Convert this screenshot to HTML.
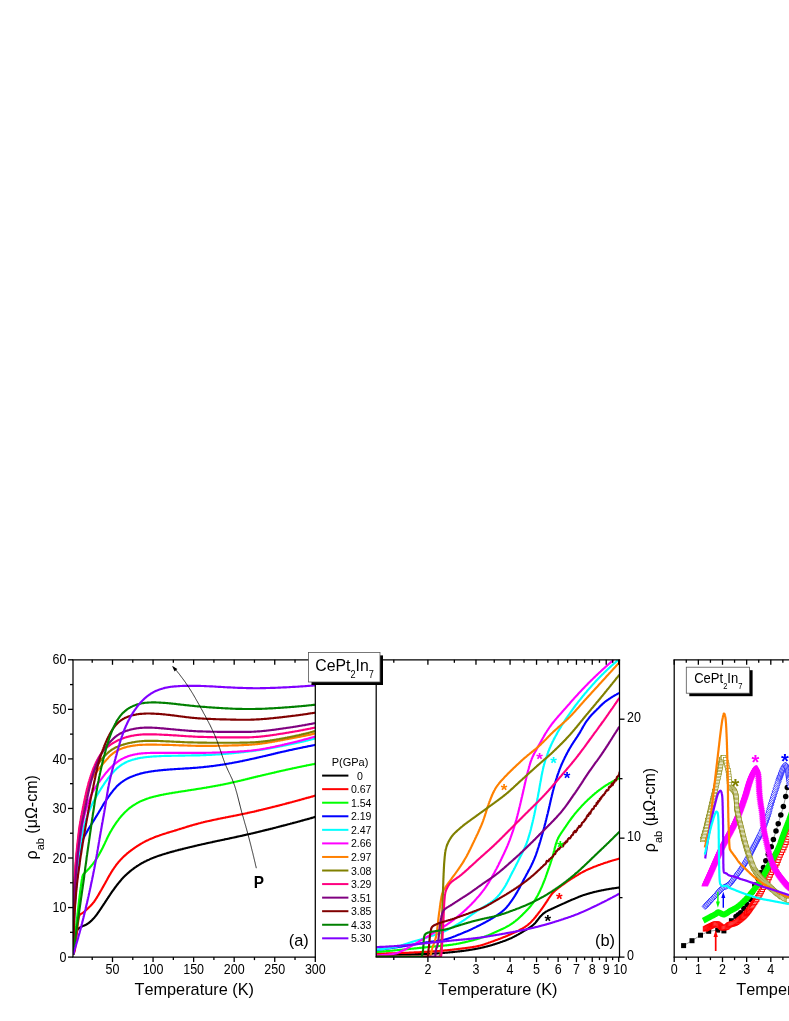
<!DOCTYPE html>
<html><head><meta charset="utf-8"><title>CePt2In7 resistivity</title>
<style>html,body{margin:0;padding:0;background:#fff;}svg{display:block;will-change:transform;}text{font-kerning:none;font-feature-settings:"kern" 0,"liga" 0;}</style></head>
<body>
<svg width="789" height="1021" viewBox="0 0 789 1021" font-family='"Liberation Sans", sans-serif'>
<rect x="0" y="0" width="789" height="1021" fill="#fff"/>
<defs><clipPath id="ca"><rect x="73" y="659.8" width="242.3" height="297.30000000000007"/></clipPath><clipPath id="cb"><rect x="376.2" y="659.8" width="243.3" height="297.30000000000007"/></clipPath><clipPath id="cc"><rect x="674.2" y="659.8" width="114.79999999999995" height="297.30000000000007"/></clipPath></defs>
<g clip-path="url(#ca)">
<path d="M73.2,954.5 L73.3,953.8 L73.5,953.2 L73.7,952.5 L73.8,951.8 L74.0,951.1 L74.1,950.4 L74.2,949.7 L74.3,949.0 L74.4,948.3 L74.5,947.6 L74.6,946.9 L74.7,946.2 L74.7,945.5 L74.8,944.8 L74.9,944.1 L75.0,943.4 L75.0,942.7 L75.1,942.0 L75.2,941.3 L75.3,940.6 L75.3,939.9 L75.4,939.2 L75.5,938.5 L75.6,937.8 L75.7,937.2 L75.8,936.5 L76.0,935.8 L76.1,935.1 L76.2,934.4 L76.4,933.6 L76.5,932.9 L76.7,932.2 L76.9,931.5 L77.1,930.8 L77.4,930.2 L77.6,929.7 L78.0,929.2 L78.4,928.7 L79.0,928.2 L79.6,927.8 L80.2,927.4 L80.9,927.0 L81.5,926.7 L82.1,926.4 L82.8,926.1 L83.4,925.8 L84.1,925.6 L84.8,925.3 L85.4,925.0 L86.0,924.7 L86.6,924.4 L87.2,924.0 L87.8,923.6 L88.4,923.2 L88.9,922.8 L89.5,922.3 L90.0,921.9 L90.5,921.4 L91.1,921.0 L91.6,920.5 L92.1,920.0 L92.5,919.5 L93.0,919.0 L93.5,918.5 L94.0,917.9 L94.5,917.4 L94.9,916.9 L95.4,916.3 L95.8,915.8 L96.2,915.2 L96.7,914.7 L97.1,914.1 L97.5,913.5 L97.9,913.0 L98.3,912.4 L98.7,911.8 L99.1,911.2 L99.5,910.7 L99.9,910.1 L100.3,909.5 L100.7,908.9 L101.1,908.3 L101.5,907.7 L101.8,907.2 L102.2,906.6 L102.6,906.0 L103.0,905.4 L103.4,904.8 L103.8,904.2 L104.2,903.6 L104.6,903.1 L104.9,902.5 L105.3,901.9 L105.7,901.3 L106.1,900.7 L106.5,900.1 L106.9,899.5 L107.2,898.9 L107.6,898.4 L108.0,897.8 L108.4,897.2 L108.8,896.6 L109.2,896.0 L109.6,895.4 L110.0,894.8 L110.3,894.3 L110.7,893.7 L111.1,893.1 L111.5,892.5 L111.9,892.0 L112.3,891.4 L112.7,890.8 L113.1,890.2 L113.6,889.7 L114.0,889.1 L114.4,888.5 L114.8,888.0 L115.2,887.4 L115.6,886.8 L116.1,886.2 L116.5,885.7 L116.9,885.1 L117.4,884.5 L117.8,884.0 L118.3,883.4 L118.7,882.9 L119.2,882.3 L119.6,881.8 L120.1,881.2 L120.5,880.7 L121.0,880.2 L121.4,879.6 L121.9,879.1 L122.4,878.6 L122.8,878.1 L123.3,877.6 L123.8,877.1 L124.3,876.6 L124.8,876.1 L125.2,875.6 L125.7,875.2 L126.2,874.7 L126.7,874.2 L127.2,873.8 L127.7,873.3 L128.3,872.8 L128.8,872.4 L129.3,871.9 L129.9,871.5 L130.4,871.0 L131.0,870.6 L131.5,870.1 L132.1,869.7 L132.6,869.3 L133.2,868.9 L133.8,868.4 L134.4,868.0 L134.9,867.6 L135.5,867.2 L136.1,866.8 L136.6,866.4 L137.2,866.0 L137.8,865.7 L138.4,865.3 L139.0,864.9 L139.6,864.6 L140.1,864.2 L140.7,863.8 L141.3,863.5 L141.9,863.1 L142.6,862.8 L143.2,862.5 L143.8,862.1 L144.4,861.8 L145.0,861.5 L145.7,861.2 L146.3,860.9 L146.9,860.5 L147.6,860.2 L148.2,859.9 L148.8,859.7 L149.5,859.4 L150.1,859.1 L150.8,858.8 L151.4,858.5 L152.1,858.3 L152.7,858.0 L153.4,857.8 L154.0,857.5 L154.7,857.3 L155.3,857.0 L156.0,856.8 L156.6,856.5 L157.3,856.3 L157.9,856.1 L158.6,855.8 L159.3,855.6 L159.9,855.4 L160.6,855.2 L161.3,854.9 L161.9,854.7 L162.6,854.5 L163.3,854.3 L164.0,854.1 L164.6,853.9 L165.3,853.7 L166.0,853.5 L166.6,853.3 L167.3,853.1 L168.0,852.9 L168.7,852.7 L169.3,852.5 L170.0,852.3 L170.7,852.1 L171.4,851.9 L172.0,851.8 L172.7,851.6 L173.4,851.4 L174.1,851.2 L174.8,851.0 L175.4,850.8 L176.1,850.6 L176.8,850.5 L177.5,850.3 L178.1,850.1 L178.8,849.9 L179.5,849.8 L180.2,849.6 L180.9,849.4 L181.5,849.2 L182.2,849.1 L182.9,848.9 L183.6,848.7 L184.3,848.5 L184.9,848.4 L185.6,848.2 L186.3,848.0 L187.0,847.9 L187.7,847.7 L188.4,847.5 L189.0,847.4 L189.7,847.2 L190.4,847.0 L191.1,846.9 L191.8,846.7 L192.5,846.6 L193.1,846.4 L193.8,846.2 L194.5,846.1 L195.2,845.9 L195.9,845.8 L196.6,845.6 L197.2,845.4 L197.9,845.3 L198.6,845.1 L199.3,845.0 L200.0,844.8 L200.7,844.7 L201.3,844.5 L202.0,844.3 L202.7,844.2 L203.4,844.0 L204.1,843.9 L204.8,843.7 L205.5,843.6 L206.1,843.4 L206.8,843.3 L207.5,843.1 L208.2,843.0 L208.9,842.8 L209.6,842.7 L210.3,842.5 L210.9,842.4 L211.6,842.2 L212.3,842.1 L213.0,841.9 L213.7,841.8 L214.4,841.6 L215.1,841.5 L215.7,841.3 L216.4,841.2 L217.1,841.0 L217.8,840.9 L218.5,840.8 L219.2,840.6 L219.9,840.5 L220.6,840.3 L221.2,840.2 L221.9,840.0 L222.6,839.9 L223.3,839.7 L224.0,839.6 L224.7,839.4 L225.4,839.3 L226.1,839.1 L226.7,839.0 L227.4,838.9 L228.1,838.7 L228.8,838.6 L229.5,838.4 L230.2,838.3 L230.9,838.1 L231.6,838.0 L232.2,837.8 L232.9,837.7 L233.6,837.5 L234.3,837.4 L235.0,837.2 L235.7,837.1 L236.4,836.9 L237.0,836.8 L237.7,836.6 L238.4,836.5 L239.1,836.3 L239.8,836.2 L240.5,836.0 L241.2,835.9 L241.8,835.7 L242.5,835.6 L243.2,835.4 L243.9,835.3 L244.6,835.1 L245.3,835.0 L245.9,834.8 L246.6,834.6 L247.3,834.5 L248.0,834.3 L248.7,834.2 L249.4,834.0 L250.1,833.9 L250.7,833.7 L251.4,833.5 L252.1,833.4 L252.8,833.2 L253.5,833.1 L254.1,832.9 L254.8,832.7 L255.5,832.6 L256.2,832.4 L256.9,832.2 L257.6,832.1 L258.2,831.9 L258.9,831.7 L259.6,831.6 L260.3,831.4 L261.0,831.3 L261.7,831.1 L262.3,830.9 L263.0,830.8 L263.7,830.6 L264.4,830.4 L265.1,830.3 L265.7,830.1 L266.4,829.9 L267.1,829.7 L267.8,829.6 L268.5,829.4 L269.2,829.2 L269.8,829.1 L270.5,828.9 L271.2,828.7 L271.9,828.6 L272.6,828.4 L273.2,828.2 L273.9,828.0 L274.6,827.9 L275.3,827.7 L276.0,827.5 L276.6,827.3 L277.3,827.2 L278.0,827.0 L278.7,826.8 L279.4,826.6 L280.0,826.5 L280.7,826.3 L281.4,826.1 L282.1,825.9 L282.8,825.8 L283.4,825.6 L284.1,825.4 L284.8,825.2 L285.5,825.1 L286.1,824.9 L286.8,824.7 L287.5,824.5 L288.2,824.3 L288.8,824.2 L289.5,824.0 L290.2,823.8 L290.8,823.6 L291.5,823.5 L292.2,823.3 L292.8,823.1 L293.5,822.9 L294.1,822.8 L294.8,822.6 L295.4,822.4 L296.0,822.2 L296.7,822.1 L297.3,821.9 L297.9,821.7 L298.6,821.5 L299.3,821.4 L300.0,821.2 L300.7,821.0 L301.4,820.8 L302.1,820.6 L302.8,820.4 L303.5,820.2 L304.2,820.0 L304.9,819.8 L305.6,819.6 L306.3,819.5 L307.0,819.3 L307.7,819.1 L308.4,818.9 L309.1,818.7 L309.8,818.5 L310.5,818.3 L311.2,818.1 L311.9,817.9 L312.6,817.7 L313.2,817.5 L313.9,817.3 L314.6,817.1 L315.3,816.9" fill="none" stroke="#000000" stroke-width="2.15" stroke-linejoin="round" stroke-linecap="butt" />
<path d="M73.2,954.5 L73.5,953.9 L73.8,953.3 L74.1,952.6 L74.4,952.0 L74.6,951.3 L74.8,950.6 L74.9,950.0 L75.0,949.3 L75.1,948.6 L75.2,947.9 L75.3,947.2 L75.4,946.5 L75.5,945.8 L75.6,945.1 L75.7,944.4 L75.7,943.7 L75.8,943.0 L75.9,942.3 L75.9,941.6 L76.0,940.9 L76.1,940.2 L76.1,939.5 L76.2,938.8 L76.3,938.1 L76.4,937.4 L76.4,936.7 L76.5,936.0 L76.6,935.3 L76.7,934.6 L76.7,933.9 L76.8,933.2 L76.9,932.5 L77.0,931.8 L77.0,931.1 L77.1,930.4 L77.2,929.7 L77.2,929.0 L77.3,928.3 L77.4,927.6 L77.5,926.9 L77.5,926.2 L77.6,925.5 L77.7,924.8 L77.8,924.1 L77.9,923.4 L78.0,922.7 L78.1,922.0 L78.2,921.3 L78.3,920.6 L78.4,919.9 L78.5,919.2 L78.6,918.5 L78.8,917.7 L78.9,917.0 L79.1,916.3 L79.3,915.7 L79.5,915.2 L79.9,914.7 L80.4,914.3 L81.0,913.9 L81.7,913.5 L82.4,913.1 L83.0,912.7 L83.6,912.3 L84.1,911.8 L84.7,911.4 L85.2,910.9 L85.7,910.4 L86.2,909.9 L86.7,909.4 L87.3,909.0 L87.8,908.5 L88.3,908.0 L88.8,907.5 L89.3,907.0 L89.9,906.5 L90.4,906.0 L90.8,905.5 L91.3,905.0 L91.8,904.5 L92.2,904.0 L92.7,903.5 L93.1,902.9 L93.5,902.4 L94.0,901.9 L94.4,901.3 L94.8,900.7 L95.2,900.2 L95.5,899.6 L95.9,899.0 L96.3,898.4 L96.7,897.8 L97.1,897.2 L97.4,896.6 L97.8,896.0 L98.2,895.4 L98.5,894.8 L98.9,894.2 L99.2,893.6 L99.6,892.9 L99.9,892.3 L100.3,891.7 L100.6,891.1 L101.0,890.5 L101.4,889.8 L101.7,889.2 L102.1,888.6 L102.4,888.0 L102.8,887.4 L103.1,886.8 L103.4,886.2 L103.8,885.6 L104.1,884.9 L104.5,884.3 L104.8,883.7 L105.2,883.1 L105.5,882.5 L105.8,881.9 L106.2,881.2 L106.5,880.6 L106.9,880.0 L107.2,879.4 L107.5,878.8 L107.9,878.2 L108.2,877.5 L108.6,876.9 L108.9,876.3 L109.3,875.7 L109.6,875.1 L110.0,874.5 L110.3,873.9 L110.7,873.3 L111.0,872.7 L111.4,872.1 L111.8,871.5 L112.2,870.9 L112.5,870.3 L112.9,869.7 L113.3,869.2 L113.7,868.6 L114.1,868.0 L114.5,867.4 L114.9,866.8 L115.3,866.3 L115.7,865.7 L116.1,865.1 L116.6,864.6 L117.0,864.0 L117.4,863.4 L117.9,862.9 L118.3,862.3 L118.8,861.8 L119.2,861.3 L119.7,860.7 L120.2,860.2 L120.6,859.7 L121.1,859.2 L121.6,858.7 L122.1,858.2 L122.5,857.7 L123.0,857.2 L123.5,856.8 L124.0,856.3 L124.5,855.8 L125.1,855.3 L125.6,854.9 L126.1,854.4 L126.6,853.9 L127.2,853.5 L127.7,853.0 L128.3,852.6 L128.8,852.2 L129.4,851.7 L129.9,851.3 L130.5,850.9 L131.0,850.4 L131.6,850.0 L132.2,849.6 L132.7,849.2 L133.3,848.8 L133.9,848.4 L134.5,848.0 L135.0,847.6 L135.6,847.2 L136.2,846.8 L136.8,846.4 L137.4,846.0 L138.0,845.6 L138.6,845.3 L139.2,844.9 L139.8,844.5 L140.4,844.1 L141.0,843.8 L141.6,843.4 L142.2,843.1 L142.8,842.7 L143.4,842.4 L144.0,842.1 L144.6,841.7 L145.2,841.4 L145.9,841.1 L146.5,840.8 L147.1,840.5 L147.7,840.2 L148.4,839.9 L149.0,839.6 L149.6,839.3 L150.3,839.0 L150.9,838.7 L151.6,838.4 L152.2,838.2 L152.9,837.9 L153.5,837.7 L154.1,837.4 L154.8,837.1 L155.4,836.9 L156.1,836.6 L156.7,836.4 L157.4,836.2 L158.1,835.9 L158.7,835.7 L159.4,835.5 L160.0,835.2 L160.7,835.0 L161.4,834.8 L162.0,834.6 L162.7,834.3 L163.4,834.1 L164.0,833.9 L164.7,833.7 L165.4,833.5 L166.1,833.3 L166.7,833.1 L167.4,832.8 L168.1,832.6 L168.8,832.4 L169.4,832.2 L170.1,832.0 L170.8,831.8 L171.5,831.6 L172.1,831.4 L172.8,831.2 L173.5,831.0 L174.2,830.8 L174.8,830.6 L175.5,830.4 L176.2,830.2 L176.9,829.9 L177.5,829.7 L178.2,829.5 L178.9,829.3 L179.5,829.1 L180.2,828.9 L180.9,828.7 L181.6,828.5 L182.2,828.3 L182.9,828.1 L183.6,827.9 L184.3,827.7 L184.9,827.5 L185.6,827.3 L186.3,827.0 L186.9,826.8 L187.6,826.6 L188.3,826.4 L189.0,826.2 L189.6,826.0 L190.3,825.8 L191.0,825.6 L191.7,825.4 L192.3,825.2 L193.0,825.0 L193.7,824.8 L194.4,824.6 L195.0,824.5 L195.7,824.3 L196.4,824.1 L197.1,823.9 L197.7,823.7 L198.4,823.5 L199.1,823.3 L199.8,823.2 L200.5,823.0 L201.1,822.8 L201.8,822.6 L202.5,822.5 L203.2,822.3 L203.8,822.1 L204.5,822.0 L205.2,821.8 L205.9,821.6 L206.6,821.5 L207.2,821.3 L207.9,821.2 L208.6,821.0 L209.3,820.9 L210.0,820.7 L210.7,820.6 L211.4,820.4 L212.0,820.2 L212.7,820.1 L213.4,820.0 L214.1,819.8 L214.8,819.7 L215.5,819.5 L216.2,819.4 L216.9,819.2 L217.5,819.1 L218.2,818.9 L218.9,818.8 L219.6,818.7 L220.3,818.5 L221.0,818.4 L221.7,818.3 L222.4,818.1 L223.1,818.0 L223.8,817.8 L224.4,817.7 L225.1,817.6 L225.8,817.4 L226.5,817.3 L227.2,817.2 L227.9,817.0 L228.6,816.9 L229.3,816.8 L230.0,816.6 L230.7,816.5 L231.4,816.3 L232.1,816.2 L232.7,816.1 L233.4,815.9 L234.1,815.8 L234.8,815.7 L235.5,815.5 L236.2,815.4 L236.9,815.2 L237.6,815.1 L238.3,815.0 L239.0,814.8 L239.7,814.7 L240.3,814.5 L241.0,814.4 L241.7,814.3 L242.4,814.1 L243.1,814.0 L243.8,813.8 L244.5,813.7 L245.2,813.5 L245.8,813.4 L246.5,813.2 L247.2,813.1 L247.9,812.9 L248.6,812.8 L249.3,812.6 L250.0,812.5 L250.6,812.3 L251.3,812.2 L252.0,812.0 L252.7,811.9 L253.4,811.7 L254.1,811.6 L254.8,811.4 L255.4,811.2 L256.1,811.1 L256.8,810.9 L257.5,810.8 L258.2,810.6 L258.9,810.4 L259.5,810.3 L260.2,810.1 L260.9,810.0 L261.6,809.8 L262.3,809.6 L263.0,809.5 L263.6,809.3 L264.3,809.1 L265.0,809.0 L265.7,808.8 L266.4,808.6 L267.1,808.5 L267.7,808.3 L268.4,808.1 L269.1,808.0 L269.8,807.8 L270.5,807.6 L271.1,807.5 L271.8,807.3 L272.5,807.1 L273.2,806.9 L273.9,806.8 L274.6,806.6 L275.2,806.4 L275.9,806.3 L276.6,806.1 L277.3,805.9 L278.0,805.7 L278.6,805.6 L279.3,805.4 L280.0,805.2 L280.7,805.0 L281.4,804.9 L282.0,804.7 L282.7,804.5 L283.4,804.3 L284.1,804.2 L284.8,804.0 L285.4,803.8 L286.1,803.6 L286.8,803.4 L287.5,803.3 L288.1,803.1 L288.8,802.9 L289.5,802.7 L290.2,802.5 L290.8,802.4 L291.5,802.2 L292.2,802.0 L292.8,801.8 L293.5,801.7 L294.1,801.5 L294.8,801.3 L295.4,801.1 L296.0,801.0 L296.7,800.8 L297.3,800.6 L297.9,800.5 L298.6,800.3 L299.3,800.1 L300.0,799.9 L300.7,799.7 L301.4,799.5 L302.1,799.3 L302.8,799.1 L303.5,798.9 L304.2,798.7 L304.9,798.5 L305.6,798.3 L306.3,798.1 L307.0,797.9 L307.7,797.8 L308.4,797.6 L309.1,797.4 L309.8,797.2 L310.5,797.0 L311.2,796.8 L311.9,796.6 L312.6,796.4 L313.2,796.2 L313.9,796.0 L314.6,795.8 L315.3,795.6" fill="none" stroke="#ff0000" stroke-width="2.15" stroke-linejoin="round" stroke-linecap="butt" />
<path d="M73.2,954.5 L73.2,953.8 L73.3,953.1 L73.4,952.4 L73.4,951.7 L73.5,951.0 L73.6,950.3 L73.6,949.6 L73.7,948.9 L73.8,948.2 L73.9,947.5 L73.9,946.8 L74.0,946.1 L74.1,945.4 L74.1,944.7 L74.2,944.0 L74.3,943.3 L74.4,942.6 L74.4,941.9 L74.5,941.2 L74.6,940.5 L74.7,939.9 L74.7,939.2 L74.8,938.5 L74.9,937.8 L75.0,937.1 L75.0,936.4 L75.1,935.7 L75.2,935.0 L75.3,934.3 L75.3,933.6 L75.4,932.9 L75.5,932.2 L75.6,931.5 L75.6,930.8 L75.7,930.1 L75.8,929.4 L75.9,928.7 L75.9,928.0 L76.0,927.3 L76.1,926.6 L76.2,925.9 L76.3,925.2 L76.3,924.5 L76.4,923.8 L76.5,923.1 L76.6,922.4 L76.6,921.7 L76.7,921.0 L76.8,920.3 L76.9,919.6 L77.0,918.9 L77.0,918.2 L77.1,917.5 L77.2,916.8 L77.3,916.1 L77.4,915.4 L77.5,914.7 L77.5,914.0 L77.6,913.3 L77.7,912.6 L77.8,911.9 L77.9,911.3 L77.9,910.6 L78.0,909.9 L78.1,909.2 L78.2,908.5 L78.3,907.8 L78.3,907.1 L78.4,906.4 L78.5,905.7 L78.6,905.0 L78.6,904.3 L78.7,903.6 L78.8,902.9 L78.9,902.2 L79.0,901.5 L79.0,900.8 L79.1,900.1 L79.2,899.4 L79.3,898.7 L79.4,898.0 L79.5,897.3 L79.5,896.6 L79.6,895.9 L79.7,895.2 L79.8,894.5 L79.9,893.8 L80.0,893.1 L80.1,892.4 L80.1,891.7 L80.2,891.0 L80.3,890.3 L80.4,889.6 L80.5,888.9 L80.6,888.2 L80.7,887.5 L80.8,886.9 L80.9,886.2 L81.0,885.5 L81.1,884.8 L81.2,884.1 L81.3,883.4 L81.4,882.7 L81.5,882.0 L81.6,881.3 L81.7,880.6 L81.8,879.9 L81.9,879.2 L82.1,878.5 L82.2,877.8 L82.3,877.1 L82.5,876.4 L82.7,875.8 L82.9,875.2 L83.2,874.6 L83.7,874.1 L84.1,873.6 L84.7,873.0 L85.2,872.5 L85.7,872.0 L86.2,871.5 L86.7,870.9 L87.2,870.4 L87.7,869.9 L88.1,869.4 L88.6,868.9 L89.1,868.4 L89.6,867.9 L90.0,867.3 L90.5,866.8 L90.9,866.3 L91.4,865.7 L91.8,865.2 L92.3,864.6 L92.7,864.1 L93.1,863.5 L93.6,863.0 L94.0,862.4 L94.4,861.8 L94.8,861.3 L95.2,860.7 L95.6,860.1 L96.0,859.5 L96.4,858.9 L96.7,858.4 L97.1,857.8 L97.5,857.2 L97.8,856.6 L98.2,856.0 L98.6,855.4 L98.9,854.8 L99.3,854.1 L99.6,853.5 L100.0,852.9 L100.3,852.3 L100.6,851.7 L101.0,851.1 L101.3,850.4 L101.6,849.8 L101.9,849.2 L102.3,848.6 L102.6,847.9 L102.9,847.3 L103.2,846.7 L103.5,846.1 L103.8,845.4 L104.1,844.8 L104.4,844.2 L104.7,843.5 L105.0,842.9 L105.3,842.2 L105.6,841.6 L105.9,841.0 L106.2,840.3 L106.5,839.7 L106.8,839.0 L107.1,838.4 L107.4,837.8 L107.7,837.1 L108.0,836.5 L108.3,835.9 L108.6,835.3 L109.0,834.7 L109.3,834.0 L109.6,833.4 L109.9,832.8 L110.3,832.2 L110.6,831.6 L111.0,831.0 L111.3,830.4 L111.7,829.8 L112.0,829.2 L112.4,828.6 L112.8,828.0 L113.2,827.4 L113.5,826.8 L113.9,826.2 L114.3,825.6 L114.7,825.0 L115.1,824.4 L115.5,823.8 L115.9,823.2 L116.3,822.6 L116.7,822.0 L117.1,821.5 L117.6,820.9 L118.0,820.3 L118.4,819.8 L118.8,819.2 L119.2,818.7 L119.7,818.1 L120.1,817.6 L120.5,817.1 L121.0,816.5 L121.4,816.0 L121.9,815.5 L122.3,815.0 L122.8,814.5 L123.3,814.0 L123.7,813.5 L124.2,813.0 L124.7,812.5 L125.2,812.0 L125.7,811.5 L126.3,811.0 L126.8,810.5 L127.3,810.0 L127.9,809.5 L128.4,809.1 L128.9,808.6 L129.5,808.2 L130.0,807.7 L130.6,807.3 L131.2,806.9 L131.7,806.5 L132.3,806.1 L132.9,805.7 L133.4,805.3 L134.0,805.0 L134.6,804.6 L135.1,804.3 L135.7,803.9 L136.3,803.6 L136.9,803.2 L137.5,802.9 L138.1,802.6 L138.7,802.3 L139.3,801.9 L139.9,801.6 L140.5,801.3 L141.2,801.0 L141.8,800.7 L142.5,800.5 L143.1,800.2 L143.8,799.9 L144.4,799.7 L145.1,799.4 L145.8,799.2 L146.4,798.9 L147.1,798.7 L147.7,798.5 L148.4,798.3 L149.0,798.1 L149.7,797.8 L150.4,797.6 L151.0,797.5 L151.7,797.3 L152.4,797.1 L153.0,796.9 L153.7,796.7 L154.4,796.5 L155.1,796.4 L155.8,796.2 L156.5,796.0 L157.1,795.9 L157.8,795.7 L158.5,795.6 L159.2,795.4 L159.9,795.3 L160.6,795.1 L161.3,795.0 L162.0,794.8 L162.6,794.7 L163.3,794.6 L164.0,794.4 L164.7,794.3 L165.4,794.2 L166.1,794.0 L166.8,793.9 L167.5,793.8 L168.2,793.7 L168.9,793.5 L169.5,793.4 L170.2,793.3 L170.9,793.2 L171.6,793.1 L172.3,792.9 L173.0,792.8 L173.7,792.7 L174.4,792.6 L175.1,792.5 L175.8,792.4 L176.5,792.3 L177.2,792.2 L177.9,792.1 L178.5,791.9 L179.2,791.8 L179.9,791.7 L180.6,791.6 L181.3,791.5 L182.0,791.4 L182.7,791.3 L183.4,791.2 L184.1,791.1 L184.8,791.0 L185.5,790.9 L186.2,790.8 L186.9,790.7 L187.6,790.5 L188.3,790.4 L189.0,790.3 L189.6,790.2 L190.3,790.1 L191.0,790.0 L191.7,789.9 L192.4,789.8 L193.1,789.7 L193.8,789.6 L194.5,789.5 L195.2,789.4 L195.9,789.3 L196.6,789.1 L197.3,789.0 L198.0,788.9 L198.7,788.8 L199.4,788.7 L200.0,788.6 L200.7,788.5 L201.4,788.4 L202.1,788.2 L202.8,788.1 L203.5,788.0 L204.2,787.9 L204.9,787.8 L205.6,787.7 L206.3,787.6 L207.0,787.4 L207.7,787.3 L208.4,787.2 L209.0,787.1 L209.7,787.0 L210.4,786.8 L211.1,786.7 L211.8,786.6 L212.5,786.5 L213.2,786.3 L213.9,786.2 L214.6,786.1 L215.3,786.0 L216.0,785.8 L216.7,785.7 L217.3,785.6 L218.0,785.5 L218.7,785.3 L219.4,785.2 L220.1,785.1 L220.8,784.9 L221.5,784.8 L222.2,784.7 L222.9,784.5 L223.5,784.4 L224.2,784.2 L224.9,784.1 L225.6,784.0 L226.3,783.8 L227.0,783.7 L227.7,783.5 L228.3,783.4 L229.0,783.2 L229.7,783.1 L230.4,782.9 L231.1,782.8 L231.8,782.6 L232.4,782.5 L233.1,782.3 L233.8,782.2 L234.5,782.0 L235.2,781.8 L235.9,781.7 L236.5,781.5 L237.2,781.4 L237.9,781.2 L238.6,781.0 L239.3,780.9 L240.0,780.7 L240.7,780.6 L241.3,780.4 L242.0,780.2 L242.7,780.1 L243.4,779.9 L244.1,779.7 L244.8,779.6 L245.4,779.4 L246.1,779.2 L246.8,779.1 L247.5,778.9 L248.2,778.7 L248.8,778.6 L249.5,778.4 L250.2,778.3 L250.9,778.1 L251.6,777.9 L252.3,777.8 L252.9,777.6 L253.6,777.4 L254.3,777.3 L255.0,777.1 L255.7,776.9 L256.4,776.8 L257.0,776.6 L257.7,776.4 L258.4,776.3 L259.1,776.1 L259.8,776.0 L260.5,775.8 L261.1,775.6 L261.8,775.5 L262.5,775.3 L263.2,775.1 L263.9,775.0 L264.5,774.8 L265.2,774.7 L265.9,774.5 L266.6,774.3 L267.3,774.2 L268.0,774.0 L268.6,773.8 L269.3,773.7 L270.0,773.5 L270.7,773.4 L271.4,773.2 L272.1,773.0 L272.7,772.9 L273.4,772.7 L274.1,772.6 L274.8,772.4 L275.5,772.2 L276.2,772.1 L276.8,771.9 L277.5,771.8 L278.2,771.6 L278.9,771.5 L279.6,771.3 L280.3,771.1 L281.0,771.0 L281.6,770.8 L282.3,770.7 L283.0,770.5 L283.7,770.4 L284.4,770.2 L285.1,770.1 L285.7,769.9 L286.4,769.8 L287.1,769.6 L287.8,769.5 L288.5,769.3 L289.1,769.2 L289.8,769.0 L290.5,768.9 L291.2,768.7 L291.8,768.6 L292.5,768.4 L293.1,768.3 L293.8,768.2 L294.5,768.0 L295.1,767.9 L295.7,767.7 L296.4,767.6 L297.0,767.5 L297.7,767.3 L298.4,767.2 L299.1,767.0 L299.8,766.9 L300.5,766.7 L301.2,766.6 L301.9,766.5 L302.6,766.3 L303.3,766.2 L304.0,766.0 L304.7,765.9 L305.4,765.7 L306.1,765.6 L306.8,765.4 L307.5,765.3 L308.3,765.2 L309.0,765.0 L309.7,764.9 L310.4,764.7 L311.1,764.6 L311.8,764.5 L312.5,764.3 L313.2,764.2 L313.9,764.1 L314.6,763.9 L315.3,763.8" fill="none" stroke="#00ff00" stroke-width="2.15" stroke-linejoin="round" stroke-linecap="butt" />
<path d="M73.2,954.5 L73.2,953.8 L73.2,953.1 L73.2,952.4 L73.2,951.7 L73.2,951.0 L73.2,950.3 L73.2,949.6 L73.2,948.9 L73.2,948.2 L73.2,947.5 L73.3,946.8 L73.3,946.1 L73.3,945.4 L73.3,944.7 L73.3,944.0 L73.3,943.3 L73.3,942.6 L73.4,941.9 L73.4,941.2 L73.4,940.5 L73.4,939.8 L73.4,939.1 L73.5,938.4 L73.5,937.7 L73.5,937.0 L73.5,936.3 L73.5,935.6 L73.6,934.9 L73.6,934.2 L73.6,933.5 L73.6,932.8 L73.6,932.1 L73.7,931.4 L73.7,930.7 L73.7,930.0 L73.7,929.3 L73.8,928.6 L73.8,927.9 L73.8,927.2 L73.8,926.5 L73.9,925.8 L73.9,925.1 L73.9,924.4 L73.9,923.7 L74.0,923.0 L74.0,922.3 L74.0,921.6 L74.0,920.9 L74.1,920.2 L74.1,919.5 L74.1,918.8 L74.2,918.1 L74.2,917.4 L74.2,916.7 L74.3,915.9 L74.3,915.2 L74.3,914.5 L74.4,913.8 L74.4,913.1 L74.4,912.4 L74.5,911.7 L74.5,911.0 L74.6,910.3 L74.6,909.6 L74.6,908.9 L74.7,908.2 L74.7,907.5 L74.8,906.8 L74.8,906.1 L74.9,905.4 L74.9,904.7 L75.0,904.0 L75.0,903.3 L75.1,902.6 L75.1,901.9 L75.2,901.2 L75.2,900.5 L75.3,899.8 L75.3,899.1 L75.4,898.4 L75.4,897.7 L75.5,897.0 L75.5,896.3 L75.6,895.6 L75.6,894.9 L75.7,894.2 L75.7,893.5 L75.8,892.8 L75.9,892.1 L75.9,891.4 L76.0,890.7 L76.0,890.0 L76.1,889.3 L76.1,888.6 L76.2,887.9 L76.3,887.3 L76.3,886.6 L76.4,885.9 L76.4,885.2 L76.5,884.5 L76.5,883.8 L76.6,883.1 L76.7,882.4 L76.7,881.7 L76.8,881.0 L76.9,880.3 L76.9,879.6 L77.0,878.9 L77.0,878.2 L77.1,877.5 L77.2,876.8 L77.2,876.1 L77.3,875.4 L77.4,874.7 L77.4,874.0 L77.5,873.3 L77.6,872.6 L77.7,871.9 L77.7,871.2 L77.8,870.5 L77.9,869.8 L78.0,869.1 L78.0,868.4 L78.1,867.7 L78.2,867.0 L78.3,866.3 L78.3,865.6 L78.4,864.9 L78.5,864.2 L78.6,863.5 L78.7,862.8 L78.8,862.1 L78.8,861.4 L78.9,860.7 L79.0,860.0 L79.1,859.3 L79.2,858.6 L79.3,857.9 L79.4,857.2 L79.5,856.5 L79.6,855.8 L79.7,855.2 L79.8,854.5 L79.9,853.8 L80.0,853.1 L80.1,852.4 L80.2,851.7 L80.3,851.0 L80.4,850.3 L80.5,849.6 L80.7,848.9 L80.8,848.2 L80.9,847.5 L81.0,846.8 L81.2,846.1 L81.3,845.4 L81.5,844.7 L81.6,844.1 L81.8,843.4 L82.0,842.7 L82.1,842.0 L82.3,841.4 L82.5,840.7 L82.7,840.1 L83.0,839.4 L83.2,838.8 L83.5,838.1 L83.8,837.5 L84.2,836.9 L84.5,836.2 L84.8,835.6 L85.2,835.0 L85.5,834.4 L85.8,833.7 L86.2,833.1 L86.5,832.5 L86.9,831.9 L87.2,831.3 L87.5,830.7 L87.9,830.1 L88.2,829.5 L88.6,828.9 L88.9,828.3 L89.3,827.7 L89.7,827.1 L90.0,826.5 L90.4,825.9 L90.8,825.3 L91.1,824.7 L91.5,824.1 L91.9,823.5 L92.3,822.9 L92.6,822.3 L93.0,821.7 L93.4,821.1 L93.8,820.5 L94.1,819.9 L94.5,819.3 L94.9,818.7 L95.2,818.1 L95.6,817.5 L96.0,816.9 L96.3,816.3 L96.7,815.7 L97.1,815.1 L97.4,814.5 L97.8,813.9 L98.2,813.3 L98.5,812.7 L98.9,812.1 L99.2,811.5 L99.6,810.9 L100.0,810.3 L100.3,809.7 L100.7,809.1 L101.0,808.5 L101.4,807.9 L101.8,807.2 L102.1,806.6 L102.5,806.0 L102.8,805.4 L103.2,804.8 L103.6,804.2 L103.9,803.6 L104.3,803.0 L104.7,802.4 L105.1,801.8 L105.5,801.3 L105.8,800.7 L106.2,800.1 L106.6,799.5 L107.0,798.9 L107.4,798.4 L107.8,797.8 L108.2,797.2 L108.6,796.7 L109.0,796.1 L109.4,795.6 L109.8,795.0 L110.2,794.4 L110.6,793.9 L111.0,793.3 L111.5,792.7 L111.9,792.2 L112.4,791.6 L112.8,791.0 L113.3,790.4 L113.7,789.9 L114.2,789.3 L114.7,788.8 L115.2,788.2 L115.7,787.7 L116.1,787.2 L116.6,786.6 L117.1,786.1 L117.6,785.6 L118.1,785.2 L118.6,784.7 L119.1,784.2 L119.6,783.8 L120.2,783.4 L120.7,782.9 L121.2,782.5 L121.7,782.1 L122.2,781.8 L122.8,781.4 L123.3,781.0 L123.9,780.6 L124.4,780.3 L125.0,779.9 L125.6,779.6 L126.2,779.2 L126.8,778.9 L127.5,778.5 L128.1,778.2 L128.7,777.9 L129.4,777.6 L130.0,777.3 L130.7,777.0 L131.3,776.7 L132.0,776.5 L132.6,776.2 L133.3,776.0 L133.9,775.7 L134.6,775.5 L135.2,775.3 L135.9,775.0 L136.5,774.8 L137.2,774.6 L137.8,774.4 L138.5,774.2 L139.2,774.0 L139.8,773.8 L140.5,773.6 L141.2,773.4 L141.9,773.3 L142.6,773.1 L143.2,772.9 L143.9,772.8 L144.6,772.6 L145.3,772.5 L146.0,772.3 L146.7,772.2 L147.4,772.1 L148.0,772.0 L148.7,771.8 L149.4,771.7 L150.1,771.6 L150.8,771.5 L151.5,771.4 L152.2,771.3 L152.9,771.2 L153.6,771.1 L154.3,771.0 L155.0,770.9 L155.7,770.8 L156.3,770.7 L157.0,770.7 L157.7,770.6 L158.4,770.5 L159.1,770.4 L159.8,770.3 L160.5,770.3 L161.2,770.2 L161.9,770.1 L162.6,770.1 L163.3,770.0 L164.0,769.9 L164.7,769.9 L165.4,769.8 L166.1,769.8 L166.8,769.7 L167.5,769.6 L168.2,769.6 L168.9,769.5 L169.6,769.5 L170.3,769.4 L171.0,769.4 L171.7,769.3 L172.4,769.3 L173.1,769.2 L173.8,769.2 L174.5,769.1 L175.2,769.1 L175.9,769.0 L176.6,769.0 L177.3,769.0 L178.0,768.9 L178.7,768.9 L179.4,768.8 L180.1,768.8 L180.8,768.7 L181.5,768.7 L182.2,768.7 L182.9,768.6 L183.6,768.6 L184.3,768.5 L185.0,768.5 L185.7,768.4 L186.4,768.4 L187.1,768.4 L187.8,768.3 L188.5,768.3 L189.2,768.2 L189.9,768.2 L190.6,768.1 L191.3,768.1 L192.0,768.0 L192.7,768.0 L193.4,767.9 L194.1,767.9 L194.8,767.8 L195.5,767.8 L196.2,767.7 L196.9,767.7 L197.6,767.6 L198.3,767.5 L199.0,767.5 L199.7,767.4 L200.4,767.3 L201.1,767.3 L201.8,767.2 L202.5,767.2 L203.2,767.1 L203.9,767.0 L204.6,766.9 L205.3,766.9 L206.0,766.8 L206.7,766.7 L207.4,766.6 L208.1,766.6 L208.8,766.5 L209.5,766.4 L210.2,766.3 L210.9,766.2 L211.6,766.1 L212.3,766.1 L213.0,766.0 L213.7,765.9 L214.3,765.8 L215.0,765.7 L215.7,765.6 L216.4,765.5 L217.1,765.4 L217.8,765.3 L218.5,765.2 L219.2,765.1 L219.9,765.0 L220.6,764.9 L221.3,764.8 L222.0,764.7 L222.7,764.6 L223.4,764.5 L224.1,764.4 L224.8,764.2 L225.4,764.1 L226.1,764.0 L226.8,763.9 L227.5,763.8 L228.2,763.7 L228.9,763.5 L229.6,763.4 L230.3,763.3 L231.0,763.2 L231.7,763.1 L232.3,762.9 L233.0,762.8 L233.7,762.7 L234.4,762.5 L235.1,762.4 L235.8,762.3 L236.5,762.2 L237.2,762.0 L237.9,761.9 L238.6,761.7 L239.2,761.6 L239.9,761.5 L240.6,761.3 L241.3,761.2 L242.0,761.1 L242.7,760.9 L243.4,760.8 L244.1,760.6 L244.7,760.5 L245.4,760.3 L246.1,760.2 L246.8,760.0 L247.5,759.9 L248.2,759.7 L248.9,759.6 L249.5,759.4 L250.2,759.3 L250.9,759.1 L251.6,759.0 L252.3,758.8 L253.0,758.7 L253.7,758.5 L254.3,758.4 L255.0,758.2 L255.7,758.1 L256.4,757.9 L257.1,757.8 L257.8,757.6 L258.4,757.5 L259.1,757.3 L259.8,757.1 L260.5,757.0 L261.2,756.8 L261.9,756.7 L262.5,756.5 L263.2,756.3 L263.9,756.2 L264.6,756.0 L265.3,755.9 L266.0,755.7 L266.6,755.5 L267.3,755.4 L268.0,755.2 L268.7,755.0 L269.4,754.9 L270.1,754.7 L270.7,754.6 L271.4,754.4 L272.1,754.2 L272.8,754.1 L273.5,753.9 L274.2,753.7 L274.8,753.6 L275.5,753.4 L276.2,753.3 L276.9,753.1 L277.6,752.9 L278.2,752.8 L278.9,752.6 L279.6,752.5 L280.3,752.3 L281.0,752.1 L281.7,752.0 L282.3,751.8 L283.0,751.7 L283.7,751.5 L284.4,751.4 L285.1,751.2 L285.8,751.1 L286.4,750.9 L287.1,750.7 L287.8,750.6 L288.5,750.4 L289.2,750.3 L289.8,750.1 L290.5,750.0 L291.2,749.9 L291.8,749.7 L292.5,749.6 L293.2,749.4 L293.8,749.3 L294.5,749.1 L295.1,749.0 L295.7,748.9 L296.4,748.7 L297.0,748.6 L297.7,748.5 L298.4,748.3 L299.1,748.2 L299.8,748.0 L300.5,747.9 L301.2,747.7 L301.9,747.6 L302.6,747.4 L303.3,747.3 L304.0,747.1 L304.7,747.0 L305.4,746.9 L306.1,746.7 L306.8,746.6 L307.6,746.4 L308.3,746.3 L309.0,746.1 L309.7,746.0 L310.4,745.9 L311.1,745.7 L311.8,745.6 L312.5,745.5 L313.2,745.3 L313.9,745.2 L314.6,745.0 L315.3,744.9" fill="none" stroke="#0000ff" stroke-width="2.15" stroke-linejoin="round" stroke-linecap="butt" />
<path d="M73.2,954.5 L73.2,953.8 L73.2,953.1 L73.2,952.4 L73.2,951.7 L73.2,951.0 L73.2,950.3 L73.2,949.6 L73.2,948.9 L73.2,948.2 L73.2,947.5 L73.2,946.8 L73.2,946.1 L73.3,945.4 L73.3,944.7 L73.3,944.0 L73.3,943.3 L73.3,942.6 L73.3,941.9 L73.3,941.2 L73.3,940.5 L73.4,939.8 L73.4,939.1 L73.4,938.4 L73.4,937.7 L73.4,937.0 L73.4,936.3 L73.5,935.6 L73.5,934.9 L73.5,934.1 L73.5,933.4 L73.5,932.7 L73.6,932.0 L73.6,931.3 L73.6,930.6 L73.6,929.9 L73.6,929.2 L73.7,928.5 L73.7,927.8 L73.7,927.1 L73.7,926.4 L73.7,925.7 L73.8,925.0 L73.8,924.3 L73.8,923.6 L73.8,922.9 L73.8,922.2 L73.9,921.5 L73.9,920.8 L73.9,920.1 L73.9,919.4 L74.0,918.7 L74.0,918.0 L74.0,917.3 L74.0,916.6 L74.1,915.9 L74.1,915.2 L74.1,914.5 L74.1,913.8 L74.2,913.1 L74.2,912.4 L74.2,911.7 L74.3,911.0 L74.3,910.3 L74.3,909.6 L74.4,908.9 L74.4,908.2 L74.4,907.5 L74.5,906.8 L74.5,906.1 L74.5,905.4 L74.6,904.7 L74.6,904.0 L74.7,903.3 L74.7,902.6 L74.7,901.9 L74.8,901.2 L74.8,900.5 L74.9,899.8 L74.9,899.1 L74.9,898.4 L75.0,897.7 L75.0,897.0 L75.1,896.3 L75.1,895.6 L75.2,894.8 L75.2,894.1 L75.3,893.4 L75.3,892.7 L75.4,892.0 L75.4,891.3 L75.5,890.6 L75.5,889.9 L75.6,889.2 L75.6,888.5 L75.7,887.8 L75.7,887.1 L75.8,886.4 L75.8,885.7 L75.9,885.0 L75.9,884.3 L76.0,883.7 L76.0,883.0 L76.1,882.2 L76.1,881.5 L76.2,880.8 L76.3,880.1 L76.3,879.4 L76.4,878.7 L76.4,878.0 L76.5,877.3 L76.6,876.6 L76.6,875.9 L76.7,875.2 L76.7,874.5 L76.8,873.8 L76.9,873.1 L76.9,872.4 L77.0,871.7 L77.1,871.0 L77.2,870.3 L77.2,869.6 L77.3,868.9 L77.4,868.2 L77.4,867.5 L77.5,866.8 L77.6,866.1 L77.7,865.4 L77.7,864.7 L77.8,864.0 L77.9,863.3 L78.0,862.6 L78.1,861.9 L78.1,861.2 L78.2,860.5 L78.3,859.8 L78.4,859.1 L78.5,858.4 L78.6,857.7 L78.7,857.0 L78.8,856.3 L78.8,855.6 L78.9,854.9 L79.0,854.2 L79.1,853.5 L79.2,852.8 L79.3,852.1 L79.4,851.4 L79.5,850.7 L79.6,850.0 L79.7,849.3 L79.8,848.6 L79.9,847.9 L80.0,847.2 L80.1,846.5 L80.2,845.9 L80.3,845.2 L80.4,844.5 L80.6,843.8 L80.7,843.1 L80.8,842.4 L80.9,841.7 L81.0,841.0 L81.1,840.3 L81.2,839.6 L81.4,839.0 L81.5,838.3 L81.6,837.6 L81.7,836.9 L81.9,836.2 L82.0,835.5 L82.1,834.8 L82.2,834.2 L82.4,833.5 L82.5,832.8 L82.6,832.1 L82.8,831.4 L82.9,830.7 L83.1,830.1 L83.2,829.4 L83.4,828.7 L83.6,828.0 L83.7,827.3 L83.9,826.7 L84.1,826.0 L84.3,825.3 L84.5,824.6 L84.7,823.9 L84.9,823.3 L85.1,822.6 L85.3,821.9 L85.5,821.2 L85.8,820.6 L86.0,819.9 L86.2,819.2 L86.4,818.6 L86.7,817.9 L86.9,817.2 L87.1,816.6 L87.4,815.9 L87.6,815.2 L87.9,814.6 L88.1,813.9 L88.4,813.2 L88.6,812.6 L88.9,811.9 L89.1,811.3 L89.4,810.6 L89.7,810.0 L89.9,809.3 L90.2,808.7 L90.5,808.1 L90.7,807.4 L91.0,806.8 L91.3,806.2 L91.6,805.5 L91.9,804.9 L92.2,804.3 L92.5,803.6 L92.8,803.0 L93.1,802.4 L93.4,801.8 L93.7,801.1 L94.1,800.5 L94.4,799.9 L94.7,799.3 L95.1,798.6 L95.4,798.0 L95.8,797.4 L96.1,796.8 L96.5,796.2 L96.8,795.6 L97.2,794.9 L97.6,794.3 L97.9,793.7 L98.3,793.1 L98.7,792.5 L99.0,791.9 L99.4,791.3 L99.8,790.7 L100.2,790.1 L100.5,789.5 L100.9,788.9 L101.3,788.3 L101.7,787.7 L102.0,787.2 L102.4,786.6 L102.8,786.0 L103.2,785.4 L103.6,784.8 L103.9,784.3 L104.3,783.7 L104.7,783.1 L105.1,782.5 L105.5,781.9 L105.9,781.3 L106.4,780.7 L106.8,780.2 L107.2,779.6 L107.6,779.0 L108.0,778.4 L108.5,777.8 L108.9,777.3 L109.3,776.7 L109.8,776.1 L110.2,775.6 L110.7,775.0 L111.1,774.5 L111.6,773.9 L112.0,773.4 L112.5,772.9 L113.0,772.4 L113.4,771.9 L113.9,771.4 L114.4,770.9 L114.8,770.4 L115.3,770.0 L115.8,769.5 L116.3,769.1 L116.8,768.6 L117.3,768.1 L117.9,767.7 L118.4,767.2 L119.0,766.8 L119.5,766.3 L120.1,765.9 L120.7,765.5 L121.3,765.0 L121.9,764.6 L122.5,764.2 L123.1,763.9 L123.7,763.5 L124.3,763.2 L125.0,762.8 L125.6,762.5 L126.2,762.2 L126.8,761.9 L127.4,761.6 L128.0,761.4 L128.6,761.1 L129.2,760.9 L129.8,760.7 L130.5,760.5 L131.1,760.2 L131.8,760.0 L132.4,759.8 L133.1,759.6 L133.8,759.5 L134.5,759.3 L135.1,759.1 L135.8,758.9 L136.5,758.7 L137.2,758.6 L137.9,758.4 L138.6,758.3 L139.3,758.1 L139.9,758.0 L140.6,757.9 L141.3,757.8 L142.0,757.7 L142.7,757.6 L143.4,757.5 L144.0,757.4 L144.7,757.3 L145.4,757.2 L146.1,757.1 L146.8,757.0 L147.5,757.0 L148.2,756.9 L148.9,756.8 L149.6,756.8 L150.3,756.7 L151.0,756.6 L151.7,756.6 L152.4,756.5 L153.1,756.5 L153.8,756.4 L154.5,756.4 L155.2,756.3 L155.9,756.3 L156.6,756.3 L157.3,756.2 L158.0,756.2 L158.7,756.2 L159.4,756.1 L160.1,756.1 L160.9,756.1 L161.6,756.0 L162.3,756.0 L163.0,756.0 L163.7,756.0 L164.4,755.9 L165.1,755.9 L165.8,755.9 L166.5,755.9 L167.2,755.9 L167.9,755.8 L168.6,755.8 L169.3,755.8 L170.0,755.8 L170.7,755.8 L171.4,755.8 L172.1,755.7 L172.8,755.7 L173.5,755.7 L174.2,755.7 L174.9,755.7 L175.6,755.7 L176.3,755.7 L177.0,755.7 L177.7,755.7 L178.4,755.6 L179.1,755.6 L179.8,755.6 L180.5,755.6 L181.2,755.6 L181.9,755.6 L182.6,755.6 L183.3,755.6 L184.0,755.6 L184.7,755.6 L185.4,755.5 L186.1,755.5 L186.8,755.5 L187.5,755.5 L188.2,755.5 L188.9,755.5 L189.6,755.5 L190.3,755.5 L191.0,755.5 L191.8,755.4 L192.5,755.4 L193.2,755.4 L193.9,755.4 L194.6,755.4 L195.3,755.4 L196.0,755.4 L196.7,755.3 L197.4,755.3 L198.1,755.3 L198.8,755.3 L199.5,755.3 L200.2,755.3 L200.9,755.2 L201.6,755.2 L202.3,755.2 L203.0,755.2 L203.7,755.1 L204.4,755.1 L205.1,755.1 L205.8,755.1 L206.5,755.0 L207.2,755.0 L207.9,755.0 L208.6,754.9 L209.3,754.9 L210.0,754.9 L210.7,754.8 L211.4,754.8 L212.1,754.8 L212.8,754.7 L213.5,754.7 L214.2,754.6 L214.9,754.6 L215.6,754.5 L216.3,754.5 L217.0,754.5 L217.7,754.4 L218.4,754.4 L219.1,754.3 L219.8,754.3 L220.5,754.2 L221.2,754.2 L221.9,754.1 L222.6,754.0 L223.3,754.0 L224.0,753.9 L224.7,753.9 L225.4,753.8 L226.1,753.8 L226.8,753.7 L227.5,753.6 L228.2,753.6 L228.9,753.5 L229.6,753.5 L230.3,753.4 L231.0,753.3 L231.7,753.3 L232.4,753.2 L233.1,753.1 L233.8,753.1 L234.5,753.0 L235.2,752.9 L235.9,752.9 L236.6,752.8 L237.3,752.7 L238.0,752.6 L238.7,752.6 L239.4,752.5 L240.1,752.4 L240.8,752.4 L241.5,752.3 L242.2,752.2 L242.9,752.1 L243.6,752.1 L244.3,752.0 L245.0,751.9 L245.7,751.8 L246.4,751.7 L247.1,751.7 L247.8,751.6 L248.5,751.5 L249.2,751.4 L249.9,751.3 L250.6,751.2 L251.3,751.2 L252.0,751.1 L252.6,751.0 L253.3,750.9 L254.0,750.8 L254.7,750.7 L255.4,750.6 L256.1,750.5 L256.8,750.4 L257.5,750.3 L258.2,750.2 L258.9,750.1 L259.6,750.0 L260.3,749.9 L261.0,749.8 L261.7,749.7 L262.4,749.6 L263.1,749.5 L263.8,749.4 L264.4,749.2 L265.1,749.1 L265.8,749.0 L266.5,748.9 L267.2,748.8 L267.9,748.7 L268.6,748.5 L269.3,748.4 L270.0,748.3 L270.7,748.2 L271.4,748.0 L272.1,747.9 L272.8,747.8 L273.5,747.7 L274.2,747.5 L274.8,747.4 L275.5,747.3 L276.2,747.1 L276.9,747.0 L277.6,746.9 L278.3,746.7 L279.0,746.6 L279.7,746.5 L280.4,746.3 L281.1,746.2 L281.7,746.1 L282.4,745.9 L283.1,745.8 L283.8,745.7 L284.5,745.5 L285.2,745.4 L285.9,745.2 L286.5,745.1 L287.2,745.0 L287.9,744.8 L288.6,744.7 L289.3,744.5 L289.9,744.4 L290.6,744.2 L291.3,744.1 L292.0,744.0 L292.6,743.8 L293.3,743.7 L293.9,743.5 L294.6,743.4 L295.2,743.2 L295.9,743.1 L296.5,743.0 L297.1,742.8 L297.8,742.7 L298.5,742.5 L299.2,742.4 L299.9,742.2 L300.6,742.0 L301.3,741.9 L302.0,741.7 L302.7,741.6 L303.4,741.4 L304.1,741.2 L304.8,741.1 L305.5,740.9 L306.2,740.7 L306.9,740.6 L307.6,740.4 L308.3,740.2 L309.0,740.0 L309.7,739.9 L310.4,739.7 L311.1,739.5 L311.8,739.3 L312.5,739.2 L313.2,739.0 L313.9,738.8 L314.6,738.6 L315.3,738.5" fill="none" stroke="#00ffff" stroke-width="2.15" stroke-linejoin="round" stroke-linecap="butt" />
<path d="M73.2,954.5 L73.2,953.8 L73.2,953.1 L73.2,952.4 L73.2,951.7 L73.2,951.0 L73.2,950.3 L73.2,949.6 L73.2,948.9 L73.2,948.2 L73.2,947.5 L73.2,946.8 L73.2,946.1 L73.2,945.4 L73.2,944.7 L73.2,944.0 L73.3,943.3 L73.3,942.6 L73.3,941.9 L73.3,941.2 L73.3,940.5 L73.3,939.8 L73.3,939.1 L73.3,938.4 L73.3,937.7 L73.4,937.0 L73.4,936.3 L73.4,935.6 L73.4,934.9 L73.4,934.2 L73.4,933.5 L73.4,932.8 L73.5,932.1 L73.5,931.4 L73.5,930.7 L73.5,930.0 L73.5,929.3 L73.5,928.6 L73.6,927.9 L73.6,927.2 L73.6,926.5 L73.6,925.8 L73.6,925.1 L73.6,924.4 L73.7,923.7 L73.7,923.0 L73.7,922.3 L73.7,921.6 L73.7,920.9 L73.7,920.2 L73.8,919.5 L73.8,918.8 L73.8,918.1 L73.8,917.3 L73.8,916.6 L73.9,915.9 L73.9,915.2 L73.9,914.5 L73.9,913.8 L74.0,913.1 L74.0,912.4 L74.0,911.7 L74.0,911.0 L74.1,910.3 L74.1,909.6 L74.1,908.9 L74.1,908.2 L74.2,907.5 L74.2,906.8 L74.2,906.1 L74.3,905.4 L74.3,904.7 L74.3,904.0 L74.4,903.3 L74.4,902.6 L74.4,901.9 L74.5,901.2 L74.5,900.5 L74.5,899.8 L74.6,899.1 L74.6,898.4 L74.6,897.7 L74.7,897.0 L74.7,896.3 L74.8,895.6 L74.8,894.9 L74.8,894.2 L74.9,893.5 L74.9,892.8 L74.9,892.1 L75.0,891.4 L75.0,890.7 L75.1,890.0 L75.1,889.3 L75.2,888.6 L75.2,887.9 L75.2,887.2 L75.3,886.5 L75.3,885.8 L75.4,885.1 L75.4,884.4 L75.5,883.7 L75.5,883.0 L75.6,882.3 L75.6,881.6 L75.6,880.9 L75.7,880.2 L75.7,879.5 L75.8,878.8 L75.8,878.1 L75.9,877.4 L75.9,876.7 L76.0,876.0 L76.1,875.3 L76.1,874.6 L76.2,873.9 L76.2,873.2 L76.3,872.5 L76.3,871.8 L76.4,871.1 L76.4,870.4 L76.5,869.7 L76.6,869.0 L76.6,868.3 L76.7,867.6 L76.8,866.9 L76.8,866.2 L76.9,865.5 L76.9,864.8 L77.0,864.1 L77.1,863.4 L77.1,862.7 L77.2,862.0 L77.3,861.3 L77.4,860.6 L77.4,859.9 L77.5,859.2 L77.6,858.5 L77.6,857.8 L77.7,857.1 L77.8,856.4 L77.9,855.7 L77.9,855.0 L78.0,854.3 L78.1,853.6 L78.2,852.9 L78.3,852.2 L78.3,851.5 L78.4,850.8 L78.5,850.1 L78.6,849.4 L78.7,848.7 L78.8,848.0 L78.8,847.3 L78.9,846.6 L79.0,845.9 L79.1,845.2 L79.2,844.6 L79.3,843.9 L79.4,843.2 L79.5,842.5 L79.6,841.8 L79.7,841.1 L79.8,840.4 L79.9,839.7 L79.9,839.0 L80.0,838.3 L80.1,837.6 L80.2,836.9 L80.3,836.2 L80.4,835.6 L80.6,834.9 L80.7,834.2 L80.8,833.5 L80.9,832.8 L81.0,832.1 L81.1,831.4 L81.2,830.7 L81.3,830.1 L81.4,829.4 L81.6,828.7 L81.7,828.0 L81.8,827.3 L81.9,826.6 L82.1,825.9 L82.2,825.2 L82.3,824.5 L82.5,823.8 L82.6,823.1 L82.8,822.4 L82.9,821.7 L83.1,821.0 L83.2,820.3 L83.4,819.6 L83.6,818.9 L83.7,818.3 L83.9,817.6 L84.1,816.9 L84.2,816.2 L84.4,815.5 L84.6,814.8 L84.8,814.1 L84.9,813.4 L85.1,812.7 L85.3,812.1 L85.5,811.4 L85.7,810.7 L85.9,810.0 L86.1,809.3 L86.3,808.7 L86.5,808.0 L86.7,807.3 L86.9,806.6 L87.1,806.0 L87.3,805.3 L87.6,804.6 L87.8,804.0 L88.0,803.3 L88.2,802.7 L88.5,802.0 L88.7,801.4 L88.9,800.7 L89.1,800.1 L89.4,799.4 L89.6,798.8 L89.9,798.1 L90.1,797.5 L90.4,796.9 L90.6,796.3 L90.9,795.6 L91.2,795.0 L91.5,794.4 L91.8,793.8 L92.1,793.2 L92.4,792.5 L92.7,791.9 L93.1,791.3 L93.4,790.7 L93.8,790.1 L94.1,789.5 L94.5,788.9 L94.9,788.3 L95.2,787.7 L95.6,787.1 L96.0,786.5 L96.4,785.9 L96.8,785.3 L97.2,784.7 L97.6,784.1 L98.0,783.5 L98.4,782.9 L98.9,782.3 L99.3,781.8 L99.7,781.2 L100.1,780.6 L100.5,780.0 L101.0,779.5 L101.4,778.9 L101.8,778.3 L102.2,777.8 L102.6,777.2 L103.1,776.7 L103.5,776.1 L103.9,775.6 L104.3,775.0 L104.8,774.5 L105.2,773.9 L105.6,773.4 L106.1,772.8 L106.6,772.3 L107.0,771.7 L107.5,771.2 L108.0,770.6 L108.4,770.1 L108.9,769.6 L109.4,769.0 L109.9,768.5 L110.4,768.0 L110.9,767.5 L111.4,767.0 L111.9,766.5 L112.4,766.0 L112.9,765.6 L113.4,765.1 L113.9,764.7 L114.4,764.2 L114.9,763.8 L115.5,763.4 L116.0,762.9 L116.5,762.5 L117.1,762.1 L117.6,761.7 L118.2,761.3 L118.8,760.9 L119.4,760.5 L120.0,760.1 L120.6,759.8 L121.2,759.4 L121.8,759.0 L122.5,758.7 L123.1,758.4 L123.7,758.1 L124.4,757.8 L125.0,757.5 L125.6,757.2 L126.3,756.9 L126.9,756.7 L127.5,756.4 L128.2,756.2 L128.8,756.0 L129.4,755.8 L130.1,755.6 L130.7,755.4 L131.4,755.2 L132.1,755.1 L132.7,754.9 L133.4,754.8 L134.1,754.6 L134.8,754.5 L135.5,754.3 L136.2,754.2 L136.9,754.1 L137.6,753.9 L138.3,753.8 L138.9,753.7 L139.6,753.6 L140.3,753.6 L141.0,753.5 L141.7,753.4 L142.4,753.3 L143.1,753.3 L143.7,753.2 L144.4,753.2 L145.1,753.1 L145.8,753.1 L146.5,753.1 L147.2,753.0 L147.9,753.0 L148.6,753.0 L149.3,753.0 L150.0,753.0 L150.7,752.9 L151.4,752.9 L152.1,752.9 L152.8,752.9 L153.5,752.9 L154.2,752.9 L154.9,752.9 L155.6,752.9 L156.3,752.9 L157.0,752.9 L157.7,752.9 L158.4,752.9 L159.1,752.9 L159.8,752.9 L160.6,752.9 L161.3,752.9 L162.0,752.9 L162.7,752.9 L163.4,752.9 L164.1,752.9 L164.8,752.9 L165.5,752.9 L166.2,752.9 L166.9,752.9 L167.6,752.9 L168.3,752.9 L169.0,752.9 L169.7,752.9 L170.4,752.9 L171.1,752.9 L171.8,752.9 L172.5,752.9 L173.2,752.9 L173.9,752.9 L174.6,752.9 L175.3,752.9 L176.0,752.9 L176.7,752.9 L177.4,752.9 L178.1,752.9 L178.8,752.9 L179.5,752.9 L180.2,752.9 L180.9,752.9 L181.6,752.9 L182.3,752.9 L183.0,752.9 L183.7,752.9 L184.4,752.9 L185.1,752.9 L185.8,752.9 L186.5,752.9 L187.2,752.9 L187.9,752.9 L188.6,752.9 L189.3,752.9 L190.0,752.9 L190.7,752.9 L191.4,752.9 L192.1,752.8 L192.8,752.8 L193.5,752.8 L194.2,752.8 L194.9,752.8 L195.6,752.8 L196.3,752.8 L197.0,752.8 L197.7,752.8 L198.4,752.8 L199.1,752.8 L199.8,752.8 L200.5,752.8 L201.2,752.8 L201.9,752.8 L202.6,752.8 L203.3,752.8 L204.0,752.8 L204.7,752.8 L205.4,752.8 L206.1,752.8 L206.8,752.7 L207.5,752.7 L208.2,752.7 L208.9,752.7 L209.7,752.7 L210.4,752.7 L211.1,752.7 L211.8,752.7 L212.5,752.6 L213.2,752.6 L213.9,752.6 L214.6,752.6 L215.3,752.6 L216.0,752.6 L216.7,752.5 L217.4,752.5 L218.1,752.5 L218.8,752.5 L219.5,752.5 L220.2,752.4 L220.9,752.4 L221.6,752.4 L222.3,752.4 L223.0,752.3 L223.7,752.3 L224.4,752.3 L225.1,752.2 L225.8,752.2 L226.5,752.2 L227.2,752.2 L227.9,752.1 L228.6,752.1 L229.3,752.1 L230.0,752.0 L230.7,752.0 L231.4,752.0 L232.2,751.9 L232.9,751.9 L233.6,751.8 L234.3,751.8 L235.0,751.8 L235.7,751.7 L236.4,751.7 L237.1,751.7 L237.8,751.6 L238.5,751.6 L239.2,751.5 L239.9,751.5 L240.5,751.4 L241.2,751.4 L241.9,751.3 L242.6,751.3 L243.3,751.3 L244.0,751.2 L244.7,751.1 L245.4,751.1 L246.1,751.0 L246.8,751.0 L247.5,750.9 L248.2,750.9 L248.9,750.8 L249.6,750.7 L250.3,750.7 L251.0,750.6 L251.6,750.5 L252.3,750.5 L253.0,750.4 L253.7,750.3 L254.4,750.2 L255.1,750.1 L255.8,750.0 L256.5,750.0 L257.2,749.9 L257.9,749.8 L258.6,749.7 L259.2,749.6 L259.9,749.5 L260.6,749.4 L261.3,749.2 L262.0,749.1 L262.7,749.0 L263.4,748.9 L264.1,748.8 L264.8,748.7 L265.5,748.5 L266.2,748.4 L266.9,748.3 L267.6,748.1 L268.3,748.0 L268.9,747.9 L269.6,747.7 L270.3,747.6 L271.0,747.4 L271.7,747.3 L272.4,747.2 L273.1,747.0 L273.8,746.9 L274.5,746.7 L275.2,746.6 L275.9,746.4 L276.6,746.3 L277.2,746.1 L277.9,746.0 L278.6,745.8 L279.3,745.7 L280.0,745.5 L280.7,745.4 L281.4,745.2 L282.0,745.1 L282.7,744.9 L283.4,744.7 L284.1,744.6 L284.8,744.4 L285.4,744.3 L286.1,744.1 L286.8,744.0 L287.5,743.8 L288.1,743.6 L288.8,743.5 L289.5,743.3 L290.2,743.2 L290.8,743.0 L291.5,742.8 L292.2,742.7 L292.8,742.5 L293.5,742.4 L294.1,742.2 L294.8,742.0 L295.4,741.9 L296.0,741.7 L296.7,741.6 L297.3,741.4 L297.9,741.2 L298.6,741.1 L299.3,740.9 L300.0,740.7 L300.7,740.5 L301.4,740.4 L302.1,740.2 L302.8,740.0 L303.5,739.8 L304.2,739.6 L304.9,739.4 L305.6,739.2 L306.3,739.0 L307.0,738.9 L307.7,738.7 L308.4,738.5 L309.1,738.3 L309.8,738.1 L310.5,737.9 L311.2,737.7 L311.9,737.5 L312.6,737.3 L313.3,737.1 L313.9,736.9 L314.6,736.7 L315.3,736.5" fill="none" stroke="#ff00ff" stroke-width="2.15" stroke-linejoin="round" stroke-linecap="butt" />
<path d="M73.2,954.5 L73.2,953.8 L73.2,953.1 L73.2,952.4 L73.2,951.7 L73.2,951.0 L73.2,950.3 L73.2,949.6 L73.2,948.9 L73.2,948.2 L73.2,947.5 L73.2,946.8 L73.2,946.1 L73.2,945.4 L73.2,944.7 L73.2,944.0 L73.2,943.3 L73.2,942.6 L73.3,941.9 L73.3,941.2 L73.3,940.5 L73.3,939.8 L73.3,939.1 L73.3,938.4 L73.3,937.7 L73.3,937.0 L73.3,936.3 L73.3,935.6 L73.3,934.9 L73.4,934.2 L73.4,933.5 L73.4,932.8 L73.4,932.1 L73.4,931.4 L73.4,930.7 L73.4,930.0 L73.4,929.3 L73.4,928.6 L73.4,927.9 L73.5,927.2 L73.5,926.5 L73.5,925.8 L73.5,925.1 L73.5,924.3 L73.5,923.6 L73.5,922.9 L73.5,922.2 L73.5,921.5 L73.6,920.8 L73.6,920.1 L73.6,919.4 L73.6,918.7 L73.6,918.0 L73.6,917.3 L73.6,916.6 L73.6,915.9 L73.7,915.2 L73.7,914.5 L73.7,913.8 L73.7,913.1 L73.7,912.4 L73.7,911.7 L73.8,911.0 L73.8,910.3 L73.8,909.6 L73.8,908.9 L73.8,908.2 L73.8,907.5 L73.8,906.8 L73.9,906.1 L73.9,905.4 L73.9,904.7 L73.9,904.0 L73.9,903.3 L74.0,902.6 L74.0,901.9 L74.0,901.2 L74.0,900.5 L74.0,899.8 L74.1,899.1 L74.1,898.4 L74.1,897.7 L74.1,897.0 L74.1,896.3 L74.2,895.6 L74.2,894.9 L74.2,894.2 L74.2,893.5 L74.3,892.8 L74.3,892.1 L74.3,891.4 L74.3,890.7 L74.4,890.0 L74.4,889.3 L74.4,888.6 L74.4,887.9 L74.5,887.2 L74.5,886.5 L74.5,885.8 L74.6,885.1 L74.6,884.4 L74.6,883.7 L74.6,883.0 L74.7,882.3 L74.7,881.6 L74.7,880.9 L74.8,880.2 L74.8,879.5 L74.9,878.8 L74.9,878.1 L74.9,877.4 L75.0,876.7 L75.0,876.0 L75.1,875.3 L75.1,874.6 L75.1,873.9 L75.2,873.2 L75.2,872.5 L75.3,871.8 L75.3,871.1 L75.4,870.4 L75.4,869.7 L75.5,869.0 L75.5,868.3 L75.6,867.6 L75.6,866.9 L75.7,866.2 L75.7,865.5 L75.8,864.8 L75.9,864.1 L75.9,863.4 L76.0,862.7 L76.0,862.0 L76.1,861.3 L76.1,860.6 L76.2,859.9 L76.3,859.2 L76.3,858.5 L76.4,857.8 L76.5,857.1 L76.5,856.4 L76.6,855.7 L76.7,855.0 L76.7,854.3 L76.8,853.6 L76.9,852.9 L76.9,852.2 L77.0,851.5 L77.1,850.8 L77.1,850.1 L77.2,849.4 L77.3,848.7 L77.4,848.0 L77.4,847.3 L77.5,846.6 L77.6,845.9 L77.7,845.2 L77.7,844.5 L77.8,843.8 L77.9,843.1 L78.0,842.4 L78.0,841.7 L78.1,841.0 L78.2,840.3 L78.3,839.6 L78.4,838.9 L78.4,838.2 L78.5,837.5 L78.6,836.8 L78.7,836.1 L78.8,835.4 L78.8,834.7 L78.9,834.0 L79.0,833.3 L79.1,832.7 L79.2,832.0 L79.3,831.3 L79.4,830.6 L79.5,829.9 L79.6,829.2 L79.7,828.5 L79.8,827.8 L79.9,827.1 L80.0,826.4 L80.1,825.7 L80.2,825.0 L80.3,824.3 L80.4,823.6 L80.6,822.9 L80.7,822.3 L80.8,821.6 L80.9,820.9 L81.1,820.2 L81.2,819.5 L81.3,818.8 L81.5,818.1 L81.6,817.4 L81.7,816.7 L81.9,816.0 L82.0,815.4 L82.2,814.7 L82.3,814.0 L82.4,813.3 L82.6,812.6 L82.7,811.9 L82.9,811.2 L83.0,810.5 L83.2,809.9 L83.3,809.2 L83.5,808.5 L83.6,807.8 L83.8,807.1 L83.9,806.4 L84.1,805.7 L84.2,805.1 L84.4,804.4 L84.5,803.7 L84.7,803.0 L84.8,802.3 L84.9,801.6 L85.1,800.9 L85.2,800.2 L85.4,799.5 L85.6,798.8 L85.7,798.1 L85.9,797.4 L86.0,796.7 L86.2,796.1 L86.3,795.4 L86.5,794.7 L86.7,794.0 L86.8,793.3 L87.0,792.6 L87.2,791.9 L87.4,791.2 L87.5,790.5 L87.7,789.9 L87.9,789.2 L88.1,788.5 L88.3,787.8 L88.5,787.2 L88.7,786.5 L88.9,785.8 L89.1,785.2 L89.4,784.5 L89.6,783.9 L89.8,783.2 L90.1,782.6 L90.3,782.0 L90.6,781.3 L90.9,780.7 L91.1,780.1 L91.5,779.5 L91.8,778.9 L92.1,778.3 L92.5,777.7 L92.9,777.1 L93.3,776.5 L93.7,775.9 L94.1,775.3 L94.5,774.7 L94.9,774.1 L95.3,773.6 L95.7,773.0 L96.2,772.4 L96.6,771.9 L97.0,771.3 L97.4,770.7 L97.8,770.2 L98.3,769.6 L98.7,769.1 L99.1,768.5 L99.6,768.0 L100.0,767.4 L100.4,766.9 L100.9,766.3 L101.3,765.8 L101.8,765.3 L102.2,764.7 L102.7,764.2 L103.1,763.7 L103.6,763.1 L104.0,762.6 L104.5,762.1 L104.9,761.5 L105.4,760.9 L105.9,760.4 L106.4,759.8 L106.9,759.3 L107.4,758.7 L107.9,758.2 L108.4,757.6 L108.9,757.1 L109.4,756.6 L109.9,756.1 L110.4,755.6 L110.9,755.1 L111.5,754.6 L112.0,754.2 L112.5,753.8 L113.0,753.3 L113.6,752.9 L114.1,752.6 L114.6,752.2 L115.1,751.8 L115.7,751.5 L116.2,751.2 L116.8,750.9 L117.4,750.5 L117.9,750.2 L118.6,749.9 L119.2,749.6 L119.8,749.3 L120.5,749.0 L121.1,748.8 L121.8,748.5 L122.4,748.3 L123.1,748.0 L123.8,747.8 L124.5,747.6 L125.2,747.4 L125.9,747.2 L126.5,747.0 L127.2,746.8 L127.9,746.6 L128.6,746.5 L129.2,746.4 L129.9,746.2 L130.6,746.1 L131.3,746.0 L131.9,745.9 L132.6,745.7 L133.3,745.6 L134.0,745.6 L134.7,745.5 L135.4,745.4 L136.1,745.3 L136.8,745.2 L137.5,745.1 L138.2,745.0 L138.9,745.0 L139.6,744.9 L140.3,744.9 L141.0,744.8 L141.7,744.8 L142.4,744.8 L143.1,744.7 L143.8,744.7 L144.5,744.7 L145.2,744.7 L145.9,744.6 L146.6,744.6 L147.3,744.6 L148.0,744.6 L148.7,744.6 L149.4,744.6 L150.1,744.6 L150.8,744.6 L151.5,744.6 L152.2,744.6 L152.9,744.6 L153.6,744.6 L154.3,744.6 L155.0,744.6 L155.7,744.6 L156.4,744.6 L157.1,744.7 L157.8,744.7 L158.5,744.7 L159.2,744.7 L159.9,744.7 L160.6,744.7 L161.3,744.7 L162.0,744.8 L162.7,744.8 L163.4,744.8 L164.1,744.8 L164.8,744.8 L165.5,744.8 L166.2,744.9 L166.9,744.9 L167.6,744.9 L168.3,744.9 L169.0,744.9 L169.7,745.0 L170.4,745.0 L171.1,745.0 L171.8,745.0 L172.5,745.0 L173.2,745.1 L173.9,745.1 L174.6,745.1 L175.3,745.1 L176.0,745.2 L176.7,745.2 L177.4,745.2 L178.1,745.2 L178.8,745.3 L179.5,745.3 L180.2,745.3 L180.9,745.3 L181.6,745.4 L182.3,745.4 L183.0,745.4 L183.7,745.4 L184.4,745.5 L185.1,745.5 L185.8,745.5 L186.5,745.5 L187.2,745.5 L187.9,745.6 L188.6,745.6 L189.3,745.6 L190.0,745.6 L190.7,745.6 L191.4,745.7 L192.1,745.7 L192.8,745.7 L193.5,745.7 L194.2,745.7 L194.9,745.7 L195.6,745.8 L196.4,745.8 L197.1,745.8 L197.8,745.8 L198.5,745.8 L199.2,745.8 L199.9,745.8 L200.6,745.8 L201.3,745.8 L202.0,745.8 L202.7,745.8 L203.4,745.8 L204.1,745.8 L204.8,745.8 L205.5,745.8 L206.2,745.8 L206.9,745.8 L207.6,745.8 L208.3,745.8 L209.0,745.8 L209.7,745.8 L210.4,745.8 L211.1,745.8 L211.8,745.8 L212.5,745.8 L213.2,745.8 L213.9,745.8 L214.6,745.8 L215.3,745.8 L216.0,745.8 L216.7,745.8 L217.4,745.7 L218.1,745.7 L218.8,745.7 L219.5,745.7 L220.2,745.7 L220.9,745.7 L221.6,745.7 L222.3,745.7 L223.0,745.7 L223.7,745.6 L224.5,745.6 L225.2,745.6 L225.9,745.6 L226.6,745.6 L227.3,745.6 L228.0,745.6 L228.7,745.5 L229.4,745.5 L230.1,745.5 L230.8,745.5 L231.5,745.5 L232.2,745.4 L232.9,745.4 L233.6,745.4 L234.3,745.4 L235.0,745.4 L235.7,745.4 L236.4,745.3 L237.1,745.3 L237.8,745.3 L238.5,745.3 L239.2,745.2 L239.9,745.2 L240.6,745.2 L241.3,745.2 L242.0,745.1 L242.7,745.1 L243.4,745.1 L244.1,745.0 L244.8,745.0 L245.5,745.0 L246.2,744.9 L246.9,744.9 L247.6,744.9 L248.3,744.8 L249.0,744.8 L249.6,744.7 L250.3,744.7 L251.0,744.6 L251.7,744.6 L252.4,744.5 L253.1,744.5 L253.8,744.4 L254.5,744.4 L255.2,744.3 L255.9,744.2 L256.6,744.2 L257.3,744.1 L258.0,744.0 L258.7,743.9 L259.4,743.8 L260.0,743.8 L260.7,743.7 L261.4,743.6 L262.1,743.5 L262.8,743.4 L263.5,743.3 L264.2,743.2 L264.9,743.1 L265.6,743.0 L266.3,742.9 L267.0,742.8 L267.7,742.6 L268.4,742.5 L269.1,742.4 L269.8,742.3 L270.5,742.2 L271.2,742.1 L271.9,741.9 L272.6,741.8 L273.3,741.7 L274.0,741.6 L274.7,741.4 L275.4,741.3 L276.1,741.2 L276.7,741.1 L277.4,740.9 L278.1,740.8 L278.8,740.7 L279.5,740.6 L280.2,740.4 L280.9,740.3 L281.6,740.2 L282.3,740.1 L283.0,739.9 L283.7,739.8 L284.3,739.7 L285.0,739.5 L285.7,739.4 L286.4,739.3 L287.1,739.2 L287.8,739.0 L288.5,738.9 L289.1,738.8 L289.8,738.7 L290.5,738.5 L291.2,738.4 L291.8,738.3 L292.5,738.1 L293.2,738.0 L293.8,737.9 L294.5,737.8 L295.1,737.6 L295.8,737.5 L296.4,737.4 L297.0,737.3 L297.7,737.1 L298.4,737.0 L299.1,736.9 L299.8,736.7 L300.5,736.6 L301.2,736.5 L301.9,736.3 L302.6,736.2 L303.3,736.0 L304.0,735.9 L304.8,735.7 L305.5,735.6 L306.2,735.4 L306.9,735.3 L307.6,735.2 L308.3,735.0 L309.0,734.9 L309.7,734.7 L310.4,734.6 L311.1,734.4 L311.8,734.3 L312.5,734.1 L313.2,733.9 L313.9,733.8 L314.6,733.6 L315.3,733.5" fill="none" stroke="#ff8000" stroke-width="2.15" stroke-linejoin="round" stroke-linecap="butt" />
<path d="M73.2,954.5 L73.2,953.8 L73.2,953.1 L73.2,952.4 L73.2,951.7 L73.2,951.0 L73.2,950.3 L73.2,949.6 L73.2,948.9 L73.2,948.2 L73.2,947.5 L73.2,946.8 L73.2,946.1 L73.2,945.4 L73.2,944.7 L73.2,944.0 L73.2,943.3 L73.2,942.6 L73.3,941.9 L73.3,941.2 L73.3,940.5 L73.3,939.8 L73.3,939.1 L73.3,938.4 L73.3,937.7 L73.3,937.0 L73.3,936.3 L73.3,935.6 L73.3,934.9 L73.3,934.2 L73.4,933.5 L73.4,932.8 L73.4,932.1 L73.4,931.4 L73.4,930.7 L73.4,930.0 L73.4,929.3 L73.4,928.6 L73.4,927.9 L73.5,927.2 L73.5,926.5 L73.5,925.8 L73.5,925.1 L73.5,924.4 L73.5,923.7 L73.5,923.0 L73.5,922.3 L73.5,921.6 L73.6,920.9 L73.6,920.2 L73.6,919.5 L73.6,918.8 L73.6,918.1 L73.6,917.4 L73.6,916.7 L73.7,916.0 L73.7,915.3 L73.7,914.6 L73.7,913.9 L73.7,913.1 L73.7,912.4 L73.7,911.7 L73.8,911.0 L73.8,910.3 L73.8,909.6 L73.8,908.9 L73.8,908.2 L73.8,907.5 L73.9,906.8 L73.9,906.1 L73.9,905.4 L73.9,904.7 L73.9,904.0 L74.0,903.3 L74.0,902.6 L74.0,901.9 L74.0,901.2 L74.1,900.5 L74.1,899.8 L74.1,899.1 L74.1,898.4 L74.1,897.7 L74.2,897.0 L74.2,896.3 L74.2,895.6 L74.2,894.9 L74.3,894.2 L74.3,893.5 L74.3,892.8 L74.3,892.1 L74.4,891.4 L74.4,890.7 L74.4,890.0 L74.5,889.3 L74.5,888.6 L74.5,887.9 L74.5,887.2 L74.6,886.5 L74.6,885.8 L74.6,885.1 L74.7,884.4 L74.7,883.7 L74.7,883.0 L74.8,882.3 L74.8,881.6 L74.8,880.9 L74.9,880.2 L74.9,879.5 L75.0,878.8 L75.0,878.1 L75.0,877.4 L75.1,876.7 L75.1,876.0 L75.2,875.3 L75.2,874.6 L75.3,873.9 L75.3,873.2 L75.3,872.5 L75.4,871.8 L75.4,871.1 L75.5,870.4 L75.5,869.7 L75.6,869.0 L75.7,868.3 L75.7,867.6 L75.8,866.9 L75.8,866.2 L75.9,865.5 L75.9,864.8 L76.0,864.1 L76.0,863.4 L76.1,862.7 L76.2,862.0 L76.2,861.3 L76.3,860.6 L76.3,859.9 L76.4,859.2 L76.5,858.5 L76.5,857.8 L76.6,857.1 L76.7,856.4 L76.7,855.7 L76.8,855.0 L76.9,854.3 L76.9,853.6 L77.0,852.9 L77.1,852.2 L77.1,851.5 L77.2,850.8 L77.3,850.1 L77.4,849.4 L77.4,848.7 L77.5,848.0 L77.6,847.3 L77.7,846.7 L77.7,846.0 L77.8,845.3 L77.9,844.6 L78.0,843.9 L78.0,843.2 L78.1,842.5 L78.2,841.8 L78.3,841.1 L78.4,840.4 L78.4,839.7 L78.5,839.0 L78.6,838.3 L78.7,837.6 L78.8,836.9 L78.8,836.2 L78.9,835.5 L79.0,834.8 L79.1,834.1 L79.2,833.4 L79.3,832.7 L79.3,832.0 L79.4,831.3 L79.5,830.7 L79.6,830.0 L79.7,829.3 L79.8,828.6 L79.9,827.9 L80.0,827.2 L80.1,826.5 L80.2,825.8 L80.3,825.1 L80.4,824.4 L80.6,823.7 L80.7,823.0 L80.8,822.3 L80.9,821.6 L81.0,821.0 L81.1,820.3 L81.3,819.6 L81.4,818.9 L81.5,818.2 L81.6,817.5 L81.8,816.8 L81.9,816.1 L82.0,815.4 L82.2,814.7 L82.3,814.0 L82.4,813.4 L82.6,812.7 L82.7,812.0 L82.8,811.3 L83.0,810.6 L83.1,809.9 L83.3,809.2 L83.4,808.5 L83.5,807.9 L83.7,807.2 L83.8,806.5 L83.9,805.8 L84.1,805.1 L84.2,804.4 L84.4,803.7 L84.5,803.0 L84.7,802.4 L84.8,801.7 L84.9,801.0 L85.1,800.3 L85.2,799.6 L85.4,798.9 L85.5,798.2 L85.7,797.5 L85.8,796.8 L86.0,796.1 L86.1,795.5 L86.3,794.8 L86.4,794.1 L86.6,793.4 L86.7,792.7 L86.9,792.0 L87.1,791.3 L87.2,790.6 L87.4,790.0 L87.6,789.3 L87.7,788.6 L87.9,787.9 L88.1,787.2 L88.3,786.6 L88.5,785.9 L88.6,785.2 L88.8,784.5 L89.0,783.9 L89.2,783.2 L89.4,782.5 L89.6,781.9 L89.9,781.2 L90.1,780.6 L90.3,779.9 L90.5,779.3 L90.8,778.6 L91.0,778.0 L91.3,777.3 L91.5,776.7 L91.8,776.0 L92.1,775.4 L92.4,774.7 L92.6,774.1 L92.9,773.4 L93.2,772.8 L93.6,772.1 L93.9,771.5 L94.2,770.9 L94.5,770.2 L94.9,769.6 L95.2,769.0 L95.5,768.4 L95.9,767.7 L96.2,767.1 L96.6,766.5 L96.9,765.9 L97.3,765.4 L97.7,764.8 L98.0,764.2 L98.4,763.6 L98.8,763.1 L99.2,762.5 L99.6,761.9 L100.0,761.4 L100.4,760.8 L100.9,760.2 L101.3,759.7 L101.8,759.1 L102.2,758.6 L102.7,758.0 L103.2,757.5 L103.6,757.0 L104.1,756.5 L104.6,756.0 L105.1,755.5 L105.6,755.0 L106.1,754.5 L106.6,754.0 L107.1,753.5 L107.6,753.1 L108.1,752.6 L108.7,752.1 L109.2,751.7 L109.8,751.2 L110.4,750.8 L110.9,750.4 L111.5,749.9 L112.1,749.5 L112.7,749.2 L113.3,748.8 L113.9,748.5 L114.5,748.1 L115.1,747.8 L115.6,747.5 L116.2,747.2 L116.8,746.9 L117.4,746.7 L118.1,746.4 L118.7,746.2 L119.3,745.9 L120.0,745.7 L120.6,745.4 L121.3,745.2 L122.0,745.0 L122.7,744.8 L123.3,744.6 L124.0,744.4 L124.7,744.2 L125.4,744.0 L126.1,743.8 L126.8,743.6 L127.4,743.4 L128.1,743.3 L128.8,743.1 L129.5,743.0 L130.2,742.8 L130.9,742.7 L131.5,742.6 L132.2,742.4 L132.9,742.3 L133.6,742.2 L134.3,742.1 L135.0,742.0 L135.7,741.8 L136.4,741.7 L137.1,741.6 L137.8,741.5 L138.5,741.5 L139.2,741.4 L139.9,741.3 L140.6,741.2 L141.3,741.2 L142.0,741.1 L142.6,741.1 L143.3,741.0 L144.0,741.0 L144.7,740.9 L145.4,740.9 L146.1,740.9 L146.8,740.8 L147.5,740.8 L148.2,740.8 L148.9,740.8 L149.6,740.8 L150.3,740.8 L151.0,740.8 L151.7,740.8 L152.4,740.8 L153.1,740.8 L153.8,740.8 L154.5,740.8 L155.2,740.9 L155.9,740.9 L156.6,740.9 L157.3,740.9 L158.0,740.9 L158.7,741.0 L159.4,741.0 L160.1,741.0 L160.8,741.1 L161.5,741.1 L162.2,741.1 L162.9,741.1 L163.6,741.2 L164.3,741.2 L165.0,741.2 L165.7,741.3 L166.4,741.3 L167.1,741.3 L167.8,741.4 L168.5,741.4 L169.2,741.4 L169.9,741.5 L170.6,741.5 L171.3,741.5 L172.0,741.6 L172.7,741.6 L173.4,741.6 L174.1,741.7 L174.8,741.7 L175.5,741.7 L176.2,741.8 L176.9,741.8 L177.6,741.8 L178.3,741.9 L179.0,741.9 L179.7,741.9 L180.4,742.0 L181.1,742.0 L181.8,742.0 L182.5,742.1 L183.2,742.1 L183.9,742.1 L184.6,742.2 L185.3,742.2 L186.0,742.2 L186.7,742.2 L187.4,742.3 L188.1,742.3 L188.8,742.3 L189.5,742.3 L190.2,742.4 L190.9,742.4 L191.6,742.4 L192.3,742.4 L193.0,742.4 L193.7,742.5 L194.4,742.5 L195.1,742.5 L195.8,742.5 L196.5,742.5 L197.2,742.5 L197.9,742.6 L198.6,742.6 L199.3,742.6 L200.0,742.6 L200.7,742.6 L201.4,742.6 L202.1,742.6 L202.8,742.6 L203.5,742.6 L204.2,742.6 L204.9,742.6 L205.6,742.6 L206.3,742.6 L207.0,742.7 L207.7,742.7 L208.4,742.7 L209.1,742.7 L209.8,742.7 L210.5,742.7 L211.2,742.7 L211.9,742.7 L212.6,742.7 L213.4,742.7 L214.1,742.7 L214.8,742.7 L215.5,742.7 L216.2,742.7 L216.9,742.7 L217.6,742.7 L218.3,742.7 L219.0,742.7 L219.7,742.7 L220.4,742.7 L221.1,742.7 L221.8,742.7 L222.5,742.7 L223.2,742.7 L223.9,742.7 L224.6,742.7 L225.3,742.7 L226.0,742.7 L226.7,742.7 L227.4,742.7 L228.1,742.7 L228.8,742.7 L229.5,742.7 L230.2,742.7 L230.9,742.7 L231.6,742.7 L232.3,742.7 L233.0,742.7 L233.7,742.7 L234.4,742.7 L235.1,742.7 L235.8,742.7 L236.5,742.7 L237.2,742.7 L237.9,742.7 L238.6,742.7 L239.3,742.7 L240.0,742.6 L240.7,742.6 L241.4,742.6 L242.1,742.6 L242.8,742.6 L243.5,742.6 L244.2,742.6 L244.9,742.6 L245.6,742.6 L246.3,742.6 L247.0,742.6 L247.7,742.5 L248.4,742.5 L249.1,742.5 L249.8,742.5 L250.5,742.4 L251.2,742.4 L251.9,742.4 L252.6,742.4 L253.3,742.3 L254.0,742.3 L254.7,742.2 L255.4,742.2 L256.0,742.1 L256.7,742.1 L257.4,742.0 L258.1,742.0 L258.8,741.9 L259.5,741.9 L260.2,741.8 L260.9,741.7 L261.6,741.6 L262.3,741.6 L263.0,741.5 L263.7,741.4 L264.4,741.3 L265.1,741.2 L265.8,741.1 L266.5,741.1 L267.2,741.0 L267.9,740.9 L268.6,740.8 L269.3,740.7 L270.0,740.6 L270.7,740.4 L271.4,740.3 L272.1,740.2 L272.8,740.1 L273.5,740.0 L274.2,739.9 L274.9,739.8 L275.6,739.7 L276.3,739.5 L277.0,739.4 L277.7,739.3 L278.4,739.2 L279.1,739.1 L279.7,738.9 L280.4,738.8 L281.1,738.7 L281.8,738.6 L282.5,738.5 L283.2,738.3 L283.9,738.2 L284.6,738.1 L285.2,737.9 L285.9,737.8 L286.6,737.7 L287.3,737.6 L288.0,737.4 L288.6,737.3 L289.3,737.2 L290.0,737.0 L290.7,736.9 L291.3,736.7 L292.0,736.6 L292.7,736.5 L293.3,736.3 L294.0,736.2 L294.6,736.1 L295.3,735.9 L295.9,735.8 L296.5,735.6 L297.1,735.5 L297.8,735.4 L298.5,735.2 L299.2,735.1 L299.9,734.9 L300.6,734.7 L301.3,734.6 L302.0,734.4 L302.7,734.3 L303.4,734.1 L304.1,733.9 L304.8,733.8 L305.6,733.6 L306.3,733.4 L307.0,733.2 L307.7,733.1 L308.4,732.9 L309.1,732.7 L309.8,732.5 L310.5,732.3 L311.1,732.1 L311.8,732.0 L312.5,731.8 L313.2,731.6 L313.9,731.4 L314.6,731.2 L315.3,731.0" fill="none" stroke="#808000" stroke-width="2.15" stroke-linejoin="round" stroke-linecap="butt" />
<path d="M73.2,954.5 L73.2,953.8 L73.2,953.1 L73.2,952.4 L73.2,951.7 L73.2,951.0 L73.2,950.3 L73.2,949.6 L73.2,948.9 L73.2,948.2 L73.2,947.5 L73.2,946.8 L73.2,946.1 L73.2,945.4 L73.2,944.7 L73.2,944.0 L73.2,943.3 L73.2,942.6 L73.2,941.9 L73.2,941.2 L73.2,940.5 L73.3,939.8 L73.3,939.1 L73.3,938.4 L73.3,937.7 L73.3,937.0 L73.3,936.3 L73.3,935.6 L73.3,934.9 L73.3,934.2 L73.3,933.5 L73.3,932.8 L73.3,932.1 L73.3,931.4 L73.4,930.7 L73.4,930.0 L73.4,929.3 L73.4,928.6 L73.4,927.9 L73.4,927.2 L73.4,926.5 L73.4,925.8 L73.4,925.1 L73.4,924.4 L73.4,923.7 L73.5,923.0 L73.5,922.3 L73.5,921.6 L73.5,920.9 L73.5,920.2 L73.5,919.5 L73.5,918.8 L73.5,918.1 L73.5,917.3 L73.5,916.6 L73.6,915.9 L73.6,915.2 L73.6,914.5 L73.6,913.8 L73.6,913.1 L73.6,912.4 L73.6,911.7 L73.6,911.0 L73.6,910.3 L73.7,909.6 L73.7,908.9 L73.7,908.2 L73.7,907.5 L73.7,906.8 L73.7,906.1 L73.7,905.4 L73.8,904.7 L73.8,904.0 L73.8,903.3 L73.8,902.6 L73.8,901.9 L73.8,901.2 L73.9,900.5 L73.9,899.8 L73.9,899.1 L73.9,898.4 L73.9,897.7 L73.9,897.0 L74.0,896.3 L74.0,895.6 L74.0,894.9 L74.0,894.2 L74.0,893.5 L74.1,892.8 L74.1,892.1 L74.1,891.4 L74.1,890.7 L74.1,890.0 L74.2,889.3 L74.2,888.6 L74.2,887.9 L74.2,887.2 L74.3,886.5 L74.3,885.8 L74.3,885.1 L74.3,884.4 L74.4,883.7 L74.4,883.0 L74.4,882.3 L74.4,881.6 L74.5,880.9 L74.5,880.2 L74.5,879.5 L74.6,878.8 L74.6,878.1 L74.6,877.4 L74.7,876.7 L74.7,876.0 L74.8,875.3 L74.8,874.6 L74.8,873.9 L74.9,873.2 L74.9,872.5 L75.0,871.8 L75.0,871.1 L75.1,870.4 L75.1,869.7 L75.2,869.0 L75.2,868.3 L75.3,867.6 L75.3,866.9 L75.4,866.2 L75.4,865.5 L75.5,864.8 L75.5,864.1 L75.6,863.4 L75.6,862.7 L75.7,862.0 L75.8,861.3 L75.8,860.6 L75.9,859.9 L75.9,859.2 L76.0,858.5 L76.1,857.8 L76.1,857.1 L76.2,856.4 L76.3,855.7 L76.3,855.0 L76.4,854.3 L76.4,853.6 L76.5,852.9 L76.6,852.2 L76.7,851.5 L76.7,850.8 L76.8,850.1 L76.9,849.4 L76.9,848.7 L77.0,848.0 L77.1,847.3 L77.1,846.6 L77.2,845.9 L77.3,845.2 L77.4,844.5 L77.4,843.8 L77.5,843.1 L77.6,842.4 L77.7,841.7 L77.7,841.0 L77.8,840.3 L77.9,839.6 L78.0,838.9 L78.1,838.2 L78.1,837.6 L78.2,836.9 L78.3,836.2 L78.4,835.5 L78.4,834.8 L78.5,834.1 L78.6,833.4 L78.7,832.7 L78.8,832.0 L78.9,831.3 L78.9,830.6 L79.0,829.9 L79.1,829.2 L79.2,828.5 L79.3,827.8 L79.4,827.1 L79.5,826.4 L79.6,825.7 L79.7,825.1 L79.9,824.4 L80.0,823.7 L80.1,823.0 L80.2,822.3 L80.3,821.6 L80.4,820.9 L80.6,820.2 L80.7,819.5 L80.8,818.8 L80.9,818.1 L81.1,817.4 L81.2,816.8 L81.3,816.1 L81.4,815.4 L81.6,814.7 L81.7,814.0 L81.8,813.3 L82.0,812.6 L82.1,811.9 L82.2,811.2 L82.4,810.5 L82.5,809.9 L82.7,809.2 L82.8,808.5 L82.9,807.8 L83.1,807.1 L83.2,806.4 L83.4,805.7 L83.5,805.0 L83.6,804.4 L83.8,803.7 L83.9,803.0 L84.1,802.3 L84.2,801.6 L84.3,800.9 L84.5,800.2 L84.6,799.6 L84.8,798.9 L84.9,798.2 L85.1,797.5 L85.2,796.8 L85.4,796.1 L85.5,795.4 L85.7,794.7 L85.8,794.1 L86.0,793.4 L86.1,792.7 L86.3,792.0 L86.5,791.3 L86.6,790.6 L86.8,789.9 L86.9,789.3 L87.1,788.6 L87.3,787.9 L87.5,787.2 L87.6,786.5 L87.8,785.9 L88.0,785.2 L88.2,784.5 L88.3,783.8 L88.5,783.2 L88.7,782.5 L88.9,781.8 L89.1,781.1 L89.3,780.5 L89.5,779.8 L89.7,779.1 L89.9,778.5 L90.1,777.8 L90.3,777.1 L90.5,776.5 L90.7,775.8 L91.0,775.1 L91.2,774.4 L91.4,773.8 L91.7,773.1 L91.9,772.4 L92.1,771.8 L92.4,771.1 L92.6,770.4 L92.9,769.8 L93.1,769.1 L93.4,768.5 L93.6,767.8 L93.9,767.2 L94.2,766.5 L94.5,765.9 L94.7,765.2 L95.0,764.6 L95.3,764.0 L95.6,763.3 L95.9,762.7 L96.2,762.1 L96.5,761.5 L96.8,760.9 L97.1,760.3 L97.4,759.6 L97.8,759.0 L98.1,758.4 L98.5,757.7 L98.9,757.1 L99.2,756.5 L99.6,755.9 L100.0,755.2 L100.4,754.6 L100.8,754.0 L101.3,753.5 L101.7,752.9 L102.1,752.3 L102.5,751.8 L103.0,751.3 L103.4,750.8 L103.9,750.3 L104.3,749.8 L104.8,749.4 L105.2,748.9 L105.7,748.5 L106.2,748.0 L106.7,747.6 L107.2,747.1 L107.8,746.7 L108.3,746.3 L108.9,745.9 L109.4,745.4 L110.0,745.0 L110.6,744.6 L111.2,744.2 L111.8,743.8 L112.4,743.4 L113.1,743.0 L113.7,742.7 L114.3,742.3 L114.9,742.0 L115.6,741.6 L116.2,741.3 L116.8,740.9 L117.5,740.6 L118.1,740.3 L118.7,740.0 L119.3,739.7 L120.0,739.5 L120.6,739.2 L121.3,738.9 L121.9,738.7 L122.6,738.4 L123.2,738.2 L123.9,737.9 L124.5,737.7 L125.2,737.5 L125.9,737.3 L126.5,737.1 L127.2,736.9 L127.8,736.7 L128.5,736.6 L129.2,736.4 L129.9,736.2 L130.5,736.1 L131.2,735.9 L131.9,735.8 L132.6,735.7 L133.3,735.6 L134.0,735.5 L134.7,735.3 L135.4,735.2 L136.1,735.1 L136.8,735.0 L137.5,734.9 L138.1,734.8 L138.8,734.8 L139.5,734.7 L140.2,734.6 L140.9,734.6 L141.6,734.5 L142.3,734.5 L143.0,734.4 L143.7,734.4 L144.4,734.4 L145.1,734.4 L145.8,734.3 L146.4,734.3 L147.1,734.3 L147.8,734.3 L148.5,734.3 L149.2,734.3 L149.9,734.3 L150.6,734.3 L151.3,734.3 L152.0,734.3 L152.7,734.3 L153.4,734.4 L154.1,734.4 L154.8,734.4 L155.5,734.4 L156.2,734.4 L156.9,734.5 L157.6,734.5 L158.3,734.5 L159.0,734.5 L159.8,734.6 L160.5,734.6 L161.2,734.6 L161.9,734.7 L162.6,734.7 L163.3,734.7 L164.0,734.8 L164.7,734.8 L165.4,734.8 L166.1,734.9 L166.8,734.9 L167.5,734.9 L168.2,735.0 L168.9,735.0 L169.6,735.1 L170.3,735.1 L171.0,735.1 L171.7,735.2 L172.4,735.2 L173.1,735.3 L173.8,735.3 L174.5,735.4 L175.2,735.4 L175.9,735.4 L176.6,735.5 L177.3,735.5 L178.0,735.6 L178.7,735.6 L179.4,735.7 L180.1,735.7 L180.8,735.8 L181.5,735.8 L182.2,735.9 L182.9,735.9 L183.6,736.0 L184.3,736.0 L185.0,736.1 L185.7,736.1 L186.4,736.2 L187.1,736.2 L187.8,736.2 L188.5,736.3 L189.2,736.3 L189.9,736.4 L190.6,736.4 L191.3,736.4 L192.0,736.5 L192.7,736.5 L193.4,736.6 L194.1,736.6 L194.8,736.6 L195.5,736.7 L196.2,736.7 L196.9,736.7 L197.6,736.8 L198.3,736.8 L199.0,736.8 L199.7,736.8 L200.4,736.9 L201.1,736.9 L201.8,736.9 L202.5,736.9 L203.2,736.9 L203.9,737.0 L204.6,737.0 L205.3,737.0 L206.0,737.0 L206.7,737.0 L207.4,737.1 L208.1,737.1 L208.8,737.1 L209.5,737.1 L210.2,737.1 L210.9,737.1 L211.6,737.1 L212.3,737.1 L213.0,737.2 L213.7,737.2 L214.4,737.2 L215.1,737.2 L215.8,737.2 L216.5,737.2 L217.2,737.2 L217.9,737.2 L218.6,737.2 L219.3,737.2 L220.0,737.3 L220.7,737.3 L221.4,737.3 L222.1,737.3 L222.8,737.3 L223.5,737.3 L224.2,737.3 L224.9,737.3 L225.6,737.3 L226.3,737.3 L227.0,737.3 L227.8,737.3 L228.5,737.3 L229.2,737.3 L229.9,737.4 L230.6,737.4 L231.3,737.4 L232.0,737.4 L232.7,737.4 L233.4,737.4 L234.1,737.4 L234.8,737.4 L235.5,737.4 L236.2,737.4 L236.9,737.4 L237.6,737.4 L238.3,737.4 L239.0,737.4 L239.7,737.4 L240.4,737.4 L241.1,737.4 L241.8,737.4 L242.5,737.4 L243.2,737.4 L243.9,737.4 L244.6,737.4 L245.3,737.4 L246.0,737.3 L246.7,737.3 L247.4,737.3 L248.1,737.3 L248.8,737.3 L249.5,737.3 L250.2,737.2 L250.8,737.2 L251.5,737.2 L252.2,737.2 L252.9,737.1 L253.6,737.1 L254.3,737.0 L255.0,737.0 L255.7,737.0 L256.4,736.9 L257.1,736.9 L257.8,736.8 L258.5,736.8 L259.2,736.7 L259.9,736.6 L260.6,736.6 L261.3,736.5 L262.0,736.4 L262.7,736.4 L263.4,736.3 L264.1,736.2 L264.8,736.1 L265.5,736.0 L266.2,735.9 L266.9,735.9 L267.6,735.8 L268.3,735.7 L269.0,735.6 L269.7,735.5 L270.4,735.4 L271.1,735.3 L271.8,735.2 L272.5,735.1 L273.2,735.0 L273.9,734.9 L274.6,734.8 L275.3,734.7 L276.0,734.6 L276.6,734.5 L277.3,734.3 L278.0,734.2 L278.7,734.1 L279.4,734.0 L280.1,733.9 L280.8,733.8 L281.5,733.7 L282.2,733.6 L282.9,733.5 L283.6,733.4 L284.3,733.2 L285.0,733.1 L285.6,733.0 L286.3,732.9 L287.0,732.8 L287.7,732.7 L288.4,732.6 L289.1,732.5 L289.7,732.3 L290.4,732.2 L291.1,732.1 L291.8,732.0 L292.4,731.9 L293.1,731.8 L293.8,731.7 L294.4,731.5 L295.1,731.4 L295.7,731.3 L296.3,731.2 L297.0,731.1 L297.6,731.0 L298.3,730.9 L299.1,730.7 L299.8,730.6 L300.5,730.5 L301.2,730.3 L301.9,730.2 L302.6,730.1 L303.3,729.9 L304.0,729.8 L304.7,729.7 L305.4,729.5 L306.1,729.4 L306.9,729.3 L307.6,729.1 L308.3,729.0 L309.0,728.8 L309.7,728.7 L310.4,728.6 L311.1,728.4 L311.8,728.3 L312.5,728.1 L313.2,728.0 L313.9,727.8 L314.6,727.7 L315.3,727.5" fill="none" stroke="#ff0080" stroke-width="2.15" stroke-linejoin="round" stroke-linecap="butt" />
<path d="M73.2,954.5 L73.2,953.8 L73.2,953.1 L73.2,952.4 L73.2,951.7 L73.2,951.0 L73.2,950.3 L73.2,949.6 L73.2,948.9 L73.2,948.2 L73.2,947.5 L73.3,946.8 L73.3,946.1 L73.3,945.4 L73.3,944.7 L73.3,944.0 L73.3,943.3 L73.3,942.6 L73.3,941.9 L73.3,941.2 L73.4,940.5 L73.4,939.8 L73.4,939.1 L73.4,938.4 L73.4,937.7 L73.4,937.0 L73.4,936.3 L73.5,935.6 L73.5,934.9 L73.5,934.2 L73.5,933.5 L73.5,932.8 L73.5,932.1 L73.5,931.4 L73.6,930.7 L73.6,930.0 L73.6,929.3 L73.6,928.6 L73.6,927.9 L73.6,927.2 L73.7,926.5 L73.7,925.8 L73.7,925.1 L73.7,924.4 L73.7,923.7 L73.7,923.0 L73.8,922.3 L73.8,921.6 L73.8,920.9 L73.8,920.2 L73.8,919.5 L73.9,918.8 L73.9,918.1 L73.9,917.4 L73.9,916.6 L73.9,915.9 L74.0,915.2 L74.0,914.5 L74.0,913.8 L74.0,913.1 L74.0,912.4 L74.1,911.7 L74.1,911.0 L74.1,910.3 L74.1,909.6 L74.2,908.9 L74.2,908.2 L74.2,907.5 L74.2,906.8 L74.3,906.1 L74.3,905.4 L74.3,904.7 L74.3,904.0 L74.4,903.3 L74.4,902.6 L74.4,901.9 L74.4,901.2 L74.5,900.5 L74.5,899.8 L74.5,899.1 L74.6,898.4 L74.6,897.7 L74.6,897.0 L74.6,896.3 L74.7,895.6 L74.7,894.9 L74.7,894.2 L74.8,893.5 L74.8,892.8 L74.8,892.1 L74.9,891.4 L74.9,890.7 L74.9,890.0 L75.0,889.3 L75.0,888.6 L75.1,887.9 L75.1,887.2 L75.1,886.5 L75.2,885.8 L75.2,885.1 L75.2,884.4 L75.3,883.7 L75.3,883.0 L75.4,882.3 L75.4,881.6 L75.5,880.9 L75.5,880.2 L75.5,879.5 L75.6,878.8 L75.6,878.1 L75.7,877.4 L75.7,876.7 L75.8,876.0 L75.8,875.3 L75.9,874.6 L76.0,873.9 L76.0,873.2 L76.1,872.5 L76.1,871.8 L76.2,871.1 L76.2,870.4 L76.3,869.7 L76.4,869.0 L76.4,868.3 L76.5,867.6 L76.5,866.9 L76.6,866.2 L76.7,865.5 L76.7,864.8 L76.8,864.1 L76.9,863.4 L76.9,862.7 L77.0,862.0 L77.1,861.3 L77.1,860.6 L77.2,859.9 L77.3,859.2 L77.3,858.5 L77.4,857.8 L77.5,857.1 L77.6,856.4 L77.6,855.7 L77.7,855.0 L77.8,854.3 L77.9,853.6 L77.9,852.9 L78.0,852.2 L78.1,851.5 L78.2,850.9 L78.3,850.2 L78.3,849.5 L78.4,848.8 L78.5,848.1 L78.6,847.4 L78.7,846.7 L78.8,846.0 L78.8,845.3 L78.9,844.6 L79.0,843.9 L79.1,843.2 L79.2,842.5 L79.3,841.8 L79.4,841.1 L79.5,840.4 L79.5,839.7 L79.6,839.0 L79.7,838.3 L79.8,837.6 L79.9,836.9 L80.0,836.2 L80.1,835.5 L80.2,834.9 L80.3,834.2 L80.4,833.5 L80.5,832.8 L80.6,832.1 L80.7,831.4 L80.8,830.7 L80.9,830.0 L81.0,829.3 L81.1,828.6 L81.2,827.9 L81.3,827.2 L81.4,826.5 L81.6,825.9 L81.7,825.2 L81.8,824.5 L81.9,823.8 L82.1,823.1 L82.2,822.4 L82.3,821.7 L82.5,821.0 L82.6,820.3 L82.8,819.7 L82.9,819.0 L83.0,818.3 L83.2,817.6 L83.3,816.9 L83.5,816.2 L83.6,815.5 L83.8,814.8 L83.9,814.2 L84.0,813.5 L84.2,812.8 L84.3,812.1 L84.5,811.4 L84.6,810.7 L84.8,810.0 L84.9,809.3 L85.1,808.7 L85.2,808.0 L85.4,807.3 L85.5,806.6 L85.6,805.9 L85.8,805.2 L85.9,804.5 L86.1,803.9 L86.2,803.2 L86.4,802.5 L86.5,801.8 L86.6,801.1 L86.8,800.4 L86.9,799.7 L87.1,799.0 L87.2,798.4 L87.3,797.7 L87.5,797.0 L87.6,796.3 L87.8,795.6 L87.9,794.9 L88.1,794.2 L88.2,793.5 L88.4,792.9 L88.5,792.2 L88.7,791.5 L88.8,790.8 L89.0,790.1 L89.1,789.4 L89.3,788.7 L89.4,788.1 L89.6,787.4 L89.8,786.7 L89.9,786.0 L90.1,785.3 L90.3,784.6 L90.4,784.0 L90.6,783.3 L90.8,782.6 L90.9,781.9 L91.1,781.3 L91.3,780.6 L91.5,779.9 L91.7,779.2 L91.9,778.6 L92.1,777.9 L92.2,777.2 L92.4,776.5 L92.6,775.9 L92.8,775.2 L93.0,774.5 L93.3,773.8 L93.5,773.2 L93.7,772.5 L93.9,771.8 L94.1,771.2 L94.3,770.5 L94.5,769.8 L94.8,769.2 L95.0,768.5 L95.2,767.8 L95.5,767.2 L95.7,766.5 L96.0,765.8 L96.2,765.2 L96.4,764.5 L96.7,763.9 L97.0,763.2 L97.2,762.6 L97.5,761.9 L97.7,761.3 L98.0,760.7 L98.3,760.0 L98.6,759.4 L98.8,758.7 L99.1,758.1 L99.4,757.5 L99.7,756.8 L100.1,756.2 L100.4,755.5 L100.7,754.9 L101.0,754.3 L101.4,753.6 L101.7,753.0 L102.1,752.4 L102.4,751.8 L102.8,751.2 L103.1,750.6 L103.5,750.0 L103.9,749.5 L104.3,748.9 L104.6,748.3 L105.0,747.8 L105.4,747.2 L105.9,746.7 L106.3,746.1 L106.7,745.6 L107.2,745.0 L107.6,744.5 L108.1,744.0 L108.6,743.4 L109.0,742.9 L109.5,742.4 L110.0,741.9 L110.5,741.4 L111.0,740.9 L111.5,740.4 L112.0,739.9 L112.5,739.4 L113.0,738.9 L113.5,738.4 L114.1,738.0 L114.6,737.5 L115.1,737.0 L115.7,736.6 L116.3,736.2 L116.8,735.7 L117.4,735.3 L118.0,734.9 L118.5,734.6 L119.1,734.2 L119.7,733.9 L120.3,733.5 L120.9,733.2 L121.5,732.9 L122.1,732.6 L122.7,732.3 L123.3,732.0 L124.0,731.8 L124.6,731.5 L125.3,731.2 L125.9,731.0 L126.6,730.8 L127.2,730.6 L127.9,730.4 L128.5,730.2 L129.2,730.0 L129.8,729.8 L130.5,729.6 L131.2,729.5 L131.9,729.3 L132.6,729.2 L133.3,729.0 L133.9,728.9 L134.6,728.8 L135.3,728.6 L136.0,728.5 L136.7,728.4 L137.4,728.3 L138.1,728.2 L138.8,728.1 L139.5,728.0 L140.2,727.9 L140.9,727.9 L141.6,727.8 L142.3,727.8 L143.0,727.7 L143.6,727.7 L144.3,727.6 L145.0,727.6 L145.7,727.6 L146.4,727.6 L147.1,727.6 L147.8,727.6 L148.5,727.6 L149.2,727.6 L149.9,727.6 L150.6,727.6 L151.2,727.6 L151.9,727.6 L152.6,727.7 L153.3,727.7 L154.0,727.7 L154.7,727.8 L155.4,727.8 L156.1,727.9 L156.8,727.9 L157.5,728.0 L158.2,728.0 L158.9,728.1 L159.6,728.1 L160.3,728.2 L161.0,728.3 L161.7,728.3 L162.5,728.4 L163.2,728.4 L163.9,728.5 L164.6,728.6 L165.3,728.6 L166.0,728.7 L166.7,728.8 L167.4,728.8 L168.1,728.9 L168.8,729.0 L169.5,729.0 L170.2,729.1 L170.9,729.2 L171.6,729.2 L172.3,729.3 L173.0,729.4 L173.7,729.4 L174.4,729.5 L175.1,729.5 L175.8,729.6 L176.4,729.7 L177.1,729.7 L177.8,729.8 L178.5,729.9 L179.2,729.9 L179.9,730.0 L180.6,730.1 L181.3,730.1 L182.0,730.2 L182.7,730.2 L183.4,730.3 L184.1,730.4 L184.8,730.4 L185.5,730.5 L186.2,730.5 L186.9,730.6 L187.6,730.6 L188.3,730.7 L189.0,730.8 L189.7,730.8 L190.4,730.9 L191.1,730.9 L191.8,730.9 L192.5,731.0 L193.2,731.0 L193.9,731.1 L194.6,731.1 L195.3,731.1 L196.0,731.2 L196.7,731.2 L197.4,731.3 L198.1,731.3 L198.8,731.3 L199.5,731.3 L200.2,731.4 L200.9,731.4 L201.6,731.4 L202.3,731.4 L203.0,731.5 L203.7,731.5 L204.4,731.5 L205.1,731.5 L205.8,731.5 L206.5,731.6 L207.2,731.6 L207.9,731.6 L208.6,731.6 L209.3,731.6 L210.0,731.6 L210.7,731.7 L211.4,731.7 L212.1,731.7 L212.8,731.7 L213.5,731.7 L214.2,731.7 L214.9,731.7 L215.6,731.7 L216.3,731.7 L217.0,731.8 L217.7,731.8 L218.4,731.8 L219.2,731.8 L219.9,731.8 L220.6,731.8 L221.3,731.8 L222.0,731.8 L222.7,731.8 L223.4,731.8 L224.1,731.8 L224.8,731.8 L225.5,731.9 L226.2,731.9 L226.9,731.9 L227.6,731.9 L228.3,731.9 L229.0,731.9 L229.7,731.9 L230.4,731.9 L231.1,731.9 L231.8,731.9 L232.5,731.9 L233.2,731.9 L233.9,731.9 L234.6,731.9 L235.3,731.9 L236.0,731.9 L236.7,731.9 L237.4,731.9 L238.1,731.9 L238.8,731.9 L239.5,731.9 L240.2,731.9 L240.9,731.9 L241.6,731.9 L242.3,731.9 L243.0,731.9 L243.7,731.9 L244.4,731.9 L245.1,731.9 L245.8,731.9 L246.5,731.9 L247.2,731.9 L247.9,731.9 L248.6,731.8 L249.3,731.8 L250.0,731.8 L250.7,731.8 L251.4,731.8 L252.1,731.7 L252.8,731.7 L253.5,731.7 L254.2,731.6 L254.9,731.6 L255.6,731.6 L256.3,731.5 L257.0,731.5 L257.7,731.4 L258.4,731.4 L259.1,731.3 L259.8,731.3 L260.5,731.2 L261.2,731.2 L261.9,731.1 L262.6,731.0 L263.3,731.0 L264.0,730.9 L264.7,730.8 L265.4,730.8 L266.1,730.7 L266.8,730.6 L267.5,730.5 L268.2,730.5 L268.9,730.4 L269.6,730.3 L270.3,730.2 L271.0,730.1 L271.7,730.0 L272.4,729.9 L273.0,729.8 L273.7,729.8 L274.4,729.7 L275.1,729.6 L275.8,729.5 L276.5,729.4 L277.2,729.3 L277.9,729.2 L278.6,729.1 L279.3,729.0 L280.0,728.9 L280.7,728.8 L281.4,728.7 L282.1,728.6 L282.8,728.5 L283.5,728.4 L284.2,728.3 L284.9,728.2 L285.6,728.1 L286.2,728.0 L286.9,727.9 L287.6,727.8 L288.3,727.7 L289.0,727.6 L289.7,727.5 L290.4,727.4 L291.0,727.3 L291.7,727.2 L292.4,727.1 L293.0,727.0 L293.7,726.9 L294.4,726.8 L295.0,726.7 L295.6,726.6 L296.3,726.5 L296.9,726.4 L297.6,726.2 L298.3,726.1 L299.0,726.0 L299.7,725.9 L300.4,725.8 L301.1,725.7 L301.9,725.5 L302.6,725.4 L303.3,725.3 L304.0,725.2 L304.7,725.1 L305.4,724.9 L306.1,724.8 L306.8,724.7 L307.5,724.5 L308.2,724.4 L309.0,724.3 L309.7,724.1 L310.4,724.0 L311.1,723.9 L311.8,723.7 L312.5,723.6 L313.2,723.5 L313.9,723.3 L314.6,723.2 L315.3,723.1" fill="none" stroke="#800080" stroke-width="2.15" stroke-linejoin="round" stroke-linecap="butt" />
<path d="M73.2,954.5 L73.2,953.8 L73.2,953.1 L73.2,952.4 L73.2,951.7 L73.2,951.0 L73.2,950.3 L73.2,949.6 L73.2,948.9 L73.3,948.2 L73.3,947.5 L73.3,946.8 L73.3,946.1 L73.3,945.4 L73.3,944.7 L73.4,944.0 L73.4,943.3 L73.4,942.6 L73.4,941.9 L73.4,941.2 L73.5,940.5 L73.5,939.8 L73.5,939.1 L73.5,938.4 L73.5,937.7 L73.6,937.0 L73.6,936.3 L73.6,935.6 L73.6,934.9 L73.7,934.2 L73.7,933.5 L73.7,932.8 L73.7,932.1 L73.8,931.4 L73.8,930.7 L73.8,930.0 L73.9,929.3 L73.9,928.6 L73.9,927.9 L73.9,927.2 L74.0,926.5 L74.0,925.7 L74.0,925.0 L74.1,924.3 L74.1,923.6 L74.1,922.9 L74.1,922.2 L74.2,921.5 L74.2,920.8 L74.2,920.1 L74.3,919.4 L74.3,918.7 L74.3,918.0 L74.4,917.3 L74.4,916.6 L74.4,915.9 L74.5,915.2 L74.5,914.5 L74.6,913.8 L74.6,913.1 L74.6,912.4 L74.7,911.7 L74.7,911.0 L74.8,910.3 L74.8,909.6 L74.9,908.9 L74.9,908.2 L75.0,907.5 L75.0,906.8 L75.1,906.1 L75.1,905.4 L75.2,904.7 L75.2,904.0 L75.3,903.3 L75.3,902.6 L75.4,901.9 L75.4,901.2 L75.5,900.5 L75.5,899.8 L75.6,899.1 L75.7,898.4 L75.7,897.7 L75.8,897.0 L75.8,896.3 L75.9,895.6 L76.0,894.9 L76.0,894.2 L76.1,893.5 L76.1,892.8 L76.2,892.1 L76.3,891.4 L76.3,890.7 L76.4,890.0 L76.5,889.3 L76.5,888.6 L76.6,887.9 L76.7,887.2 L76.7,886.5 L76.8,885.9 L76.9,885.2 L77.0,884.5 L77.0,883.8 L77.1,883.1 L77.2,882.4 L77.3,881.7 L77.3,881.0 L77.4,880.3 L77.5,879.6 L77.6,878.9 L77.7,878.2 L77.8,877.5 L77.9,876.8 L77.9,876.1 L78.0,875.4 L78.1,874.7 L78.2,874.0 L78.3,873.3 L78.4,872.6 L78.5,871.9 L78.6,871.2 L78.7,870.5 L78.8,869.8 L78.9,869.1 L79.0,868.4 L79.1,867.7 L79.2,867.0 L79.3,866.3 L79.4,865.7 L79.5,865.0 L79.6,864.3 L79.7,863.6 L79.7,862.9 L79.8,862.2 L79.9,861.5 L80.0,860.8 L80.1,860.1 L80.2,859.4 L80.3,858.7 L80.4,858.0 L80.5,857.3 L80.6,856.6 L80.7,855.9 L80.8,855.2 L81.0,854.5 L81.1,853.8 L81.2,853.1 L81.3,852.5 L81.4,851.8 L81.5,851.1 L81.6,850.4 L81.7,849.7 L81.8,849.0 L81.9,848.3 L82.0,847.6 L82.2,846.9 L82.3,846.2 L82.4,845.5 L82.5,844.8 L82.6,844.1 L82.7,843.4 L82.8,842.8 L83.0,842.1 L83.1,841.4 L83.2,840.7 L83.3,840.0 L83.4,839.3 L83.5,838.6 L83.7,837.9 L83.8,837.2 L83.9,836.5 L84.0,835.8 L84.1,835.1 L84.2,834.4 L84.4,833.8 L84.5,833.1 L84.6,832.4 L84.7,831.7 L84.8,831.0 L84.9,830.3 L85.1,829.6 L85.2,828.9 L85.3,828.2 L85.4,827.5 L85.5,826.8 L85.7,826.1 L85.8,825.5 L85.9,824.8 L86.0,824.1 L86.1,823.4 L86.3,822.7 L86.4,822.0 L86.5,821.3 L86.6,820.6 L86.8,819.9 L86.9,819.2 L87.0,818.5 L87.1,817.9 L87.3,817.2 L87.4,816.5 L87.5,815.8 L87.6,815.1 L87.8,814.4 L87.9,813.7 L88.0,813.0 L88.1,812.3 L88.3,811.6 L88.4,810.9 L88.5,810.3 L88.6,809.6 L88.8,808.9 L88.9,808.2 L89.0,807.5 L89.2,806.8 L89.3,806.1 L89.4,805.4 L89.6,804.7 L89.7,804.0 L89.8,803.4 L90.0,802.7 L90.1,802.0 L90.2,801.3 L90.4,800.6 L90.5,799.9 L90.6,799.2 L90.8,798.5 L90.9,797.9 L91.0,797.2 L91.2,796.5 L91.3,795.8 L91.5,795.1 L91.6,794.4 L91.8,793.7 L91.9,793.0 L92.0,792.4 L92.2,791.7 L92.3,791.0 L92.5,790.3 L92.6,789.6 L92.8,788.9 L92.9,788.2 L93.1,787.5 L93.2,786.9 L93.4,786.2 L93.5,785.5 L93.7,784.8 L93.8,784.1 L94.0,783.4 L94.1,782.7 L94.2,782.1 L94.4,781.4 L94.5,780.7 L94.7,780.0 L94.8,779.3 L95.0,778.6 L95.1,777.9 L95.3,777.2 L95.4,776.6 L95.5,775.9 L95.7,775.2 L95.8,774.5 L96.0,773.8 L96.1,773.1 L96.3,772.4 L96.4,771.7 L96.6,771.0 L96.7,770.4 L96.9,769.7 L97.0,769.0 L97.2,768.3 L97.3,767.6 L97.5,767.0 L97.7,766.3 L97.8,765.6 L98.0,764.9 L98.2,764.3 L98.4,763.6 L98.6,762.9 L98.8,762.2 L99.0,761.6 L99.2,760.9 L99.4,760.2 L99.6,759.5 L99.8,758.9 L100.0,758.2 L100.2,757.5 L100.4,756.8 L100.6,756.2 L100.8,755.5 L101.1,754.8 L101.3,754.1 L101.5,753.5 L101.7,752.8 L102.0,752.1 L102.2,751.5 L102.5,750.8 L102.7,750.1 L102.9,749.5 L103.2,748.8 L103.4,748.2 L103.7,747.5 L104.0,746.8 L104.2,746.2 L104.5,745.5 L104.7,744.9 L105.0,744.3 L105.3,743.6 L105.6,743.0 L105.8,742.3 L106.1,741.7 L106.4,741.1 L106.7,740.5 L106.9,739.8 L107.2,739.2 L107.5,738.6 L107.8,737.9 L108.1,737.3 L108.5,736.7 L108.8,736.0 L109.1,735.4 L109.4,734.7 L109.8,734.1 L110.1,733.4 L110.5,732.8 L110.9,732.2 L111.2,731.5 L111.6,730.9 L112.0,730.3 L112.4,729.7 L112.8,729.1 L113.2,728.5 L113.6,727.9 L114.0,727.4 L114.4,726.9 L114.8,726.3 L115.2,725.8 L115.6,725.3 L116.1,724.8 L116.5,724.3 L117.0,723.9 L117.4,723.4 L117.9,722.9 L118.4,722.5 L118.9,722.0 L119.5,721.5 L120.0,721.1 L120.6,720.7 L121.2,720.2 L121.8,719.8 L122.4,719.4 L123.0,719.0 L123.6,718.7 L124.2,718.4 L124.8,718.0 L125.4,717.7 L126.0,717.5 L126.6,717.2 L127.2,717.0 L127.8,716.7 L128.4,716.5 L129.0,716.3 L129.7,716.1 L130.3,715.9 L131.0,715.7 L131.6,715.5 L132.3,715.3 L133.0,715.2 L133.7,715.0 L134.4,714.9 L135.1,714.7 L135.8,714.6 L136.5,714.4 L137.2,714.3 L137.9,714.2 L138.6,714.1 L139.3,714.0 L140.0,713.9 L140.7,713.9 L141.4,713.8 L142.0,713.8 L142.7,713.7 L143.4,713.7 L144.1,713.6 L144.8,713.6 L145.5,713.6 L146.2,713.5 L146.9,713.5 L147.6,713.5 L148.3,713.5 L149.0,713.5 L149.7,713.5 L150.4,713.5 L151.1,713.6 L151.8,713.6 L152.5,713.6 L153.2,713.6 L153.9,713.6 L154.6,713.7 L155.3,713.7 L156.0,713.8 L156.7,713.8 L157.4,713.8 L158.1,713.9 L158.8,713.9 L159.5,714.0 L160.2,714.0 L160.9,714.1 L161.6,714.1 L162.3,714.2 L163.0,714.3 L163.7,714.3 L164.4,714.4 L165.1,714.5 L165.8,714.5 L166.4,714.6 L167.1,714.7 L167.8,714.8 L168.5,714.8 L169.2,714.9 L169.9,715.0 L170.6,715.1 L171.3,715.2 L172.0,715.3 L172.7,715.3 L173.4,715.4 L174.1,715.5 L174.8,715.6 L175.5,715.7 L176.2,715.8 L176.9,715.9 L177.6,716.0 L178.3,716.1 L179.0,716.2 L179.7,716.3 L180.4,716.4 L181.1,716.5 L181.8,716.5 L182.5,716.6 L183.2,716.7 L183.9,716.8 L184.6,716.9 L185.3,717.0 L186.0,717.1 L186.7,717.2 L187.4,717.2 L188.1,717.3 L188.8,717.4 L189.5,717.5 L190.2,717.6 L190.9,717.6 L191.6,717.7 L192.3,717.8 L193.0,717.8 L193.7,717.9 L194.4,718.0 L195.1,718.0 L195.8,718.1 L196.5,718.1 L197.2,718.2 L197.9,718.3 L198.5,718.3 L199.2,718.4 L199.9,718.4 L200.6,718.5 L201.3,718.5 L202.0,718.5 L202.7,718.6 L203.4,718.6 L204.1,718.7 L204.8,718.7 L205.5,718.7 L206.2,718.8 L206.9,718.8 L207.6,718.8 L208.3,718.9 L209.0,718.9 L209.7,718.9 L210.4,718.9 L211.1,719.0 L211.8,719.0 L212.5,719.0 L213.2,719.1 L213.9,719.1 L214.6,719.1 L215.3,719.1 L216.0,719.2 L216.7,719.2 L217.4,719.2 L218.1,719.2 L218.9,719.2 L219.6,719.3 L220.3,719.3 L221.0,719.3 L221.7,719.3 L222.4,719.4 L223.1,719.4 L223.8,719.4 L224.5,719.4 L225.2,719.4 L225.9,719.4 L226.6,719.5 L227.3,719.5 L228.0,719.5 L228.7,719.5 L229.4,719.5 L230.1,719.5 L230.8,719.6 L231.5,719.6 L232.2,719.6 L232.9,719.6 L233.6,719.6 L234.3,719.6 L235.0,719.6 L235.7,719.6 L236.4,719.7 L237.1,719.7 L237.8,719.7 L238.5,719.7 L239.2,719.7 L239.9,719.7 L240.6,719.7 L241.3,719.7 L242.0,719.7 L242.7,719.7 L243.4,719.7 L244.1,719.7 L244.8,719.7 L245.5,719.7 L246.2,719.7 L246.9,719.7 L247.6,719.7 L248.3,719.7 L249.0,719.7 L249.7,719.7 L250.4,719.7 L251.1,719.6 L251.8,719.6 L252.5,719.6 L253.2,719.6 L253.9,719.6 L254.6,719.5 L255.3,719.5 L256.0,719.5 L256.7,719.4 L257.4,719.4 L258.1,719.4 L258.8,719.3 L259.5,719.3 L260.2,719.2 L260.9,719.2 L261.6,719.1 L262.3,719.1 L263.0,719.0 L263.7,719.0 L264.4,718.9 L265.1,718.9 L265.8,718.8 L266.5,718.8 L267.2,718.7 L267.9,718.6 L268.6,718.6 L269.3,718.5 L270.0,718.4 L270.7,718.4 L271.4,718.3 L272.1,718.2 L272.8,718.2 L273.5,718.1 L274.2,718.0 L274.9,717.9 L275.6,717.9 L276.3,717.8 L277.0,717.7 L277.7,717.6 L278.4,717.6 L279.1,717.5 L279.8,717.4 L280.5,717.3 L281.2,717.3 L281.9,717.2 L282.6,717.1 L283.3,717.0 L284.0,716.9 L284.7,716.9 L285.4,716.8 L286.1,716.7 L286.8,716.6 L287.5,716.5 L288.2,716.4 L288.8,716.4 L289.5,716.3 L290.2,716.2 L290.9,716.1 L291.6,716.0 L292.2,715.9 L292.9,715.9 L293.6,715.8 L294.2,715.7 L294.9,715.6 L295.5,715.5 L296.2,715.4 L296.8,715.3 L297.5,715.3 L298.2,715.2 L298.9,715.1 L299.6,715.0 L300.3,714.9 L301.1,714.8 L301.8,714.7 L302.5,714.6 L303.2,714.5 L303.9,714.4 L304.6,714.3 L305.3,714.2 L306.1,714.1 L306.8,714.0 L307.5,713.9 L308.2,713.8 L308.9,713.6 L309.6,713.5 L310.3,713.4 L311.1,713.3 L311.8,713.2 L312.5,713.1 L313.2,713.0 L313.9,712.9 L314.6,712.7 L315.3,712.6" fill="none" stroke="#800000" stroke-width="2.15" stroke-linejoin="round" stroke-linecap="butt" />
<path d="M73.2,954.5 L73.3,953.8 L73.3,953.1 L73.4,952.4 L73.5,951.7 L73.6,951.0 L73.7,950.3 L73.8,949.6 L73.9,949.0 L74.0,948.3 L74.1,947.6 L74.2,946.9 L74.3,946.2 L74.4,945.5 L74.5,944.8 L74.6,944.1 L74.7,943.4 L74.8,942.7 L74.9,942.0 L75.0,941.3 L75.1,940.6 L75.1,939.9 L75.2,939.2 L75.3,938.5 L75.4,937.8 L75.5,937.1 L75.6,936.4 L75.7,935.7 L75.8,935.1 L75.9,934.4 L76.0,933.7 L76.1,933.0 L76.2,932.3 L76.3,931.6 L76.4,930.9 L76.5,930.2 L76.6,929.5 L76.7,928.8 L76.8,928.1 L76.9,927.4 L77.0,926.7 L77.1,926.0 L77.2,925.3 L77.3,924.6 L77.4,923.9 L77.5,923.2 L77.6,922.5 L77.7,921.9 L77.8,921.2 L77.9,920.5 L78.0,919.8 L78.1,919.1 L78.2,918.4 L78.3,917.7 L78.4,917.0 L78.5,916.3 L78.6,915.6 L78.7,914.9 L78.8,914.2 L78.9,913.5 L79.0,912.8 L79.1,912.1 L79.2,911.4 L79.3,910.7 L79.4,910.0 L79.5,909.4 L79.6,908.7 L79.7,908.0 L79.8,907.3 L79.9,906.6 L80.0,905.9 L80.1,905.2 L80.2,904.5 L80.3,903.8 L80.4,903.1 L80.5,902.4 L80.6,901.7 L80.7,901.0 L80.8,900.3 L80.9,899.6 L81.0,898.9 L81.1,898.2 L81.2,897.6 L81.3,896.9 L81.4,896.2 L81.5,895.5 L81.6,894.8 L81.7,894.1 L81.8,893.4 L81.9,892.7 L82.0,892.0 L82.1,891.3 L82.2,890.6 L82.3,889.9 L82.4,889.2 L82.5,888.5 L82.6,887.8 L82.7,887.1 L82.8,886.4 L82.9,885.7 L83.0,885.1 L83.1,884.4 L83.2,883.7 L83.3,883.0 L83.4,882.3 L83.5,881.6 L83.6,880.9 L83.7,880.2 L83.8,879.5 L83.9,878.8 L84.0,878.1 L84.1,877.4 L84.2,876.7 L84.2,876.0 L84.3,875.3 L84.4,874.6 L84.5,873.9 L84.6,873.2 L84.7,872.5 L84.8,871.8 L84.9,871.1 L85.0,870.4 L85.1,869.8 L85.2,869.1 L85.2,868.4 L85.3,867.7 L85.4,867.0 L85.5,866.3 L85.6,865.6 L85.7,864.9 L85.8,864.2 L85.9,863.5 L86.0,862.8 L86.1,862.1 L86.2,861.4 L86.3,860.7 L86.4,860.0 L86.5,859.3 L86.5,858.6 L86.6,857.9 L86.7,857.2 L86.8,856.5 L86.9,855.8 L87.0,855.1 L87.1,854.5 L87.2,853.8 L87.3,853.1 L87.4,852.4 L87.5,851.7 L87.6,851.0 L87.7,850.3 L87.8,849.6 L87.9,848.9 L88.0,848.2 L88.1,847.5 L88.2,846.8 L88.3,846.1 L88.4,845.4 L88.5,844.7 L88.6,844.0 L88.7,843.3 L88.8,842.6 L88.9,842.0 L89.0,841.3 L89.1,840.6 L89.2,839.9 L89.3,839.2 L89.4,838.5 L89.5,837.8 L89.6,837.1 L89.7,836.4 L89.8,835.7 L89.9,835.0 L90.0,834.3 L90.1,833.6 L90.2,832.9 L90.3,832.2 L90.4,831.5 L90.5,830.8 L90.6,830.1 L90.7,829.5 L90.8,828.8 L90.9,828.1 L91.0,827.4 L91.1,826.7 L91.2,826.0 L91.3,825.3 L91.4,824.6 L91.5,823.9 L91.6,823.2 L91.7,822.5 L91.8,821.8 L91.9,821.1 L92.0,820.4 L92.1,819.7 L92.2,819.0 L92.3,818.3 L92.4,817.6 L92.5,817.0 L92.6,816.3 L92.7,815.6 L92.8,814.9 L92.9,814.2 L93.0,813.5 L93.1,812.8 L93.3,812.1 L93.4,811.4 L93.5,810.7 L93.6,810.0 L93.7,809.3 L93.8,808.6 L93.9,807.9 L94.0,807.2 L94.1,806.5 L94.2,805.8 L94.3,805.1 L94.4,804.5 L94.5,803.8 L94.6,803.1 L94.7,802.4 L94.8,801.7 L94.9,801.0 L95.0,800.3 L95.2,799.6 L95.3,798.9 L95.4,798.2 L95.5,797.5 L95.6,796.8 L95.7,796.1 L95.8,795.4 L95.9,794.8 L96.1,794.1 L96.2,793.4 L96.3,792.7 L96.4,792.0 L96.5,791.3 L96.7,790.6 L96.8,789.9 L96.9,789.2 L97.0,788.5 L97.1,787.9 L97.3,787.2 L97.4,786.5 L97.5,785.8 L97.7,785.1 L97.8,784.4 L97.9,783.7 L98.0,783.0 L98.2,782.3 L98.3,781.6 L98.5,781.0 L98.6,780.3 L98.7,779.6 L98.9,778.9 L99.0,778.2 L99.1,777.5 L99.3,776.8 L99.4,776.1 L99.6,775.5 L99.7,774.8 L99.9,774.1 L100.0,773.4 L100.2,772.7 L100.3,772.0 L100.5,771.3 L100.6,770.6 L100.8,770.0 L100.9,769.3 L101.1,768.6 L101.2,767.9 L101.4,767.2 L101.5,766.5 L101.7,765.9 L101.9,765.2 L102.0,764.5 L102.2,763.8 L102.3,763.1 L102.5,762.4 L102.7,761.8 L102.8,761.1 L103.0,760.4 L103.2,759.7 L103.3,759.0 L103.5,758.4 L103.7,757.7 L103.8,757.0 L104.0,756.3 L104.2,755.6 L104.4,755.0 L104.6,754.3 L104.7,753.6 L104.9,752.9 L105.1,752.2 L105.3,751.6 L105.5,750.9 L105.7,750.2 L105.8,749.5 L106.0,748.9 L106.2,748.2 L106.4,747.5 L106.6,746.8 L106.8,746.2 L107.0,745.5 L107.2,744.8 L107.4,744.1 L107.6,743.5 L107.8,742.8 L108.0,742.1 L108.2,741.5 L108.5,740.8 L108.7,740.1 L108.9,739.5 L109.1,738.8 L109.3,738.1 L109.6,737.5 L109.8,736.8 L110.0,736.2 L110.3,735.5 L110.5,734.8 L110.8,734.2 L111.0,733.5 L111.3,732.8 L111.5,732.2 L111.8,731.5 L112.0,730.9 L112.3,730.2 L112.6,729.6 L112.8,728.9 L113.1,728.3 L113.4,727.7 L113.7,727.0 L114.0,726.4 L114.3,725.8 L114.6,725.2 L114.9,724.5 L115.2,723.9 L115.6,723.3 L115.9,722.7 L116.2,722.0 L116.6,721.4 L116.9,720.8 L117.3,720.2 L117.7,719.6 L118.1,719.0 L118.5,718.4 L118.9,717.9 L119.3,717.3 L119.7,716.7 L120.1,716.2 L120.5,715.7 L120.9,715.2 L121.4,714.6 L121.8,714.1 L122.3,713.6 L122.8,713.1 L123.3,712.6 L123.8,712.2 L124.3,711.7 L124.8,711.2 L125.3,710.8 L125.9,710.3 L126.4,709.9 L127.0,709.5 L127.5,709.1 L128.1,708.7 L128.6,708.4 L129.2,708.0 L129.8,707.7 L130.4,707.3 L131.0,707.0 L131.7,706.7 L132.3,706.4 L132.9,706.1 L133.5,705.8 L134.2,705.6 L134.8,705.4 L135.4,705.1 L136.0,704.9 L136.7,704.6 L137.3,704.4 L138.0,704.2 L138.7,704.0 L139.3,703.9 L140.0,703.7 L140.7,703.6 L141.3,703.4 L142.0,703.3 L142.7,703.2 L143.3,703.1 L144.0,703.0 L144.7,702.9 L145.4,702.8 L146.0,702.7 L146.7,702.7 L147.4,702.6 L148.1,702.6 L148.8,702.5 L149.5,702.5 L150.2,702.5 L150.9,702.5 L151.6,702.4 L152.3,702.4 L153.0,702.4 L153.7,702.4 L154.4,702.4 L155.1,702.4 L155.8,702.4 L156.5,702.5 L157.2,702.5 L157.9,702.5 L158.6,702.5 L159.3,702.6 L160.0,702.6 L160.7,702.6 L161.4,702.7 L162.1,702.7 L162.8,702.8 L163.5,702.8 L164.2,702.9 L164.9,702.9 L165.6,703.0 L166.3,703.0 L167.0,703.1 L167.7,703.1 L168.4,703.2 L169.1,703.3 L169.8,703.3 L170.5,703.4 L171.2,703.5 L171.9,703.6 L172.6,703.6 L173.3,703.7 L174.0,703.8 L174.7,703.9 L175.4,703.9 L176.1,704.0 L176.8,704.1 L177.5,704.2 L178.1,704.3 L178.8,704.3 L179.5,704.4 L180.2,704.5 L180.9,704.6 L181.6,704.7 L182.3,704.7 L183.0,704.8 L183.7,704.9 L184.4,705.0 L185.1,705.1 L185.8,705.1 L186.5,705.2 L187.2,705.3 L187.9,705.4 L188.6,705.4 L189.3,705.5 L190.0,705.6 L190.7,705.7 L191.4,705.7 L192.1,705.8 L192.8,705.9 L193.5,705.9 L194.2,706.0 L194.9,706.1 L195.6,706.2 L196.3,706.2 L197.0,706.3 L197.7,706.3 L198.4,706.4 L199.1,706.5 L199.8,706.5 L200.5,706.6 L201.2,706.7 L201.9,706.7 L202.6,706.8 L203.3,706.8 L204.0,706.9 L204.7,706.9 L205.4,707.0 L206.1,707.0 L206.8,707.1 L207.5,707.2 L208.2,707.2 L208.9,707.3 L209.6,707.3 L210.3,707.4 L211.0,707.4 L211.7,707.5 L212.4,707.5 L213.1,707.6 L213.8,707.6 L214.5,707.6 L215.2,707.7 L215.9,707.7 L216.6,707.8 L217.3,707.8 L218.0,707.9 L218.7,707.9 L219.4,708.0 L220.1,708.0 L220.8,708.0 L221.5,708.1 L222.2,708.1 L222.9,708.2 L223.6,708.2 L224.3,708.2 L225.0,708.3 L225.7,708.3 L226.4,708.4 L227.1,708.4 L227.8,708.4 L228.5,708.5 L229.2,708.5 L229.9,708.5 L230.6,708.6 L231.3,708.6 L232.0,708.6 L232.7,708.7 L233.4,708.7 L234.1,708.7 L234.8,708.7 L235.5,708.8 L236.2,708.8 L236.9,708.8 L237.6,708.8 L238.3,708.8 L239.0,708.9 L239.7,708.9 L240.4,708.9 L241.1,708.9 L241.8,708.9 L242.5,709.0 L243.2,709.0 L243.9,709.0 L244.6,709.0 L245.3,709.0 L246.0,709.0 L246.7,709.0 L247.4,709.0 L248.1,709.0 L248.8,709.0 L249.5,709.0 L250.2,709.0 L250.9,709.0 L251.6,709.0 L252.3,709.0 L253.0,709.0 L253.7,709.0 L254.4,709.0 L255.1,709.0 L255.8,708.9 L256.5,708.9 L257.2,708.9 L257.9,708.9 L258.6,708.9 L259.3,708.9 L260.0,708.8 L260.7,708.8 L261.4,708.8 L262.1,708.8 L262.8,708.7 L263.5,708.7 L264.2,708.7 L264.9,708.7 L265.6,708.6 L266.3,708.6 L267.0,708.6 L267.7,708.5 L268.4,708.5 L269.1,708.4 L269.8,708.4 L270.6,708.4 L271.3,708.3 L272.0,708.3 L272.7,708.3 L273.4,708.2 L274.1,708.2 L274.8,708.1 L275.5,708.1 L276.2,708.0 L276.9,708.0 L277.6,708.0 L278.3,707.9 L279.0,707.9 L279.7,707.8 L280.4,707.8 L281.1,707.7 L281.8,707.7 L282.5,707.6 L283.2,707.6 L283.9,707.5 L284.5,707.5 L285.2,707.4 L285.9,707.4 L286.6,707.3 L287.3,707.3 L288.0,707.2 L288.7,707.2 L289.4,707.1 L290.1,707.1 L290.8,707.0 L291.5,707.0 L292.1,706.9 L292.8,706.9 L293.5,706.8 L294.1,706.8 L294.8,706.7 L295.4,706.6 L296.1,706.6 L296.7,706.5 L297.4,706.5 L298.1,706.4 L298.8,706.4 L299.5,706.3 L300.3,706.2 L301.0,706.2 L301.7,706.1 L302.4,706.0 L303.1,706.0 L303.9,705.9 L304.6,705.8 L305.3,705.8 L306.0,705.7 L306.7,705.6 L307.4,705.5 L308.2,705.5 L308.9,705.4 L309.6,705.3 L310.3,705.2 L311.0,705.2 L311.7,705.1 L312.5,705.0 L313.2,704.9 L313.9,704.8 L314.6,704.8 L315.3,704.7" fill="none" stroke="#008000" stroke-width="2.15" stroke-linejoin="round" stroke-linecap="butt" />
<path d="M73.2,954.5 L73.4,953.8 L73.6,953.2 L73.8,952.5 L74.0,951.8 L74.2,951.2 L74.4,950.5 L74.6,949.8 L74.8,949.1 L75.0,948.5 L75.2,947.8 L75.4,947.1 L75.6,946.5 L75.8,945.8 L76.0,945.1 L76.2,944.4 L76.4,943.8 L76.6,943.1 L76.8,942.4 L77.0,941.7 L77.2,941.1 L77.4,940.4 L77.6,939.7 L77.8,939.0 L78.0,938.4 L78.2,937.7 L78.3,937.0 L78.5,936.3 L78.7,935.7 L78.9,935.0 L79.1,934.3 L79.3,933.6 L79.5,933.0 L79.7,932.3 L79.8,931.6 L80.0,930.9 L80.2,930.3 L80.4,929.6 L80.6,928.9 L80.8,928.2 L80.9,927.5 L81.1,926.9 L81.3,926.2 L81.5,925.5 L81.6,924.8 L81.8,924.1 L82.0,923.5 L82.2,922.8 L82.3,922.1 L82.5,921.4 L82.7,920.7 L82.9,920.1 L83.0,919.4 L83.2,918.7 L83.4,918.0 L83.5,917.3 L83.7,916.7 L83.9,916.0 L84.0,915.3 L84.2,914.6 L84.4,913.9 L84.5,913.3 L84.7,912.6 L84.9,911.9 L85.0,911.2 L85.2,910.5 L85.4,909.8 L85.5,909.2 L85.7,908.5 L85.8,907.8 L86.0,907.1 L86.2,906.4 L86.3,905.7 L86.5,905.1 L86.6,904.4 L86.8,903.7 L87.0,903.0 L87.1,902.3 L87.3,901.6 L87.4,901.0 L87.6,900.3 L87.7,899.6 L87.9,898.9 L88.1,898.2 L88.2,897.5 L88.4,896.8 L88.5,896.2 L88.7,895.5 L88.8,894.8 L89.0,894.1 L89.1,893.4 L89.3,892.7 L89.4,892.0 L89.6,891.4 L89.7,890.7 L89.9,890.0 L90.0,889.3 L90.2,888.6 L90.3,887.9 L90.5,887.2 L90.6,886.6 L90.8,885.9 L90.9,885.2 L91.0,884.5 L91.2,883.8 L91.3,883.1 L91.5,882.4 L91.6,881.8 L91.8,881.1 L91.9,880.4 L92.1,879.7 L92.2,879.0 L92.3,878.3 L92.5,877.6 L92.6,876.9 L92.8,876.3 L92.9,875.6 L93.0,874.9 L93.2,874.2 L93.3,873.5 L93.4,872.8 L93.6,872.1 L93.7,871.4 L93.9,870.7 L94.0,870.1 L94.1,869.4 L94.3,868.7 L94.4,868.0 L94.5,867.3 L94.7,866.6 L94.8,865.9 L94.9,865.2 L95.0,864.5 L95.2,863.9 L95.3,863.2 L95.4,862.5 L95.6,861.8 L95.7,861.1 L95.8,860.4 L95.9,859.7 L96.1,859.0 L96.2,858.3 L96.3,857.6 L96.4,857.0 L96.6,856.3 L96.7,855.6 L96.8,854.9 L96.9,854.2 L97.1,853.5 L97.2,852.8 L97.3,852.1 L97.4,851.4 L97.5,850.7 L97.6,850.0 L97.8,849.3 L97.9,848.7 L98.0,848.0 L98.1,847.3 L98.2,846.6 L98.4,845.9 L98.5,845.2 L98.6,844.5 L98.7,843.8 L98.8,843.1 L98.9,842.4 L99.1,841.7 L99.2,841.0 L99.3,840.3 L99.4,839.7 L99.5,839.0 L99.6,838.3 L99.8,837.6 L99.9,836.9 L100.0,836.2 L100.1,835.5 L100.2,834.8 L100.4,834.1 L100.5,833.4 L100.6,832.7 L100.7,832.0 L100.8,831.4 L101.0,830.7 L101.1,830.0 L101.2,829.3 L101.3,828.6 L101.5,827.9 L101.6,827.2 L101.7,826.5 L101.8,825.8 L101.9,825.1 L102.1,824.4 L102.2,823.8 L102.3,823.1 L102.4,822.4 L102.6,821.7 L102.7,821.0 L102.8,820.3 L102.9,819.6 L103.1,818.9 L103.2,818.2 L103.3,817.5 L103.4,816.8 L103.6,816.2 L103.7,815.5 L103.8,814.8 L103.9,814.1 L104.0,813.4 L104.2,812.7 L104.3,812.0 L104.4,811.3 L104.5,810.6 L104.6,809.9 L104.8,809.2 L104.9,808.5 L105.0,807.9 L105.1,807.2 L105.2,806.5 L105.3,805.8 L105.4,805.1 L105.5,804.4 L105.7,803.7 L105.8,803.0 L105.9,802.3 L106.0,801.6 L106.1,800.9 L106.2,800.2 L106.3,799.5 L106.4,798.8 L106.5,798.1 L106.6,797.4 L106.8,796.8 L106.9,796.1 L107.0,795.4 L107.1,794.7 L107.2,794.0 L107.3,793.3 L107.4,792.6 L107.6,791.9 L107.7,791.2 L107.8,790.5 L107.9,789.8 L108.0,789.1 L108.2,788.4 L108.3,787.8 L108.4,787.1 L108.5,786.4 L108.7,785.7 L108.8,785.0 L108.9,784.3 L109.1,783.6 L109.2,782.9 L109.4,782.3 L109.5,781.6 L109.7,780.9 L109.8,780.2 L110.0,779.5 L110.1,778.8 L110.3,778.2 L110.4,777.5 L110.6,776.8 L110.8,776.1 L110.9,775.4 L111.1,774.8 L111.3,774.1 L111.4,773.4 L111.6,772.7 L111.8,772.0 L112.0,771.4 L112.1,770.7 L112.3,770.0 L112.5,769.3 L112.7,768.6 L112.9,768.0 L113.1,767.3 L113.2,766.6 L113.4,765.9 L113.6,765.3 L113.8,764.6 L114.0,763.9 L114.2,763.2 L114.4,762.5 L114.5,761.9 L114.7,761.2 L114.9,760.5 L115.1,759.8 L115.3,759.1 L115.5,758.5 L115.6,757.8 L115.8,757.1 L116.0,756.4 L116.2,755.8 L116.4,755.1 L116.6,754.4 L116.8,753.7 L116.9,753.0 L117.1,752.4 L117.3,751.7 L117.5,751.0 L117.7,750.3 L117.9,749.7 L118.1,749.0 L118.2,748.3 L118.4,747.6 L118.6,747.0 L118.8,746.3 L119.0,745.6 L119.2,744.9 L119.4,744.3 L119.6,743.6 L119.8,742.9 L120.0,742.3 L120.2,741.6 L120.4,740.9 L120.6,740.2 L120.8,739.6 L121.1,738.9 L121.3,738.2 L121.5,737.6 L121.7,736.9 L122.0,736.2 L122.2,735.6 L122.4,734.9 L122.7,734.3 L122.9,733.6 L123.1,732.9 L123.4,732.3 L123.6,731.6 L123.9,731.0 L124.1,730.3 L124.4,729.6 L124.7,729.0 L124.9,728.4 L125.2,727.7 L125.5,727.1 L125.7,726.4 L126.0,725.8 L126.3,725.2 L126.6,724.5 L126.9,723.9 L127.2,723.3 L127.5,722.6 L127.8,722.0 L128.1,721.4 L128.4,720.8 L128.7,720.1 L129.1,719.5 L129.4,718.9 L129.7,718.2 L130.1,717.6 L130.4,717.0 L130.7,716.4 L131.1,715.8 L131.5,715.2 L131.8,714.6 L132.2,714.0 L132.6,713.4 L132.9,712.8 L133.3,712.2 L133.7,711.6 L134.1,711.0 L134.5,710.4 L134.9,709.8 L135.3,709.3 L135.7,708.7 L136.1,708.1 L136.5,707.6 L136.9,707.0 L137.3,706.5 L137.7,706.0 L138.1,705.4 L138.6,704.9 L139.0,704.3 L139.5,703.8 L139.9,703.3 L140.4,702.7 L140.8,702.2 L141.3,701.7 L141.8,701.2 L142.3,700.7 L142.8,700.2 L143.3,699.7 L143.8,699.2 L144.3,698.7 L144.8,698.3 L145.3,697.8 L145.9,697.4 L146.4,696.9 L146.9,696.5 L147.4,696.1 L148.0,695.7 L148.5,695.3 L149.1,694.9 L149.7,694.5 L150.3,694.1 L150.8,693.7 L151.4,693.3 L152.0,693.0 L152.7,692.6 L153.3,692.3 L153.9,691.9 L154.5,691.6 L155.1,691.3 L155.7,691.0 L156.3,690.7 L157.0,690.5 L157.6,690.2 L158.2,690.0 L158.8,689.7 L159.5,689.5 L160.1,689.3 L160.8,689.1 L161.4,688.9 L162.1,688.7 L162.8,688.5 L163.4,688.3 L164.1,688.1 L164.8,687.9 L165.5,687.8 L166.2,687.6 L166.8,687.5 L167.5,687.4 L168.2,687.2 L168.9,687.1 L169.6,687.0 L170.3,686.9 L171.0,686.8 L171.7,686.7 L172.3,686.6 L173.0,686.6 L173.7,686.5 L174.4,686.4 L175.1,686.4 L175.8,686.3 L176.5,686.3 L177.2,686.2 L177.9,686.2 L178.6,686.1 L179.3,686.1 L180.0,686.0 L180.7,686.0 L181.4,686.0 L182.1,686.0 L182.8,685.9 L183.5,685.9 L184.2,685.9 L184.9,685.9 L185.6,685.9 L186.3,685.9 L187.0,685.9 L187.7,685.9 L188.4,685.9 L189.1,685.8 L189.8,685.8 L190.5,685.8 L191.2,685.8 L191.9,685.8 L192.6,685.8 L193.3,685.9 L194.0,685.9 L194.7,685.9 L195.4,685.9 L196.1,685.9 L196.8,685.9 L197.5,685.9 L198.2,685.9 L198.9,685.9 L199.6,685.9 L200.3,685.9 L201.0,686.0 L201.7,686.0 L202.4,686.0 L203.1,686.0 L203.8,686.0 L204.5,686.1 L205.2,686.1 L205.9,686.1 L206.6,686.2 L207.3,686.2 L208.0,686.2 L208.7,686.2 L209.4,686.3 L210.1,686.3 L210.8,686.4 L211.5,686.4 L212.3,686.4 L213.0,686.5 L213.7,686.5 L214.4,686.5 L215.1,686.6 L215.8,686.6 L216.5,686.7 L217.2,686.7 L217.9,686.8 L218.6,686.8 L219.3,686.8 L220.0,686.9 L220.7,686.9 L221.4,687.0 L222.1,687.0 L222.8,687.0 L223.5,687.1 L224.2,687.1 L224.9,687.2 L225.6,687.2 L226.3,687.2 L227.0,687.3 L227.7,687.3 L228.4,687.3 L229.1,687.4 L229.8,687.4 L230.5,687.4 L231.2,687.5 L231.9,687.5 L232.6,687.5 L233.3,687.6 L234.0,687.6 L234.7,687.6 L235.4,687.7 L236.1,687.7 L236.8,687.7 L237.5,687.8 L238.2,687.8 L238.9,687.8 L239.6,687.8 L240.3,687.9 L241.0,687.9 L241.7,687.9 L242.4,687.9 L243.1,688.0 L243.8,688.0 L244.5,688.0 L245.2,688.0 L245.9,688.0 L246.6,688.1 L247.3,688.1 L248.0,688.1 L248.7,688.1 L249.4,688.1 L250.1,688.1 L250.8,688.1 L251.5,688.1 L252.2,688.1 L252.9,688.2 L253.6,688.2 L254.3,688.2 L255.0,688.2 L255.7,688.2 L256.4,688.2 L257.1,688.2 L257.8,688.2 L258.5,688.2 L259.2,688.2 L259.9,688.2 L260.6,688.1 L261.3,688.1 L262.0,688.1 L262.7,688.1 L263.4,688.1 L264.1,688.1 L264.8,688.1 L265.5,688.1 L266.3,688.0 L267.0,688.0 L267.7,688.0 L268.4,688.0 L269.1,688.0 L269.8,688.0 L270.5,687.9 L271.2,687.9 L271.9,687.9 L272.6,687.9 L273.3,687.8 L274.0,687.8 L274.7,687.8 L275.4,687.8 L276.1,687.7 L276.8,687.7 L277.5,687.7 L278.2,687.6 L278.9,687.6 L279.6,687.6 L280.3,687.6 L281.0,687.5 L281.7,687.5 L282.4,687.5 L283.1,687.4 L283.8,687.4 L284.5,687.4 L285.2,687.3 L285.9,687.3 L286.6,687.3 L287.3,687.2 L288.0,687.2 L288.7,687.2 L289.3,687.1 L290.0,687.1 L290.7,687.0 L291.4,687.0 L292.1,687.0 L292.8,686.9 L293.4,686.9 L294.1,686.9 L294.7,686.8 L295.4,686.8 L296.0,686.7 L296.7,686.7 L297.4,686.7 L298.1,686.6 L298.8,686.6 L299.5,686.5 L300.2,686.5 L300.9,686.4 L301.7,686.4 L302.4,686.3 L303.1,686.3 L303.8,686.2 L304.5,686.2 L305.3,686.1 L306.0,686.1 L306.7,686.0 L307.4,686.0 L308.1,685.9 L308.9,685.8 L309.6,685.8 L310.3,685.7 L311.0,685.7 L311.7,685.6 L312.5,685.6 L313.2,685.5 L313.9,685.4 L314.6,685.4 L315.3,685.3" fill="none" stroke="#8000ff" stroke-width="2.15" stroke-linejoin="round" stroke-linecap="butt" />
<path d="M256.3,868.2 L256.1,867.2 L255.9,866.2 L255.6,865.3 L255.4,864.3 L255.2,863.3 L255.0,862.3 L254.7,861.3 L254.5,860.4 L254.3,859.4 L254.0,858.4 L253.8,857.4 L253.6,856.5 L253.3,855.5 L253.1,854.5 L252.9,853.5 L252.6,852.5 L252.4,851.6 L252.1,850.6 L251.9,849.6 L251.6,848.6 L251.4,847.7 L251.2,846.7 L250.9,845.7 L250.7,844.7 L250.4,843.8 L250.2,842.8 L249.9,841.8 L249.7,840.9 L249.4,839.9 L249.2,838.9 L248.9,837.9 L248.7,837.0 L248.4,836.0 L248.2,835.0 L247.9,834.0 L247.6,833.1 L247.4,832.1 L247.1,831.1 L246.8,830.2 L246.6,829.2 L246.3,828.2 L246.0,827.3 L245.8,826.3 L245.5,825.3 L245.2,824.4 L244.9,823.4 L244.6,822.4 L244.4,821.5 L244.1,820.5 L243.8,819.5 L243.5,818.6 L243.3,817.6 L243.0,816.6 L242.7,815.7 L242.4,814.7 L242.2,813.7 L241.9,812.8 L241.6,811.8 L241.4,810.8 L241.1,809.9 L240.9,808.9 L240.6,807.9 L240.4,806.9 L240.1,806.0 L239.9,805.0 L239.6,804.0 L239.4,803.0 L239.1,802.0 L238.9,801.1 L238.6,800.1 L238.4,799.1 L238.1,798.1 L237.9,797.2 L237.6,796.2 L237.4,795.2 L237.1,794.2 L236.9,793.3 L236.6,792.3 L236.3,791.3 L236.0,790.4 L235.8,789.4 L235.5,788.4 L235.2,787.5 L234.9,786.5 L234.6,785.6 L234.2,784.6 L233.9,783.7 L233.6,782.8 L233.2,781.8 L232.8,780.9 L232.5,780.0 L232.1,779.1 L231.7,778.1 L231.2,777.2 L230.8,776.3 L230.4,775.4 L230.0,774.5 L229.5,773.6 L229.1,772.7 L228.7,771.8 L228.2,770.8 L227.8,769.9 L227.4,769.0 L227.0,768.1 L226.6,767.2 L226.2,766.3 L225.8,765.3 L225.4,764.4 L225.0,763.5 L224.6,762.5 L224.3,761.6 L223.9,760.6 L223.6,759.7 L223.3,758.8 L222.9,757.8 L222.6,756.9 L222.3,755.9 L221.9,755.0 L221.6,754.0 L221.3,753.0 L221.0,752.1 L220.6,751.1 L220.3,750.2 L220.0,749.2 L219.7,748.3 L219.3,747.3 L219.0,746.4 L218.7,745.4 L218.3,744.5 L218.0,743.5 L217.7,742.6 L217.3,741.6 L217.0,740.7 L216.6,739.8 L216.2,738.8 L215.9,737.9 L215.5,737.0 L215.1,736.1 L214.7,735.1 L214.3,734.2 L213.9,733.3 L213.5,732.4 L213.1,731.5 L212.6,730.6 L212.2,729.7 L211.8,728.8 L211.4,727.9 L210.9,727.0 L210.5,726.0 L210.0,725.1 L209.6,724.2 L209.1,723.4 L208.7,722.5 L208.2,721.6 L207.7,720.7 L207.3,719.8 L206.8,718.9 L206.3,718.0 L205.8,717.1 L205.4,716.2 L204.9,715.3 L204.4,714.4 L203.9,713.6 L203.4,712.7 L203.0,711.8 L202.5,710.9 L202.0,710.0 L201.5,709.1 L201.0,708.3 L200.5,707.4 L200.1,706.5 L199.6,705.6 L199.1,704.7 L198.6,703.9 L198.1,703.0 L197.6,702.1 L197.1,701.2 L196.6,700.4 L196.1,699.5 L195.6,698.6 L195.1,697.7 L194.6,696.9 L194.1,696.0 L193.6,695.1 L193.1,694.3 L192.6,693.4 L192.0,692.5 L191.5,691.7 L191.0,690.8 L190.4,690.0 L189.9,689.1 L189.4,688.3 L188.8,687.4 L188.3,686.6 L187.7,685.8 L187.2,685.0 L186.6,684.1 L186.0,683.3 L185.5,682.5 L184.9,681.7 L184.3,680.8 L183.7,680.0 L183.1,679.2 L182.5,678.4 L181.9,677.6 L181.3,676.8 L180.7,676.0 L180.1,675.2 L179.5,674.4 L178.9,673.6 L178.2,672.8 L177.6,672.0 L177.0,671.3 L176.3,670.5 L175.7,669.7 L175.1,668.9 L174.4,668.1 L173.8,667.4 L173.1,666.6" fill="none" stroke="#000" stroke-width="0.8" stroke-linejoin="round" stroke-linecap="butt" />
<path d="M172.1,666.0 L177.4,669.0 L174.6,671.6 Z" fill="#000"/>
</g>
<g clip-path="url(#cb)">
<path d="M376.3,955.3 L376.9,955.3 L377.5,955.3 L378.1,955.2 L378.7,955.2 L379.3,955.2 L379.9,955.2 L380.5,955.2 L381.1,955.2 L381.7,955.1 L382.3,955.1 L382.9,955.1 L383.5,955.1 L384.1,955.1 L384.7,955.1 L385.3,955.0 L385.9,955.0 L386.5,955.0 L387.1,955.0 L387.7,955.0 L388.3,954.9 L388.9,954.9 L389.5,954.9 L390.1,954.9 L390.7,954.9 L391.3,954.9 L391.9,954.8 L392.5,954.8 L393.2,954.8 L393.8,954.8 L394.4,954.8 L395.0,954.7 L395.6,954.7 L396.2,954.7 L396.8,954.7 L397.4,954.7 L398.0,954.7 L398.6,954.6 L399.2,954.6 L399.8,954.6 L400.4,954.6 L401.0,954.6 L401.6,954.5 L402.2,954.5 L402.8,954.5 L403.4,954.5 L404.0,954.5 L404.6,954.5 L405.2,954.4 L405.8,954.4 L406.4,954.4 L407.0,954.4 L407.6,954.4 L408.2,954.3 L408.8,954.3 L409.4,954.3 L410.0,954.3 L410.6,954.3 L411.2,954.3 L411.8,954.2 L412.4,954.2 L413.0,954.2 L413.6,954.2 L414.2,954.2 L414.8,954.2 L415.4,954.1 L416.0,954.1 L416.6,954.1 L417.2,954.1 L417.8,954.1 L418.4,954.1 L419.0,954.0 L419.6,954.0 L420.2,954.0 L420.8,954.0 L421.4,954.0 L422.0,953.9 L422.6,953.9 L423.2,953.9 L423.8,953.9 L424.5,953.9 L425.1,953.8 L425.7,953.8 L426.3,953.8 L426.9,953.8 L427.5,953.8 L428.1,953.7 L428.7,953.7 L429.3,953.7 L429.9,953.7 L430.5,953.6 L431.1,953.6 L431.7,953.6 L432.3,953.6 L432.9,953.5 L433.5,953.5 L434.1,953.5 L434.7,953.5 L435.3,953.4 L435.9,953.4 L436.5,953.4 L437.1,953.3 L437.7,953.3 L438.3,953.3 L438.9,953.2 L439.5,953.2 L440.1,953.2 L440.7,953.1 L441.3,953.1 L441.9,953.0 L442.5,953.0 L443.1,952.9 L443.7,952.9 L444.3,952.8 L444.9,952.8 L445.5,952.7 L446.1,952.7 L446.7,952.6 L447.3,952.6 L447.9,952.5 L448.5,952.5 L449.1,952.4 L449.7,952.4 L450.3,952.3 L450.9,952.2 L451.5,952.2 L452.1,952.1 L452.7,952.1 L453.3,952.0 L453.9,951.9 L454.5,951.9 L455.1,951.8 L455.7,951.7 L456.3,951.7 L456.9,951.6 L457.5,951.5 L458.1,951.5 L458.7,951.4 L459.3,951.3 L459.9,951.3 L460.5,951.2 L461.1,951.1 L461.7,951.1 L462.3,951.0 L462.8,950.9 L463.4,950.8 L464.0,950.8 L464.6,950.7 L465.2,950.6 L465.8,950.5 L466.4,950.4 L467.0,950.4 L467.6,950.3 L468.2,950.2 L468.8,950.1 L469.4,950.0 L470.0,949.9 L470.6,949.8 L471.2,949.7 L471.8,949.6 L472.4,949.5 L473.0,949.4 L473.6,949.3 L474.2,949.2 L474.8,949.1 L475.4,949.0 L475.9,948.9 L476.5,948.8 L477.1,948.7 L477.7,948.5 L478.3,948.4 L478.9,948.3 L479.5,948.2 L480.1,948.1 L480.7,947.9 L481.2,947.8 L481.8,947.7 L482.4,947.5 L483.0,947.4 L483.6,947.2 L484.2,947.1 L484.8,947.0 L485.3,946.8 L485.9,946.7 L486.5,946.5 L487.1,946.4 L487.7,946.2 L488.3,946.0 L488.8,945.9 L489.4,945.7 L490.0,945.6 L490.6,945.4 L491.2,945.2 L491.8,945.1 L492.3,944.9 L492.9,944.7 L493.5,944.5 L494.1,944.4 L494.6,944.2 L495.2,944.0 L495.8,943.8 L496.3,943.7 L496.9,943.5 L497.5,943.3 L498.1,943.1 L498.6,942.9 L499.2,942.7 L499.8,942.5 L500.4,942.3 L500.9,942.1 L501.5,941.9 L502.1,941.7 L502.6,941.5 L503.2,941.3 L503.8,941.1 L504.3,940.9 L504.9,940.7 L505.5,940.5 L506.0,940.3 L506.6,940.0 L507.2,939.8 L507.7,939.6 L508.3,939.4 L508.8,939.1 L509.4,938.9 L509.9,938.6 L510.5,938.4 L511.0,938.2 L511.6,937.9 L512.1,937.7 L512.6,937.4 L513.2,937.1 L513.7,936.9 L514.2,936.6 L514.8,936.3 L515.3,936.1 L515.8,935.8 L516.4,935.5 L516.9,935.2 L517.4,934.9 L518.0,934.6 L518.5,934.3 L519.0,934.0 L519.5,933.7 L520.1,933.4 L520.6,933.1 L521.1,932.8 L521.6,932.5 L522.1,932.2 L522.6,931.9 L523.2,931.5 L523.7,931.2 L524.2,930.9 L524.7,930.6 L525.2,930.3 L525.7,930.0 L526.3,929.7 L526.8,929.3 L527.3,929.0 L527.8,928.7 L528.4,928.4 L528.9,928.0 L529.4,927.7 L529.9,927.4 L530.4,927.0 L530.9,926.7 L531.4,926.3 L531.9,926.0 L532.4,925.6 L532.8,925.2 L533.2,924.9 L533.7,924.5 L534.1,924.1 L534.5,923.7 L534.9,923.3 L535.3,922.9 L535.7,922.4 L536.0,922.0 L536.4,921.5 L536.8,921.0 L537.2,920.5 L537.6,920.0 L537.9,919.6 L538.3,919.1 L538.7,918.6 L539.1,918.1 L539.4,917.6 L539.8,917.2 L540.2,916.7 L540.6,916.3 L541.1,915.8 L541.5,915.4 L541.9,914.9 L542.4,914.5 L542.8,914.1 L543.2,913.7 L543.7,913.3 L544.1,913.0 L544.6,912.7 L545.1,912.3 L545.5,912.0 L546.0,911.7 L546.5,911.4 L547.1,911.1 L547.6,910.8 L548.1,910.6 L548.7,910.3 L549.2,910.0 L549.8,909.7 L550.3,909.5 L550.9,909.2 L551.5,909.0 L552.0,908.7 L552.6,908.4 L553.1,908.2 L553.7,907.9 L554.2,907.7 L554.7,907.4 L555.3,907.2 L555.8,906.9 L556.4,906.7 L556.9,906.4 L557.5,906.2 L558.0,905.9 L558.6,905.7 L559.1,905.4 L559.7,905.2 L560.2,904.9 L560.8,904.7 L561.3,904.4 L561.9,904.2 L562.4,903.9 L563.0,903.7 L563.5,903.4 L564.1,903.2 L564.6,903.0 L565.2,902.7 L565.7,902.5 L566.3,902.2 L566.8,902.0 L567.4,901.8 L567.9,901.5 L568.5,901.3 L569.0,901.0 L569.6,900.8 L570.1,900.6 L570.7,900.3 L571.2,900.1 L571.8,899.8 L572.3,899.6 L572.9,899.4 L573.5,899.1 L574.0,898.9 L574.6,898.7 L575.1,898.4 L575.7,898.2 L576.2,897.9 L576.8,897.7 L577.4,897.5 L577.9,897.3 L578.5,897.0 L579.0,896.8 L579.6,896.6 L580.2,896.4 L580.7,896.1 L581.3,895.9 L581.8,895.7 L582.4,895.5 L583.0,895.3 L583.5,895.1 L584.1,894.9 L584.7,894.7 L585.2,894.6 L585.8,894.4 L586.4,894.2 L587.0,894.0 L587.5,893.9 L588.1,893.7 L588.7,893.5 L589.3,893.4 L589.8,893.2 L590.4,893.0 L591.0,892.9 L591.6,892.7 L592.2,892.6 L592.8,892.4 L593.3,892.3 L593.9,892.1 L594.5,892.0 L595.1,891.8 L595.7,891.7 L596.3,891.6 L596.9,891.4 L597.5,891.3 L598.0,891.2 L598.6,891.0 L599.2,890.9 L599.8,890.8 L600.4,890.7 L601.0,890.5 L601.6,890.4 L602.2,890.3 L602.8,890.2 L603.3,890.1 L603.9,890.0 L604.5,889.8 L605.1,889.7 L605.7,889.6 L606.3,889.5 L606.9,889.4 L607.5,889.3 L608.1,889.2 L608.7,889.1 L609.3,889.0 L609.8,888.9 L610.4,888.8 L611.0,888.7 L611.6,888.6 L612.2,888.5 L612.7,888.4 L613.3,888.3 L613.9,888.3 L614.5,888.2 L615.1,888.1 L615.7,888.0 L616.4,887.9 L617.0,887.8 L617.6,887.7 L618.2,887.6 L618.8,887.6 L619.4,887.5" fill="none" stroke="#000000" stroke-width="2.15" stroke-linejoin="round" stroke-linecap="butt" />
<path d="M376.3,953.7 L376.9,953.7 L377.5,953.7 L378.1,953.7 L378.7,953.6 L379.3,953.6 L379.9,953.6 L380.5,953.6 L381.1,953.6 L381.7,953.6 L382.3,953.6 L382.9,953.5 L383.5,953.5 L384.1,953.5 L384.7,953.5 L385.3,953.5 L385.9,953.5 L386.5,953.4 L387.1,953.4 L387.7,953.4 L388.3,953.4 L388.9,953.4 L389.5,953.4 L390.1,953.3 L390.8,953.3 L391.4,953.3 L392.0,953.3 L392.6,953.3 L393.2,953.2 L393.8,953.2 L394.4,953.2 L395.0,953.2 L395.6,953.2 L396.2,953.1 L396.8,953.1 L397.4,953.1 L398.0,953.1 L398.6,953.1 L399.2,953.0 L399.8,953.0 L400.4,953.0 L401.0,953.0 L401.6,953.0 L402.2,952.9 L402.8,952.9 L403.4,952.9 L404.0,952.9 L404.6,952.8 L405.2,952.8 L405.8,952.8 L406.4,952.8 L407.0,952.7 L407.6,952.7 L408.2,952.7 L408.8,952.7 L409.4,952.6 L410.0,952.6 L410.6,952.6 L411.2,952.6 L411.8,952.5 L412.4,952.5 L413.0,952.5 L413.6,952.5 L414.2,952.4 L414.8,952.4 L415.4,952.4 L416.0,952.3 L416.6,952.3 L417.2,952.3 L417.8,952.3 L418.4,952.2 L419.0,952.2 L419.6,952.2 L420.2,952.1 L420.8,952.1 L421.4,952.1 L422.0,952.0 L422.6,952.0 L423.2,952.0 L423.9,951.9 L424.5,951.9 L425.1,951.9 L425.7,951.8 L426.3,951.8 L426.9,951.8 L427.5,951.7 L428.1,951.7 L428.7,951.7 L429.3,951.6 L429.9,951.6 L430.5,951.6 L431.1,951.5 L431.7,951.5 L432.3,951.4 L432.9,951.4 L433.5,951.4 L434.1,951.3 L434.7,951.3 L435.3,951.2 L435.9,951.2 L436.5,951.2 L437.1,951.1 L437.7,951.1 L438.3,951.0 L438.9,951.0 L439.5,950.9 L440.1,950.9 L440.7,950.8 L441.3,950.8 L441.9,950.7 L442.5,950.7 L443.1,950.6 L443.7,950.6 L444.3,950.5 L444.9,950.4 L445.5,950.4 L446.1,950.3 L446.7,950.3 L447.3,950.2 L447.9,950.1 L448.5,950.1 L449.1,950.0 L449.7,950.0 L450.3,949.9 L450.9,949.8 L451.5,949.8 L452.1,949.7 L452.7,949.6 L453.3,949.6 L453.9,949.5 L454.5,949.4 L455.1,949.4 L455.7,949.3 L456.3,949.2 L456.8,949.1 L457.4,949.1 L458.0,949.0 L458.6,948.9 L459.2,948.9 L459.8,948.8 L460.4,948.7 L461.0,948.6 L461.6,948.6 L462.2,948.5 L462.8,948.4 L463.4,948.4 L464.0,948.3 L464.6,948.2 L465.2,948.1 L465.8,948.0 L466.4,948.0 L467.0,947.9 L467.6,947.8 L468.2,947.7 L468.8,947.6 L469.4,947.6 L470.0,947.5 L470.6,947.4 L471.2,947.3 L471.8,947.2 L472.4,947.1 L473.0,947.0 L473.6,946.9 L474.2,946.8 L474.8,946.7 L475.4,946.6 L475.9,946.5 L476.5,946.4 L477.1,946.2 L477.7,946.1 L478.3,946.0 L478.9,945.8 L479.4,945.7 L480.0,945.6 L480.6,945.4 L481.2,945.2 L481.7,945.1 L482.3,944.9 L482.9,944.7 L483.5,944.6 L484.0,944.4 L484.6,944.2 L485.2,944.0 L485.8,943.8 L486.3,943.6 L486.9,943.4 L487.5,943.2 L488.1,943.0 L488.6,942.8 L489.2,942.6 L489.8,942.4 L490.4,942.2 L490.9,942.0 L491.5,941.8 L492.1,941.6 L492.6,941.4 L493.2,941.2 L493.8,941.0 L494.3,940.7 L494.9,940.5 L495.5,940.3 L496.0,940.1 L496.6,939.9 L497.1,939.7 L497.7,939.5 L498.3,939.3 L498.8,939.1 L499.4,938.9 L500.0,938.7 L500.5,938.4 L501.1,938.2 L501.7,938.0 L502.2,937.8 L502.8,937.6 L503.4,937.3 L503.9,937.1 L504.5,936.9 L505.0,936.7 L505.6,936.4 L506.1,936.2 L506.7,936.0 L507.3,935.7 L507.8,935.5 L508.4,935.3 L508.9,935.0 L509.5,934.8 L510.0,934.6 L510.5,934.3 L511.1,934.1 L511.6,933.8 L512.2,933.6 L512.7,933.3 L513.3,933.1 L513.8,932.8 L514.4,932.6 L514.9,932.3 L515.5,932.0 L516.0,931.8 L516.6,931.5 L517.2,931.2 L517.7,931.0 L518.3,930.7 L518.8,930.4 L519.4,930.1 L519.9,929.8 L520.5,929.5 L521.0,929.3 L521.5,929.0 L522.1,928.7 L522.6,928.4 L523.1,928.1 L523.6,927.7 L524.2,927.4 L524.7,927.1 L525.1,926.8 L525.6,926.5 L526.1,926.1 L526.6,925.8 L527.0,925.5 L527.5,925.1 L527.9,924.8 L528.4,924.4 L528.8,924.0 L529.3,923.7 L529.7,923.3 L530.1,922.9 L530.6,922.5 L531.0,922.1 L531.4,921.6 L531.8,921.2 L532.2,920.7 L532.6,920.3 L533.1,919.8 L533.5,919.4 L533.9,918.9 L534.3,918.4 L534.7,917.9 L535.1,917.5 L535.5,917.0 L535.9,916.5 L536.2,916.0 L536.6,915.6 L537.0,915.1 L537.4,914.6 L537.7,914.1 L538.1,913.7 L538.5,913.2 L538.8,912.7 L539.2,912.2 L539.6,911.8 L539.9,911.3 L540.3,910.8 L540.6,910.3 L541.0,909.8 L541.4,909.4 L541.7,908.9 L542.1,908.4 L542.4,907.9 L542.8,907.4 L543.1,906.9 L543.5,906.4 L543.8,905.9 L544.1,905.4 L544.5,904.9 L544.8,904.4 L545.2,903.9 L545.5,903.4 L545.8,902.9 L546.2,902.4 L546.5,901.9 L546.8,901.4 L547.2,900.9 L547.5,900.4 L547.8,899.9 L548.2,899.3 L548.5,898.8 L548.8,898.3 L549.1,897.8 L549.5,897.3 L549.8,896.8 L550.2,896.3 L550.5,895.8 L550.9,895.3 L551.2,894.8 L551.6,894.3 L551.9,893.9 L552.3,893.4 L552.7,893.0 L553.1,892.6 L553.5,892.2 L553.9,891.8 L554.3,891.4 L554.7,891.0 L555.2,890.6 L555.6,890.2 L556.1,889.8 L556.6,889.4 L557.0,889.0 L557.5,888.6 L558.0,888.3 L558.5,887.9 L559.0,887.5 L559.5,887.1 L560.0,886.8 L560.5,886.4 L561.0,886.1 L561.4,885.7 L561.9,885.4 L562.4,885.0 L562.9,884.7 L563.4,884.3 L563.9,884.0 L564.4,883.6 L564.9,883.3 L565.3,882.9 L565.8,882.6 L566.3,882.2 L566.8,881.9 L567.3,881.5 L567.8,881.2 L568.3,880.9 L568.8,880.5 L569.3,880.2 L569.8,879.9 L570.3,879.5 L570.8,879.2 L571.3,878.9 L571.9,878.5 L572.4,878.2 L572.9,877.9 L573.4,877.6 L573.9,877.3 L574.4,876.9 L574.9,876.6 L575.4,876.3 L575.9,876.0 L576.4,875.7 L577.0,875.4 L577.5,875.1 L578.0,874.8 L578.5,874.4 L579.0,874.1 L579.6,873.8 L580.1,873.5 L580.6,873.2 L581.1,872.9 L581.7,872.6 L582.2,872.3 L582.7,872.1 L583.3,871.8 L583.8,871.5 L584.3,871.2 L584.9,870.9 L585.4,870.7 L585.9,870.4 L586.5,870.1 L587.0,869.9 L587.6,869.6 L588.1,869.4 L588.6,869.1 L589.2,868.9 L589.7,868.7 L590.3,868.4 L590.8,868.2 L591.4,867.9 L592.0,867.7 L592.5,867.5 L593.1,867.3 L593.6,867.0 L594.2,866.8 L594.8,866.6 L595.3,866.4 L595.9,866.2 L596.5,865.9 L597.0,865.7 L597.6,865.5 L598.2,865.3 L598.7,865.1 L599.3,864.9 L599.9,864.7 L600.4,864.5 L601.0,864.3 L601.6,864.1 L602.1,863.9 L602.7,863.7 L603.3,863.5 L603.8,863.3 L604.4,863.1 L605.0,862.9 L605.5,862.8 L606.1,862.6 L606.7,862.4 L607.3,862.2 L607.8,862.0 L608.4,861.8 L609.0,861.6 L609.6,861.5 L610.1,861.3 L610.7,861.1 L611.3,860.9 L611.8,860.8 L612.4,860.6 L612.9,860.4 L613.5,860.3 L614.1,860.1 L614.6,859.9 L615.2,859.7 L615.8,859.6 L616.4,859.4 L617.0,859.2 L617.6,859.1 L618.2,858.9 L618.8,858.8 L619.4,858.6" fill="none" stroke="#ff0000" stroke-width="2.15" stroke-linejoin="round" stroke-linecap="butt" />
<path d="M376.3,952.0 L376.9,951.9 L377.5,951.9 L378.1,951.8 L378.7,951.8 L379.3,951.7 L379.9,951.7 L380.5,951.6 L381.1,951.6 L381.7,951.5 L382.3,951.5 L382.9,951.4 L383.5,951.4 L384.1,951.3 L384.7,951.3 L385.3,951.2 L385.9,951.2 L386.5,951.1 L387.1,951.1 L387.7,951.0 L388.3,951.0 L388.9,950.9 L389.5,950.9 L390.1,950.8 L390.7,950.7 L391.3,950.7 L391.9,950.6 L392.5,950.6 L393.1,950.5 L393.7,950.5 L394.3,950.4 L394.9,950.4 L395.5,950.3 L396.1,950.2 L396.7,950.2 L397.3,950.1 L397.9,950.1 L398.5,950.0 L399.1,950.0 L399.7,949.9 L400.3,949.9 L400.9,949.8 L401.5,949.7 L402.1,949.7 L402.7,949.6 L403.3,949.6 L403.9,949.5 L404.5,949.5 L405.1,949.4 L405.7,949.3 L406.3,949.3 L406.9,949.2 L407.5,949.2 L408.1,949.1 L408.7,949.0 L409.3,949.0 L409.9,948.9 L410.5,948.9 L411.1,948.8 L411.7,948.7 L412.3,948.7 L412.9,948.6 L413.5,948.6 L414.1,948.5 L414.7,948.4 L415.3,948.4 L415.9,948.3 L416.4,948.3 L417.0,948.2 L417.6,948.1 L418.2,948.1 L418.8,948.0 L419.4,947.9 L420.0,947.9 L420.6,947.8 L421.2,947.8 L421.8,947.7 L422.4,947.6 L423.0,947.6 L423.6,947.5 L424.2,947.5 L424.8,947.4 L425.4,947.3 L426.0,947.3 L426.6,947.2 L427.2,947.1 L427.8,947.1 L428.4,947.0 L429.0,947.0 L429.6,946.9 L430.2,946.9 L430.8,946.8 L431.4,946.7 L432.0,946.7 L432.6,946.6 L433.2,946.6 L433.8,946.5 L434.4,946.5 L435.0,946.4 L435.6,946.4 L436.2,946.3 L436.8,946.3 L437.4,946.2 L438.0,946.1 L438.6,946.1 L439.2,946.0 L439.8,946.0 L440.4,945.9 L441.0,945.9 L441.6,945.8 L442.2,945.8 L442.8,945.7 L443.4,945.6 L444.0,945.6 L444.6,945.5 L445.2,945.5 L445.8,945.4 L446.4,945.3 L447.0,945.3 L447.6,945.2 L448.2,945.1 L448.8,945.1 L449.4,945.0 L450.0,944.9 L450.6,944.8 L451.2,944.8 L451.8,944.7 L452.4,944.6 L453.0,944.5 L453.6,944.4 L454.2,944.3 L454.8,944.2 L455.3,944.2 L455.9,944.1 L456.5,943.9 L457.1,943.8 L457.7,943.7 L458.3,943.6 L458.9,943.5 L459.5,943.4 L460.1,943.2 L460.7,943.1 L461.3,943.0 L461.9,942.9 L462.4,942.8 L463.0,942.6 L463.6,942.5 L464.2,942.4 L464.8,942.2 L465.4,942.1 L466.0,942.0 L466.6,941.8 L467.1,941.7 L467.7,941.6 L468.3,941.4 L468.9,941.3 L469.5,941.1 L470.1,941.0 L470.6,940.8 L471.2,940.7 L471.8,940.5 L472.4,940.4 L473.0,940.2 L473.6,940.1 L474.1,939.9 L474.7,939.8 L475.3,939.6 L475.9,939.4 L476.5,939.2 L477.0,939.1 L477.6,938.9 L478.2,938.7 L478.8,938.5 L479.3,938.4 L479.9,938.2 L480.5,938.0 L481.1,937.8 L481.6,937.6 L482.2,937.4 L482.8,937.2 L483.3,937.0 L483.9,936.9 L484.5,936.7 L485.0,936.4 L485.6,936.2 L486.2,936.0 L486.7,935.8 L487.3,935.6 L487.8,935.4 L488.4,935.2 L489.0,934.9 L489.5,934.7 L490.1,934.5 L490.6,934.2 L491.2,934.0 L491.7,933.8 L492.3,933.5 L492.8,933.3 L493.4,933.0 L493.9,932.8 L494.5,932.5 L495.0,932.3 L495.6,932.0 L496.1,931.8 L496.7,931.5 L497.2,931.3 L497.8,931.0 L498.3,930.8 L498.9,930.5 L499.4,930.3 L500.0,930.0 L500.5,929.8 L501.1,929.5 L501.7,929.3 L502.2,929.0 L502.8,928.7 L503.3,928.5 L503.9,928.2 L504.4,927.9 L504.9,927.7 L505.5,927.4 L506.0,927.1 L506.5,926.8 L507.1,926.5 L507.6,926.2 L508.1,926.0 L508.6,925.7 L509.2,925.4 L509.7,925.1 L510.2,924.7 L510.7,924.4 L511.1,924.1 L511.6,923.8 L512.1,923.5 L512.6,923.1 L513.1,922.8 L513.6,922.5 L514.0,922.1 L514.5,921.7 L515.0,921.4 L515.5,921.0 L515.9,920.6 L516.4,920.2 L516.9,919.9 L517.3,919.5 L517.8,919.1 L518.2,918.7 L518.7,918.3 L519.2,917.8 L519.6,917.4 L520.1,917.0 L520.5,916.6 L520.9,916.2 L521.4,915.8 L521.8,915.3 L522.3,914.9 L522.7,914.5 L523.1,914.1 L523.5,913.6 L524.0,913.2 L524.4,912.8 L524.8,912.4 L525.2,911.9 L525.6,911.5 L526.1,911.1 L526.5,910.6 L526.9,910.2 L527.3,909.8 L527.7,909.3 L528.1,908.9 L528.5,908.4 L529.0,908.0 L529.4,907.5 L529.8,907.0 L530.2,906.6 L530.6,906.1 L530.9,905.6 L531.3,905.2 L531.7,904.7 L532.1,904.2 L532.4,903.7 L532.8,903.3 L533.2,902.8 L533.5,902.3 L533.8,901.8 L534.2,901.3 L534.5,900.9 L534.8,900.4 L535.1,899.9 L535.4,899.4 L535.7,898.9 L536.0,898.4 L536.3,897.8 L536.6,897.3 L536.9,896.8 L537.2,896.3 L537.5,895.7 L537.8,895.2 L538.1,894.7 L538.4,894.1 L538.6,893.6 L538.9,893.0 L539.2,892.5 L539.4,892.0 L539.7,891.4 L540.0,890.8 L540.2,890.3 L540.5,889.7 L540.7,889.2 L541.0,888.6 L541.2,888.1 L541.5,887.5 L541.7,887.0 L542.0,886.4 L542.2,885.9 L542.4,885.3 L542.7,884.8 L542.9,884.2 L543.1,883.7 L543.4,883.1 L543.6,882.5 L543.8,882.0 L544.0,881.4 L544.2,880.9 L544.5,880.3 L544.7,879.8 L544.9,879.2 L545.1,878.6 L545.3,878.1 L545.5,877.5 L545.7,876.9 L545.9,876.4 L546.1,875.8 L546.3,875.2 L546.5,874.7 L546.7,874.1 L546.9,873.5 L547.1,873.0 L547.3,872.4 L547.5,871.8 L547.7,871.2 L547.9,870.7 L548.1,870.1 L548.3,869.5 L548.5,869.0 L548.7,868.4 L548.9,867.8 L549.1,867.3 L549.3,866.7 L549.5,866.1 L549.7,865.6 L549.9,865.0 L550.1,864.4 L550.3,863.8 L550.5,863.3 L550.6,862.7 L550.8,862.1 L551.0,861.6 L551.2,861.0 L551.4,860.4 L551.6,859.8 L551.8,859.3 L551.9,858.7 L552.1,858.1 L552.3,857.5 L552.5,857.0 L552.6,856.4 L552.8,855.8 L553.0,855.2 L553.1,854.7 L553.3,854.1 L553.4,853.5 L553.6,852.9 L553.7,852.3 L553.9,851.7 L554.0,851.1 L554.2,850.5 L554.3,849.9 L554.5,849.3 L554.6,848.7 L554.8,848.1 L554.9,847.5 L555.1,847.0 L555.2,846.4 L555.4,845.8 L555.5,845.2 L555.7,844.6 L555.9,844.1 L556.0,843.5 L556.2,842.9 L556.4,842.4 L556.6,841.8 L556.8,841.3 L557.0,840.7 L557.2,840.2 L557.4,839.7 L557.7,839.2 L557.9,838.6 L558.2,838.1 L558.5,837.6 L558.7,837.1 L559.0,836.5 L559.3,836.0 L559.6,835.5 L560.0,835.0 L560.3,834.5 L560.6,833.9 L561.0,833.4 L561.3,832.9 L561.6,832.4 L562.0,831.9 L562.3,831.4 L562.7,830.9 L563.0,830.4 L563.4,829.9 L563.7,829.4 L564.1,828.9 L564.4,828.4 L564.7,827.9 L565.1,827.4 L565.4,826.9 L565.8,826.4 L566.1,825.9 L566.4,825.4 L566.8,824.9 L567.1,824.4 L567.5,823.9 L567.8,823.4 L568.1,822.9 L568.5,822.4 L568.8,821.9 L569.2,821.4 L569.5,820.9 L569.9,820.4 L570.2,820.0 L570.6,819.5 L571.0,819.0 L571.3,818.5 L571.7,818.0 L572.0,817.5 L572.4,817.0 L572.8,816.6 L573.1,816.1 L573.5,815.6 L573.9,815.1 L574.2,814.7 L574.6,814.2 L575.0,813.7 L575.4,813.3 L575.7,812.8 L576.1,812.4 L576.5,811.9 L576.9,811.4 L577.3,811.0 L577.7,810.5 L578.1,810.1 L578.5,809.6 L578.9,809.2 L579.3,808.7 L579.7,808.3 L580.1,807.8 L580.5,807.4 L580.9,806.9 L581.3,806.5 L581.7,806.0 L582.1,805.6 L582.5,805.2 L583.0,804.7 L583.4,804.3 L583.8,803.9 L584.2,803.4 L584.7,803.0 L585.1,802.6 L585.5,802.1 L585.9,801.7 L586.4,801.3 L586.8,800.9 L587.2,800.5 L587.7,800.0 L588.1,799.6 L588.5,799.2 L589.0,798.8 L589.4,798.4 L589.9,798.0 L590.3,797.6 L590.7,797.2 L591.2,796.8 L591.6,796.4 L592.1,796.0 L592.5,795.6 L593.0,795.2 L593.4,794.8 L593.9,794.4 L594.4,794.0 L594.8,793.6 L595.3,793.2 L595.8,792.8 L596.2,792.5 L596.7,792.1 L597.2,791.7 L597.6,791.3 L598.1,790.9 L598.6,790.6 L599.1,790.2 L599.6,789.8 L600.0,789.5 L600.5,789.1 L601.0,788.8 L601.5,788.4 L602.0,788.1 L602.5,787.7 L603.0,787.4 L603.5,787.1 L603.9,786.7 L604.4,786.4 L604.9,786.1 L605.4,785.7 L605.9,785.4 L606.4,785.1 L606.9,784.8 L607.5,784.5 L608.0,784.2 L608.5,783.8 L609.0,783.5 L609.5,783.2 L610.0,782.9 L610.6,782.6 L611.1,782.3 L611.6,782.0 L612.1,781.8 L612.6,781.5 L613.1,781.2 L613.7,780.9 L614.1,780.7 L614.7,780.4 L615.2,780.1 L615.8,779.8 L616.3,779.5 L616.9,779.2 L617.5,779.0 L618.0,778.7 L618.6,778.4 L619.1,778.2 L619.7,777.9" fill="none" stroke="#00ff00" stroke-width="2.15" stroke-linejoin="round" stroke-linecap="butt" />
<path d="M376.3,950.0 L376.9,949.9 L377.5,949.8 L378.1,949.8 L378.7,949.7 L379.3,949.6 L379.9,949.5 L380.5,949.5 L381.1,949.4 L381.7,949.3 L382.3,949.2 L382.9,949.2 L383.5,949.1 L384.1,949.0 L384.6,948.9 L385.2,948.8 L385.8,948.8 L386.4,948.7 L387.0,948.6 L387.6,948.5 L388.2,948.4 L388.8,948.4 L389.4,948.3 L390.0,948.2 L390.6,948.1 L391.2,948.0 L391.8,947.9 L392.4,947.9 L393.0,947.8 L393.6,947.7 L394.2,947.6 L394.8,947.5 L395.4,947.4 L396.0,947.3 L396.5,947.3 L397.1,947.2 L397.7,947.1 L398.3,947.0 L398.9,946.9 L399.5,946.8 L400.1,946.7 L400.7,946.6 L401.3,946.6 L401.9,946.5 L402.5,946.4 L403.1,946.3 L403.7,946.2 L404.3,946.1 L404.9,946.0 L405.5,945.9 L406.1,945.8 L406.6,945.7 L407.2,945.6 L407.8,945.5 L408.4,945.4 L409.0,945.3 L409.6,945.2 L410.2,945.1 L410.8,945.0 L411.4,944.9 L412.0,944.8 L412.6,944.7 L413.2,944.6 L413.8,944.5 L414.4,944.4 L414.9,944.3 L415.5,944.2 L416.1,944.1 L416.7,944.0 L417.3,943.9 L417.9,943.8 L418.5,943.7 L419.1,943.6 L419.7,943.5 L420.3,943.4 L420.9,943.3 L421.5,943.2 L422.1,943.1 L422.7,943.0 L423.2,942.9 L423.8,942.8 L424.4,942.7 L425.0,942.6 L425.6,942.5 L426.2,942.4 L426.8,942.3 L427.4,942.2 L428.0,942.2 L428.6,942.1 L429.2,942.0 L429.8,941.9 L430.4,941.8 L431.0,941.7 L431.6,941.6 L432.2,941.6 L432.8,941.5 L433.4,941.4 L434.0,941.3 L434.6,941.2 L435.2,941.2 L435.8,941.1 L436.4,941.0 L437.0,940.9 L437.5,940.8 L438.1,940.7 L438.7,940.7 L439.3,940.6 L439.9,940.5 L440.5,940.4 L441.1,940.3 L441.7,940.2 L442.3,940.1 L442.9,939.9 L443.4,939.8 L444.0,939.7 L444.6,939.6 L445.2,939.4 L445.8,939.3 L446.3,939.2 L446.9,939.0 L447.5,938.8 L448.1,938.7 L448.6,938.5 L449.2,938.3 L449.8,938.1 L450.3,937.9 L450.9,937.7 L451.5,937.5 L452.1,937.3 L452.6,937.1 L453.2,936.9 L453.7,936.6 L454.3,936.4 L454.9,936.2 L455.4,936.0 L456.0,935.7 L456.6,935.5 L457.1,935.3 L457.7,935.1 L458.3,934.8 L458.8,934.6 L459.4,934.4 L459.9,934.2 L460.5,933.9 L461.0,933.7 L461.6,933.5 L462.1,933.3 L462.7,933.0 L463.3,932.8 L463.8,932.6 L464.4,932.3 L464.9,932.1 L465.5,931.9 L466.0,931.6 L466.6,931.4 L467.1,931.2 L467.7,930.9 L468.2,930.7 L468.8,930.4 L469.3,930.2 L469.9,929.9 L470.4,929.7 L471.0,929.4 L471.5,929.2 L472.1,928.9 L472.6,928.7 L473.1,928.4 L473.7,928.1 L474.2,927.9 L474.8,927.6 L475.3,927.4 L475.9,927.1 L476.4,926.8 L476.9,926.6 L477.5,926.3 L478.0,926.0 L478.5,925.8 L479.1,925.5 L479.6,925.2 L480.1,925.0 L480.7,924.7 L481.2,924.4 L481.8,924.1 L482.3,923.9 L482.8,923.6 L483.4,923.3 L483.9,923.0 L484.4,922.7 L485.0,922.4 L485.5,922.2 L486.0,921.9 L486.5,921.6 L487.1,921.3 L487.6,921.0 L488.1,920.7 L488.7,920.4 L489.2,920.1 L489.7,919.8 L490.2,919.5 L490.7,919.2 L491.2,918.9 L491.8,918.6 L492.3,918.3 L492.8,918.0 L493.3,917.6 L493.8,917.3 L494.3,917.0 L494.8,916.7 L495.3,916.4 L495.8,916.0 L496.3,915.7 L496.8,915.4 L497.3,915.0 L497.8,914.7 L498.3,914.3 L498.8,914.0 L499.3,913.6 L499.8,913.3 L500.3,912.9 L500.8,912.5 L501.3,912.2 L501.8,911.8 L502.2,911.4 L502.7,911.0 L503.1,910.6 L503.6,910.3 L504.0,909.9 L504.4,909.5 L504.9,909.1 L505.3,908.7 L505.7,908.3 L506.1,907.8 L506.5,907.4 L506.9,907.0 L507.2,906.5 L507.6,906.1 L508.0,905.6 L508.4,905.1 L508.8,904.7 L509.1,904.2 L509.5,903.7 L509.9,903.2 L510.2,902.7 L510.6,902.2 L511.0,901.7 L511.3,901.2 L511.7,900.7 L512.0,900.2 L512.4,899.7 L512.7,899.2 L513.0,898.7 L513.4,898.2 L513.7,897.7 L514.0,897.2 L514.3,896.7 L514.7,896.2 L515.0,895.7 L515.3,895.1 L515.6,894.6 L515.9,894.1 L516.2,893.6 L516.5,893.1 L516.8,892.6 L517.1,892.1 L517.4,891.6 L517.7,891.0 L518.0,890.5 L518.3,890.0 L518.6,889.5 L518.9,888.9 L519.2,888.4 L519.5,887.9 L519.8,887.4 L520.0,886.8 L520.3,886.3 L520.6,885.8 L520.9,885.2 L521.2,884.7 L521.4,884.1 L521.7,883.6 L522.0,883.1 L522.3,882.5 L522.6,882.0 L522.8,881.5 L523.1,880.9 L523.4,880.4 L523.7,879.9 L524.0,879.3 L524.2,878.8 L524.5,878.3 L524.8,877.7 L525.1,877.2 L525.4,876.7 L525.7,876.2 L525.9,875.6 L526.2,875.1 L526.5,874.6 L526.8,874.0 L527.1,873.5 L527.4,873.0 L527.7,872.4 L528.0,871.9 L528.2,871.4 L528.5,870.9 L528.8,870.3 L529.1,869.8 L529.4,869.3 L529.7,868.7 L530.0,868.2 L530.2,867.7 L530.5,867.1 L530.8,866.6 L531.1,866.0 L531.3,865.5 L531.6,865.0 L531.8,864.4 L532.1,863.9 L532.4,863.3 L532.6,862.8 L532.9,862.3 L533.1,861.7 L533.3,861.2 L533.6,860.6 L533.8,860.1 L534.0,859.5 L534.3,859.0 L534.5,858.4 L534.7,857.9 L534.9,857.3 L535.1,856.8 L535.4,856.2 L535.6,855.6 L535.8,855.1 L536.0,854.5 L536.2,853.9 L536.4,853.4 L536.6,852.8 L536.8,852.2 L537.0,851.7 L537.2,851.1 L537.4,850.5 L537.5,850.0 L537.7,849.4 L537.9,848.8 L538.1,848.2 L538.3,847.7 L538.5,847.1 L538.7,846.5 L538.8,845.9 L539.0,845.4 L539.2,844.8 L539.4,844.2 L539.6,843.6 L539.7,843.1 L539.9,842.5 L540.1,841.9 L540.3,841.3 L540.4,840.7 L540.6,840.2 L540.8,839.6 L540.9,839.0 L541.1,838.4 L541.3,837.9 L541.4,837.3 L541.6,836.7 L541.8,836.1 L541.9,835.6 L542.1,835.0 L542.3,834.4 L542.4,833.8 L542.6,833.3 L542.8,832.7 L542.9,832.1 L543.1,831.5 L543.2,830.9 L543.4,830.4 L543.5,829.8 L543.7,829.2 L543.9,828.6 L544.0,828.0 L544.2,827.5 L544.3,826.9 L544.5,826.3 L544.6,825.7 L544.8,825.1 L544.9,824.5 L545.1,824.0 L545.2,823.4 L545.4,822.8 L545.5,822.2 L545.7,821.6 L545.8,821.0 L546.0,820.5 L546.1,819.9 L546.3,819.3 L546.4,818.7 L546.5,818.1 L546.7,817.5 L546.8,817.0 L547.0,816.4 L547.1,815.8 L547.3,815.2 L547.4,814.6 L547.6,814.0 L547.7,813.5 L547.8,812.9 L548.0,812.3 L548.1,811.7 L548.3,811.1 L548.4,810.5 L548.6,810.0 L548.7,809.4 L548.8,808.8 L549.0,808.2 L549.1,807.6 L549.2,807.0 L549.4,806.4 L549.5,805.9 L549.6,805.3 L549.8,804.7 L549.9,804.1 L550.0,803.5 L550.2,802.9 L550.3,802.3 L550.4,801.8 L550.6,801.2 L550.7,800.6 L550.8,800.0 L551.0,799.4 L551.1,798.8 L551.2,798.2 L551.4,797.7 L551.5,797.1 L551.7,796.5 L551.8,795.9 L551.9,795.3 L552.1,794.7 L552.2,794.1 L552.4,793.6 L552.5,793.0 L552.6,792.4 L552.8,791.8 L552.9,791.2 L553.1,790.7 L553.2,790.1 L553.4,789.5 L553.5,788.9 L553.7,788.3 L553.8,787.7 L554.0,787.2 L554.2,786.6 L554.3,786.0 L554.5,785.4 L554.6,784.8 L554.8,784.3 L555.0,783.7 L555.1,783.1 L555.3,782.5 L555.5,781.9 L555.6,781.4 L555.8,780.8 L556.0,780.2 L556.2,779.6 L556.3,779.1 L556.5,778.5 L556.7,777.9 L556.9,777.3 L557.0,776.8 L557.2,776.2 L557.4,775.6 L557.6,775.0 L557.8,774.5 L558.0,773.9 L558.2,773.3 L558.4,772.8 L558.6,772.2 L558.8,771.6 L559.0,771.1 L559.2,770.5 L559.4,770.0 L559.6,769.4 L559.8,768.9 L560.0,768.3 L560.3,767.7 L560.5,767.2 L560.7,766.6 L560.9,766.1 L561.2,765.5 L561.4,765.0 L561.6,764.4 L561.9,763.9 L562.1,763.3 L562.4,762.8 L562.6,762.2 L562.9,761.7 L563.1,761.1 L563.4,760.6 L563.6,760.0 L563.9,759.5 L564.2,758.9 L564.4,758.4 L564.7,757.8 L565.0,757.3 L565.2,756.8 L565.5,756.2 L565.8,755.7 L566.0,755.2 L566.3,754.6 L566.6,754.1 L566.9,753.6 L567.1,753.0 L567.4,752.5 L567.7,752.0 L568.0,751.4 L568.3,750.9 L568.6,750.4 L568.9,749.9 L569.2,749.3 L569.5,748.8 L569.8,748.3 L570.1,747.8 L570.4,747.3 L570.7,746.7 L571.0,746.2 L571.3,745.7 L571.6,745.2 L571.9,744.7 L572.3,744.2 L572.6,743.7 L572.9,743.2 L573.2,742.7 L573.6,742.2 L573.9,741.7 L574.2,741.2 L574.6,740.7 L574.9,740.2 L575.2,739.7 L575.6,739.2 L575.9,738.7 L576.2,738.2 L576.6,737.7 L576.9,737.2 L577.2,736.7 L577.6,736.2 L577.9,735.7 L578.2,735.1 L578.5,734.6 L578.8,734.1 L579.2,733.6 L579.5,733.1 L579.8,732.6 L580.1,732.1 L580.4,731.6 L580.7,731.0 L581.0,730.5 L581.3,730.0 L581.6,729.5 L581.9,728.9 L582.2,728.4 L582.5,727.9 L582.8,727.4 L583.1,726.8 L583.4,726.3 L583.7,725.8 L584.0,725.3 L584.3,724.8 L584.6,724.2 L584.9,723.7 L585.2,723.2 L585.5,722.7 L585.9,722.2 L586.2,721.7 L586.5,721.2 L586.9,720.8 L587.2,720.3 L587.6,719.8 L588.0,719.3 L588.3,718.8 L588.7,718.3 L589.1,717.9 L589.4,717.4 L589.8,716.9 L590.2,716.5 L590.6,716.0 L591.0,715.6 L591.4,715.1 L591.8,714.7 L592.2,714.3 L592.6,713.8 L593.0,713.4 L593.5,713.0 L593.9,712.5 L594.3,712.1 L594.7,711.7 L595.2,711.3 L595.6,710.8 L596.0,710.4 L596.5,710.0 L596.9,709.6 L597.3,709.1 L597.7,708.7 L598.2,708.3 L598.6,707.9 L599.0,707.4 L599.4,707.0 L599.9,706.6 L600.3,706.1 L600.7,705.7 L601.1,705.3 L601.6,704.9 L602.0,704.5 L602.4,704.0 L602.9,703.7 L603.3,703.3 L603.8,702.9 L604.2,702.5 L604.7,702.1 L605.1,701.7 L605.6,701.4 L606.1,701.0 L606.6,700.7 L607.1,700.3 L607.6,700.0 L608.1,699.6 L608.6,699.3 L609.1,698.9 L609.6,698.6 L610.1,698.3 L610.6,697.9 L611.1,697.6 L611.6,697.3 L612.1,697.0 L612.6,696.7 L613.1,696.4 L613.6,696.1 L614.0,695.8 L614.6,695.5 L615.1,695.2 L615.6,694.9 L616.2,694.6 L616.7,694.3 L617.2,694.0 L617.8,693.7 L618.3,693.4 L618.9,693.1 L619.4,692.8" fill="none" stroke="#0000ff" stroke-width="2.15" stroke-linejoin="round" stroke-linecap="butt" />
<path d="M376.3,949.6 L376.9,949.6 L377.5,949.5 L378.1,949.5 L378.7,949.4 L379.3,949.4 L379.9,949.3 L380.5,949.3 L381.1,949.2 L381.7,949.1 L382.3,949.1 L382.9,949.0 L383.5,948.9 L384.1,948.8 L384.7,948.8 L385.3,948.7 L385.9,948.6 L386.5,948.5 L387.1,948.4 L387.7,948.3 L388.3,948.2 L388.9,948.1 L389.5,948.0 L390.1,947.9 L390.6,947.8 L391.2,947.7 L391.8,947.6 L392.4,947.5 L393.0,947.4 L393.6,947.3 L394.2,947.2 L394.8,947.1 L395.3,947.0 L395.9,946.8 L396.5,946.7 L397.1,946.6 L397.7,946.4 L398.3,946.3 L398.8,946.1 L399.4,946.0 L400.0,945.8 L400.6,945.6 L401.1,945.5 L401.7,945.3 L402.3,945.1 L402.9,944.9 L403.4,944.7 L404.0,944.5 L404.6,944.3 L405.2,944.2 L405.7,944.0 L406.3,943.8 L406.9,943.6 L407.4,943.4 L408.0,943.2 L408.6,943.0 L409.2,942.8 L409.7,942.7 L410.3,942.5 L410.9,942.3 L411.5,942.1 L412.0,941.9 L412.6,941.8 L413.2,941.6 L413.8,941.4 L414.4,941.3 L414.9,941.1 L415.5,940.9 L416.1,940.8 L416.7,940.6 L417.2,940.4 L417.8,940.2 L418.4,940.1 L419.0,939.9 L419.5,939.7 L420.1,939.6 L420.7,939.4 L421.3,939.2 L421.8,939.0 L422.4,938.9 L423.0,938.7 L423.6,938.5 L424.1,938.3 L424.7,938.2 L425.3,938.0 L425.9,937.8 L426.4,937.6 L427.0,937.4 L427.6,937.2 L428.1,937.1 L428.7,936.9 L429.3,936.7 L429.9,936.5 L430.4,936.3 L431.0,936.1 L431.6,935.9 L432.2,935.8 L432.7,935.6 L433.3,935.4 L433.9,935.2 L434.5,935.0 L435.0,934.8 L435.6,934.6 L436.2,934.4 L436.7,934.2 L437.3,934.0 L437.9,933.8 L438.4,933.6 L439.0,933.4 L439.6,933.2 L440.1,933.0 L440.7,932.8 L441.2,932.6 L441.8,932.3 L442.4,932.1 L442.9,931.9 L443.5,931.7 L444.0,931.4 L444.6,931.2 L445.1,931.0 L445.6,930.7 L446.2,930.5 L446.7,930.2 L447.3,929.9 L447.8,929.7 L448.3,929.4 L448.9,929.1 L449.4,928.9 L449.9,928.6 L450.5,928.3 L451.0,928.0 L451.5,927.7 L452.1,927.4 L452.6,927.1 L453.1,926.8 L453.7,926.5 L454.2,926.2 L454.7,925.9 L455.2,925.6 L455.7,925.3 L456.3,925.0 L456.8,924.7 L457.3,924.4 L457.8,924.1 L458.3,923.8 L458.8,923.5 L459.4,923.1 L459.9,922.8 L460.4,922.5 L460.9,922.2 L461.4,921.9 L461.9,921.5 L462.4,921.2 L462.9,920.9 L463.4,920.6 L463.9,920.2 L464.4,919.9 L464.9,919.6 L465.4,919.2 L465.9,918.9 L466.4,918.5 L466.8,918.2 L467.3,917.8 L467.8,917.5 L468.3,917.1 L468.8,916.8 L469.3,916.4 L469.8,916.1 L470.3,915.7 L470.8,915.4 L471.3,915.0 L471.7,914.7 L472.2,914.3 L472.7,914.0 L473.2,913.6 L473.7,913.3 L474.2,912.9 L474.7,912.6 L475.2,912.3 L475.7,911.9 L476.2,911.6 L476.7,911.2 L477.2,910.9 L477.7,910.6 L478.2,910.3 L478.7,909.9 L479.2,909.6 L479.7,909.3 L480.2,909.0 L480.7,908.6 L481.3,908.3 L481.8,908.0 L482.3,907.7 L482.9,907.4 L483.4,907.1 L483.9,906.8 L484.4,906.4 L485.0,906.1 L485.5,905.8 L486.0,905.5 L486.5,905.2 L487.1,904.9 L487.6,904.6 L488.1,904.2 L488.6,903.9 L489.1,903.6 L489.6,903.2 L490.1,902.9 L490.6,902.6 L491.1,902.2 L491.6,901.9 L492.1,901.5 L492.5,901.2 L493.0,900.8 L493.4,900.5 L493.9,900.1 L494.3,899.7 L494.7,899.4 L495.2,899.0 L495.6,898.6 L496.0,898.2 L496.4,897.8 L496.8,897.4 L497.2,896.9 L497.7,896.5 L498.1,896.0 L498.5,895.6 L498.9,895.1 L499.3,894.6 L499.7,894.1 L500.0,893.7 L500.4,893.2 L500.8,892.7 L501.2,892.2 L501.5,891.7 L501.9,891.2 L502.2,890.7 L502.6,890.2 L502.9,889.7 L503.2,889.2 L503.5,888.7 L503.9,888.2 L504.2,887.7 L504.5,887.2 L504.8,886.7 L505.1,886.2 L505.4,885.7 L505.7,885.2 L506.0,884.7 L506.3,884.1 L506.6,883.6 L506.8,883.1 L507.1,882.6 L507.4,882.0 L507.7,881.5 L508.0,880.9 L508.3,880.4 L508.5,879.9 L508.8,879.3 L509.1,878.8 L509.4,878.2 L509.6,877.7 L509.9,877.2 L510.2,876.6 L510.4,876.1 L510.7,875.5 L511.0,875.0 L511.3,874.5 L511.5,873.9 L511.8,873.4 L512.1,872.9 L512.4,872.3 L512.6,871.8 L512.9,871.3 L513.2,870.7 L513.5,870.2 L513.8,869.7 L514.0,869.1 L514.3,868.6 L514.6,868.1 L514.9,867.5 L515.1,867.0 L515.4,866.5 L515.7,865.9 L515.9,865.4 L516.2,864.9 L516.5,864.3 L516.8,863.8 L517.0,863.2 L517.3,862.7 L517.6,862.2 L517.8,861.6 L518.1,861.1 L518.4,860.6 L518.6,860.0 L518.9,859.5 L519.2,859.0 L519.4,858.4 L519.7,857.9 L520.0,857.3 L520.3,856.8 L520.5,856.3 L520.8,855.7 L521.1,855.2 L521.4,854.6 L521.6,854.1 L521.9,853.6 L522.2,853.0 L522.4,852.5 L522.7,851.9 L523.0,851.4 L523.2,850.8 L523.5,850.3 L523.8,849.8 L524.0,849.2 L524.3,848.7 L524.5,848.1 L524.8,847.6 L525.0,847.0 L525.3,846.5 L525.5,845.9 L525.7,845.4 L526.0,844.8 L526.2,844.3 L526.4,843.7 L526.6,843.2 L526.8,842.6 L527.0,842.0 L527.2,841.5 L527.4,840.9 L527.6,840.4 L527.8,839.8 L528.0,839.2 L528.2,838.7 L528.3,838.1 L528.5,837.5 L528.7,837.0 L528.9,836.4 L529.0,835.8 L529.2,835.2 L529.4,834.7 L529.5,834.1 L529.7,833.5 L529.9,832.9 L530.0,832.3 L530.2,831.8 L530.3,831.2 L530.5,830.6 L530.7,830.0 L530.8,829.4 L531.0,828.8 L531.1,828.2 L531.2,827.7 L531.4,827.1 L531.5,826.5 L531.7,825.9 L531.8,825.3 L532.0,824.7 L532.1,824.1 L532.2,823.5 L532.4,823.0 L532.5,822.4 L532.7,821.8 L532.8,821.2 L532.9,820.6 L533.1,820.0 L533.2,819.4 L533.3,818.8 L533.5,818.3 L533.6,817.7 L533.7,817.1 L533.9,816.5 L534.0,815.9 L534.1,815.3 L534.3,814.8 L534.4,814.2 L534.5,813.6 L534.6,813.0 L534.8,812.4 L534.9,811.8 L535.0,811.2 L535.1,810.6 L535.2,810.1 L535.4,809.5 L535.5,808.9 L535.6,808.3 L535.7,807.7 L535.8,807.1 L535.9,806.5 L536.1,805.9 L536.2,805.3 L536.3,804.7 L536.4,804.2 L536.5,803.6 L536.6,803.0 L536.7,802.4 L536.9,801.8 L537.0,801.2 L537.1,800.6 L537.2,800.0 L537.3,799.4 L537.4,798.8 L537.5,798.2 L537.6,797.7 L537.7,797.1 L537.9,796.5 L538.0,795.9 L538.1,795.3 L538.2,794.7 L538.3,794.1 L538.4,793.5 L538.5,792.9 L538.6,792.3 L538.8,791.7 L538.9,791.2 L539.0,790.6 L539.1,790.0 L539.2,789.4 L539.3,788.8 L539.4,788.2 L539.5,787.6 L539.6,787.0 L539.7,786.4 L539.8,785.8 L539.9,785.2 L540.0,784.6 L540.1,784.0 L540.2,783.4 L540.3,782.8 L540.4,782.3 L540.5,781.7 L540.7,781.1 L540.8,780.5 L540.9,779.9 L541.0,779.3 L541.1,778.7 L541.2,778.1 L541.3,777.5 L541.4,776.9 L541.5,776.3 L541.6,775.7 L541.7,775.1 L541.8,774.5 L542.0,774.0 L542.1,773.4 L542.2,772.8 L542.3,772.2 L542.4,771.6 L542.6,771.0 L542.7,770.4 L542.8,769.9 L542.9,769.3 L543.1,768.7 L543.2,768.1 L543.3,767.5 L543.5,766.9 L543.6,766.4 L543.8,765.8 L543.9,765.2 L544.1,764.6 L544.2,764.1 L544.4,763.5 L544.6,762.9 L544.7,762.3 L544.9,761.7 L545.1,761.2 L545.2,760.6 L545.4,760.0 L545.6,759.4 L545.8,758.9 L546.0,758.3 L546.2,757.7 L546.4,757.1 L546.6,756.6 L546.8,756.0 L547.0,755.4 L547.2,754.9 L547.4,754.3 L547.6,753.7 L547.8,753.2 L548.0,752.6 L548.2,752.0 L548.4,751.5 L548.6,750.9 L548.9,750.4 L549.1,749.8 L549.3,749.2 L549.5,748.7 L549.8,748.1 L550.0,747.6 L550.2,747.1 L550.5,746.5 L550.7,746.0 L550.9,745.4 L551.2,744.9 L551.4,744.3 L551.7,743.8 L551.9,743.2 L552.2,742.7 L552.5,742.1 L552.7,741.6 L553.0,741.1 L553.3,740.5 L553.6,740.0 L553.8,739.4 L554.1,738.9 L554.4,738.4 L554.7,737.8 L554.9,737.3 L555.2,736.8 L555.5,736.2 L555.8,735.7 L556.1,735.2 L556.4,734.6 L556.7,734.1 L557.0,733.6 L557.2,733.1 L557.5,732.5 L557.8,732.0 L558.1,731.5 L558.4,731.0 L558.7,730.5 L559.0,730.0 L559.3,729.4 L559.6,728.9 L559.9,728.4 L560.3,727.9 L560.6,727.4 L560.9,726.9 L561.2,726.3 L561.5,725.8 L561.8,725.3 L562.1,724.8 L562.5,724.3 L562.8,723.8 L563.1,723.3 L563.4,722.8 L563.8,722.3 L564.1,721.8 L564.4,721.3 L564.7,720.7 L565.1,720.2 L565.4,719.7 L565.7,719.2 L566.1,718.7 L566.4,718.2 L566.8,717.7 L567.1,717.2 L567.4,716.7 L567.8,716.3 L568.1,715.8 L568.4,715.3 L568.8,714.8 L569.1,714.3 L569.5,713.8 L569.8,713.3 L570.2,712.8 L570.5,712.3 L570.9,711.8 L571.2,711.3 L571.6,710.9 L571.9,710.4 L572.3,709.9 L572.6,709.4 L573.0,708.9 L573.3,708.4 L573.7,707.9 L574.0,707.5 L574.4,707.0 L574.8,706.5 L575.1,706.0 L575.5,705.5 L575.8,705.0 L576.2,704.6 L576.6,704.1 L576.9,703.6 L577.3,703.1 L577.7,702.7 L578.0,702.2 L578.4,701.7 L578.8,701.2 L579.2,700.8 L579.5,700.3 L579.9,699.8 L580.3,699.3 L580.7,698.9 L581.0,698.4 L581.4,697.9 L581.8,697.5 L582.2,697.0 L582.5,696.5 L582.9,696.1 L583.3,695.6 L583.7,695.1 L584.1,694.7 L584.4,694.2 L584.8,693.7 L585.2,693.3 L585.6,692.8 L586.0,692.4 L586.4,691.9 L586.8,691.5 L587.1,691.0 L587.5,690.5 L587.9,690.1 L588.3,689.6 L588.7,689.2 L589.1,688.7 L589.5,688.3 L589.9,687.8 L590.3,687.4 L590.7,686.9 L591.1,686.5 L591.5,686.0 L591.9,685.6 L592.3,685.1 L592.7,684.7 L593.1,684.2 L593.5,683.8 L593.9,683.3 L594.3,682.9 L594.7,682.4 L595.1,682.0 L595.5,681.5 L595.9,681.1 L596.4,680.7 L596.8,680.2 L597.2,679.8 L597.6,679.3 L598.0,678.9 L598.4,678.5 L598.8,678.0 L599.3,677.6 L599.7,677.2 L600.1,676.8 L600.5,676.3 L600.9,675.9 L601.4,675.5 L601.8,675.0 L602.2,674.6 L602.6,674.2 L603.1,673.8 L603.5,673.4 L603.9,672.9 L604.3,672.5 L604.8,672.1 L605.2,671.7 L605.6,671.3 L606.1,670.9 L606.5,670.4 L606.9,670.0 L607.4,669.6 L607.8,669.2 L608.2,668.8 L608.7,668.4 L609.1,668.0 L609.6,667.6 L610.0,667.2 L610.5,666.8 L610.9,666.3 L611.3,665.9 L611.8,665.5 L612.2,665.1 L612.7,664.8 L613.1,664.4 L613.5,664.0 L613.9,663.6 L614.4,663.2 L614.9,662.8 L615.3,662.4 L615.8,662.0 L616.3,661.6 L616.7,661.2 L617.2,660.8 L617.7,660.4 L618.1,660.0 L618.6,659.6" fill="none" stroke="#00ffff" stroke-width="2.15" stroke-linejoin="round" stroke-linecap="butt" />
<path d="M376.3,955.3 L376.9,955.3 L377.6,955.3 L378.2,955.3 L378.8,955.3 L379.4,955.2 L380.0,955.2 L380.6,955.2 L381.2,955.2 L381.9,955.1 L382.5,955.1 L383.1,955.1 L383.7,955.0 L384.3,955.0 L384.9,954.9 L385.5,954.9 L386.1,954.8 L386.7,954.8 L387.3,954.7 L387.9,954.6 L388.4,954.6 L389.0,954.5 L389.6,954.4 L390.2,954.3 L390.8,954.3 L391.4,954.2 L392.0,954.1 L392.5,954.0 L393.1,953.9 L393.7,953.9 L394.3,953.8 L394.8,953.7 L395.4,953.5 L396.0,953.4 L396.6,953.2 L397.1,953.1 L397.7,952.8 L398.3,952.6 L398.8,952.4 L399.4,952.1 L399.9,951.9 L400.5,951.6 L401.0,951.3 L401.6,951.1 L402.1,950.8 L402.7,950.6 L403.2,950.3 L403.8,950.0 L404.3,949.8 L404.8,949.5 L405.4,949.3 L405.9,949.0 L406.4,948.7 L407.0,948.4 L407.5,948.2 L408.0,947.9 L408.6,947.6 L409.1,947.3 L409.6,947.0 L410.1,946.7 L410.7,946.4 L411.2,946.1 L411.7,945.8 L412.2,945.5 L412.8,945.2 L413.3,944.9 L413.8,944.6 L414.3,944.3 L414.8,944.0 L415.4,943.7 L415.9,943.4 L416.4,943.1 L416.9,942.8 L417.4,942.5 L417.9,942.2 L418.5,941.9 L419.0,941.5 L419.5,941.2 L420.0,940.9 L420.5,940.6 L421.1,940.3 L421.6,940.0 L422.1,939.7 L422.6,939.4 L423.1,939.1 L423.7,938.8 L424.2,938.5 L424.7,938.2 L425.2,937.9 L425.7,937.6 L426.3,937.3 L426.8,937.0 L427.3,936.7 L427.8,936.4 L428.3,936.1 L428.9,935.8 L429.4,935.5 L429.9,935.2 L430.4,934.9 L430.9,934.6 L431.5,934.3 L432.0,933.9 L432.5,933.6 L433.0,933.3 L433.5,933.0 L434.1,932.7 L434.6,932.4 L435.1,932.1 L435.6,931.8 L436.1,931.5 L436.6,931.2 L437.1,930.8 L437.7,930.5 L438.2,930.2 L438.7,929.9 L439.2,929.6 L439.7,929.3 L440.2,928.9 L440.7,928.6 L441.2,928.3 L441.7,928.0 L442.2,927.6 L442.8,927.3 L443.3,927.0 L443.8,926.7 L444.3,926.3 L444.8,926.0 L445.3,925.7 L445.8,925.3 L446.3,925.0 L446.8,924.7 L447.3,924.3 L447.7,924.0 L448.2,923.7 L448.7,923.3 L449.2,923.0 L449.7,922.6 L450.2,922.3 L450.7,921.9 L451.2,921.6 L451.7,921.2 L452.1,920.9 L452.6,920.5 L453.1,920.2 L453.6,919.8 L454.1,919.5 L454.5,919.1 L455.0,918.7 L455.5,918.4 L456.0,918.0 L456.4,917.6 L456.9,917.2 L457.4,916.9 L457.8,916.5 L458.3,916.1 L458.8,915.7 L459.2,915.3 L459.7,915.0 L460.2,914.6 L460.6,914.2 L461.1,913.8 L461.5,913.4 L462.0,913.0 L462.5,912.6 L462.9,912.2 L463.4,911.8 L463.8,911.4 L464.3,911.0 L464.7,910.6 L465.2,910.2 L465.6,909.8 L466.1,909.4 L466.5,909.0 L466.9,908.6 L467.4,908.2 L467.8,907.7 L468.2,907.3 L468.6,906.9 L469.1,906.5 L469.5,906.1 L469.9,905.7 L470.3,905.2 L470.8,904.8 L471.2,904.4 L471.6,904.0 L472.0,903.5 L472.4,903.1 L472.8,902.7 L473.3,902.2 L473.7,901.8 L474.1,901.3 L474.5,900.9 L474.9,900.5 L475.3,900.0 L475.7,899.6 L476.1,899.1 L476.5,898.7 L476.9,898.2 L477.3,897.7 L477.7,897.3 L478.1,896.8 L478.5,896.4 L478.9,895.9 L479.3,895.5 L479.7,895.0 L480.1,894.5 L480.5,894.1 L480.9,893.6 L481.2,893.1 L481.6,892.6 L482.0,892.2 L482.4,891.7 L482.7,891.2 L483.1,890.7 L483.4,890.3 L483.8,889.8 L484.2,889.3 L484.5,888.8 L484.8,888.4 L485.2,887.9 L485.5,887.4 L485.9,886.9 L486.2,886.4 L486.5,885.9 L486.9,885.4 L487.2,884.9 L487.5,884.4 L487.8,883.9 L488.2,883.4 L488.5,882.9 L488.8,882.4 L489.1,881.9 L489.4,881.4 L489.7,880.8 L490.0,880.3 L490.3,879.8 L490.7,879.3 L491.0,878.8 L491.3,878.2 L491.6,877.7 L491.9,877.2 L492.2,876.6 L492.4,876.1 L492.7,875.6 L493.0,875.1 L493.3,874.5 L493.6,874.0 L493.9,873.5 L494.2,873.0 L494.5,872.4 L494.8,871.9 L495.1,871.4 L495.3,870.8 L495.6,870.3 L495.9,869.8 L496.2,869.3 L496.5,868.7 L496.7,868.2 L497.0,867.7 L497.3,867.1 L497.6,866.6 L497.9,866.1 L498.1,865.5 L498.4,865.0 L498.7,864.4 L498.9,863.9 L499.2,863.4 L499.5,862.8 L499.7,862.3 L500.0,861.8 L500.3,861.2 L500.5,860.7 L500.8,860.1 L501.1,859.6 L501.3,859.1 L501.6,858.5 L501.8,858.0 L502.1,857.4 L502.4,856.9 L502.6,856.3 L502.9,855.8 L503.1,855.3 L503.4,854.7 L503.7,854.2 L503.9,853.6 L504.2,853.1 L504.4,852.5 L504.7,852.0 L504.9,851.4 L505.2,850.9 L505.4,850.3 L505.7,849.8 L505.9,849.2 L506.2,848.7 L506.4,848.1 L506.7,847.6 L506.9,847.0 L507.1,846.5 L507.4,845.9 L507.6,845.4 L507.8,844.8 L508.1,844.3 L508.3,843.7 L508.5,843.2 L508.7,842.6 L508.9,842.1 L509.2,841.5 L509.4,840.9 L509.6,840.4 L509.8,839.8 L510.0,839.3 L510.2,838.7 L510.4,838.1 L510.6,837.6 L510.8,837.0 L511.0,836.4 L511.2,835.9 L511.4,835.3 L511.6,834.7 L511.8,834.2 L512.0,833.6 L512.2,833.0 L512.4,832.5 L512.6,831.9 L512.8,831.3 L513.0,830.7 L513.2,830.2 L513.4,829.6 L513.5,829.0 L513.7,828.4 L513.9,827.9 L514.1,827.3 L514.3,826.7 L514.4,826.1 L514.6,825.6 L514.8,825.0 L515.0,824.4 L515.1,823.8 L515.3,823.3 L515.5,822.7 L515.6,822.1 L515.8,821.5 L516.0,821.0 L516.1,820.4 L516.3,819.8 L516.4,819.2 L516.6,818.7 L516.8,818.1 L516.9,817.5 L517.1,816.9 L517.2,816.3 L517.4,815.8 L517.5,815.2 L517.7,814.6 L517.8,814.0 L518.0,813.4 L518.1,812.8 L518.3,812.3 L518.4,811.7 L518.6,811.1 L518.7,810.5 L518.9,809.9 L519.0,809.3 L519.1,808.8 L519.3,808.2 L519.4,807.6 L519.6,807.0 L519.7,806.4 L519.8,805.8 L520.0,805.3 L520.1,804.7 L520.3,804.1 L520.4,803.5 L520.5,802.9 L520.7,802.3 L520.8,801.7 L521.0,801.2 L521.1,800.6 L521.2,800.0 L521.4,799.4 L521.5,798.8 L521.6,798.2 L521.8,797.6 L521.9,797.1 L522.1,796.5 L522.2,795.9 L522.3,795.3 L522.5,794.7 L522.6,794.1 L522.7,793.5 L522.9,793.0 L523.0,792.4 L523.1,791.8 L523.3,791.2 L523.4,790.6 L523.5,790.0 L523.7,789.4 L523.8,788.9 L523.9,788.3 L524.1,787.7 L524.2,787.1 L524.3,786.5 L524.4,785.9 L524.6,785.3 L524.7,784.7 L524.8,784.2 L525.0,783.6 L525.1,783.0 L525.2,782.4 L525.4,781.8 L525.5,781.2 L525.6,780.6 L525.8,780.1 L525.9,779.5 L526.0,778.9 L526.2,778.3 L526.3,777.7 L526.5,777.1 L526.6,776.6 L526.7,776.0 L526.9,775.4 L527.0,774.8 L527.2,774.2 L527.3,773.6 L527.5,773.1 L527.6,772.5 L527.8,771.9 L527.9,771.3 L528.1,770.7 L528.2,770.1 L528.4,769.6 L528.6,769.0 L528.7,768.4 L528.9,767.8 L529.0,767.2 L529.2,766.6 L529.4,766.0 L529.5,765.5 L529.7,764.9 L529.9,764.3 L530.1,763.7 L530.2,763.2 L530.4,762.6 L530.6,762.0 L530.8,761.5 L531.0,760.9 L531.2,760.3 L531.4,759.8 L531.6,759.2 L531.8,758.7 L532.1,758.1 L532.3,757.6 L532.5,757.0 L532.8,756.5 L533.0,756.0 L533.3,755.4 L533.5,754.9 L533.8,754.4 L534.1,753.8 L534.3,753.3 L534.6,752.8 L534.9,752.2 L535.2,751.7 L535.5,751.2 L535.8,750.6 L536.1,750.1 L536.4,749.6 L536.7,749.1 L537.0,748.5 L537.3,748.0 L537.6,747.5 L537.9,747.0 L538.2,746.4 L538.5,745.9 L538.8,745.4 L539.1,744.9 L539.4,744.3 L539.7,743.8 L540.0,743.3 L540.3,742.8 L540.5,742.2 L540.8,741.7 L541.1,741.2 L541.4,740.6 L541.7,740.1 L542.0,739.6 L542.3,739.1 L542.6,738.5 L542.9,738.0 L543.2,737.5 L543.5,737.0 L543.8,736.4 L544.1,735.9 L544.4,735.4 L544.7,734.9 L545.0,734.3 L545.3,733.8 L545.6,733.3 L545.9,732.8 L546.3,732.3 L546.6,731.8 L546.9,731.3 L547.2,730.8 L547.5,730.3 L547.9,729.8 L548.2,729.3 L548.5,728.8 L548.9,728.3 L549.2,727.8 L549.5,727.3 L549.9,726.8 L550.2,726.3 L550.6,725.9 L550.9,725.4 L551.3,724.9 L551.6,724.4 L552.0,723.9 L552.3,723.5 L552.7,723.0 L553.1,722.5 L553.5,722.1 L553.8,721.6 L554.2,721.1 L554.6,720.7 L555.0,720.2 L555.4,719.7 L555.8,719.3 L556.1,718.8 L556.5,718.4 L556.9,717.9 L557.3,717.4 L557.7,717.0 L558.1,716.5 L558.5,716.1 L558.9,715.6 L559.3,715.2 L559.7,714.7 L560.1,714.3 L560.5,713.8 L560.9,713.3 L561.3,712.9 L561.7,712.4 L562.1,712.0 L562.5,711.5 L562.9,711.1 L563.3,710.6 L563.7,710.2 L564.1,709.7 L564.5,709.3 L564.9,708.8 L565.3,708.4 L565.7,707.9 L566.1,707.5 L566.5,707.0 L566.9,706.6 L567.3,706.1 L567.7,705.7 L568.1,705.2 L568.5,704.8 L568.9,704.3 L569.3,703.9 L569.7,703.4 L570.1,703.0 L570.4,702.5 L570.8,702.1 L571.2,701.6 L571.6,701.2 L572.0,700.7 L572.4,700.3 L572.8,699.8 L573.2,699.4 L573.6,698.9 L574.0,698.5 L574.4,698.0 L574.8,697.6 L575.3,697.1 L575.7,696.7 L576.1,696.2 L576.5,695.8 L576.9,695.3 L577.3,694.9 L577.7,694.5 L578.1,694.0 L578.5,693.6 L578.9,693.1 L579.3,692.7 L579.7,692.3 L580.1,691.8 L580.5,691.4 L581.0,690.9 L581.4,690.5 L581.8,690.1 L582.2,689.6 L582.6,689.2 L583.0,688.8 L583.4,688.3 L583.9,687.9 L584.3,687.5 L584.7,687.0 L585.1,686.6 L585.5,686.2 L585.9,685.7 L586.4,685.3 L586.8,684.9 L587.2,684.5 L587.6,684.0 L588.0,683.6 L588.5,683.2 L588.9,682.7 L589.3,682.3 L589.7,681.9 L590.2,681.5 L590.6,681.0 L591.0,680.6 L591.5,680.2 L591.9,679.8 L592.3,679.4 L592.7,678.9 L593.2,678.5 L593.6,678.1 L594.0,677.7 L594.5,677.3 L594.9,676.8 L595.3,676.4 L595.8,676.0 L596.2,675.6 L596.6,675.2 L597.1,674.8 L597.5,674.3 L597.9,673.9 L598.4,673.5 L598.8,673.1 L599.2,672.7 L599.7,672.3 L600.1,671.9 L600.6,671.5 L601.0,671.1 L601.4,670.7 L601.9,670.2 L602.3,669.8 L602.8,669.4 L603.2,669.0 L603.7,668.6 L604.1,668.2 L604.6,667.8 L605.0,667.4 L605.4,667.0 L605.9,666.6 L606.3,666.2 L606.8,665.8 L607.2,665.4 L607.7,665.0 L608.1,664.7 L608.5,664.3 L608.9,663.9 L609.4,663.5 L609.9,663.1 L610.3,662.7 L610.8,662.3 L611.3,661.9 L611.7,661.5 L612.2,661.1 L612.7,660.7 L613.1,660.3 L613.6,659.9" fill="none" stroke="#ff00ff" stroke-width="2.15" stroke-linejoin="round" stroke-linecap="butt" />
<path d="M376.3,956.7 L377.2,956.7 L378.2,956.7 L379.1,956.7 L380.0,956.7 L380.9,956.7 L381.8,956.7 L382.7,956.7 L383.6,956.7 L384.5,956.7 L385.3,956.7 L386.2,956.7 L387.0,956.7 L387.9,956.7 L388.7,956.7 L389.6,956.7 L390.4,956.7 L391.2,956.7 L392.0,956.7 L392.8,956.7 L393.6,956.7 L394.4,956.7 L395.1,956.7 L395.9,956.7 L396.7,956.7 L397.4,956.7 L398.2,956.7 L398.9,956.7 L399.6,956.7 L400.4,956.7 L401.1,956.7 L401.8,956.7 L402.5,956.7 L403.2,956.7 L403.8,956.7 L404.5,956.7 L405.2,956.7 L405.8,956.7 L406.5,956.7 L407.1,956.7 L407.8,956.7 L408.4,956.7 L409.0,956.7 L409.6,956.7 L410.2,956.7 L410.8,956.7 L411.4,956.7 L412.0,956.7 L412.6,956.7 L413.1,956.7 L413.7,956.7 L414.3,956.7 L414.8,956.7 L415.3,956.7 L415.9,956.7 L416.4,956.7 L416.9,956.7 L417.4,956.7 L417.9,956.7 L418.4,956.7 L418.9,956.7 L419.3,956.7 L419.8,956.7 L420.3,956.7 L420.7,956.7 L421.2,956.7 L421.6,956.7 L422.0,956.7 L422.5,956.7 L422.9,956.7 L423.3,956.7 L423.7,956.7 L424.1,956.7 L424.5,956.7 L424.8,956.7 L425.2,956.7 L425.6,956.7 L425.9,956.7 L426.3,956.7 L426.6,956.7 L426.9,956.7 L427.3,956.7 L427.6,956.7 L427.9,956.7 L428.2,956.7 L428.5,956.7 L428.7,956.7 L429.0,956.7 L429.2,956.6 L429.4,956.6 L429.6,956.4 L429.9,956.2 L430.1,955.9 L430.4,955.4 L430.6,954.8 L430.8,954.2 L431.0,953.5 L431.2,952.8 L431.4,952.1 L431.5,951.3 L431.7,950.5 L431.9,949.8 L432.1,949.0 L432.2,948.3 L432.4,947.7 L432.6,947.1 L432.8,946.5 L433.0,946.0 L433.2,945.4 L433.4,944.8 L433.6,944.3 L433.8,943.7 L434.1,943.1 L434.3,942.6 L434.5,942.0 L434.7,941.4 L434.9,940.9 L435.1,940.3 L435.2,939.7 L435.4,939.1 L435.6,938.6 L435.7,938.0 L435.9,937.4 L436.0,936.8 L436.1,936.2 L436.2,935.7 L436.3,935.1 L436.4,934.5 L436.5,933.9 L436.6,933.3 L436.7,932.7 L436.8,932.1 L436.9,931.5 L437.0,930.9 L437.0,930.3 L437.1,929.7 L437.2,929.2 L437.3,928.6 L437.4,928.0 L437.4,927.4 L437.5,926.8 L437.6,926.2 L437.6,925.6 L437.7,925.0 L437.8,924.4 L437.8,923.8 L437.9,923.2 L438.0,922.6 L438.0,922.0 L438.1,921.4 L438.2,920.8 L438.2,920.2 L438.3,919.6 L438.4,919.0 L438.4,918.4 L438.5,917.8 L438.6,917.2 L438.7,916.6 L438.7,916.0 L438.8,915.4 L438.9,914.8 L439.0,914.2 L439.0,913.6 L439.1,913.0 L439.2,912.4 L439.3,911.8 L439.4,911.2 L439.5,910.6 L439.6,910.0 L439.6,909.4 L439.7,908.8 L439.8,908.2 L439.9,907.6 L439.9,906.9 L440.0,906.3 L440.1,905.7 L440.2,905.1 L440.3,904.5 L440.3,903.9 L440.4,903.3 L440.5,902.7 L440.6,902.1 L440.7,901.5 L440.8,900.9 L440.9,900.3 L441.0,899.7 L441.1,899.1 L441.2,898.5 L441.3,897.9 L441.4,897.3 L441.5,896.7 L441.6,896.2 L441.8,895.6 L441.9,895.0 L442.0,894.5 L442.2,893.9 L442.3,893.3 L442.5,892.8 L442.7,892.3 L442.9,891.7 L443.1,891.2 L443.3,890.7 L443.6,890.1 L443.9,889.6 L444.3,889.1 L444.6,888.6 L444.9,888.1 L445.3,887.5 L445.6,887.0 L446.0,886.5 L446.4,886.0 L446.7,885.5 L447.0,885.0 L447.4,884.5 L447.7,884.0 L448.1,883.5 L448.4,883.0 L448.7,882.5 L449.1,882.0 L449.4,881.6 L449.8,881.1 L450.1,880.6 L450.5,880.1 L450.8,879.6 L451.2,879.1 L451.6,878.6 L451.9,878.2 L452.3,877.7 L452.6,877.2 L453.0,876.7 L453.4,876.2 L453.7,875.7 L454.1,875.3 L454.4,874.8 L454.8,874.3 L455.1,873.8 L455.5,873.3 L455.8,872.8 L456.2,872.3 L456.5,871.8 L456.9,871.3 L457.2,870.9 L457.6,870.4 L457.9,869.9 L458.3,869.4 L458.6,868.9 L459.0,868.4 L459.3,867.9 L459.6,867.4 L460.0,866.9 L460.3,866.4 L460.7,865.9 L461.0,865.4 L461.3,864.9 L461.7,864.4 L462.0,863.9 L462.3,863.4 L462.7,862.9 L463.0,862.4 L463.3,861.9 L463.6,861.4 L463.9,860.9 L464.2,860.3 L464.5,859.8 L464.8,859.3 L465.1,858.8 L465.4,858.3 L465.7,857.8 L466.0,857.2 L466.3,856.7 L466.6,856.2 L466.9,855.7 L467.2,855.1 L467.4,854.6 L467.7,854.1 L468.0,853.5 L468.3,853.0 L468.6,852.5 L468.8,851.9 L469.1,851.4 L469.4,850.8 L469.6,850.3 L469.9,849.8 L470.2,849.2 L470.4,848.7 L470.7,848.1 L471.0,847.6 L471.2,847.1 L471.5,846.5 L471.7,846.0 L472.0,845.4 L472.3,844.9 L472.5,844.3 L472.8,843.8 L473.0,843.2 L473.3,842.7 L473.6,842.2 L473.8,841.6 L474.1,841.1 L474.3,840.5 L474.6,840.0 L474.9,839.4 L475.1,838.9 L475.4,838.4 L475.6,837.8 L475.9,837.3 L476.2,836.7 L476.4,836.2 L476.7,835.6 L476.9,835.1 L477.2,834.6 L477.5,834.0 L477.7,833.5 L478.0,832.9 L478.2,832.4 L478.5,831.8 L478.7,831.3 L479.0,830.7 L479.2,830.2 L479.5,829.6 L479.7,829.1 L480.0,828.5 L480.2,828.0 L480.4,827.4 L480.7,826.9 L480.9,826.3 L481.2,825.8 L481.4,825.2 L481.6,824.7 L481.8,824.1 L482.1,823.6 L482.3,823.0 L482.5,822.4 L482.7,821.9 L482.9,821.3 L483.1,820.8 L483.3,820.2 L483.5,819.6 L483.7,819.1 L483.9,818.5 L484.1,817.9 L484.3,817.4 L484.5,816.8 L484.7,816.2 L484.9,815.6 L485.1,815.1 L485.2,814.5 L485.4,813.9 L485.6,813.3 L485.8,812.8 L486.0,812.2 L486.1,811.6 L486.3,811.0 L486.5,810.5 L486.7,809.9 L486.9,809.3 L487.1,808.7 L487.3,808.2 L487.4,807.6 L487.6,807.0 L487.8,806.5 L488.0,805.9 L488.2,805.3 L488.4,804.8 L488.6,804.2 L488.8,803.6 L489.0,803.1 L489.2,802.5 L489.4,801.9 L489.6,801.4 L489.9,800.8 L490.1,800.3 L490.3,799.7 L490.5,799.1 L490.7,798.6 L491.0,798.0 L491.2,797.4 L491.4,796.9 L491.7,796.3 L491.9,795.7 L492.1,795.2 L492.4,794.6 L492.6,794.0 L492.9,793.5 L493.1,792.9 L493.4,792.4 L493.7,791.9 L493.9,791.3 L494.2,790.8 L494.5,790.3 L494.8,789.7 L495.0,789.2 L495.3,788.7 L495.6,788.2 L495.9,787.7 L496.2,787.2 L496.6,786.8 L496.9,786.3 L497.2,785.8 L497.6,785.3 L497.9,784.8 L498.3,784.4 L498.7,783.9 L499.0,783.4 L499.4,782.9 L499.8,782.5 L500.2,782.0 L500.6,781.5 L501.0,781.1 L501.4,780.6 L501.8,780.2 L502.3,779.7 L502.7,779.3 L503.1,778.8 L503.5,778.4 L503.9,777.9 L504.3,777.5 L504.7,777.1 L505.1,776.6 L505.5,776.2 L506.0,775.8 L506.4,775.3 L506.8,774.9 L507.2,774.5 L507.6,774.0 L508.0,773.6 L508.5,773.2 L508.9,772.8 L509.3,772.3 L509.8,771.9 L510.2,771.5 L510.6,771.1 L511.1,770.7 L511.5,770.2 L511.9,769.8 L512.4,769.4 L512.8,769.0 L513.2,768.6 L513.7,768.1 L514.1,767.7 L514.5,767.3 L515.0,766.9 L515.4,766.5 L515.8,766.1 L516.3,765.7 L516.7,765.2 L517.1,764.8 L517.6,764.4 L518.0,764.0 L518.5,763.6 L518.9,763.2 L519.3,762.8 L519.8,762.4 L520.2,762.0 L520.7,761.5 L521.1,761.1 L521.6,760.7 L522.0,760.3 L522.4,759.9 L522.9,759.5 L523.3,759.1 L523.8,758.7 L524.2,758.3 L524.7,757.9 L525.1,757.5 L525.6,757.2 L526.1,756.8 L526.5,756.4 L527.0,756.0 L527.4,755.6 L527.9,755.2 L528.4,754.8 L528.8,754.5 L529.3,754.1 L529.8,753.7 L530.2,753.3 L530.7,753.0 L531.2,752.6 L531.7,752.2 L532.1,751.8 L532.6,751.4 L533.1,751.1 L533.5,750.7 L534.0,750.3 L534.5,749.9 L534.9,749.6 L535.4,749.2 L535.9,748.8 L536.3,748.4 L536.8,748.0 L537.2,747.6 L537.7,747.2 L538.1,746.8 L538.6,746.4 L539.0,746.0 L539.5,745.6 L539.9,745.2 L540.4,744.8 L540.8,744.4 L541.2,744.0 L541.6,743.6 L542.1,743.1 L542.5,742.7 L542.9,742.3 L543.4,741.9 L543.8,741.4 L544.2,741.0 L544.6,740.6 L545.0,740.2 L545.5,739.7 L545.9,739.3 L546.3,738.9 L546.7,738.4 L547.1,738.0 L547.6,737.6 L548.0,737.1 L548.4,736.7 L548.8,736.3 L549.3,735.8 L549.7,735.4 L550.1,735.0 L550.5,734.6 L551.0,734.1 L551.4,733.7 L551.8,733.3 L552.2,732.9 L552.7,732.5 L553.1,732.1 L553.6,731.6 L554.0,731.2 L554.4,730.8 L554.9,730.4 L555.3,730.0 L555.8,729.6 L556.2,729.2 L556.7,728.8 L557.1,728.4 L557.6,728.0 L558.0,727.6 L558.5,727.2 L558.9,726.8 L559.4,726.4 L559.8,726.0 L560.3,725.6 L560.7,725.2 L561.2,724.8 L561.6,724.4 L562.1,724.0 L562.5,723.6 L563.0,723.2 L563.4,722.8 L563.9,722.4 L564.3,722.0 L564.8,721.6 L565.2,721.2 L565.7,720.8 L566.1,720.4 L566.6,720.0 L567.0,719.6 L567.4,719.2 L567.9,718.8 L568.3,718.3 L568.7,717.9 L569.1,717.5 L569.6,717.1 L570.0,716.7 L570.4,716.2 L570.8,715.8 L571.2,715.4 L571.7,714.9 L572.1,714.5 L572.5,714.1 L572.9,713.6 L573.3,713.2 L573.7,712.7 L574.1,712.3 L574.5,711.9 L574.9,711.4 L575.3,711.0 L575.7,710.5 L576.1,710.1 L576.5,709.6 L576.9,709.2 L577.3,708.7 L577.7,708.3 L578.1,707.8 L578.5,707.4 L578.9,706.9 L579.3,706.5 L579.7,706.0 L580.1,705.6 L580.5,705.1 L580.9,704.7 L581.3,704.2 L581.7,703.8 L582.1,703.3 L582.5,702.8 L582.9,702.4 L583.3,701.9 L583.7,701.5 L584.1,701.0 L584.5,700.6 L584.9,700.2 L585.3,699.7 L585.7,699.3 L586.1,698.8 L586.5,698.4 L586.9,697.9 L587.4,697.5 L587.8,697.0 L588.2,696.6 L588.6,696.1 L589.0,695.7 L589.4,695.3 L589.8,694.8 L590.2,694.4 L590.6,693.9 L591.0,693.5 L591.4,693.0 L591.8,692.6 L592.2,692.1 L592.6,691.7 L593.0,691.3 L593.4,690.8 L593.8,690.4 L594.2,689.9 L594.6,689.5 L595.0,689.0 L595.5,688.6 L595.9,688.1 L596.3,687.7 L596.7,687.3 L597.1,686.8 L597.5,686.4 L597.9,685.9 L598.3,685.5 L598.7,685.0 L599.1,684.6 L599.5,684.1 L599.9,683.7 L600.3,683.3 L600.7,682.8 L601.1,682.4 L601.5,681.9 L601.9,681.5 L602.3,681.0 L602.8,680.6 L603.2,680.1 L603.6,679.7 L604.0,679.3 L604.4,678.8 L604.8,678.4 L605.2,677.9 L605.6,677.5 L606.0,677.0 L606.4,676.6 L606.8,676.1 L607.2,675.7 L607.6,675.3 L608.0,674.8 L608.4,674.4 L608.8,673.9 L609.2,673.5 L609.6,673.0 L610.1,672.6 L610.5,672.2 L610.9,671.7 L611.3,671.3 L611.7,670.8 L612.1,670.4 L612.5,669.9 L612.9,669.5 L613.3,669.1 L613.7,668.6 L614.1,668.2 L614.5,667.8 L614.9,667.3 L615.2,666.9 L615.7,666.5 L616.1,666.0 L616.5,665.6 L616.9,665.1 L617.3,664.7 L617.7,664.2 L618.2,663.7 L618.6,663.3 L619.0,662.8 L619.4,662.4" fill="none" stroke="#ff8000" stroke-width="2.15" stroke-linejoin="round" stroke-linecap="butt" />
<path d="M376.3,956.7 L377.3,956.7 L378.3,956.7 L379.2,956.7 L380.2,956.7 L381.1,956.7 L382.1,956.7 L383.0,956.7 L384.0,956.7 L384.9,956.7 L385.8,956.7 L386.7,956.7 L387.6,956.7 L388.5,956.7 L389.4,956.7 L390.3,956.7 L391.1,956.7 L392.0,956.7 L392.8,956.7 L393.7,956.7 L394.5,956.7 L395.4,956.7 L396.2,956.7 L397.0,956.7 L397.8,956.7 L398.6,956.7 L399.4,956.7 L400.2,956.7 L401.0,956.7 L401.7,956.7 L402.5,956.7 L403.3,956.7 L404.0,956.7 L404.7,956.7 L405.5,956.7 L406.2,956.7 L406.9,956.7 L407.6,956.7 L408.3,956.7 L409.0,956.7 L409.7,956.7 L410.4,956.7 L411.1,956.7 L411.8,956.7 L412.4,956.7 L413.1,956.7 L413.7,956.7 L414.3,956.7 L415.0,956.7 L415.6,956.7 L416.2,956.7 L416.8,956.7 L417.4,956.7 L418.0,956.7 L418.6,956.7 L419.2,956.7 L419.8,956.7 L420.3,956.7 L420.9,956.7 L421.4,956.7 L422.0,956.7 L422.5,956.7 L423.0,956.7 L423.6,956.7 L424.1,956.7 L424.6,956.7 L425.1,956.7 L425.6,956.7 L426.1,956.7 L426.6,956.7 L427.0,956.7 L427.5,956.7 L428.0,956.7 L428.4,956.7 L428.9,956.7 L429.3,956.7 L429.7,956.7 L430.1,956.7 L430.6,956.7 L431.0,956.7 L431.4,956.7 L431.8,956.7 L432.2,956.7 L432.5,956.7 L432.9,956.7 L433.3,956.7 L433.6,956.7 L434.0,956.7 L434.3,956.7 L434.7,956.7 L435.0,956.7 L435.4,956.7 L435.7,956.7 L436.0,956.7 L436.3,956.7 L436.6,956.7 L436.9,956.7 L437.2,956.7 L437.5,956.7 L437.7,956.7 L438.0,956.7 L438.2,956.7 L438.4,956.7 L438.6,956.7 L438.8,956.6 L439.0,956.6 L439.2,956.4 L439.5,956.1 L439.8,955.6 L440.0,955.0 L440.2,954.2 L440.4,953.5 L440.6,952.7 L440.7,951.9 L440.9,951.2 L440.9,950.5 L441.0,949.9 L441.1,949.3 L441.1,948.7 L441.1,948.1 L441.2,947.6 L441.2,947.0 L441.3,946.4 L441.3,945.8 L441.3,945.2 L441.4,944.6 L441.4,944.0 L441.4,943.4 L441.5,942.8 L441.5,942.2 L441.5,941.6 L441.5,941.0 L441.6,940.4 L441.6,939.8 L441.6,939.2 L441.6,938.6 L441.7,938.0 L441.7,937.4 L441.7,936.8 L441.7,936.2 L441.8,935.6 L441.8,935.0 L441.8,934.4 L441.8,933.8 L441.8,933.2 L441.8,932.6 L441.9,932.0 L441.9,931.4 L441.9,930.8 L441.9,930.2 L441.9,929.6 L441.9,929.0 L442.0,928.4 L442.0,927.8 L442.0,927.2 L442.0,926.6 L442.0,926.0 L442.0,925.4 L442.0,924.8 L442.0,924.2 L442.1,923.6 L442.1,922.9 L442.1,922.3 L442.1,921.7 L442.1,921.1 L442.1,920.5 L442.1,919.9 L442.1,919.3 L442.2,918.7 L442.2,918.1 L442.2,917.5 L442.2,916.9 L442.2,916.3 L442.2,915.7 L442.2,915.1 L442.3,914.5 L442.3,913.9 L442.3,913.2 L442.3,912.6 L442.3,912.0 L442.3,911.4 L442.3,910.8 L442.4,910.2 L442.4,909.6 L442.4,909.0 L442.4,908.4 L442.4,907.8 L442.5,907.2 L442.5,906.6 L442.5,906.0 L442.5,905.4 L442.5,904.8 L442.6,904.2 L442.6,903.6 L442.6,903.0 L442.6,902.4 L442.6,901.8 L442.7,901.2 L442.7,900.6 L442.7,900.0 L442.7,899.4 L442.7,898.8 L442.8,898.2 L442.8,897.6 L442.8,897.0 L442.8,896.4 L442.8,895.8 L442.9,895.2 L442.9,894.6 L442.9,894.0 L442.9,893.4 L442.9,892.8 L443.0,892.2 L443.0,891.6 L443.0,891.0 L443.0,890.4 L443.0,889.8 L443.1,889.2 L443.1,888.6 L443.1,888.0 L443.1,887.4 L443.1,886.8 L443.2,886.2 L443.2,885.6 L443.2,885.0 L443.2,884.4 L443.2,883.8 L443.3,883.1 L443.3,882.5 L443.3,881.9 L443.3,881.3 L443.3,880.7 L443.4,880.1 L443.4,879.5 L443.4,878.9 L443.4,878.3 L443.5,877.7 L443.5,877.1 L443.5,876.5 L443.5,875.9 L443.6,875.3 L443.6,874.7 L443.6,874.1 L443.6,873.5 L443.7,872.9 L443.7,872.3 L443.7,871.7 L443.8,871.1 L443.8,870.5 L443.8,869.9 L443.8,869.3 L443.9,868.7 L443.9,868.1 L443.9,867.5 L444.0,866.9 L444.0,866.3 L444.0,865.7 L444.1,865.1 L444.1,864.5 L444.1,863.9 L444.2,863.3 L444.2,862.7 L444.3,862.1 L444.3,861.5 L444.4,860.9 L444.4,860.3 L444.5,859.7 L444.5,859.1 L444.6,858.5 L444.6,857.9 L444.7,857.3 L444.7,856.7 L444.8,856.1 L444.9,855.5 L444.9,854.9 L445.0,854.3 L445.1,853.7 L445.1,853.1 L445.2,852.5 L445.3,851.9 L445.4,851.4 L445.5,850.8 L445.6,850.2 L445.7,849.6 L445.9,849.0 L446.0,848.4 L446.2,847.8 L446.3,847.2 L446.5,846.7 L446.7,846.1 L446.9,845.5 L447.1,845.0 L447.3,844.4 L447.6,843.9 L447.8,843.3 L448.1,842.7 L448.3,842.2 L448.6,841.6 L448.9,841.1 L449.2,840.5 L449.5,840.0 L449.8,839.5 L450.1,839.0 L450.4,838.5 L450.7,838.0 L451.1,837.5 L451.4,837.0 L451.7,836.5 L452.1,836.1 L452.4,835.6 L452.8,835.1 L453.2,834.7 L453.6,834.2 L454.0,833.8 L454.4,833.4 L454.8,832.9 L455.3,832.5 L455.7,832.1 L456.2,831.7 L456.6,831.3 L457.1,830.9 L457.5,830.4 L458.0,830.0 L458.5,829.6 L458.9,829.2 L459.4,828.8 L459.8,828.4 L460.3,828.0 L460.8,827.6 L461.2,827.2 L461.7,826.8 L462.1,826.5 L462.6,826.1 L463.0,825.7 L463.5,825.3 L464.0,825.0 L464.4,824.6 L464.9,824.2 L465.4,823.9 L465.9,823.5 L466.4,823.1 L466.8,822.8 L467.3,822.4 L467.8,822.1 L468.3,821.7 L468.8,821.4 L469.3,821.0 L469.8,820.6 L470.3,820.3 L470.7,819.9 L471.2,819.6 L471.7,819.2 L472.2,818.9 L472.7,818.5 L473.2,818.2 L473.7,817.8 L474.2,817.5 L474.7,817.1 L475.1,816.8 L475.6,816.4 L476.1,816.1 L476.6,815.7 L477.1,815.3 L477.6,815.0 L478.1,814.6 L478.5,814.3 L479.0,813.9 L479.5,813.6 L480.0,813.2 L480.5,812.9 L481.0,812.5 L481.5,812.2 L482.0,811.8 L482.5,811.5 L482.9,811.1 L483.4,810.8 L483.9,810.4 L484.4,810.1 L484.9,809.7 L485.4,809.4 L485.9,809.0 L486.4,808.7 L486.8,808.3 L487.3,808.0 L487.8,807.6 L488.3,807.2 L488.8,806.9 L489.3,806.5 L489.8,806.2 L490.3,805.8 L490.7,805.5 L491.2,805.1 L491.7,804.8 L492.2,804.4 L492.7,804.1 L493.2,803.7 L493.7,803.4 L494.2,803.0 L494.6,802.6 L495.1,802.3 L495.6,801.9 L496.1,801.6 L496.6,801.2 L497.1,800.9 L497.6,800.5 L498.1,800.2 L498.5,799.8 L499.0,799.4 L499.5,799.1 L500.0,798.7 L500.5,798.4 L500.9,798.0 L501.4,797.6 L501.9,797.3 L502.4,796.9 L502.9,796.5 L503.3,796.2 L503.8,795.8 L504.3,795.4 L504.7,795.0 L505.2,794.7 L505.7,794.3 L506.1,793.9 L506.6,793.5 L507.0,793.1 L507.5,792.8 L508.0,792.4 L508.4,792.0 L508.9,791.6 L509.3,791.2 L509.8,790.8 L510.2,790.4 L510.7,790.0 L511.1,789.6 L511.6,789.2 L512.0,788.8 L512.5,788.4 L512.9,788.0 L513.4,787.6 L513.8,787.2 L514.2,786.8 L514.7,786.3 L515.1,785.9 L515.6,785.5 L516.0,785.1 L516.5,784.7 L516.9,784.3 L517.3,783.9 L517.8,783.5 L518.2,783.1 L518.7,782.7 L519.1,782.2 L519.5,781.8 L520.0,781.4 L520.4,781.0 L520.9,780.6 L521.3,780.2 L521.8,779.8 L522.2,779.4 L522.7,779.0 L523.1,778.6 L523.5,778.2 L524.0,777.8 L524.4,777.4 L524.9,777.0 L525.3,776.6 L525.8,776.2 L526.2,775.8 L526.7,775.4 L527.1,775.0 L527.6,774.6 L528.0,774.1 L528.4,773.7 L528.9,773.3 L529.3,772.9 L529.8,772.5 L530.2,772.1 L530.7,771.7 L531.1,771.3 L531.6,770.9 L532.0,770.5 L532.5,770.1 L532.9,769.7 L533.4,769.3 L533.8,768.9 L534.3,768.5 L534.7,768.1 L535.1,767.7 L535.6,767.3 L536.0,766.9 L536.5,766.5 L536.9,766.1 L537.4,765.7 L537.8,765.3 L538.3,764.9 L538.7,764.5 L539.2,764.1 L539.6,763.7 L540.1,763.3 L540.5,762.9 L541.0,762.5 L541.5,762.1 L541.9,761.7 L542.4,761.3 L542.8,760.9 L543.3,760.5 L543.7,760.1 L544.2,759.7 L544.6,759.3 L545.1,759.0 L545.5,758.6 L546.0,758.2 L546.5,757.8 L546.9,757.4 L547.4,757.0 L547.8,756.6 L548.3,756.2 L548.7,755.8 L549.2,755.4 L549.6,755.0 L550.1,754.6 L550.5,754.2 L551.0,753.8 L551.4,753.4 L551.8,753.0 L552.3,752.6 L552.7,752.2 L553.2,751.7 L553.6,751.3 L554.0,750.9 L554.5,750.5 L554.9,750.1 L555.3,749.7 L555.8,749.3 L556.2,748.8 L556.6,748.4 L557.1,748.0 L557.5,747.6 L557.9,747.2 L558.4,746.7 L558.8,746.3 L559.2,745.9 L559.7,745.5 L560.1,745.1 L560.5,744.6 L560.9,744.2 L561.4,743.8 L561.8,743.3 L562.2,742.9 L562.6,742.5 L563.1,742.1 L563.5,741.6 L563.9,741.2 L564.3,740.8 L564.7,740.3 L565.2,739.9 L565.6,739.5 L566.0,739.0 L566.4,738.6 L566.8,738.1 L567.2,737.7 L567.6,737.3 L568.0,736.8 L568.4,736.4 L568.8,735.9 L569.3,735.5 L569.7,735.1 L570.1,734.6 L570.5,734.2 L570.8,733.7 L571.2,733.3 L571.6,732.8 L572.0,732.4 L572.4,731.9 L572.8,731.4 L573.2,731.0 L573.6,730.5 L574.0,730.1 L574.4,729.6 L574.8,729.1 L575.1,728.7 L575.5,728.2 L575.9,727.8 L576.3,727.3 L576.7,726.8 L577.1,726.4 L577.4,725.9 L577.8,725.4 L578.2,725.0 L578.6,724.5 L579.0,724.0 L579.3,723.6 L579.7,723.1 L580.1,722.6 L580.5,722.2 L580.9,721.7 L581.2,721.2 L581.6,720.8 L582.0,720.3 L582.4,719.8 L582.8,719.4 L583.1,718.9 L583.5,718.4 L583.9,718.0 L584.3,717.5 L584.7,717.0 L585.1,716.6 L585.4,716.1 L585.8,715.6 L586.2,715.2 L586.6,714.7 L587.0,714.2 L587.4,713.8 L587.8,713.3 L588.1,712.9 L588.5,712.4 L588.9,711.9 L589.3,711.5 L589.7,711.0 L590.1,710.6 L590.5,710.1 L590.8,709.6 L591.2,709.2 L591.6,708.7 L592.0,708.2 L592.4,707.8 L592.8,707.3 L593.2,706.9 L593.5,706.4 L593.9,705.9 L594.3,705.5 L594.7,705.0 L595.1,704.6 L595.5,704.1 L595.9,703.6 L596.2,703.2 L596.6,702.7 L597.0,702.2 L597.4,701.8 L597.8,701.3 L598.2,700.9 L598.5,700.4 L598.9,699.9 L599.3,699.5 L599.7,699.0 L600.1,698.5 L600.5,698.1 L600.9,697.6 L601.2,697.1 L601.6,696.7 L602.0,696.2 L602.4,695.8 L602.8,695.3 L603.1,694.8 L603.5,694.4 L603.9,693.9 L604.3,693.4 L604.7,693.0 L605.0,692.5 L605.4,692.0 L605.8,691.6 L606.2,691.1 L606.6,690.6 L606.9,690.2 L607.3,689.7 L607.7,689.2 L608.1,688.8 L608.5,688.3 L608.8,687.8 L609.2,687.4 L609.6,686.9 L610.0,686.4 L610.4,686.0 L610.7,685.5 L611.1,685.0 L611.5,684.6 L611.9,684.1 L612.3,683.6 L612.6,683.2 L613.0,682.7 L613.4,682.2 L613.8,681.8 L614.1,681.3 L614.5,680.8 L614.9,680.4 L615.2,679.9 L615.6,679.5 L615.9,679.0 L616.3,678.5 L616.7,678.1 L617.1,677.6 L617.5,677.1 L617.9,676.6 L618.3,676.1 L618.6,675.6 L619.0,675.2 L619.4,674.7" fill="none" stroke="#808000" stroke-width="2.15" stroke-linejoin="round" stroke-linecap="butt" />
<path d="M376.3,956.7 L377.4,956.7 L378.5,956.7 L379.5,956.7 L380.6,956.7 L381.6,956.7 L382.7,956.7 L383.7,956.7 L384.7,956.7 L385.8,956.7 L386.8,956.7 L387.8,956.7 L388.8,956.7 L389.7,956.7 L390.7,956.7 L391.7,956.7 L392.6,956.7 L393.6,956.7 L394.5,956.7 L395.4,956.7 L396.3,956.7 L397.3,956.7 L398.2,956.7 L399.0,956.7 L399.9,956.7 L400.8,956.7 L401.7,956.7 L402.5,956.7 L403.4,956.7 L404.2,956.7 L405.0,956.7 L405.9,956.7 L406.7,956.7 L407.5,956.7 L408.3,956.7 L409.0,956.7 L409.8,956.7 L410.6,956.7 L411.3,956.7 L412.1,956.7 L412.8,956.7 L413.6,956.7 L414.3,956.7 L415.0,956.7 L415.7,956.7 L416.4,956.7 L417.1,956.7 L417.7,956.7 L418.4,956.7 L419.1,956.7 L419.7,956.7 L420.3,956.7 L421.0,956.7 L421.6,956.7 L422.2,956.7 L422.8,956.7 L423.4,956.7 L424.0,956.7 L424.5,956.7 L425.1,956.7 L425.7,956.7 L426.2,956.7 L426.7,956.7 L427.3,956.7 L427.8,956.7 L428.3,956.7 L428.8,956.7 L429.3,956.7 L429.8,956.7 L430.2,956.7 L430.7,956.7 L431.1,956.7 L431.6,956.7 L432.0,956.7 L432.4,956.7 L432.8,956.7 L433.2,956.7 L433.6,956.7 L434.0,956.7 L434.4,956.7 L434.8,956.7 L435.1,956.7 L435.5,956.7 L435.8,956.7 L436.1,956.7 L436.5,956.7 L436.8,956.7 L437.1,956.7 L437.4,956.7 L437.6,956.7 L437.9,956.7 L438.2,956.7 L438.4,956.7 L438.7,956.7 L438.9,956.7 L439.1,956.7 L439.4,956.7 L439.6,956.7 L439.8,956.7 L439.9,956.7 L440.1,956.7 L440.2,956.7 L440.4,956.7 L440.5,956.7 L440.5,956.7 L440.6,956.7 L440.7,956.6 L440.7,956.6 L440.8,956.6 L440.9,956.5 L441.0,956.4 L441.2,955.9 L441.3,955.1 L441.4,954.4 L441.5,953.6 L441.5,952.8 L441.6,951.9 L441.6,951.2 L441.7,950.4 L441.7,949.8 L441.8,949.3 L441.8,948.7 L441.8,948.1 L441.9,947.5 L441.9,946.9 L442.0,946.3 L442.0,945.7 L442.1,945.1 L442.1,944.5 L442.1,943.9 L442.2,943.3 L442.2,942.7 L442.2,942.1 L442.3,941.5 L442.3,940.9 L442.3,940.3 L442.4,939.7 L442.4,939.1 L442.4,938.5 L442.5,937.9 L442.5,937.3 L442.5,936.7 L442.6,936.1 L442.6,935.5 L442.6,934.9 L442.7,934.3 L442.7,933.7 L442.7,933.0 L442.8,932.4 L442.8,931.8 L442.8,931.2 L442.9,930.6 L442.9,930.0 L442.9,929.4 L442.9,928.8 L443.0,928.2 L443.0,927.6 L443.0,927.0 L443.1,926.4 L443.1,925.8 L443.1,925.2 L443.2,924.6 L443.2,924.0 L443.2,923.4 L443.3,922.8 L443.3,922.2 L443.3,921.6 L443.4,921.0 L443.4,920.4 L443.4,919.8 L443.5,919.2 L443.5,918.6 L443.5,918.0 L443.6,917.4 L443.6,916.8 L443.6,916.2 L443.6,915.6 L443.7,915.0 L443.7,914.4 L443.7,913.7 L443.7,913.1 L443.8,912.5 L443.8,911.9 L443.8,911.3 L443.8,910.7 L443.9,910.1 L443.9,909.5 L443.9,908.9 L443.9,908.3 L444.0,907.7 L444.0,907.1 L444.0,906.5 L444.1,905.8 L444.1,905.2 L444.1,904.6 L444.2,904.0 L444.2,903.4 L444.2,902.8 L444.3,902.2 L444.3,901.6 L444.4,901.0 L444.4,900.5 L444.5,899.9 L444.5,899.3 L444.6,898.7 L444.6,898.1 L444.7,897.5 L444.7,896.9 L444.8,896.3 L444.8,895.8 L444.9,895.2 L445.0,894.6 L445.1,894.0 L445.2,893.5 L445.3,892.9 L445.4,892.3 L445.6,891.7 L445.8,891.1 L446.0,890.5 L446.2,889.9 L446.5,889.3 L446.7,888.8 L447.0,888.2 L447.3,887.6 L447.6,887.1 L447.8,886.5 L448.1,886.0 L448.5,885.5 L448.8,885.0 L449.1,884.6 L449.4,884.1 L449.7,883.7 L450.1,883.3 L450.5,882.9 L450.9,882.5 L451.3,882.1 L451.7,881.7 L452.2,881.3 L452.7,881.0 L453.2,880.6 L453.7,880.2 L454.2,879.9 L454.7,879.5 L455.2,879.2 L455.8,878.8 L456.3,878.5 L456.8,878.1 L457.3,877.7 L457.8,877.4 L458.4,877.0 L458.9,876.6 L459.4,876.3 L459.8,875.9 L460.3,875.5 L460.8,875.1 L461.3,874.8 L461.7,874.4 L462.2,874.0 L462.6,873.6 L463.1,873.2 L463.5,872.9 L464.0,872.5 L464.4,872.1 L464.9,871.7 L465.3,871.3 L465.8,870.9 L466.2,870.5 L466.7,870.1 L467.1,869.7 L467.6,869.3 L468.0,868.9 L468.5,868.5 L468.9,868.0 L469.3,867.6 L469.8,867.2 L470.2,866.8 L470.7,866.4 L471.1,866.0 L471.6,865.6 L472.0,865.2 L472.5,864.8 L472.9,864.4 L473.3,864.0 L473.8,863.6 L474.2,863.2 L474.7,862.8 L475.1,862.4 L475.6,862.0 L476.0,861.5 L476.5,861.1 L476.9,860.7 L477.3,860.3 L477.8,859.9 L478.2,859.5 L478.7,859.1 L479.1,858.7 L479.6,858.3 L480.0,857.9 L480.5,857.5 L480.9,857.1 L481.4,856.7 L481.8,856.3 L482.3,855.9 L482.7,855.5 L483.2,855.1 L483.6,854.7 L484.1,854.3 L484.5,853.9 L485.0,853.5 L485.4,853.1 L485.9,852.7 L486.3,852.3 L486.8,851.9 L487.2,851.5 L487.7,851.1 L488.1,850.7 L488.6,850.3 L489.0,849.9 L489.5,849.5 L489.9,849.1 L490.4,848.7 L490.8,848.3 L491.3,847.9 L491.7,847.5 L492.1,847.1 L492.6,846.7 L493.0,846.3 L493.5,845.9 L493.9,845.5 L494.3,845.1 L494.8,844.6 L495.2,844.2 L495.6,843.8 L496.1,843.4 L496.5,843.0 L496.9,842.6 L497.4,842.1 L497.8,841.7 L498.2,841.3 L498.7,840.9 L499.1,840.5 L499.5,840.0 L499.9,839.6 L500.4,839.2 L500.8,838.8 L501.2,838.3 L501.6,837.9 L502.1,837.5 L502.5,837.1 L502.9,836.6 L503.3,836.2 L503.8,835.8 L504.2,835.3 L504.6,834.9 L505.0,834.5 L505.5,834.1 L505.9,833.6 L506.3,833.2 L506.7,832.8 L507.2,832.4 L507.6,831.9 L508.0,831.5 L508.4,831.1 L508.9,830.7 L509.3,830.2 L509.7,829.8 L510.1,829.4 L510.6,828.9 L511.0,828.5 L511.4,828.1 L511.8,827.7 L512.3,827.2 L512.7,826.8 L513.1,826.4 L513.5,826.0 L514.0,825.5 L514.4,825.1 L514.8,824.7 L515.2,824.3 L515.7,823.8 L516.1,823.4 L516.5,823.0 L516.9,822.6 L517.4,822.1 L517.8,821.7 L518.2,821.3 L518.6,820.9 L519.1,820.4 L519.5,820.0 L519.9,819.6 L520.3,819.2 L520.8,818.7 L521.2,818.3 L521.6,817.9 L522.0,817.5 L522.5,817.0 L522.9,816.6 L523.3,816.2 L523.7,815.8 L524.2,815.3 L524.6,814.9 L525.0,814.5 L525.4,814.1 L525.9,813.6 L526.3,813.2 L526.7,812.8 L527.1,812.4 L527.6,811.9 L528.0,811.5 L528.4,811.1 L528.9,810.7 L529.3,810.2 L529.7,809.8 L530.1,809.4 L530.6,809.0 L531.0,808.6 L531.4,808.1 L531.9,807.7 L532.3,807.3 L532.7,806.9 L533.1,806.4 L533.6,806.0 L534.0,805.6 L534.4,805.2 L534.9,804.8 L535.3,804.3 L535.7,803.9 L536.1,803.5 L536.6,803.1 L537.0,802.6 L537.4,802.2 L537.9,801.8 L538.3,801.4 L538.7,800.9 L539.1,800.5 L539.5,800.1 L540.0,799.7 L540.4,799.2 L540.8,798.8 L541.2,798.4 L541.6,797.9 L542.1,797.5 L542.5,797.1 L542.9,796.6 L543.3,796.2 L543.7,795.8 L544.1,795.3 L544.5,794.9 L544.9,794.4 L545.3,794.0 L545.8,793.6 L546.2,793.1 L546.6,792.7 L547.0,792.2 L547.4,791.8 L547.8,791.3 L548.2,790.9 L548.6,790.4 L549.0,790.0 L549.4,789.5 L549.8,789.1 L550.2,788.6 L550.6,788.2 L551.0,787.7 L551.4,787.3 L551.8,786.8 L552.1,786.4 L552.5,785.9 L552.9,785.5 L553.3,785.0 L553.7,784.5 L554.1,784.1 L554.5,783.6 L554.9,783.2 L555.3,782.7 L555.7,782.3 L556.1,781.8 L556.5,781.3 L556.9,780.9 L557.3,780.4 L557.6,780.0 L558.0,779.5 L558.4,779.1 L558.8,778.6 L559.2,778.1 L559.6,777.7 L560.0,777.2 L560.4,776.8 L560.8,776.3 L561.2,775.9 L561.6,775.4 L561.9,774.9 L562.3,774.5 L562.7,774.0 L563.1,773.6 L563.5,773.1 L563.9,772.7 L564.3,772.2 L564.7,771.7 L565.1,771.3 L565.5,770.8 L565.9,770.4 L566.2,769.9 L566.6,769.5 L567.0,769.0 L567.4,768.5 L567.8,768.1 L568.2,767.6 L568.6,767.2 L569.0,766.7 L569.4,766.2 L569.7,765.8 L570.1,765.3 L570.5,764.9 L570.9,764.4 L571.3,763.9 L571.7,763.5 L572.1,763.0 L572.4,762.5 L572.8,762.1 L573.2,761.6 L573.6,761.1 L574.0,760.7 L574.3,760.2 L574.7,759.7 L575.1,759.3 L575.5,758.8 L575.8,758.3 L576.2,757.9 L576.6,757.4 L576.9,756.9 L577.3,756.4 L577.7,756.0 L578.1,755.5 L578.4,755.0 L578.8,754.5 L579.2,754.1 L579.5,753.6 L579.9,753.1 L580.2,752.6 L580.6,752.1 L581.0,751.7 L581.3,751.2 L581.7,750.7 L582.0,750.2 L582.4,749.7 L582.8,749.3 L583.1,748.8 L583.5,748.3 L583.8,747.8 L584.2,747.3 L584.6,746.8 L584.9,746.3 L585.3,745.9 L585.6,745.4 L586.0,744.9 L586.3,744.4 L586.7,743.9 L587.0,743.4 L587.4,742.9 L587.7,742.5 L588.1,742.0 L588.5,741.5 L588.8,741.0 L589.2,740.5 L589.5,740.0 L589.9,739.5 L590.2,739.0 L590.6,738.6 L590.9,738.1 L591.3,737.6 L591.6,737.1 L592.0,736.6 L592.3,736.1 L592.7,735.6 L593.1,735.2 L593.4,734.7 L593.8,734.2 L594.1,733.7 L594.5,733.2 L594.8,732.7 L595.2,732.2 L595.5,731.8 L595.9,731.3 L596.3,730.8 L596.6,730.3 L597.0,729.8 L597.3,729.3 L597.7,728.8 L598.0,728.4 L598.4,727.9 L598.7,727.4 L599.1,726.9 L599.4,726.4 L599.8,725.9 L600.2,725.4 L600.5,725.0 L600.9,724.5 L601.2,724.0 L601.6,723.5 L601.9,723.0 L602.3,722.5 L602.6,722.0 L603.0,721.5 L603.3,721.1 L603.7,720.6 L604.0,720.1 L604.4,719.6 L604.7,719.1 L605.1,718.6 L605.4,718.1 L605.8,717.6 L606.1,717.1 L606.5,716.6 L606.8,716.2 L607.2,715.7 L607.5,715.2 L607.9,714.7 L608.2,714.2 L608.5,713.7 L608.9,713.2 L609.2,712.7 L609.6,712.2 L609.9,711.7 L610.3,711.2 L610.6,710.7 L610.9,710.2 L611.3,709.7 L611.6,709.2 L612.0,708.8 L612.3,708.3 L612.7,707.8 L613.0,707.3 L613.3,706.8 L613.7,706.3 L614.0,705.8 L614.3,705.3 L614.7,704.8 L615.0,704.3 L615.3,703.8 L615.7,703.4 L616.0,702.9 L616.3,702.4 L616.7,701.9 L617.0,701.4 L617.4,700.9 L617.7,700.3 L618.0,699.8 L618.4,699.3 L618.7,698.8 L619.1,698.3 L619.4,697.8" fill="none" stroke="#ff0080" stroke-width="2.15" stroke-linejoin="round" stroke-linecap="butt" />
<path d="M376.3,956.7 L377.4,956.7 L378.4,956.7 L379.5,956.7 L380.5,956.7 L381.5,956.7 L382.5,956.7 L383.6,956.7 L384.6,956.7 L385.5,956.7 L386.5,956.7 L387.5,956.7 L388.5,956.7 L389.4,956.7 L390.4,956.7 L391.3,956.7 L392.2,956.7 L393.1,956.7 L394.0,956.7 L394.9,956.7 L395.8,956.7 L396.7,956.7 L397.6,956.7 L398.4,956.7 L399.3,956.7 L400.1,956.7 L400.9,956.7 L401.8,956.7 L402.6,956.7 L403.4,956.7 L404.2,956.7 L404.9,956.7 L405.7,956.7 L406.5,956.7 L407.2,956.7 L408.0,956.7 L408.7,956.7 L409.4,956.7 L410.2,956.7 L410.9,956.7 L411.6,956.7 L412.2,956.7 L412.9,956.7 L413.6,956.7 L414.2,956.7 L414.9,956.7 L415.5,956.7 L416.2,956.7 L416.8,956.7 L417.4,956.7 L418.0,956.7 L418.6,956.7 L419.2,956.7 L419.7,956.7 L420.3,956.7 L420.8,956.7 L421.4,956.7 L421.9,956.7 L422.4,956.7 L422.9,956.7 L423.4,956.7 L423.9,956.7 L424.4,956.7 L424.9,956.7 L425.3,956.7 L425.8,956.7 L426.2,956.7 L426.7,956.7 L427.1,956.7 L427.5,956.7 L427.9,956.7 L428.3,956.7 L428.7,956.7 L429.1,956.7 L429.4,956.7 L429.8,956.7 L430.1,956.7 L430.4,956.7 L430.8,956.7 L431.1,956.7 L431.4,956.7 L431.7,956.7 L432.0,956.7 L432.2,956.7 L432.5,956.7 L432.8,956.7 L433.0,956.7 L433.3,956.7 L433.5,956.7 L433.7,956.7 L433.9,956.7 L434.1,956.7 L434.2,956.7 L434.4,956.7 L434.5,956.7 L434.6,956.7 L434.7,956.6 L434.7,956.6 L434.8,956.6 L434.9,956.5 L435.0,956.3 L435.2,955.9 L435.4,955.2 L435.4,954.4 L435.5,953.6 L435.6,952.8 L435.6,952.0 L435.7,951.2 L435.8,950.5 L435.9,949.9 L436.1,949.3 L436.2,948.8 L436.4,948.2 L436.6,947.6 L436.9,947.1 L437.1,946.5 L437.2,945.9 L437.4,945.3 L437.5,944.8 L437.7,944.2 L437.8,943.6 L437.9,943.0 L438.0,942.4 L438.1,941.8 L438.2,941.2 L438.3,940.6 L438.3,940.0 L438.4,939.5 L438.5,938.9 L438.6,938.3 L438.6,937.7 L438.7,937.1 L438.8,936.5 L438.8,935.9 L438.9,935.3 L439.0,934.7 L439.0,934.1 L439.1,933.5 L439.2,932.9 L439.2,932.3 L439.3,931.6 L439.3,931.0 L439.4,930.4 L439.5,929.8 L439.5,929.2 L439.6,928.6 L439.6,928.0 L439.7,927.4 L439.8,926.8 L439.8,926.2 L439.9,925.6 L440.0,925.0 L440.1,924.4 L440.1,923.8 L440.2,923.2 L440.3,922.7 L440.4,922.1 L440.5,921.5 L440.6,920.9 L440.7,920.3 L440.8,919.7 L440.9,919.1 L441.0,918.5 L441.1,917.9 L441.3,917.3 L441.4,916.7 L441.5,916.1 L441.7,915.4 L441.9,914.8 L442.0,914.2 L442.2,913.6 L442.4,913.0 L442.6,912.5 L442.8,912.0 L443.0,911.5 L443.3,911.0 L443.5,910.6 L443.8,910.2 L444.2,909.8 L444.6,909.4 L445.0,909.0 L445.4,908.6 L445.9,908.3 L446.4,907.9 L447.0,907.6 L447.5,907.2 L448.1,906.9 L448.6,906.6 L449.2,906.2 L449.8,905.9 L450.3,905.6 L450.9,905.3 L451.4,904.9 L451.9,904.6 L452.4,904.3 L452.9,903.9 L453.4,903.6 L453.9,903.3 L454.4,902.9 L454.9,902.6 L455.4,902.3 L455.9,901.9 L456.5,901.6 L457.0,901.3 L457.5,901.0 L458.0,900.6 L458.5,900.3 L459.0,900.0 L459.5,899.7 L460.0,899.3 L460.5,899.0 L461.0,898.7 L461.5,898.4 L462.0,898.1 L462.5,897.7 L463.0,897.4 L463.5,897.1 L464.1,896.8 L464.6,896.4 L465.1,896.1 L465.6,895.8 L466.1,895.5 L466.6,895.1 L467.1,894.8 L467.6,894.5 L468.1,894.1 L468.6,893.8 L469.1,893.5 L469.6,893.1 L470.1,892.8 L470.6,892.4 L471.1,892.1 L471.6,891.8 L472.0,891.4 L472.5,891.1 L473.0,890.7 L473.5,890.4 L474.0,890.0 L474.5,889.7 L475.0,889.3 L475.5,889.0 L476.0,888.6 L476.5,888.3 L477.0,887.9 L477.4,887.6 L477.9,887.2 L478.4,886.9 L478.9,886.5 L479.4,886.2 L479.9,885.8 L480.4,885.5 L480.9,885.1 L481.4,884.8 L481.8,884.4 L482.3,884.1 L482.8,883.7 L483.3,883.4 L483.8,883.1 L484.3,882.7 L484.8,882.4 L485.3,882.0 L485.8,881.7 L486.3,881.4 L486.8,881.0 L487.3,880.7 L487.8,880.3 L488.3,880.0 L488.8,879.7 L489.3,879.3 L489.8,879.0 L490.3,878.7 L490.8,878.3 L491.3,878.0 L491.8,877.6 L492.3,877.3 L492.8,877.0 L493.3,876.6 L493.7,876.3 L494.2,875.9 L494.7,875.6 L495.2,875.2 L495.7,874.8 L496.1,874.5 L496.6,874.1 L497.1,873.7 L497.6,873.4 L498.0,873.0 L498.5,872.6 L499.0,872.3 L499.4,871.9 L499.9,871.5 L500.4,871.1 L500.8,870.7 L501.3,870.3 L501.8,870.0 L502.2,869.6 L502.7,869.2 L503.1,868.8 L503.6,868.4 L504.1,868.0 L504.5,867.6 L505.0,867.2 L505.4,866.8 L505.9,866.4 L506.3,866.0 L506.8,865.6 L507.2,865.2 L507.7,864.8 L508.1,864.4 L508.6,864.0 L509.0,863.6 L509.5,863.2 L509.9,862.8 L510.4,862.4 L510.8,862.0 L511.3,861.6 L511.7,861.2 L512.2,860.8 L512.6,860.4 L513.1,860.0 L513.5,859.6 L514.0,859.2 L514.4,858.8 L514.9,858.4 L515.3,858.0 L515.8,857.6 L516.2,857.2 L516.6,856.8 L517.1,856.4 L517.5,856.0 L518.0,855.6 L518.4,855.2 L518.9,854.8 L519.3,854.4 L519.7,853.9 L520.2,853.5 L520.6,853.1 L521.1,852.7 L521.5,852.3 L521.9,851.9 L522.4,851.5 L522.8,851.1 L523.3,850.7 L523.7,850.2 L524.1,849.8 L524.6,849.4 L525.0,849.0 L525.4,848.6 L525.9,848.2 L526.3,847.8 L526.7,847.3 L527.2,846.9 L527.6,846.5 L528.0,846.1 L528.5,845.7 L528.9,845.2 L529.3,844.8 L529.8,844.4 L530.2,844.0 L530.6,843.6 L531.0,843.1 L531.5,842.7 L531.9,842.3 L532.3,841.9 L532.8,841.5 L533.2,841.0 L533.6,840.6 L534.0,840.2 L534.5,839.8 L534.9,839.3 L535.3,838.9 L535.7,838.5 L536.1,838.0 L536.6,837.6 L537.0,837.2 L537.4,836.8 L537.8,836.3 L538.3,835.9 L538.7,835.5 L539.1,835.0 L539.5,834.6 L539.9,834.2 L540.4,833.8 L540.8,833.3 L541.2,832.9 L541.6,832.5 L542.1,832.0 L542.5,831.6 L542.9,831.2 L543.3,830.8 L543.7,830.3 L544.2,829.9 L544.6,829.5 L545.0,829.1 L545.4,828.6 L545.9,828.2 L546.3,827.8 L546.7,827.3 L547.1,826.9 L547.6,826.5 L548.0,826.1 L548.4,825.6 L548.9,825.2 L549.3,824.8 L549.7,824.3 L550.1,823.9 L550.6,823.5 L551.0,823.1 L551.4,822.6 L551.8,822.2 L552.2,821.8 L552.7,821.3 L553.1,820.9 L553.5,820.5 L553.9,820.0 L554.3,819.6 L554.8,819.2 L555.2,818.7 L555.6,818.3 L556.0,817.8 L556.4,817.4 L556.8,817.0 L557.2,816.5 L557.6,816.1 L558.0,815.6 L558.4,815.2 L558.8,814.7 L559.2,814.3 L559.6,813.8 L560.0,813.4 L560.4,812.9 L560.8,812.5 L561.2,812.0 L561.5,811.6 L561.9,811.1 L562.3,810.6 L562.7,810.2 L563.0,809.7 L563.4,809.2 L563.8,808.8 L564.1,808.3 L564.5,807.8 L564.9,807.3 L565.2,806.9 L565.6,806.4 L566.0,805.9 L566.3,805.4 L566.7,804.9 L567.0,804.4 L567.4,804.0 L567.7,803.5 L568.1,803.0 L568.4,802.5 L568.8,802.0 L569.1,801.5 L569.5,801.0 L569.8,800.5 L570.2,800.0 L570.5,799.5 L570.8,799.0 L571.2,798.5 L571.5,798.0 L571.9,797.5 L572.2,797.0 L572.6,796.5 L572.9,796.0 L573.2,795.5 L573.6,795.0 L573.9,794.5 L574.3,794.1 L574.6,793.6 L574.9,793.1 L575.3,792.6 L575.6,792.1 L576.0,791.6 L576.3,791.1 L576.6,790.6 L577.0,790.1 L577.3,789.6 L577.6,789.1 L578.0,788.6 L578.3,788.1 L578.6,787.6 L579.0,787.1 L579.3,786.6 L579.6,786.1 L580.0,785.6 L580.3,785.1 L580.6,784.6 L581.0,784.1 L581.3,783.6 L581.6,783.1 L582.0,782.6 L582.3,782.1 L582.6,781.6 L582.9,781.1 L583.3,780.6 L583.6,780.0 L583.9,779.5 L584.3,779.0 L584.6,778.5 L584.9,778.0 L585.3,777.5 L585.6,777.0 L585.9,776.5 L586.3,776.0 L586.6,775.5 L586.9,775.0 L587.3,774.5 L587.6,774.0 L587.9,773.5 L588.3,773.0 L588.6,772.5 L588.9,772.0 L589.3,771.5 L589.6,771.0 L590.0,770.6 L590.3,770.1 L590.6,769.6 L591.0,769.1 L591.3,768.6 L591.7,768.1 L592.0,767.6 L592.4,767.1 L592.7,766.6 L593.1,766.1 L593.4,765.6 L593.8,765.2 L594.1,764.7 L594.5,764.2 L594.8,763.7 L595.2,763.2 L595.5,762.7 L595.9,762.2 L596.3,761.7 L596.6,761.3 L597.0,760.8 L597.3,760.3 L597.7,759.8 L598.0,759.3 L598.4,758.8 L598.7,758.3 L599.1,757.8 L599.4,757.4 L599.8,756.9 L600.1,756.4 L600.5,755.9 L600.8,755.4 L601.2,754.9 L601.5,754.4 L601.9,753.9 L602.2,753.4 L602.5,752.9 L602.9,752.4 L603.2,751.9 L603.5,751.4 L603.9,750.9 L604.2,750.4 L604.5,749.9 L604.9,749.4 L605.2,748.9 L605.5,748.4 L605.9,747.9 L606.2,747.4 L606.5,746.9 L606.8,746.4 L607.2,745.9 L607.5,745.4 L607.8,744.9 L608.1,744.4 L608.5,743.9 L608.8,743.4 L609.1,742.9 L609.4,742.3 L609.7,741.8 L610.1,741.3 L610.4,740.8 L610.7,740.3 L611.0,739.8 L611.3,739.3 L611.7,738.8 L612.0,738.3 L612.3,737.8 L612.6,737.3 L612.9,736.7 L613.3,736.2 L613.6,735.7 L613.9,735.2 L614.2,734.7 L614.5,734.2 L614.9,733.7 L615.2,733.2 L615.5,732.7 L615.8,732.2 L616.1,731.8 L616.4,731.3 L616.8,730.7 L617.1,730.2 L617.4,729.7 L617.8,729.2 L618.1,728.7 L618.4,728.1 L618.7,727.6 L619.1,727.1 L619.4,726.6" fill="none" stroke="#800080" stroke-width="2.15" stroke-linejoin="round" stroke-linecap="butt" />
<path d="M376.3,956.7 L377.4,956.7 L378.4,956.7 L379.4,956.7 L380.4,956.7 L381.4,956.7 L382.4,956.7 L383.4,956.7 L384.4,956.7 L385.4,956.7 L386.3,956.7 L387.3,956.7 L388.2,956.7 L389.1,956.7 L390.1,956.7 L391.0,956.7 L391.8,956.7 L392.7,956.7 L393.6,956.7 L394.5,956.7 L395.3,956.7 L396.2,956.7 L397.0,956.7 L397.8,956.7 L398.6,956.7 L399.4,956.7 L400.2,956.7 L401.0,956.7 L401.8,956.7 L402.5,956.7 L403.3,956.7 L404.0,956.7 L404.7,956.7 L405.4,956.7 L406.1,956.7 L406.8,956.7 L407.5,956.7 L408.2,956.7 L408.9,956.7 L409.5,956.7 L410.1,956.7 L410.8,956.7 L411.4,956.7 L412.0,956.7 L412.6,956.7 L413.2,956.7 L413.8,956.7 L414.3,956.7 L414.9,956.7 L415.4,956.7 L415.9,956.7 L416.5,956.7 L417.0,956.7 L417.5,956.7 L418.0,956.7 L418.4,956.7 L418.9,956.7 L419.4,956.7 L419.8,956.7 L420.2,956.7 L420.6,956.7 L421.1,956.7 L421.5,956.7 L421.8,956.7 L422.2,956.7 L422.6,956.7 L422.9,956.7 L423.3,956.7 L423.6,956.7 L423.9,956.7 L424.3,956.7 L424.6,956.7 L424.9,956.7 L425.1,956.7 L425.4,956.7 L425.7,956.7 L425.9,956.7 L426.1,956.7 L426.4,956.7 L426.6,956.7 L426.7,956.7 L426.9,956.7 L427.0,956.7 L427.1,956.7 L427.2,956.6 L427.3,956.6 L427.3,956.6 L427.5,956.5 L427.7,956.2 L427.9,955.6 L428.0,954.8 L428.1,954.1 L428.1,953.3 L428.2,952.5 L428.3,951.7 L428.4,950.9 L428.5,950.2 L428.5,949.6 L428.6,949.1 L428.7,948.5 L428.8,947.8 L428.9,947.2 L428.9,946.6 L429.0,945.9 L429.1,945.3 L429.1,944.6 L429.2,944.0 L429.2,943.3 L429.3,942.7 L429.3,942.0 L429.4,941.4 L429.5,940.7 L429.5,940.1 L429.6,939.4 L429.6,938.8 L429.7,938.1 L429.8,937.5 L429.8,936.9 L429.9,936.2 L430.0,935.6 L430.1,935.0 L430.1,934.4 L430.2,933.8 L430.3,933.2 L430.4,932.6 L430.5,932.1 L430.6,931.5 L430.7,930.9 L430.8,930.4 L431.0,929.9 L431.1,929.4 L431.2,928.9 L431.4,928.4 L431.5,928.0 L431.7,927.6 L431.9,927.2 L432.2,926.8 L432.6,926.4 L433.2,926.0 L433.7,925.6 L434.4,925.3 L434.9,925.0 L435.4,924.7 L435.9,924.5 L436.5,924.2 L437.0,924.0 L437.6,923.8 L438.1,923.6 L438.7,923.3 L439.2,923.1 L439.8,922.9 L440.3,922.7 L440.9,922.6 L441.5,922.4 L442.1,922.2 L442.6,922.0 L443.2,921.8 L443.8,921.7 L444.4,921.5 L445.0,921.3 L445.6,921.2 L446.2,921.0 L446.7,920.8 L447.3,920.7 L447.9,920.5 L448.5,920.3 L449.1,920.1 L449.7,920.0 L450.3,919.8 L450.8,919.6 L451.4,919.4 L452.0,919.2 L452.5,919.0 L453.1,918.9 L453.7,918.7 L454.3,918.5 L454.8,918.3 L455.4,918.1 L456.0,917.9 L456.5,917.7 L457.1,917.5 L457.7,917.3 L458.2,917.1 L458.8,916.9 L459.4,916.7 L459.9,916.5 L460.5,916.3 L461.1,916.1 L461.6,915.9 L462.2,915.7 L462.8,915.5 L463.3,915.3 L463.9,915.1 L464.5,914.9 L465.0,914.7 L465.6,914.5 L466.2,914.3 L466.7,914.1 L467.3,913.9 L467.9,913.7 L468.4,913.5 L469.0,913.3 L469.6,913.1 L470.1,912.8 L470.7,912.6 L471.2,912.4 L471.8,912.2 L472.4,912.0 L472.9,911.8 L473.5,911.6 L474.1,911.4 L474.6,911.1 L475.2,910.9 L475.8,910.7 L476.3,910.5 L476.9,910.3 L477.5,910.1 L478.0,909.8 L478.6,909.6 L479.1,909.4 L479.7,909.2 L480.2,908.9 L480.8,908.7 L481.4,908.5 L481.9,908.2 L482.4,908.0 L483.0,907.7 L483.5,907.5 L484.1,907.2 L484.6,907.0 L485.1,906.7 L485.7,906.4 L486.2,906.2 L486.7,905.9 L487.2,905.6 L487.8,905.3 L488.3,905.0 L488.8,904.7 L489.3,904.4 L489.9,904.1 L490.4,903.8 L490.9,903.5 L491.4,903.2 L491.9,902.9 L492.5,902.6 L493.0,902.2 L493.5,901.9 L494.0,901.6 L494.5,901.3 L495.0,901.0 L495.6,900.7 L496.1,900.4 L496.6,900.1 L497.1,899.8 L497.6,899.5 L498.1,899.2 L498.7,898.9 L499.2,898.6 L499.7,898.2 L500.2,897.9 L500.7,897.6 L501.2,897.3 L501.8,897.0 L502.3,896.7 L502.8,896.4 L503.3,896.1 L503.8,895.8 L504.4,895.5 L504.9,895.2 L505.4,894.9 L505.9,894.6 L506.4,894.3 L506.9,893.9 L507.4,893.6 L508.0,893.3 L508.5,893.0 L509.0,892.7 L509.5,892.4 L510.0,892.0 L510.5,891.7 L511.0,891.4 L511.5,891.1 L512.0,890.7 L512.5,890.4 L513.0,890.1 L513.5,889.8 L514.0,889.4 L514.5,889.1 L515.0,888.8 L515.5,888.4 L516.0,888.1 L516.5,887.8 L517.0,887.4 L517.5,887.1 L518.0,886.8 L518.5,886.4 L519.0,886.1 L519.5,885.7 L520.0,885.4 L520.5,885.0 L521.0,884.7 L521.5,884.3 L522.0,884.0 L522.5,883.6 L523.0,883.3 L523.4,882.9 L523.9,882.6 L524.4,882.2 L524.9,881.9 L525.4,881.5 L525.9,881.1 L526.3,880.8 L526.8,880.4 L527.3,880.0 L527.7,879.7 L528.2,879.3 L528.7,878.9 L529.1,878.5 L529.6,878.2 L530.1,877.8 L530.5,877.4 L531.0,877.0 L531.4,876.6 L531.9,876.2 L532.4,875.9 L532.8,875.5 L533.3,875.1 L533.7,874.7 L534.2,874.3 L534.6,873.9 L535.1,873.5 L535.5,873.1 L536.0,872.7 L536.4,872.3 L536.9,871.9 L537.3,871.4 L537.7,871.0 L538.2,870.6 L538.6,870.2 L539.1,869.8 L539.5,869.4 L540.0,869.0 L540.4,868.6 L540.8,868.1 L541.3,867.7 L541.7,867.3 L542.1,866.9 L542.6,866.5 L543.0,866.1 L543.4,865.6 L543.9,865.2 L544.3,864.8 L544.7,864.4 L545.1,864.4 L545.6,864.0 L546.0,863.3 L546.4,861.9 L546.8,860.8 L547.2,861.1 L547.7,861.3 L548.1,861.1 L548.5,861.2 L548.9,860.4 L549.3,859.2 L549.7,859.2 L550.2,858.8 L550.6,858.5 L551.0,857.9 L551.4,857.9 L551.8,857.6 L552.2,857.0 L552.6,856.7 L553.0,856.4 L553.5,855.3 L553.9,854.4 L554.3,854.4 L554.7,853.9 L555.1,854.2 L555.5,853.1 L555.9,851.5 L556.3,851.1 L556.7,851.4 L557.1,850.6 L557.5,850.0 L557.9,849.9 L558.3,848.9 L558.7,848.8 L559.2,849.1 L559.6,848.5 L560.0,847.7 L560.4,847.5 L560.8,847.2 L561.2,845.5 L561.6,845.0 L562.0,845.8 L562.4,846.1 L562.8,846.5 L563.2,845.9 L563.6,844.6 L564.1,843.4 L564.5,842.9 L564.9,843.3 L565.3,843.4 L565.7,842.2 L566.1,841.3 L566.5,841.6 L566.9,841.9 L567.3,841.2 L567.7,839.7 L568.2,838.8 L568.6,838.5 L569.0,838.0 L569.4,838.1 L569.8,838.5 L570.2,838.0 L570.6,837.6 L571.0,836.6 L571.4,835.8 L571.8,835.4 L572.2,834.8 L572.6,835.1 L573.0,834.6 L573.4,832.7 L573.8,832.2 L574.2,832.3 L574.6,831.2 L575.0,830.8 L575.4,831.4 L575.8,832.1 L576.2,831.0 L576.6,830.2 L576.9,830.5 L577.3,829.1 L577.7,828.1 L578.1,828.1 L578.5,827.7 L578.9,826.6 L579.2,825.9 L579.6,826.6 L580.0,826.9 L580.4,826.7 L580.8,825.6 L581.1,825.1 L581.5,825.1 L581.9,823.1 L582.3,822.7 L582.6,822.7 L583.0,822.1 L583.4,821.8 L583.7,821.6 L584.1,821.3 L584.5,820.1 L584.9,820.0 L585.2,819.8 L585.6,818.7 L586.0,818.6 L586.3,818.2 L586.7,816.8 L587.1,816.3 L587.4,815.4 L587.8,815.0 L588.2,816.0 L588.5,815.3 L588.9,814.0 L589.3,813.5 L589.6,812.7 L590.0,813.4 L590.3,813.6 L590.7,812.2 L591.1,811.3 L591.4,810.7 L591.8,809.9 L592.1,809.3 L592.5,808.8 L592.9,808.9 L593.2,809.1 L593.6,808.7 L593.9,807.8 L594.3,806.5 L594.6,806.1 L595.0,805.8 L595.3,805.7 L595.7,805.9 L596.0,805.3 L596.4,804.4 L596.7,802.8 L597.1,802.9 L597.4,803.8 L597.8,802.2 L598.1,801.2 L598.5,801.9 L598.9,800.9 L599.2,800.7 L599.6,800.5 L599.9,798.8 L600.3,799.1 L600.6,799.2 L601.0,797.8 L601.4,797.6 L601.7,796.5 L602.1,796.5 L602.5,796.5 L602.9,795.4 L603.2,795.1 L603.6,794.7 L604.0,794.8 L604.4,793.8 L604.8,793.3 L605.2,793.1 L605.5,791.9 L605.9,791.5 L606.3,790.9 L606.7,790.2 L607.1,790.6 L607.5,790.5 L607.9,790.1 L608.3,789.9 L608.7,788.5 L609.1,787.0 L609.5,786.7 L609.9,787.2 L610.3,787.0 L610.7,786.1 L611.1,786.1 L611.4,785.2 L611.8,783.7 L612.2,784.1 L612.5,785.2 L612.9,784.8 L613.2,782.9 L613.6,782.5 L613.9,782.8 L614.3,782.4 L614.6,781.4 L614.9,780.2 L615.3,779.9 L615.6,780.0 L615.9,780.2 L616.2,780.4 L616.5,778.9 L616.9,777.2 L617.2,777.0 L617.5,776.6 L617.8,776.3 L618.2,776.1 L618.5,775.5 L618.8,775.3 L619.1,774.6 L619.4,773.0 L619.7,771.8" fill="none" stroke="#800000" stroke-width="2.15" stroke-linejoin="round" stroke-linecap="butt" />
<path d="M376.3,956.7 L377.3,956.7 L378.3,956.7 L379.3,956.7 L380.3,956.7 L381.2,956.7 L382.2,956.7 L383.1,956.7 L384.0,956.7 L385.0,956.7 L385.9,956.7 L386.8,956.7 L387.6,956.7 L388.5,956.7 L389.4,956.7 L390.2,956.7 L391.1,956.7 L391.9,956.7 L392.7,956.7 L393.5,956.7 L394.3,956.7 L395.1,956.7 L395.9,956.7 L396.7,956.7 L397.4,956.7 L398.2,956.7 L398.9,956.7 L399.6,956.7 L400.4,956.7 L401.1,956.7 L401.8,956.7 L402.4,956.7 L403.1,956.7 L403.8,956.7 L404.4,956.7 L405.0,956.7 L405.7,956.7 L406.3,956.7 L406.9,956.7 L407.5,956.7 L408.1,956.7 L408.6,956.7 L409.2,956.7 L409.7,956.7 L410.3,956.7 L410.8,956.7 L411.3,956.7 L411.8,956.7 L412.3,956.7 L412.8,956.7 L413.3,956.7 L413.8,956.7 L414.2,956.7 L414.6,956.7 L415.1,956.7 L415.5,956.7 L415.9,956.7 L416.3,956.7 L416.7,956.7 L417.1,956.7 L417.4,956.7 L417.8,956.7 L418.1,956.7 L418.4,956.7 L418.8,956.7 L419.1,956.7 L419.4,956.7 L419.7,956.7 L419.9,956.7 L420.2,956.7 L420.4,956.7 L420.7,956.7 L420.9,956.7 L421.0,956.7 L421.2,956.6 L421.3,956.6 L421.4,956.6 L421.6,956.4 L421.8,956.1 L422.1,955.6 L422.3,954.9 L422.4,954.1 L422.5,953.4 L422.6,952.6 L422.8,951.8 L422.9,951.0 L423.0,950.3 L423.0,949.7 L423.1,949.2 L423.2,948.6 L423.2,947.9 L423.3,947.3 L423.3,946.7 L423.4,946.1 L423.4,945.4 L423.5,944.8 L423.5,944.1 L423.5,943.5 L423.6,942.9 L423.6,942.2 L423.6,941.6 L423.7,941.0 L423.7,940.4 L423.8,939.8 L423.8,939.2 L423.9,938.6 L424.0,938.0 L424.0,937.5 L424.1,936.9 L424.2,936.4 L424.3,935.9 L424.5,935.5 L424.7,935.0 L425.1,934.5 L425.6,933.9 L426.1,933.5 L426.7,933.2 L427.1,933.0 L427.6,932.8 L428.1,932.6 L428.6,932.5 L429.1,932.3 L429.7,932.2 L430.2,932.0 L430.8,931.9 L431.4,931.8 L431.9,931.7 L432.5,931.6 L433.1,931.5 L433.8,931.4 L434.4,931.3 L435.0,931.2 L435.6,931.1 L436.2,931.0 L436.9,930.9 L437.5,930.9 L438.1,930.8 L438.8,930.7 L439.4,930.6 L440.0,930.5 L440.6,930.4 L441.3,930.3 L441.9,930.2 L442.5,930.1 L443.1,930.0 L443.7,929.9 L444.3,929.8 L444.9,929.6 L445.4,929.5 L446.0,929.3 L446.6,929.2 L447.2,929.0 L447.8,928.9 L448.3,928.7 L448.9,928.6 L449.5,928.4 L450.1,928.2 L450.6,928.1 L451.2,927.9 L451.8,927.7 L452.4,927.5 L452.9,927.4 L453.5,927.2 L454.1,927.0 L454.7,926.8 L455.2,926.6 L455.8,926.4 L456.4,926.3 L457.0,926.1 L457.5,925.9 L458.1,925.7 L458.7,925.5 L459.3,925.3 L459.8,925.2 L460.4,925.0 L461.0,924.8 L461.6,924.6 L462.1,924.4 L462.7,924.2 L463.3,924.1 L463.9,923.9 L464.4,923.7 L465.0,923.5 L465.6,923.4 L466.2,923.2 L466.7,923.0 L467.3,922.9 L467.9,922.7 L468.5,922.5 L469.0,922.4 L469.6,922.2 L470.2,922.1 L470.8,921.9 L471.4,921.8 L471.9,921.6 L472.5,921.4 L473.1,921.3 L473.7,921.1 L474.3,921.0 L474.9,920.8 L475.4,920.7 L476.0,920.5 L476.6,920.4 L477.2,920.2 L477.8,920.1 L478.4,920.0 L478.9,919.8 L479.5,919.7 L480.1,919.5 L480.7,919.4 L481.3,919.2 L481.9,919.1 L482.5,919.0 L483.0,918.8 L483.6,918.7 L484.2,918.6 L484.8,918.4 L485.4,918.3 L486.0,918.2 L486.6,918.1 L487.1,917.9 L487.7,917.8 L488.3,917.7 L488.9,917.6 L489.5,917.4 L490.1,917.3 L490.7,917.2 L491.3,917.1 L491.9,917.0 L492.5,916.8 L493.0,916.7 L493.6,916.6 L494.2,916.4 L494.8,916.3 L495.4,916.1 L495.9,916.0 L496.5,915.8 L497.1,915.7 L497.7,915.5 L498.3,915.4 L498.8,915.2 L499.4,915.0 L500.0,914.9 L500.6,914.7 L501.1,914.5 L501.7,914.3 L502.3,914.1 L502.9,913.9 L503.4,913.7 L504.0,913.6 L504.6,913.4 L505.1,913.2 L505.7,913.0 L506.3,912.8 L506.8,912.6 L507.4,912.4 L508.0,912.2 L508.6,912.0 L509.1,911.8 L509.7,911.6 L510.2,911.3 L510.8,911.1 L511.4,910.9 L511.9,910.7 L512.5,910.5 L513.1,910.3 L513.6,910.1 L514.2,909.9 L514.8,909.7 L515.3,909.5 L515.9,909.3 L516.4,909.0 L517.0,908.8 L517.6,908.6 L518.1,908.4 L518.7,908.2 L519.3,908.0 L519.8,907.7 L520.4,907.5 L520.9,907.3 L521.5,907.1 L522.0,906.8 L522.6,906.6 L523.2,906.4 L523.7,906.1 L524.3,905.9 L524.8,905.7 L525.4,905.4 L525.9,905.2 L526.5,905.0 L527.0,904.7 L527.6,904.5 L528.1,904.2 L528.7,904.0 L529.2,903.7 L529.8,903.5 L530.3,903.2 L530.8,903.0 L531.4,902.7 L531.9,902.5 L532.5,902.2 L533.0,901.9 L533.6,901.7 L534.1,901.4 L534.6,901.1 L535.2,900.9 L535.7,900.6 L536.3,900.3 L536.8,900.1 L537.3,899.8 L537.9,899.5 L538.4,899.2 L538.9,899.0 L539.5,898.7 L540.0,898.4 L540.5,898.1 L541.1,897.8 L541.6,897.5 L542.1,897.2 L542.6,897.0 L543.2,896.7 L543.7,896.4 L544.2,896.1 L544.7,895.8 L545.2,895.5 L545.8,895.2 L546.3,894.9 L546.8,894.6 L547.3,894.3 L547.8,894.0 L548.3,893.6 L548.9,893.3 L549.4,893.0 L549.9,892.7 L550.4,892.4 L550.9,892.1 L551.4,891.7 L551.9,891.4 L552.4,891.1 L552.9,890.7 L553.4,890.4 L553.9,890.1 L554.4,889.7 L554.9,889.4 L555.4,889.1 L555.9,888.7 L556.4,888.4 L556.9,888.1 L557.4,887.7 L557.9,887.4 L558.4,887.0 L558.9,886.7 L559.4,886.3 L559.9,886.0 L560.4,885.6 L560.9,885.3 L561.3,884.9 L561.8,884.6 L562.3,884.2 L562.8,883.9 L563.3,883.5 L563.8,883.2 L564.2,882.8 L564.7,882.4 L565.2,882.1 L565.7,881.7 L566.2,881.3 L566.6,881.0 L567.1,880.6 L567.6,880.2 L568.1,879.9 L568.5,879.5 L569.0,879.1 L569.5,878.7 L569.9,878.4 L570.4,878.0 L570.9,877.6 L571.3,877.2 L571.8,876.8 L572.3,876.4 L572.7,876.1 L573.2,875.7 L573.7,875.3 L574.1,874.9 L574.6,874.5 L575.0,874.1 L575.5,873.7 L575.9,873.3 L576.4,872.9 L576.9,872.6 L577.3,872.2 L577.8,871.8 L578.2,871.4 L578.6,871.0 L579.1,870.6 L579.5,870.2 L580.0,869.8 L580.4,869.4 L580.9,869.0 L581.3,868.6 L581.8,868.1 L582.2,867.7 L582.6,867.3 L583.1,866.9 L583.5,866.5 L584.0,866.1 L584.4,865.7 L584.8,865.3 L585.3,864.8 L585.7,864.4 L586.1,864.0 L586.6,863.6 L587.0,863.2 L587.4,862.8 L587.9,862.3 L588.3,861.9 L588.7,861.5 L589.2,861.1 L589.6,860.7 L590.0,860.2 L590.5,859.8 L590.9,859.4 L591.3,859.0 L591.8,858.6 L592.2,858.1 L592.6,857.7 L593.1,857.3 L593.5,856.9 L593.9,856.5 L594.4,856.1 L594.8,855.7 L595.2,855.2 L595.7,854.8 L596.1,854.4 L596.5,854.0 L597.0,853.6 L597.4,853.2 L597.8,852.8 L598.3,852.3 L598.7,851.9 L599.1,851.5 L599.6,851.1 L600.0,850.7 L600.5,850.3 L600.9,849.8 L601.3,849.4 L601.8,849.0 L602.2,848.6 L602.6,848.2 L603.1,847.8 L603.5,847.4 L603.9,846.9 L604.4,846.5 L604.8,846.1 L605.2,845.7 L605.7,845.3 L606.1,844.9 L606.5,844.4 L607.0,844.0 L607.4,843.6 L607.8,843.2 L608.3,842.8 L608.7,842.4 L609.1,841.9 L609.6,841.5 L610.0,841.1 L610.4,840.7 L610.8,840.3 L611.3,839.8 L611.7,839.4 L612.1,839.0 L612.6,838.6 L613.0,838.2 L613.4,837.7 L613.8,837.3 L614.2,836.9 L614.6,836.5 L615.0,836.1 L615.5,835.7 L615.9,835.3 L616.4,834.8 L616.8,834.4 L617.2,834.0 L617.7,833.5 L618.1,833.1 L618.5,832.7 L619.0,832.2 L619.4,831.8" fill="none" stroke="#008000" stroke-width="2.15" stroke-linejoin="round" stroke-linecap="butt" />
<path d="M376.3,947.1 L376.9,947.1 L377.5,947.1 L378.1,947.0 L378.7,947.0 L379.3,947.0 L379.9,946.9 L380.5,946.9 L381.1,946.9 L381.7,946.9 L382.3,946.8 L382.9,946.8 L383.5,946.8 L384.1,946.7 L384.7,946.7 L385.3,946.7 L385.9,946.6 L386.5,946.6 L387.1,946.6 L387.7,946.5 L388.3,946.5 L388.9,946.5 L389.5,946.4 L390.1,946.4 L390.7,946.4 L391.4,946.3 L392.0,946.3 L392.6,946.2 L393.2,946.2 L393.8,946.2 L394.4,946.1 L395.0,946.1 L395.6,946.0 L396.2,946.0 L396.8,946.0 L397.4,945.9 L398.0,945.9 L398.6,945.8 L399.2,945.8 L399.8,945.7 L400.4,945.7 L401.0,945.7 L401.6,945.6 L402.2,945.6 L402.8,945.5 L403.4,945.5 L404.0,945.4 L404.6,945.4 L405.2,945.3 L405.8,945.3 L406.4,945.2 L407.0,945.2 L407.6,945.1 L408.2,945.1 L408.8,945.0 L409.4,944.9 L410.0,944.9 L410.6,944.8 L411.2,944.8 L411.8,944.7 L412.4,944.6 L413.0,944.6 L413.6,944.5 L414.2,944.5 L414.8,944.4 L415.4,944.3 L416.0,944.3 L416.6,944.2 L417.2,944.1 L417.8,944.1 L418.4,944.0 L419.0,943.9 L419.6,943.9 L420.2,943.8 L420.8,943.7 L421.4,943.7 L422.0,943.6 L422.6,943.5 L423.2,943.5 L423.8,943.4 L424.4,943.3 L425.0,943.3 L425.6,943.2 L426.2,943.2 L426.8,943.1 L427.4,943.0 L428.0,943.0 L428.6,942.9 L429.2,942.9 L429.8,942.8 L430.4,942.7 L431.0,942.7 L431.6,942.6 L432.2,942.5 L432.8,942.5 L433.4,942.4 L434.0,942.4 L434.5,942.3 L435.1,942.2 L435.7,942.2 L436.3,942.1 L436.9,942.1 L437.5,942.0 L438.1,941.9 L438.7,941.9 L439.3,941.8 L439.9,941.8 L440.5,941.7 L441.1,941.6 L441.7,941.6 L442.3,941.5 L442.9,941.5 L443.5,941.4 L444.1,941.3 L444.7,941.3 L445.3,941.2 L445.9,941.2 L446.5,941.1 L447.1,941.0 L447.7,941.0 L448.3,940.9 L448.9,940.9 L449.5,940.8 L450.1,940.7 L450.7,940.7 L451.3,940.6 L451.9,940.5 L452.5,940.5 L453.1,940.4 L453.7,940.4 L454.3,940.3 L454.9,940.2 L455.5,940.2 L456.1,940.1 L456.7,940.1 L457.3,940.0 L457.9,940.0 L458.5,939.9 L459.1,939.9 L459.7,939.8 L460.3,939.7 L460.9,939.7 L461.5,939.6 L462.1,939.6 L462.7,939.5 L463.3,939.5 L463.9,939.4 L464.5,939.3 L465.1,939.3 L465.7,939.2 L466.3,939.2 L466.9,939.1 L467.5,939.0 L468.1,939.0 L468.7,938.9 L469.3,938.9 L469.9,938.8 L470.5,938.7 L471.1,938.7 L471.7,938.6 L472.3,938.5 L472.9,938.5 L473.5,938.4 L474.1,938.3 L474.7,938.3 L475.3,938.2 L475.9,938.1 L476.5,938.1 L477.1,938.0 L477.7,937.9 L478.3,937.8 L478.9,937.7 L479.5,937.7 L480.1,937.6 L480.7,937.5 L481.3,937.4 L481.9,937.3 L482.5,937.2 L483.1,937.1 L483.7,937.1 L484.3,937.0 L484.9,936.9 L485.5,936.8 L486.1,936.7 L486.7,936.6 L487.3,936.5 L487.8,936.4 L488.4,936.3 L489.0,936.2 L489.6,936.1 L490.2,936.0 L490.8,935.9 L491.4,935.8 L492.0,935.7 L492.6,935.6 L493.2,935.5 L493.8,935.4 L494.4,935.3 L495.0,935.2 L495.6,935.1 L496.2,935.0 L496.8,934.9 L497.4,934.8 L498.0,934.7 L498.6,934.6 L499.1,934.5 L499.7,934.4 L500.3,934.3 L500.9,934.2 L501.5,934.1 L502.1,934.0 L502.7,933.9 L503.3,933.8 L503.9,933.7 L504.5,933.6 L505.1,933.5 L505.7,933.4 L506.3,933.3 L506.9,933.1 L507.5,933.0 L508.0,932.9 L508.6,932.8 L509.2,932.7 L509.8,932.6 L510.4,932.5 L511.0,932.4 L511.6,932.3 L512.2,932.2 L512.8,932.1 L513.4,931.9 L514.0,931.8 L514.6,931.7 L515.2,931.6 L515.7,931.5 L516.3,931.4 L516.9,931.3 L517.5,931.1 L518.1,931.0 L518.7,930.9 L519.3,930.8 L519.9,930.7 L520.5,930.6 L521.1,930.4 L521.7,930.3 L522.3,930.2 L522.8,930.1 L523.4,930.0 L524.0,929.8 L524.6,929.7 L525.2,929.6 L525.8,929.5 L526.4,929.3 L527.0,929.2 L527.6,929.1 L528.1,929.0 L528.7,928.8 L529.3,928.7 L529.9,928.6 L530.5,928.4 L531.1,928.3 L531.7,928.1 L532.3,928.0 L532.8,927.9 L533.4,927.7 L534.0,927.6 L534.6,927.4 L535.2,927.3 L535.8,927.1 L536.4,927.0 L536.9,926.9 L537.5,926.7 L538.1,926.6 L538.7,926.4 L539.3,926.3 L539.9,926.1 L540.4,926.0 L541.0,925.8 L541.6,925.6 L542.2,925.5 L542.8,925.3 L543.4,925.2 L543.9,925.0 L544.5,924.9 L545.1,924.7 L545.7,924.5 L546.3,924.4 L546.8,924.2 L547.4,924.0 L548.0,923.9 L548.6,923.7 L549.2,923.5 L549.7,923.4 L550.3,923.2 L550.9,923.0 L551.5,922.9 L552.0,922.7 L552.6,922.5 L553.2,922.3 L553.8,922.2 L554.3,922.0 L554.9,921.8 L555.5,921.6 L556.1,921.4 L556.7,921.3 L557.2,921.1 L557.8,920.9 L558.4,920.7 L558.9,920.5 L559.5,920.3 L560.1,920.2 L560.7,920.0 L561.2,919.8 L561.8,919.6 L562.4,919.4 L563.0,919.2 L563.5,919.0 L564.1,918.8 L564.7,918.6 L565.2,918.5 L565.8,918.3 L566.4,918.1 L567.0,917.9 L567.5,917.7 L568.1,917.5 L568.7,917.3 L569.2,917.1 L569.8,916.9 L570.4,916.7 L571.0,916.5 L571.5,916.3 L572.1,916.1 L572.7,915.9 L573.2,915.7 L573.8,915.5 L574.3,915.2 L574.9,915.0 L575.5,914.8 L576.0,914.6 L576.6,914.4 L577.2,914.2 L577.7,913.9 L578.3,913.7 L578.8,913.5 L579.4,913.3 L579.9,913.0 L580.5,912.8 L581.0,912.6 L581.6,912.3 L582.2,912.1 L582.7,911.9 L583.3,911.6 L583.8,911.4 L584.4,911.1 L584.9,910.9 L585.5,910.6 L586.0,910.4 L586.6,910.1 L587.1,909.9 L587.7,909.6 L588.2,909.4 L588.8,909.1 L589.3,908.9 L589.9,908.6 L590.4,908.4 L590.9,908.1 L591.5,907.8 L592.0,907.6 L592.6,907.3 L593.1,907.1 L593.7,906.8 L594.2,906.5 L594.8,906.3 L595.3,906.0 L595.8,905.8 L596.4,905.5 L596.9,905.2 L597.5,905.0 L598.0,904.7 L598.5,904.4 L599.1,904.2 L599.6,903.9 L600.2,903.6 L600.7,903.4 L601.2,903.1 L601.8,902.8 L602.3,902.6 L602.9,902.3 L603.4,902.0 L603.9,901.8 L604.5,901.5 L605.0,901.2 L605.6,900.9 L606.1,900.7 L606.6,900.4 L607.2,900.1 L607.7,899.8 L608.2,899.6 L608.8,899.3 L609.3,899.0 L609.8,898.7 L610.4,898.5 L610.9,898.2 L611.4,897.9 L612.0,897.6 L612.5,897.3 L613.0,897.1 L613.5,896.8 L614.0,896.5 L614.5,896.3 L615.1,896.0 L615.6,895.7 L616.2,895.4 L616.7,895.1 L617.3,894.8 L617.8,894.5 L618.3,894.2 L618.9,893.9 L619.4,893.6" fill="none" stroke="#8000ff" stroke-width="2.15" stroke-linejoin="round" stroke-linecap="butt" />
</g>
<text transform="translate(547.70,927.30) scale(1.0,1)" font-size="17" text-anchor="middle" font-weight="bold" fill="#000000" >*</text>
<text transform="translate(559.30,904.60) scale(1.0,1)" font-size="17" text-anchor="middle" font-weight="bold" fill="#ff0000" >*</text>
<text transform="translate(560.30,853.40) scale(1.0,1)" font-size="17" text-anchor="middle" font-weight="bold" fill="#00ff00" >*</text>
<text transform="translate(567.00,784.20) scale(1.0,1)" font-size="17" text-anchor="middle" font-weight="bold" fill="#0000ff" >*</text>
<text transform="translate(553.50,768.80) scale(1.0,1)" font-size="17" text-anchor="middle" font-weight="bold" fill="#00ffff" >*</text>
<text transform="translate(539.50,765.30) scale(1.0,1)" font-size="17" text-anchor="middle" font-weight="bold" fill="#ff00ff" >*</text>
<text transform="translate(504.00,796.20) scale(1.0,1)" font-size="17" text-anchor="middle" font-weight="bold" fill="#ff8000" >*</text>
<g clip-path="url(#cc)">
<path d="M683.6,945.6 L692.0,940.7 L700.5,935.2 L708.7,931.3 L717.7,930.1 L723.9,930.9 L731.4,920.7 L736.0,916.5 L738.4,914.7 L740.7,912.7 L743.9,908.4 L747.0,904.5 L750.3,899.5 L752.5,892.0 L754.8,884.9 L758.0,878.5 L761.1,872.5 L763.5,867.6 L765.8,860.7 L768.2,854.2 L771.3,846.8 L773.4,839.4 L776.0,831.1 L778.2,823.7 L780.8,815.1 L783.4,806.6 L785.7,796.4 L787.3,787.5 L789.3,777.5" fill="none" stroke="#333" stroke-width="0.5" stroke-linejoin="round" stroke-linecap="butt" />
<rect x="681.1" y="943.1" width="5" height="5" fill="#000"/>
<rect x="689.5" y="938.2" width="5" height="5" fill="#000"/>
<rect x="698.0" y="932.7" width="5" height="5" fill="#000"/>
<rect x="706.2" y="928.8" width="5" height="5" fill="#000"/>
<rect x="715.2" y="927.6" width="5" height="5" fill="#000"/>
<rect x="721.4" y="928.4" width="5" height="5" fill="#000"/>
<rect x="728.9" y="918.2" width="5" height="5" fill="#000"/>
<circle cx="736.0" cy="916.5" r="2.75" fill="#000"/>
<circle cx="738.4" cy="914.7" r="2.75" fill="#000"/>
<circle cx="740.7" cy="912.7" r="2.75" fill="#000"/>
<circle cx="743.9" cy="908.4" r="2.75" fill="#000"/>
<circle cx="747.0" cy="904.5" r="2.75" fill="#000"/>
<circle cx="750.3" cy="899.5" r="2.75" fill="#000"/>
<circle cx="752.5" cy="892.0" r="2.75" fill="#000"/>
<circle cx="754.8" cy="884.9" r="2.75" fill="#000"/>
<circle cx="758.0" cy="878.5" r="2.75" fill="#000"/>
<circle cx="761.1" cy="872.5" r="2.75" fill="#000"/>
<circle cx="763.5" cy="867.6" r="2.75" fill="#000"/>
<circle cx="765.8" cy="860.7" r="2.75" fill="#000"/>
<circle cx="768.2" cy="854.2" r="2.75" fill="#000"/>
<circle cx="771.3" cy="846.8" r="2.75" fill="#000"/>
<circle cx="773.4" cy="839.4" r="2.75" fill="#000"/>
<circle cx="776.0" cy="831.1" r="2.75" fill="#000"/>
<circle cx="778.2" cy="823.7" r="2.75" fill="#000"/>
<circle cx="780.8" cy="815.1" r="2.75" fill="#000"/>
<circle cx="783.4" cy="806.6" r="2.75" fill="#000"/>
<circle cx="785.7" cy="796.4" r="2.75" fill="#000"/>
<circle cx="787.3" cy="787.5" r="2.75" fill="#000"/>
<circle cx="789.3" cy="777.5" r="2.75" fill="#000"/>
<path d="M705.5,928.9 L705.8,928.7 L706.0,928.6 L706.3,928.4 L706.5,928.3 L706.8,928.1 L707.1,928.0 L707.3,927.8 L707.6,927.7 L707.9,927.5 L708.1,927.4 L708.4,927.3 L708.7,927.1 L708.9,927.0 L709.2,926.9 L709.5,926.7 L709.7,926.6 L710.0,926.5 L710.3,926.3 L710.5,926.2 L710.8,926.1 L711.1,926.0 L711.4,925.8 L711.6,925.7 L711.9,925.6 L712.2,925.4 L712.5,925.3 L712.8,925.1 L713.0,925.0 L713.3,924.9 L713.6,924.7 L713.9,924.6 L714.2,924.5 L714.5,924.3 L714.8,924.2 L715.0,924.1 L715.3,924.1 L715.6,924.0 L715.9,923.9 L716.2,923.9 L716.4,923.9 L716.7,923.9 L717.0,924.0 L717.2,924.1 L717.5,924.2 L717.8,924.3 L718.0,924.5 L718.3,924.7 L718.6,924.9 L718.8,925.1 L719.1,925.2 L719.4,925.4 L719.6,925.6 L719.9,925.7 L720.1,926.0 L720.3,926.2 L720.6,926.4 L720.8,926.6 L721.1,926.8 L721.3,927.1 L721.5,927.3 L721.8,927.4 L722.0,927.6 L722.3,927.7 L722.5,927.8 L722.8,927.8 L723.1,927.8 L723.4,927.8 L723.7,927.7 L724.0,927.7 L724.3,927.7 L724.6,927.6 L724.9,927.6 L725.2,927.5 L725.5,927.4 L725.8,927.4 L726.1,927.3 L726.3,927.2 L726.6,927.0 L726.8,926.9 L727.0,926.7 L727.3,926.5 L727.5,926.2 L727.7,926.0 L728.0,925.8 L728.2,925.6 L728.4,925.4 L728.7,925.2 L728.9,925.0 L729.2,924.9 L729.4,924.8 L729.7,924.7 L730.0,924.6 L730.3,924.5 L730.6,924.4 L730.9,924.3 L731.1,924.2 L731.4,924.1 L731.7,924.1 L732.0,924.0 L732.3,923.9 L732.6,923.8 L732.9,923.7 L733.2,923.6 L733.5,923.6 L733.8,923.5 L734.1,923.4 L734.4,923.3 L734.6,923.2 L734.9,923.0 L735.2,922.9 L735.4,922.8 L735.7,922.6 L735.9,922.5 L736.2,922.3 L736.5,922.2 L736.7,922.0 L737.0,921.8 L737.2,921.7 L737.4,921.5 L737.7,921.3 L737.9,921.1 L738.2,920.9 L738.4,920.8 L738.7,920.6 L738.9,920.4 L739.1,920.2 L739.4,920.0 L739.6,919.8 L739.8,919.6 L740.1,919.4 L740.3,919.3 L740.6,919.1 L740.8,918.9 L741.0,918.7 L741.3,918.5 L741.5,918.3 L741.7,918.1 L742.0,917.9 L742.2,917.7 L742.4,917.5 L742.7,917.3 L742.9,917.1 L743.1,916.9 L743.3,916.7 L743.6,916.5 L743.8,916.3 L744.0,916.1 L744.2,915.9 L744.4,915.7 L744.6,915.5 L744.8,915.3 L745.0,915.1 L745.2,914.8 L745.4,914.6 L745.6,914.4 L745.8,914.2 L746.0,913.9 L746.2,913.7 L746.4,913.5 L746.6,913.3 L746.8,913.0 L747.0,912.8 L747.2,912.6 L747.3,912.3 L747.5,912.1 L747.7,911.9 L747.9,911.6 L748.1,911.4 L748.3,911.1 L748.4,910.9 L748.6,910.6 L748.8,910.4 L749.0,910.2 L749.2,909.9 L749.3,909.7 L749.5,909.4 L749.7,909.2 L749.9,908.9 L750.0,908.7 L750.2,908.4 L750.4,908.2 L750.6,907.9 L750.7,907.7 L750.9,907.4 L751.1,907.2 L751.3,907.0 L751.4,906.7 L751.6,906.5 L751.8,906.2 L752.0,906.0 L752.1,905.7 L752.3,905.5 L752.5,905.2 L752.7,905.0 L752.8,904.7 L753.0,904.5 L753.2,904.2 L753.4,904.0 L753.5,903.8 L753.7,903.5 L753.9,903.3 L754.0,903.0 L754.2,902.8 L754.4,902.5 L754.6,902.3 L754.7,902.0 L754.9,901.8 L755.1,901.5 L755.2,901.3 L755.4,901.0 L755.6,900.8 L755.8,900.5 L755.9,900.3 L756.1,900.0 L756.3,899.8 L756.4,899.5 L756.6,899.3 L756.8,899.0 L756.9,898.8 L757.1,898.5 L757.2,898.3 L757.4,898.0 L757.6,897.8 L757.7,897.5 L757.9,897.3 L758.1,897.0 L758.2,896.8 L758.4,896.5 L758.5,896.3 L758.7,896.0 L758.8,895.7 L759.0,895.5 L759.1,895.2 L759.3,895.0 L759.4,894.7 L759.6,894.4 L759.7,894.2 L759.9,893.9 L760.0,893.7 L760.2,893.4 L760.3,893.1 L760.5,892.9 L760.6,892.6 L760.7,892.3 L760.9,892.1 L761.0,891.8 L761.2,891.5 L761.3,891.3 L761.4,891.0 L761.6,890.7 L761.7,890.5 L761.9,890.2 L762.0,889.9 L762.1,889.7 L762.3,889.4 L762.4,889.1 L762.6,888.9 L762.7,888.6 L762.9,888.3 L763.0,888.1 L763.2,887.8 L763.3,887.6 L763.4,887.3 L763.6,887.0 L763.7,886.8 L763.9,886.5 L764.1,886.3 L764.2,886.0 L764.4,885.7 L764.5,885.5 L764.7,885.2 L764.9,885.0 L765.0,884.7 L765.2,884.5 L765.3,884.2 L765.5,884.0 L765.7,883.7 L765.8,883.5 L766.0,883.2 L766.1,882.9 L766.3,882.7 L766.5,882.4 L766.6,882.2 L766.8,881.9 L766.9,881.7 L767.1,881.4 L767.2,881.1 L767.4,880.9 L767.5,880.6 L767.7,880.4 L767.8,880.1 L768.0,879.8 L768.1,879.6 L768.2,879.3 L768.4,879.0 L768.5,878.8 L768.6,878.5 L768.8,878.2 L768.9,878.0 L769.0,877.7 L769.1,877.4 L769.2,877.1 L769.3,876.8 L769.5,876.6 L769.6,876.3 L769.7,876.0 L769.8,875.7 L769.9,875.4 L770.0,875.2 L770.1,874.9 L770.3,874.6 L770.4,874.3 L770.5,874.0 L770.6,873.8 L770.7,873.5 L770.9,873.2 L771.0,873.0 L771.1,872.7 L771.2,872.4 L771.4,872.1 L771.5,871.9 L771.7,871.6 L771.8,871.4 L772.0,871.1 L772.1,870.8 L772.3,870.6 L772.4,870.3 L772.6,870.1 L772.7,869.8 L772.9,869.6 L773.1,869.3 L773.2,869.0 L773.4,868.8 L773.6,868.5 L773.7,868.3 L773.9,868.0 L774.1,867.8 L774.2,867.5 L774.4,867.3 L774.6,867.0 L774.7,866.8 L774.9,866.5 L775.1,866.3 L775.2,866.0 L775.4,865.8 L775.5,865.5 L775.7,865.2 L775.8,865.0 L776.0,864.7 L776.1,864.5 L776.3,864.2 L776.4,863.9 L776.6,863.7 L776.7,863.4 L776.8,863.1 L777.0,862.9 L777.1,862.6 L777.2,862.3 L777.3,862.1 L777.4,861.8 L777.5,861.5 L777.7,861.2 L777.8,860.9 L777.9,860.7 L778.0,860.4 L778.1,860.1 L778.2,859.8 L778.3,859.5 L778.4,859.3 L778.5,859.0 L778.6,858.7 L778.7,858.4 L778.8,858.1 L778.9,857.8 L779.0,857.6 L779.1,857.3 L779.2,857.0 L779.4,856.7 L779.5,856.4 L779.6,856.2 L779.7,855.9 L779.8,855.6 L779.9,855.3 L780.1,855.1 L780.2,854.8 L780.3,854.5 L780.4,854.2 L780.6,854.0 L780.7,853.7 L780.8,853.4 L781.0,853.2 L781.1,852.9 L781.3,852.6 L781.4,852.4 L781.5,852.1 L781.7,851.8 L781.8,851.6 L782.0,851.3 L782.1,851.0 L782.2,850.8 L782.4,850.5 L782.5,850.2 L782.7,850.0 L782.8,849.7 L782.9,849.4 L783.1,849.2 L783.2,848.9 L783.3,848.6 L783.5,848.3 L783.6,848.1 L783.7,847.8 L783.8,847.5 L784.0,847.3 L784.1,847.0 L784.2,846.7 L784.3,846.4 L784.4,846.2 L784.6,845.9 L784.7,845.6 L784.8,845.3 L784.9,845.0 L785.0,844.8 L785.1,844.5 L785.2,844.2 L785.4,843.9 L785.5,843.7 L785.6,843.4 L785.7,843.1 L785.8,842.8 L785.9,842.5 L786.0,842.3 L786.1,842.0 L786.2,841.7 L786.4,841.4 L786.5,841.1 L786.6,840.9 L786.7,840.6 L786.8,840.3 L786.9,840.0 L787.0,839.7 L787.1,839.5 L787.2,839.2 L787.3,838.9 L787.5,838.6 L787.6,838.3 L787.7,838.1 L787.8,837.8 L787.9,837.5 L788.0,837.2 L788.1,836.9 L788.2,836.7 L788.3,836.4 L788.4,836.1 L788.5,835.8 L788.7,835.5 L788.8,835.3 L788.9,835.0 L789.0,834.7 L789.1,834.4 L789.2,834.1 L789.3,833.8 L789.4,833.6 L789.5,833.3 L789.6,833.0 L789.7,832.7 L789.8,832.4 L789.9,832.2 L790.0,831.9 L790.2,831.6 L790.3,831.3 L790.4,831.0 L790.5,830.8 L790.6,830.5 L790.7,830.2 L790.8,829.9 L790.9,829.6 L791.0,829.4 L791.1,829.1 L791.2,828.8 L791.3,828.5 L791.4,828.2 L791.5,827.9 L791.6,827.7 L791.7,827.4 L791.8,827.1 L792.0,826.8 L792.1,826.5 L792.2,826.3 L792.3,826.0 L792.4,825.7 L792.5,825.4 L792.6,825.1 L792.7,824.8 L792.8,824.6 L792.9,824.3 L793.0,824.0" fill="none" stroke="#ff0000" stroke-width="0.6" stroke-linejoin="round" stroke-linecap="butt" />
<rect x="703.35" y="926.75" width="4.3" height="4.3" fill="#fff" stroke="#ff0000" stroke-width="1.1"/>
<rect x="704.34" y="926.16" width="4.3" height="4.3" fill="#fff" stroke="#ff0000" stroke-width="1.1"/>
<rect x="705.34" y="925.60" width="4.3" height="4.3" fill="#fff" stroke="#ff0000" stroke-width="1.1"/>
<rect x="706.35" y="925.05" width="4.3" height="4.3" fill="#fff" stroke="#ff0000" stroke-width="1.1"/>
<rect x="707.38" y="924.54" width="4.3" height="4.3" fill="#fff" stroke="#ff0000" stroke-width="1.1"/>
<rect x="708.42" y="924.04" width="4.3" height="4.3" fill="#fff" stroke="#ff0000" stroke-width="1.1"/>
<rect x="709.46" y="923.56" width="4.3" height="4.3" fill="#fff" stroke="#ff0000" stroke-width="1.1"/>
<rect x="710.49" y="923.05" width="4.3" height="4.3" fill="#fff" stroke="#ff0000" stroke-width="1.1"/>
<rect x="711.52" y="922.54" width="4.3" height="4.3" fill="#fff" stroke="#ff0000" stroke-width="1.1"/>
<rect x="712.59" y="922.10" width="4.3" height="4.3" fill="#fff" stroke="#ff0000" stroke-width="1.1"/>
<rect x="713.70" y="921.81" width="4.3" height="4.3" fill="#fff" stroke="#ff0000" stroke-width="1.1"/>
<rect x="714.84" y="921.82" width="4.3" height="4.3" fill="#fff" stroke="#ff0000" stroke-width="1.1"/>
<rect x="715.87" y="922.33" width="4.3" height="4.3" fill="#fff" stroke="#ff0000" stroke-width="1.1"/>
<rect x="716.81" y="922.99" width="4.3" height="4.3" fill="#fff" stroke="#ff0000" stroke-width="1.1"/>
<rect x="717.75" y="923.64" width="4.3" height="4.3" fill="#fff" stroke="#ff0000" stroke-width="1.1"/>
<rect x="718.61" y="924.41" width="4.3" height="4.3" fill="#fff" stroke="#ff0000" stroke-width="1.1"/>
<rect x="719.47" y="925.17" width="4.3" height="4.3" fill="#fff" stroke="#ff0000" stroke-width="1.1"/>
<rect x="720.50" y="925.64" width="4.3" height="4.3" fill="#fff" stroke="#ff0000" stroke-width="1.1"/>
<rect x="721.65" y="925.58" width="4.3" height="4.3" fill="#fff" stroke="#ff0000" stroke-width="1.1"/>
<rect x="722.78" y="925.40" width="4.3" height="4.3" fill="#fff" stroke="#ff0000" stroke-width="1.1"/>
<rect x="723.90" y="925.13" width="4.3" height="4.3" fill="#fff" stroke="#ff0000" stroke-width="1.1"/>
<rect x="724.88" y="924.54" width="4.3" height="4.3" fill="#fff" stroke="#ff0000" stroke-width="1.1"/>
<rect x="725.71" y="923.75" width="4.3" height="4.3" fill="#fff" stroke="#ff0000" stroke-width="1.1"/>
<rect x="726.59" y="923.01" width="4.3" height="4.3" fill="#fff" stroke="#ff0000" stroke-width="1.1"/>
<rect x="727.62" y="922.51" width="4.3" height="4.3" fill="#fff" stroke="#ff0000" stroke-width="1.1"/>
<rect x="728.71" y="922.15" width="4.3" height="4.3" fill="#fff" stroke="#ff0000" stroke-width="1.1"/>
<rect x="729.82" y="921.84" width="4.3" height="4.3" fill="#fff" stroke="#ff0000" stroke-width="1.1"/>
<rect x="730.93" y="921.53" width="4.3" height="4.3" fill="#fff" stroke="#ff0000" stroke-width="1.1"/>
<rect x="732.02" y="921.19" width="4.3" height="4.3" fill="#fff" stroke="#ff0000" stroke-width="1.1"/>
<rect x="733.08" y="920.74" width="4.3" height="4.3" fill="#fff" stroke="#ff0000" stroke-width="1.1"/>
<rect x="734.09" y="920.17" width="4.3" height="4.3" fill="#fff" stroke="#ff0000" stroke-width="1.1"/>
<rect x="735.04" y="919.53" width="4.3" height="4.3" fill="#fff" stroke="#ff0000" stroke-width="1.1"/>
<rect x="735.96" y="918.85" width="4.3" height="4.3" fill="#fff" stroke="#ff0000" stroke-width="1.1"/>
<rect x="736.86" y="918.13" width="4.3" height="4.3" fill="#fff" stroke="#ff0000" stroke-width="1.1"/>
<rect x="737.76" y="917.42" width="4.3" height="4.3" fill="#fff" stroke="#ff0000" stroke-width="1.1"/>
<rect x="738.67" y="916.71" width="4.3" height="4.3" fill="#fff" stroke="#ff0000" stroke-width="1.1"/>
<rect x="739.56" y="915.98" width="4.3" height="4.3" fill="#fff" stroke="#ff0000" stroke-width="1.1"/>
<rect x="740.44" y="915.24" width="4.3" height="4.3" fill="#fff" stroke="#ff0000" stroke-width="1.1"/>
<rect x="741.30" y="914.47" width="4.3" height="4.3" fill="#fff" stroke="#ff0000" stroke-width="1.1"/>
<rect x="742.13" y="913.68" width="4.3" height="4.3" fill="#fff" stroke="#ff0000" stroke-width="1.1"/>
<rect x="742.93" y="912.85" width="4.3" height="4.3" fill="#fff" stroke="#ff0000" stroke-width="1.1"/>
<rect x="743.69" y="912.00" width="4.3" height="4.3" fill="#fff" stroke="#ff0000" stroke-width="1.1"/>
<rect x="744.44" y="911.12" width="4.3" height="4.3" fill="#fff" stroke="#ff0000" stroke-width="1.1"/>
<rect x="745.16" y="910.22" width="4.3" height="4.3" fill="#fff" stroke="#ff0000" stroke-width="1.1"/>
<rect x="745.86" y="909.31" width="4.3" height="4.3" fill="#fff" stroke="#ff0000" stroke-width="1.1"/>
<rect x="746.55" y="908.39" width="4.3" height="4.3" fill="#fff" stroke="#ff0000" stroke-width="1.1"/>
<rect x="747.27" y="907.40" width="4.3" height="4.3" fill="#fff" stroke="#ff0000" stroke-width="1.1"/>
<rect x="748.02" y="906.35" width="4.3" height="4.3" fill="#fff" stroke="#ff0000" stroke-width="1.1"/>
<rect x="748.81" y="905.23" width="4.3" height="4.3" fill="#fff" stroke="#ff0000" stroke-width="1.1"/>
<rect x="749.64" y="904.05" width="4.3" height="4.3" fill="#fff" stroke="#ff0000" stroke-width="1.1"/>
<rect x="750.52" y="902.81" width="4.3" height="4.3" fill="#fff" stroke="#ff0000" stroke-width="1.1"/>
<rect x="751.46" y="901.49" width="4.3" height="4.3" fill="#fff" stroke="#ff0000" stroke-width="1.1"/>
<rect x="752.44" y="900.09" width="4.3" height="4.3" fill="#fff" stroke="#ff0000" stroke-width="1.1"/>
<rect x="753.47" y="898.59" width="4.3" height="4.3" fill="#fff" stroke="#ff0000" stroke-width="1.1"/>
<rect x="754.53" y="897.01" width="4.3" height="4.3" fill="#fff" stroke="#ff0000" stroke-width="1.1"/>
<rect x="755.62" y="895.31" width="4.3" height="4.3" fill="#fff" stroke="#ff0000" stroke-width="1.1"/>
<rect x="756.74" y="893.50" width="4.3" height="4.3" fill="#fff" stroke="#ff0000" stroke-width="1.1"/>
<rect x="757.85" y="891.55" width="4.3" height="4.3" fill="#fff" stroke="#ff0000" stroke-width="1.1"/>
<rect x="758.96" y="889.48" width="4.3" height="4.3" fill="#fff" stroke="#ff0000" stroke-width="1.1"/>
<rect x="760.11" y="887.31" width="4.3" height="4.3" fill="#fff" stroke="#ff0000" stroke-width="1.1"/>
<rect x="761.35" y="885.05" width="4.3" height="4.3" fill="#fff" stroke="#ff0000" stroke-width="1.1"/>
<rect x="762.75" y="882.74" width="4.3" height="4.3" fill="#fff" stroke="#ff0000" stroke-width="1.1"/>
<rect x="764.25" y="880.38" width="4.3" height="4.3" fill="#fff" stroke="#ff0000" stroke-width="1.1"/>
<rect x="765.67" y="877.97" width="4.3" height="4.3" fill="#fff" stroke="#ff0000" stroke-width="1.1"/>
<rect x="766.88" y="875.44" width="4.3" height="4.3" fill="#fff" stroke="#ff0000" stroke-width="1.1"/>
<rect x="767.95" y="872.85" width="4.3" height="4.3" fill="#fff" stroke="#ff0000" stroke-width="1.1"/>
<rect x="769.08" y="870.29" width="4.3" height="4.3" fill="#fff" stroke="#ff0000" stroke-width="1.1"/>
<rect x="770.46" y="867.86" width="4.3" height="4.3" fill="#fff" stroke="#ff0000" stroke-width="1.1"/>
<rect x="771.99" y="865.51" width="4.3" height="4.3" fill="#fff" stroke="#ff0000" stroke-width="1.1"/>
<rect x="773.50" y="863.16" width="4.3" height="4.3" fill="#fff" stroke="#ff0000" stroke-width="1.1"/>
<rect x="774.82" y="860.69" width="4.3" height="4.3" fill="#fff" stroke="#ff0000" stroke-width="1.1"/>
<rect x="775.88" y="858.10" width="4.3" height="4.3" fill="#fff" stroke="#ff0000" stroke-width="1.1"/>
<rect x="776.85" y="855.47" width="4.3" height="4.3" fill="#fff" stroke="#ff0000" stroke-width="1.1"/>
<rect x="777.92" y="852.88" width="4.3" height="4.3" fill="#fff" stroke="#ff0000" stroke-width="1.1"/>
<rect x="779.16" y="850.37" width="4.3" height="4.3" fill="#fff" stroke="#ff0000" stroke-width="1.1"/>
<rect x="780.46" y="847.89" width="4.3" height="4.3" fill="#fff" stroke="#ff0000" stroke-width="1.1"/>
<rect x="781.68" y="845.38" width="4.3" height="4.3" fill="#fff" stroke="#ff0000" stroke-width="1.1"/>
<rect x="782.79" y="842.80" width="4.3" height="4.3" fill="#fff" stroke="#ff0000" stroke-width="1.1"/>
<rect x="783.83" y="840.20" width="4.3" height="4.3" fill="#fff" stroke="#ff0000" stroke-width="1.1"/>
<rect x="784.86" y="837.60" width="4.3" height="4.3" fill="#fff" stroke="#ff0000" stroke-width="1.1"/>
<rect x="785.88" y="834.99" width="4.3" height="4.3" fill="#fff" stroke="#ff0000" stroke-width="1.1"/>
<rect x="786.89" y="832.38" width="4.3" height="4.3" fill="#fff" stroke="#ff0000" stroke-width="1.1"/>
<rect x="787.88" y="829.76" width="4.3" height="4.3" fill="#fff" stroke="#ff0000" stroke-width="1.1"/>
<rect x="788.87" y="827.14" width="4.3" height="4.3" fill="#fff" stroke="#ff0000" stroke-width="1.1"/>
<rect x="789.86" y="824.52" width="4.3" height="4.3" fill="#fff" stroke="#ff0000" stroke-width="1.1"/>
<rect x="790.83" y="821.90" width="4.3" height="4.3" fill="#fff" stroke="#ff0000" stroke-width="1.1"/>
<path d="M703.2,920.7 L703.6,920.5 L704.1,920.2 L704.5,920.0 L705.0,919.7 L705.4,919.5 L705.8,919.3 L706.3,919.0 L706.7,918.8 L707.2,918.5 L707.6,918.3 L708.1,918.1 L708.5,917.8 L708.9,917.6 L709.4,917.3 L709.8,917.1 L710.3,916.9 L710.7,916.6 L711.2,916.4 L711.6,916.2 L712.1,915.9 L712.5,915.7 L713.0,915.5 L713.4,915.3 L713.8,915.0 L714.3,914.8 L714.7,914.5 L715.2,914.3 L715.6,914.0 L716.0,913.8 L716.4,913.5 L716.9,913.1 L717.3,912.7 L717.7,912.4 L718.1,912.2 L718.5,912.2 L719.0,912.4 L719.4,912.6 L719.9,912.9 L720.4,913.1 L720.8,913.3 L721.3,913.6 L721.7,913.9 L722.2,914.1 L722.7,914.3 L723.1,914.4 L723.6,914.5 L724.1,914.5 L724.5,914.3 L725.0,914.1 L725.5,913.9 L725.9,913.6 L726.4,913.4 L726.8,913.1 L727.3,912.9 L727.7,912.6 L728.1,912.3 L728.5,912.0 L728.9,911.7 L729.3,911.4 L729.7,911.2 L730.2,910.9 L730.6,910.7 L731.1,910.4 L731.5,910.2 L732.0,910.0 L732.4,909.7 L732.9,909.5 L733.3,909.3 L733.8,909.1 L734.2,908.8 L734.7,908.6 L735.1,908.3 L735.5,908.1 L736.0,907.8 L736.4,907.6 L736.8,907.3 L737.2,907.0 L737.6,906.7 L738.0,906.4 L738.4,906.1 L738.8,905.8 L739.2,905.5 L739.6,905.2 L740.0,904.8 L740.4,904.5 L740.7,904.2 L741.1,903.8 L741.5,903.5 L741.9,903.2 L742.3,902.8 L742.6,902.5 L743.0,902.1 L743.4,901.8 L743.7,901.4 L744.1,901.1 L744.4,900.7 L744.8,900.4 L745.2,900.0 L745.5,899.7 L745.9,899.3 L746.2,899.0 L746.5,898.6 L746.9,898.2 L747.2,897.8 L747.5,897.5 L747.9,897.1 L748.2,896.7 L748.5,896.3 L748.9,895.9 L749.2,895.6 L749.5,895.2 L749.8,894.8 L750.2,894.4 L750.5,894.0 L750.8,893.6 L751.1,893.2 L751.4,892.9 L751.8,892.5 L752.1,892.1 L752.4,891.7 L752.7,891.3 L753.0,890.9 L753.4,890.5 L753.7,890.1 L754.0,889.7 L754.3,889.3 L754.6,888.9 L754.9,888.6 L755.2,888.2 L755.5,887.8 L755.8,887.4 L756.1,887.0 L756.5,886.6 L756.8,886.2 L757.1,885.8 L757.4,885.4 L757.7,885.0 L758.0,884.6 L758.3,884.2 L758.6,883.7 L758.9,883.3 L759.2,882.9 L759.5,882.5 L759.8,882.1 L760.0,881.7 L760.3,881.3 L760.6,880.9 L760.9,880.5 L761.2,880.0 L761.4,879.6 L761.7,879.2 L761.9,878.8 L762.2,878.3 L762.4,877.9 L762.7,877.4 L762.9,877.0 L763.1,876.6 L763.4,876.1 L763.6,875.7 L763.8,875.2 L764.1,874.8 L764.3,874.3 L764.5,873.9 L764.7,873.4 L765.0,873.0 L765.2,872.5 L765.4,872.1 L765.7,871.6 L765.9,871.2 L766.1,870.7 L766.4,870.3 L766.6,869.9 L766.9,869.4 L767.1,869.0 L767.4,868.5 L767.6,868.1 L767.9,867.7 L768.1,867.2 L768.3,866.8 L768.6,866.4 L768.8,865.9 L769.1,865.5 L769.3,865.0 L769.6,864.6 L769.8,864.2 L770.1,863.7 L770.3,863.3 L770.5,862.8 L770.8,862.4 L771.0,862.0 L771.3,861.5 L771.5,861.1 L771.8,860.6 L772.0,860.2 L772.3,859.8 L772.5,859.3 L772.8,858.9 L773.0,858.5 L773.3,858.0 L773.5,857.6 L773.8,857.1 L774.0,856.7 L774.3,856.3 L774.5,855.8 L774.8,855.4 L775.0,854.9 L775.3,854.5 L775.5,854.1 L775.7,853.6 L776.0,853.2 L776.2,852.7 L776.4,852.3 L776.7,851.8 L776.9,851.4 L777.1,850.9 L777.3,850.5 L777.5,850.0 L777.7,849.6 L777.9,849.1 L778.1,848.7 L778.3,848.2 L778.5,847.7 L778.7,847.3 L778.9,846.8 L779.1,846.4 L779.3,845.9 L779.5,845.4 L779.6,845.0 L779.8,844.5 L780.0,844.0 L780.2,843.5 L780.3,843.1 L780.5,842.6 L780.7,842.1 L780.9,841.7 L781.0,841.2 L781.2,840.7 L781.4,840.2 L781.5,839.8 L781.7,839.3 L781.9,838.8 L782.0,838.3 L782.2,837.9 L782.4,837.4 L782.5,836.9 L782.7,836.4 L782.9,836.0 L783.1,835.5 L783.2,835.0 L783.4,834.5 L783.6,834.1 L783.8,833.6 L783.9,833.1 L784.1,832.7 L784.3,832.2 L784.5,831.7 L784.7,831.3 L784.9,830.8 L785.0,830.3 L785.2,829.9 L785.4,829.4 L785.6,828.9 L785.8,828.4 L786.0,828.0 L786.1,827.5 L786.3,827.0 L786.5,826.6 L786.7,826.1 L786.9,825.6 L787.1,825.2 L787.3,824.7 L787.4,824.2 L787.6,823.8 L787.8,823.3 L788.0,822.8 L788.2,822.4 L788.4,821.9 L788.5,821.4 L788.7,821.0 L788.9,820.5 L789.1,820.0 L789.2,819.6 L789.4,819.1 L789.6,818.6 L789.8,818.1 L789.9,817.7 L790.1,817.2 L790.3,816.7 L790.5,816.3 L790.6,815.8 L790.8,815.3 L791.0,814.8 L791.2,814.4 L791.3,813.9 L791.5,813.4 L791.7,812.9 L791.8,812.5 L792.0,812.0" fill="none" stroke="#00ff00" stroke-width="5.9" stroke-linejoin="round" stroke-linecap="butt" stroke-linecap="round"/>
<path d="M705.1,906.6 L705.3,906.4 L705.5,906.2 L705.7,905.9 L705.9,905.7 L706.1,905.5 L706.3,905.3 L706.5,905.0 L706.7,904.8 L706.9,904.6 L707.1,904.4 L707.3,904.1 L707.5,903.9 L707.7,903.7 L707.9,903.5 L708.1,903.3 L708.3,903.0 L708.5,902.8 L708.7,902.6 L708.9,902.4 L709.1,902.2 L709.4,901.9 L709.6,901.7 L709.8,901.5 L710.0,901.3 L710.2,901.1 L710.4,900.8 L710.6,900.6 L710.8,900.4 L711.0,900.2 L711.2,900.0 L711.4,899.7 L711.6,899.5 L711.8,899.3 L712.0,899.1 L712.2,898.9 L712.5,898.7 L712.7,898.5 L712.9,898.2 L713.1,898.0 L713.3,897.8 L713.5,897.6 L713.7,897.4 L713.9,897.2 L714.1,896.9 L714.3,896.7 L714.5,896.5 L714.8,896.3 L715.0,896.1 L715.2,895.9 L715.4,895.6 L715.6,895.4 L715.8,895.2 L716.0,895.0 L716.2,894.8 L716.4,894.6 L716.6,894.3 L716.8,894.1 L717.0,893.9 L717.2,893.6 L717.4,893.4 L717.6,893.2 L717.8,892.9 L718.0,892.7 L718.2,892.5 L718.4,892.3 L718.6,892.0 L718.8,891.8 L719.0,891.6 L719.2,891.3 L719.4,891.1 L719.6,890.9 L719.8,890.6 L720.0,890.4 L720.2,890.2 L720.4,890.0 L720.6,889.8 L720.8,889.6 L721.1,889.4 L721.3,889.2 L721.5,889.0 L721.7,888.8 L721.9,888.6 L722.2,888.4 L722.4,888.2 L722.6,888.1 L722.9,887.9 L723.2,887.8 L723.4,887.6 L723.7,887.5 L723.9,887.3 L724.2,887.2 L724.5,887.0 L724.8,886.9 L725.0,886.8 L725.3,886.6 L725.6,886.5 L725.9,886.4 L726.1,886.2 L726.4,886.1 L726.7,885.9 L727.0,885.8 L727.2,885.7 L727.5,885.5 L727.8,885.4 L728.0,885.2 L728.3,885.0 L728.5,884.9 L728.7,884.7 L729.0,884.5 L729.2,884.4 L729.4,884.2 L729.6,884.0 L729.8,883.8 L730.0,883.6 L730.2,883.3 L730.4,883.1 L730.6,882.9 L730.8,882.7 L731.0,882.4 L731.2,882.2 L731.4,882.0 L731.6,881.7 L731.7,881.5 L731.9,881.2 L732.1,881.0 L732.3,880.7 L732.5,880.5 L732.6,880.2 L732.8,880.0 L733.0,879.7 L733.2,879.5 L733.4,879.2 L733.5,879.0 L733.7,878.7 L733.9,878.5 L734.1,878.2 L734.3,878.0 L734.4,877.8 L734.6,877.5 L734.8,877.3 L735.0,877.1 L735.2,876.8 L735.4,876.6 L735.6,876.4 L735.8,876.1 L735.9,875.9 L736.1,875.7 L736.3,875.4 L736.5,875.2 L736.7,875.0 L736.9,874.7 L737.1,874.5 L737.3,874.2 L737.5,874.0 L737.6,873.8 L737.8,873.5 L738.0,873.3 L738.2,873.1 L738.4,872.8 L738.6,872.6 L738.8,872.4 L738.9,872.1 L739.1,871.9 L739.3,871.6 L739.5,871.4 L739.7,871.2 L739.8,870.9 L740.0,870.7 L740.2,870.4 L740.4,870.2 L740.5,869.9 L740.7,869.7 L740.9,869.4 L741.0,869.2 L741.2,869.0 L741.4,868.7 L741.5,868.5 L741.7,868.2 L741.9,868.0 L742.0,867.7 L742.2,867.5 L742.4,867.2 L742.5,867.0 L742.7,866.7 L742.9,866.5 L743.0,866.2 L743.2,865.9 L743.4,865.7 L743.5,865.4 L743.7,865.2 L743.8,864.9 L744.0,864.7 L744.2,864.4 L744.3,864.2 L744.5,863.9 L744.6,863.6 L744.8,863.4 L744.9,863.1 L745.1,862.9 L745.3,862.6 L745.4,862.4 L745.6,862.1 L745.7,861.8 L745.9,861.6 L746.0,861.3 L746.2,861.1 L746.3,860.8 L746.5,860.5 L746.6,860.3 L746.8,860.0 L746.9,859.8 L747.1,859.5 L747.2,859.2 L747.4,859.0 L747.5,858.7 L747.7,858.5 L747.8,858.2 L748.0,857.9 L748.1,857.7 L748.3,857.4 L748.4,857.2 L748.6,856.9 L748.7,856.6 L748.9,856.4 L749.0,856.1 L749.2,855.8 L749.3,855.6 L749.5,855.3 L749.6,855.1 L749.7,854.8 L749.9,854.5 L750.0,854.3 L750.2,854.0 L750.3,853.7 L750.4,853.5 L750.6,853.2 L750.7,852.9 L750.9,852.7 L751.0,852.4 L751.1,852.1 L751.3,851.9 L751.4,851.6 L751.5,851.3 L751.7,851.1 L751.8,850.8 L751.9,850.5 L752.1,850.3 L752.2,850.0 L752.4,849.7 L752.5,849.5 L752.6,849.2 L752.8,848.9 L752.9,848.6 L753.0,848.4 L753.2,848.1 L753.3,847.8 L753.4,847.6 L753.6,847.3 L753.7,847.0 L753.8,846.8 L754.0,846.5 L754.1,846.2 L754.3,846.0 L754.4,845.7 L754.5,845.4 L754.7,845.2 L754.8,844.9 L755.0,844.6 L755.1,844.4 L755.2,844.1 L755.4,843.8 L755.5,843.6 L755.7,843.3 L755.8,843.0 L755.9,842.8 L756.1,842.5 L756.2,842.2 L756.4,842.0 L756.5,841.7 L756.6,841.4 L756.8,841.2 L756.9,840.9 L757.1,840.6 L757.2,840.4 L757.4,840.1 L757.5,839.9 L757.6,839.6 L757.8,839.3 L757.9,839.1 L758.1,838.8 L758.2,838.5 L758.3,838.3 L758.5,838.0 L758.6,837.7 L758.7,837.5 L758.9,837.2 L759.0,836.9 L759.2,836.6 L759.3,836.4 L759.4,836.1 L759.6,835.8 L759.7,835.6 L759.8,835.3 L760.0,835.0 L760.1,834.8 L760.2,834.5 L760.3,834.2 L760.5,833.9 L760.6,833.7 L760.7,833.4 L760.8,833.1 L761.0,832.9 L761.1,832.6 L761.2,832.3 L761.4,832.0 L761.5,831.8 L761.6,831.5 L761.7,831.2 L761.9,831.0 L762.0,830.7 L762.1,830.4 L762.2,830.1 L762.4,829.9 L762.5,829.6 L762.6,829.3 L762.7,829.0 L762.9,828.8 L763.0,828.5 L763.1,828.2 L763.2,827.9 L763.3,827.7 L763.5,827.4 L763.6,827.1 L763.7,826.8 L763.8,826.6 L763.9,826.3 L764.1,826.0 L764.2,825.7 L764.3,825.4 L764.4,825.2 L764.5,824.9 L764.6,824.6 L764.8,824.3 L764.9,824.1 L765.0,823.8 L765.1,823.5 L765.2,823.2 L765.3,822.9 L765.4,822.7 L765.5,822.4 L765.6,822.1 L765.8,821.8 L765.9,821.5 L766.0,821.3 L766.1,821.0 L766.2,820.7 L766.3,820.4 L766.4,820.1 L766.5,819.8 L766.6,819.6 L766.7,819.3 L766.8,819.0 L766.9,818.7 L767.0,818.4 L767.1,818.2 L767.2,817.9 L767.2,817.6 L767.3,817.3 L767.4,817.0 L767.5,816.7 L767.6,816.4 L767.7,816.2 L767.8,815.9 L767.9,815.6 L768.0,815.3 L768.0,815.0 L768.1,814.7 L768.2,814.4 L768.3,814.1 L768.4,813.8 L768.5,813.6 L768.5,813.3 L768.6,813.0 L768.7,812.7 L768.8,812.4 L768.9,812.1 L768.9,811.8 L769.0,811.5 L769.1,811.2 L769.2,811.0 L769.3,810.7 L769.3,810.4 L769.4,810.1 L769.5,809.8 L769.6,809.5 L769.7,809.2 L769.7,808.9 L769.8,808.6 L769.9,808.3 L770.0,808.0 L770.1,807.8 L770.2,807.5 L770.2,807.2 L770.3,806.9 L770.4,806.6 L770.5,806.3 L770.6,806.0 L770.6,805.7 L770.7,805.4 L770.8,805.2 L770.9,804.9 L771.0,804.6 L771.1,804.3 L771.1,804.0 L771.2,803.7 L771.3,803.4 L771.4,803.1 L771.5,802.8 L771.6,802.6 L771.7,802.3 L771.8,802.0 L771.9,801.7 L771.9,801.4 L772.0,801.1 L772.1,800.8 L772.2,800.5 L772.3,800.3 L772.4,800.0 L772.5,799.7 L772.6,799.4 L772.7,799.1 L772.7,798.8 L772.8,798.5 L772.9,798.3 L773.0,798.0 L773.1,797.7 L773.2,797.4 L773.3,797.1 L773.4,796.8 L773.5,796.5 L773.6,796.2 L773.6,796.0 L773.7,795.7 L773.8,795.4 L773.9,795.1 L774.0,794.8 L774.1,794.5 L774.2,794.2 L774.3,794.0 L774.4,793.7 L774.5,793.4 L774.6,793.1 L774.6,792.8 L774.7,792.5 L774.8,792.2 L774.9,792.0 L775.0,791.7 L775.1,791.4 L775.2,791.1 L775.3,790.8 L775.4,790.5 L775.5,790.2 L775.6,789.9 L775.7,789.7 L775.7,789.4 L775.8,789.1 L775.9,788.8 L776.0,788.5 L776.1,788.2 L776.2,787.9 L776.3,787.7 L776.4,787.4 L776.5,787.1 L776.6,786.8 L776.7,786.5 L776.8,786.2 L776.8,785.9 L776.9,785.7 L777.0,785.4 L777.1,785.1 L777.2,784.8 L777.3,784.5 L777.4,784.2 L777.5,783.9 L777.6,783.6 L777.7,783.4 L777.8,783.1 L777.9,782.8 L777.9,782.5 L778.0,782.2 L778.1,781.9 L778.2,781.6 L778.3,781.4 L778.4,781.1 L778.5,780.8 L778.6,780.5 L778.7,780.2 L778.8,779.9 L778.9,779.7 L779.0,779.4 L779.1,779.1 L779.2,778.8 L779.3,778.5 L779.4,778.2 L779.5,777.9 L779.6,777.7 L779.7,777.4 L779.8,777.1 L779.9,776.8 L780.0,776.5 L780.1,776.3 L780.2,776.0 L780.3,775.7 L780.4,775.4 L780.5,775.1 L780.6,774.8 L780.7,774.6 L780.8,774.3 L780.9,774.0 L781.0,773.7 L781.1,773.4 L781.3,773.1 L781.4,772.9 L781.5,772.6 L781.6,772.3 L781.7,772.0 L781.8,771.7 L781.9,771.5 L782.0,771.2 L782.1,770.9 L782.3,770.6 L782.4,770.3 L782.5,770.1 L782.6,769.8 L782.7,769.5 L782.9,769.2 L783.0,769.0 L783.1,768.7 L783.3,768.4 L783.4,768.2 L783.5,767.9 L783.7,767.6 L783.8,767.4 L784.0,767.1 L784.1,766.8 L784.3,766.5 L784.5,766.1 L784.6,765.8 L784.8,765.5 L785.0,765.3 L785.2,765.1 L785.3,765.0 L785.5,765.0 L785.6,765.1 L785.8,765.2 L785.9,765.3 L786.1,765.5 L786.2,765.8 L786.4,766.0 L786.5,766.3 L786.7,766.6 L786.8,767.0 L786.9,767.3 L787.1,767.7 L787.2,768.0 L787.3,768.4 L787.4,768.8 L787.5,769.1 L787.6,769.4 L787.7,769.7 L787.7,770.0 L787.8,770.3 L787.9,770.6 L787.9,770.9 L788.0,771.2 L788.0,771.5 L788.1,771.7 L788.1,772.0 L788.2,772.3 L788.2,772.6 L788.3,772.9 L788.3,773.2 L788.4,773.5 L788.4,773.8 L788.4,774.1 L788.5,774.4 L788.5,774.7 L788.5,775.0 L788.6,775.3 L788.6,775.6 L788.6,775.9 L788.7,776.2 L788.7,776.5 L788.7,776.8 L788.8,777.1 L788.8,777.4 L788.8,777.8 L788.9,778.1 L788.9,778.4 L789.0,778.7 L789.0,778.9 L789.0,779.2 L789.1,779.5 L789.1,779.8 L789.1,780.1 L789.2,780.4 L789.2,780.7 L789.3,781.0 L789.3,781.3 L789.3,781.6 L789.4,781.9 L789.4,782.2 L789.5,782.5 L789.5,782.8 L789.5,783.1 L789.6,783.4 L789.6,783.7 L789.6,784.0 L789.7,784.3 L789.7,784.6 L789.8,784.9 L789.8,785.2 L789.8,785.5 L789.9,785.8 L789.9,786.1 L789.9,786.4 L790.0,786.7 L790.0,787.0" fill="none" stroke="#0000ff" stroke-width="0.6" stroke-linejoin="round" stroke-linecap="butt" />
<path d="M705.10,903.70 L708.00,906.60 L705.10,909.50 L702.20,906.60 Z" fill="#fff" stroke="#0000ff" stroke-width="0.7"/>
<path d="M705.84,902.88 L708.74,905.78 L705.84,908.68 L702.94,905.78 Z" fill="#fff" stroke="#0000ff" stroke-width="0.7"/>
<path d="M706.57,902.07 L709.47,904.97 L706.57,907.87 L703.67,904.97 Z" fill="#fff" stroke="#0000ff" stroke-width="0.7"/>
<path d="M707.31,901.25 L710.21,904.15 L707.31,907.05 L704.41,904.15 Z" fill="#fff" stroke="#0000ff" stroke-width="0.7"/>
<path d="M708.06,900.44 L710.96,903.34 L708.06,906.24 L705.16,903.34 Z" fill="#fff" stroke="#0000ff" stroke-width="0.7"/>
<path d="M708.80,899.63 L711.70,902.53 L708.80,905.43 L705.90,902.53 Z" fill="#fff" stroke="#0000ff" stroke-width="0.7"/>
<path d="M709.55,898.83 L712.45,901.73 L709.55,904.63 L706.65,901.73 Z" fill="#fff" stroke="#0000ff" stroke-width="0.7"/>
<path d="M710.30,898.02 L713.20,900.92 L710.30,903.82 L707.40,900.92 Z" fill="#fff" stroke="#0000ff" stroke-width="0.7"/>
<path d="M711.06,897.22 L713.96,900.12 L711.06,903.02 L708.16,900.12 Z" fill="#fff" stroke="#0000ff" stroke-width="0.7"/>
<path d="M711.82,896.43 L714.72,899.33 L711.82,902.23 L708.92,899.33 Z" fill="#fff" stroke="#0000ff" stroke-width="0.7"/>
<path d="M712.58,895.64 L715.48,898.54 L712.58,901.44 L709.68,898.54 Z" fill="#fff" stroke="#0000ff" stroke-width="0.7"/>
<path d="M713.35,894.85 L716.25,897.75 L713.35,900.65 L710.45,897.75 Z" fill="#fff" stroke="#0000ff" stroke-width="0.7"/>
<path d="M714.11,894.06 L717.01,896.96 L714.11,899.86 L711.21,896.96 Z" fill="#fff" stroke="#0000ff" stroke-width="0.7"/>
<path d="M714.88,893.27 L717.78,896.17 L714.88,899.07 L711.98,896.17 Z" fill="#fff" stroke="#0000ff" stroke-width="0.7"/>
<path d="M715.64,892.48 L718.54,895.38 L715.64,898.28 L712.74,895.38 Z" fill="#fff" stroke="#0000ff" stroke-width="0.7"/>
<path d="M716.40,891.68 L719.30,894.58 L716.40,897.48 L713.50,894.58 Z" fill="#fff" stroke="#0000ff" stroke-width="0.7"/>
<path d="M717.13,890.85 L720.03,893.75 L717.13,896.65 L714.23,893.75 Z" fill="#fff" stroke="#0000ff" stroke-width="0.7"/>
<path d="M717.84,890.02 L720.74,892.92 L717.84,895.82 L714.94,892.92 Z" fill="#fff" stroke="#0000ff" stroke-width="0.7"/>
<path d="M718.55,889.18 L721.45,892.08 L718.55,894.98 L715.65,892.08 Z" fill="#fff" stroke="#0000ff" stroke-width="0.7"/>
<path d="M719.27,888.35 L722.17,891.25 L719.27,894.15 L716.37,891.25 Z" fill="#fff" stroke="#0000ff" stroke-width="0.7"/>
<path d="M720.01,887.53 L722.91,890.43 L720.01,893.33 L717.11,890.43 Z" fill="#fff" stroke="#0000ff" stroke-width="0.7"/>
<path d="M720.78,886.74 L723.68,889.64 L720.78,892.54 L717.88,889.64 Z" fill="#fff" stroke="#0000ff" stroke-width="0.7"/>
<path d="M721.59,886.00 L724.49,888.90 L721.59,891.80 L718.69,888.90 Z" fill="#fff" stroke="#0000ff" stroke-width="0.7"/>
<path d="M722.45,885.32 L725.35,888.22 L722.45,891.12 L719.55,888.22 Z" fill="#fff" stroke="#0000ff" stroke-width="0.7"/>
<path d="M723.38,884.72 L726.28,887.62 L723.38,890.52 L720.48,887.62 Z" fill="#fff" stroke="#0000ff" stroke-width="0.7"/>
<path d="M724.34,884.20 L727.24,887.10 L724.34,890.00 L721.44,887.10 Z" fill="#fff" stroke="#0000ff" stroke-width="0.7"/>
<path d="M725.33,883.71 L728.23,886.61 L725.33,889.51 L722.43,886.61 Z" fill="#fff" stroke="#0000ff" stroke-width="0.7"/>
<path d="M726.32,883.23 L729.22,886.13 L726.32,889.03 L723.42,886.13 Z" fill="#fff" stroke="#0000ff" stroke-width="0.7"/>
<path d="M727.30,882.72 L730.20,885.62 L727.30,888.52 L724.40,885.62 Z" fill="#fff" stroke="#0000ff" stroke-width="0.7"/>
<path d="M728.24,882.16 L731.14,885.06 L728.24,887.96 L725.34,885.06 Z" fill="#fff" stroke="#0000ff" stroke-width="0.7"/>
<path d="M729.12,881.50 L732.02,884.40 L729.12,887.30 L726.22,884.40 Z" fill="#fff" stroke="#0000ff" stroke-width="0.7"/>
<path d="M729.92,880.75 L732.82,883.65 L729.92,886.55 L727.02,883.65 Z" fill="#fff" stroke="#0000ff" stroke-width="0.7"/>
<path d="M730.66,879.93 L733.56,882.83 L730.66,885.73 L727.76,882.83 Z" fill="#fff" stroke="#0000ff" stroke-width="0.7"/>
<path d="M731.35,879.08 L734.25,881.98 L731.35,884.88 L728.45,881.98 Z" fill="#fff" stroke="#0000ff" stroke-width="0.7"/>
<path d="M732.01,878.20 L734.91,881.10 L732.01,884.00 L729.11,881.10 Z" fill="#fff" stroke="#0000ff" stroke-width="0.7"/>
<path d="M732.66,877.31 L735.56,880.21 L732.66,883.11 L729.76,880.21 Z" fill="#fff" stroke="#0000ff" stroke-width="0.7"/>
<path d="M733.30,876.41 L736.20,879.31 L733.30,882.21 L730.40,879.31 Z" fill="#fff" stroke="#0000ff" stroke-width="0.7"/>
<path d="M733.94,875.52 L736.84,878.42 L733.94,881.32 L731.04,878.42 Z" fill="#fff" stroke="#0000ff" stroke-width="0.7"/>
<path d="M734.62,874.65 L737.52,877.55 L734.62,880.45 L731.72,877.55 Z" fill="#fff" stroke="#0000ff" stroke-width="0.7"/>
<path d="M735.30,873.79 L738.20,876.69 L735.30,879.59 L732.40,876.69 Z" fill="#fff" stroke="#0000ff" stroke-width="0.7"/>
<path d="M735.99,872.94 L738.89,875.84 L735.99,878.74 L733.09,875.84 Z" fill="#fff" stroke="#0000ff" stroke-width="0.7"/>
<path d="M736.68,872.08 L739.58,874.98 L736.68,877.88 L733.78,874.98 Z" fill="#fff" stroke="#0000ff" stroke-width="0.7"/>
<path d="M737.37,871.22 L740.27,874.12 L737.37,877.02 L734.47,874.12 Z" fill="#fff" stroke="#0000ff" stroke-width="0.7"/>
<path d="M738.05,870.36 L740.95,873.26 L738.05,876.16 L735.15,873.26 Z" fill="#fff" stroke="#0000ff" stroke-width="0.7"/>
<path d="M738.73,869.49 L741.63,872.39 L738.73,875.29 L735.83,872.39 Z" fill="#fff" stroke="#0000ff" stroke-width="0.7"/>
<path d="M739.39,868.61 L742.29,871.51 L739.39,874.41 L736.49,871.51 Z" fill="#fff" stroke="#0000ff" stroke-width="0.7"/>
<path d="M740.04,867.73 L742.94,870.63 L740.04,873.53 L737.14,870.63 Z" fill="#fff" stroke="#0000ff" stroke-width="0.7"/>
<path d="M740.68,866.83 L743.58,869.73 L740.68,872.63 L737.78,869.73 Z" fill="#fff" stroke="#0000ff" stroke-width="0.7"/>
<path d="M741.30,865.92 L744.20,868.82 L741.30,871.72 L738.40,868.82 Z" fill="#fff" stroke="#0000ff" stroke-width="0.7"/>
<path d="M741.92,865.01 L744.82,867.91 L741.92,870.81 L739.02,867.91 Z" fill="#fff" stroke="#0000ff" stroke-width="0.7"/>
<path d="M742.52,864.09 L745.42,866.99 L742.52,869.89 L739.62,866.99 Z" fill="#fff" stroke="#0000ff" stroke-width="0.7"/>
<path d="M743.12,863.17 L746.02,866.07 L743.12,868.97 L740.22,866.07 Z" fill="#fff" stroke="#0000ff" stroke-width="0.7"/>
<path d="M743.71,862.24 L746.61,865.14 L743.71,868.04 L740.81,865.14 Z" fill="#fff" stroke="#0000ff" stroke-width="0.7"/>
<path d="M744.29,861.30 L747.19,864.20 L744.29,867.10 L741.39,864.20 Z" fill="#fff" stroke="#0000ff" stroke-width="0.7"/>
<path d="M744.86,860.37 L747.76,863.27 L744.86,866.17 L741.96,863.27 Z" fill="#fff" stroke="#0000ff" stroke-width="0.7"/>
<path d="M745.43,859.43 L748.33,862.33 L745.43,865.23 L742.53,862.33 Z" fill="#fff" stroke="#0000ff" stroke-width="0.7"/>
<path d="M745.99,858.48 L748.89,861.38 L745.99,864.28 L743.09,861.38 Z" fill="#fff" stroke="#0000ff" stroke-width="0.7"/>
<path d="M746.55,857.53 L749.45,860.43 L746.55,863.33 L743.65,860.43 Z" fill="#fff" stroke="#0000ff" stroke-width="0.7"/>
<path d="M747.10,856.58 L750.00,859.48 L747.10,862.38 L744.20,859.48 Z" fill="#fff" stroke="#0000ff" stroke-width="0.7"/>
<path d="M747.65,855.63 L750.55,858.53 L747.65,861.43 L744.75,858.53 Z" fill="#fff" stroke="#0000ff" stroke-width="0.7"/>
<path d="M748.20,854.67 L751.10,857.57 L748.20,860.47 L745.30,857.57 Z" fill="#fff" stroke="#0000ff" stroke-width="0.7"/>
<path d="M748.74,853.71 L751.64,856.61 L748.74,859.51 L745.84,856.61 Z" fill="#fff" stroke="#0000ff" stroke-width="0.7"/>
<path d="M749.27,852.75 L752.17,855.65 L749.27,858.55 L746.37,855.65 Z" fill="#fff" stroke="#0000ff" stroke-width="0.7"/>
<path d="M749.79,851.78 L752.69,854.68 L749.79,857.58 L746.89,854.68 Z" fill="#fff" stroke="#0000ff" stroke-width="0.7"/>
<path d="M750.31,850.81 L753.21,853.71 L750.31,856.61 L747.41,853.71 Z" fill="#fff" stroke="#0000ff" stroke-width="0.7"/>
<path d="M750.82,849.84 L753.72,852.74 L750.82,855.64 L747.92,852.74 Z" fill="#fff" stroke="#0000ff" stroke-width="0.7"/>
<path d="M751.32,848.86 L754.22,851.76 L751.32,854.66 L748.42,851.76 Z" fill="#fff" stroke="#0000ff" stroke-width="0.7"/>
<path d="M751.82,847.88 L754.72,850.78 L751.82,853.68 L748.92,850.78 Z" fill="#fff" stroke="#0000ff" stroke-width="0.7"/>
<path d="M752.32,846.90 L755.22,849.80 L752.32,852.70 L749.42,849.80 Z" fill="#fff" stroke="#0000ff" stroke-width="0.7"/>
<path d="M752.81,845.91 L755.71,848.81 L752.81,851.71 L749.91,848.81 Z" fill="#fff" stroke="#0000ff" stroke-width="0.7"/>
<path d="M753.31,844.93 L756.21,847.83 L753.31,850.73 L750.41,847.83 Z" fill="#fff" stroke="#0000ff" stroke-width="0.7"/>
<path d="M753.81,843.95 L756.71,846.85 L753.81,849.75 L750.91,846.85 Z" fill="#fff" stroke="#0000ff" stroke-width="0.7"/>
<path d="M754.31,842.97 L757.21,845.87 L754.31,848.77 L751.41,845.87 Z" fill="#fff" stroke="#0000ff" stroke-width="0.7"/>
<path d="M754.81,842.00 L757.71,844.90 L754.81,847.80 L751.91,844.90 Z" fill="#fff" stroke="#0000ff" stroke-width="0.7"/>
<path d="M755.33,841.02 L758.23,843.92 L755.33,846.82 L752.43,843.92 Z" fill="#fff" stroke="#0000ff" stroke-width="0.7"/>
<path d="M755.84,840.05 L758.74,842.95 L755.84,845.85 L752.94,842.95 Z" fill="#fff" stroke="#0000ff" stroke-width="0.7"/>
<path d="M756.36,839.08 L759.26,841.98 L756.36,844.88 L753.46,841.98 Z" fill="#fff" stroke="#0000ff" stroke-width="0.7"/>
<path d="M756.88,838.11 L759.78,841.01 L756.88,843.91 L753.98,841.01 Z" fill="#fff" stroke="#0000ff" stroke-width="0.7"/>
<path d="M757.39,837.14 L760.29,840.04 L757.39,842.94 L754.49,840.04 Z" fill="#fff" stroke="#0000ff" stroke-width="0.7"/>
<path d="M757.91,836.17 L760.81,839.07 L757.91,841.97 L755.01,839.07 Z" fill="#fff" stroke="#0000ff" stroke-width="0.7"/>
<path d="M758.42,835.19 L761.32,838.09 L758.42,840.99 L755.52,838.09 Z" fill="#fff" stroke="#0000ff" stroke-width="0.7"/>
<path d="M758.92,834.21 L761.82,837.11 L758.92,840.01 L756.02,837.11 Z" fill="#fff" stroke="#0000ff" stroke-width="0.7"/>
<path d="M759.41,833.23 L762.31,836.13 L759.41,839.03 L756.51,836.13 Z" fill="#fff" stroke="#0000ff" stroke-width="0.7"/>
<path d="M759.90,832.24 L762.80,835.14 L759.90,838.04 L757.00,835.14 Z" fill="#fff" stroke="#0000ff" stroke-width="0.7"/>
<path d="M760.37,831.25 L763.27,834.15 L760.37,837.05 L757.47,834.15 Z" fill="#fff" stroke="#0000ff" stroke-width="0.7"/>
<path d="M761.05,829.80 L763.95,832.70 L761.05,835.60 L758.15,832.70 Z" fill="#fff" stroke="#0000ff" stroke-width="0.7"/>
<path d="M761.72,828.35 L764.62,831.25 L761.72,834.15 L758.82,831.25 Z" fill="#fff" stroke="#0000ff" stroke-width="0.7"/>
<path d="M762.39,826.89 L765.29,829.79 L762.39,832.69 L759.49,829.79 Z" fill="#fff" stroke="#0000ff" stroke-width="0.7"/>
<path d="M763.04,825.43 L765.94,828.33 L763.04,831.23 L760.14,828.33 Z" fill="#fff" stroke="#0000ff" stroke-width="0.7"/>
<path d="M763.69,823.97 L766.59,826.87 L763.69,829.77 L760.79,826.87 Z" fill="#fff" stroke="#0000ff" stroke-width="0.7"/>
<path d="M764.32,822.50 L767.22,825.40 L764.32,828.30 L761.42,825.40 Z" fill="#fff" stroke="#0000ff" stroke-width="0.7"/>
<path d="M764.93,821.02 L767.83,823.92 L764.93,826.82 L762.03,823.92 Z" fill="#fff" stroke="#0000ff" stroke-width="0.7"/>
<path d="M765.52,819.53 L768.42,822.43 L765.52,825.33 L762.62,822.43 Z" fill="#fff" stroke="#0000ff" stroke-width="0.7"/>
<path d="M766.08,818.04 L768.98,820.94 L766.08,823.84 L763.18,820.94 Z" fill="#fff" stroke="#0000ff" stroke-width="0.7"/>
<path d="M766.62,816.53 L769.52,819.43 L766.62,822.33 L763.72,819.43 Z" fill="#fff" stroke="#0000ff" stroke-width="0.7"/>
<path d="M767.14,815.01 L770.04,817.91 L767.14,820.81 L764.24,817.91 Z" fill="#fff" stroke="#0000ff" stroke-width="0.7"/>
<path d="M767.62,813.49 L770.52,816.39 L767.62,819.29 L764.72,816.39 Z" fill="#fff" stroke="#0000ff" stroke-width="0.7"/>
<path d="M768.08,811.96 L770.98,814.86 L768.08,817.76 L765.18,814.86 Z" fill="#fff" stroke="#0000ff" stroke-width="0.7"/>
<path d="M768.53,810.42 L771.43,813.32 L768.53,816.22 L765.63,813.32 Z" fill="#fff" stroke="#0000ff" stroke-width="0.7"/>
<path d="M768.96,808.88 L771.86,811.78 L768.96,814.68 L766.06,811.78 Z" fill="#fff" stroke="#0000ff" stroke-width="0.7"/>
<path d="M769.39,807.34 L772.29,810.24 L769.39,813.14 L766.49,810.24 Z" fill="#fff" stroke="#0000ff" stroke-width="0.7"/>
<path d="M769.81,805.79 L772.71,808.69 L769.81,811.59 L766.91,808.69 Z" fill="#fff" stroke="#0000ff" stroke-width="0.7"/>
<path d="M770.24,804.25 L773.14,807.15 L770.24,810.05 L767.34,807.15 Z" fill="#fff" stroke="#0000ff" stroke-width="0.7"/>
<path d="M770.68,802.71 L773.58,805.61 L770.68,808.51 L767.78,805.61 Z" fill="#fff" stroke="#0000ff" stroke-width="0.7"/>
<path d="M771.13,801.18 L774.03,804.08 L771.13,806.98 L768.23,804.08 Z" fill="#fff" stroke="#0000ff" stroke-width="0.7"/>
<path d="M771.59,799.65 L774.49,802.55 L771.59,805.45 L768.69,802.55 Z" fill="#fff" stroke="#0000ff" stroke-width="0.7"/>
<path d="M772.06,798.12 L774.96,801.02 L772.06,803.92 L769.16,801.02 Z" fill="#fff" stroke="#0000ff" stroke-width="0.7"/>
<path d="M772.54,796.59 L775.44,799.49 L772.54,802.39 L769.64,799.49 Z" fill="#fff" stroke="#0000ff" stroke-width="0.7"/>
<path d="M773.01,795.06 L775.91,797.96 L773.01,800.86 L770.11,797.96 Z" fill="#fff" stroke="#0000ff" stroke-width="0.7"/>
<path d="M773.49,793.54 L776.39,796.44 L773.49,799.34 L770.59,796.44 Z" fill="#fff" stroke="#0000ff" stroke-width="0.7"/>
<path d="M773.98,792.01 L776.88,794.91 L773.98,797.81 L771.08,794.91 Z" fill="#fff" stroke="#0000ff" stroke-width="0.7"/>
<path d="M774.46,790.49 L777.36,793.39 L774.46,796.29 L771.56,793.39 Z" fill="#fff" stroke="#0000ff" stroke-width="0.7"/>
<path d="M774.95,788.96 L777.85,791.86 L774.95,794.76 L772.05,791.86 Z" fill="#fff" stroke="#0000ff" stroke-width="0.7"/>
<path d="M775.44,787.44 L778.34,790.34 L775.44,793.24 L772.54,790.34 Z" fill="#fff" stroke="#0000ff" stroke-width="0.7"/>
<path d="M775.93,785.92 L778.83,788.82 L775.93,791.72 L773.03,788.82 Z" fill="#fff" stroke="#0000ff" stroke-width="0.7"/>
<path d="M776.42,784.39 L779.32,787.29 L776.42,790.19 L773.52,787.29 Z" fill="#fff" stroke="#0000ff" stroke-width="0.7"/>
<path d="M776.90,782.87 L779.80,785.77 L776.90,788.67 L774.00,785.77 Z" fill="#fff" stroke="#0000ff" stroke-width="0.7"/>
<path d="M777.39,781.34 L780.29,784.24 L777.39,787.14 L774.49,784.24 Z" fill="#fff" stroke="#0000ff" stroke-width="0.7"/>
<path d="M777.88,779.82 L780.78,782.72 L777.88,785.62 L774.98,782.72 Z" fill="#fff" stroke="#0000ff" stroke-width="0.7"/>
<path d="M778.37,778.30 L781.27,781.20 L778.37,784.10 L775.47,781.20 Z" fill="#fff" stroke="#0000ff" stroke-width="0.7"/>
<path d="M778.88,776.78 L781.78,779.68 L778.88,782.58 L775.98,779.68 Z" fill="#fff" stroke="#0000ff" stroke-width="0.7"/>
<path d="M779.21,775.84 L782.11,778.74 L779.21,781.64 L776.31,778.74 Z" fill="#fff" stroke="#0000ff" stroke-width="0.7"/>
<path d="M779.54,774.89 L782.44,777.79 L779.54,780.69 L776.64,777.79 Z" fill="#fff" stroke="#0000ff" stroke-width="0.7"/>
<path d="M779.88,773.95 L782.78,776.85 L779.88,779.75 L776.98,776.85 Z" fill="#fff" stroke="#0000ff" stroke-width="0.7"/>
<path d="M780.23,773.02 L783.13,775.92 L780.23,778.82 L777.33,775.92 Z" fill="#fff" stroke="#0000ff" stroke-width="0.7"/>
<path d="M780.57,772.08 L783.47,774.98 L780.57,777.88 L777.67,774.98 Z" fill="#fff" stroke="#0000ff" stroke-width="0.7"/>
<path d="M780.92,771.14 L783.82,774.04 L780.92,776.94 L778.02,774.04 Z" fill="#fff" stroke="#0000ff" stroke-width="0.7"/>
<path d="M781.27,770.20 L784.17,773.10 L781.27,776.00 L778.37,773.10 Z" fill="#fff" stroke="#0000ff" stroke-width="0.7"/>
<path d="M781.63,769.27 L784.53,772.17 L781.63,775.07 L778.73,772.17 Z" fill="#fff" stroke="#0000ff" stroke-width="0.7"/>
<path d="M782.00,768.34 L784.90,771.24 L782.00,774.14 L779.10,771.24 Z" fill="#fff" stroke="#0000ff" stroke-width="0.7"/>
<path d="M782.39,767.42 L785.29,770.32 L782.39,773.22 L779.49,770.32 Z" fill="#fff" stroke="#0000ff" stroke-width="0.7"/>
<path d="M782.80,766.51 L785.70,769.41 L782.80,772.31 L779.90,769.41 Z" fill="#fff" stroke="#0000ff" stroke-width="0.7"/>
<path d="M783.23,765.61 L786.13,768.51 L783.23,771.41 L780.33,768.51 Z" fill="#fff" stroke="#0000ff" stroke-width="0.7"/>
<path d="M783.69,764.71 L786.59,767.61 L783.69,770.51 L780.79,767.61 Z" fill="#fff" stroke="#0000ff" stroke-width="0.7"/>
<path d="M784.15,763.83 L787.05,766.73 L784.15,769.63 L781.25,766.73 Z" fill="#fff" stroke="#0000ff" stroke-width="0.7"/>
<path d="M784.62,762.95 L787.52,765.85 L784.62,768.75 L781.72,765.85 Z" fill="#fff" stroke="#0000ff" stroke-width="0.7"/>
<path d="M785.23,762.17 L788.13,765.07 L785.23,767.97 L782.33,765.07 Z" fill="#fff" stroke="#0000ff" stroke-width="0.7"/>
<path d="M786.04,762.57 L788.94,765.47 L786.04,768.37 L783.14,765.47 Z" fill="#fff" stroke="#0000ff" stroke-width="0.7"/>
<path d="M786.53,763.43 L789.43,766.33 L786.53,769.23 L783.63,766.33 Z" fill="#fff" stroke="#0000ff" stroke-width="0.7"/>
<path d="M786.92,764.36 L789.82,767.26 L786.92,770.16 L784.02,767.26 Z" fill="#fff" stroke="#0000ff" stroke-width="0.7"/>
<path d="M787.25,765.30 L790.15,768.20 L787.25,771.10 L784.35,768.20 Z" fill="#fff" stroke="#0000ff" stroke-width="0.7"/>
<path d="M787.54,766.26 L790.44,769.16 L787.54,772.06 L784.64,769.16 Z" fill="#fff" stroke="#0000ff" stroke-width="0.7"/>
<path d="M787.77,767.23 L790.67,770.13 L787.77,773.03 L784.87,770.13 Z" fill="#fff" stroke="#0000ff" stroke-width="0.7"/>
<path d="M787.97,768.21 L790.87,771.11 L787.97,774.01 L785.07,771.11 Z" fill="#fff" stroke="#0000ff" stroke-width="0.7"/>
<path d="M788.15,769.19 L791.05,772.09 L788.15,774.99 L785.25,772.09 Z" fill="#fff" stroke="#0000ff" stroke-width="0.7"/>
<path d="M788.29,770.18 L791.19,773.08 L788.29,775.98 L785.39,773.08 Z" fill="#fff" stroke="#0000ff" stroke-width="0.7"/>
<path d="M788.42,771.18 L791.32,774.08 L788.42,776.98 L785.52,774.08 Z" fill="#fff" stroke="#0000ff" stroke-width="0.7"/>
<path d="M788.54,772.17 L791.44,775.07 L788.54,777.97 L785.64,775.07 Z" fill="#fff" stroke="#0000ff" stroke-width="0.7"/>
<path d="M788.65,773.16 L791.55,776.06 L788.65,778.96 L785.75,776.06 Z" fill="#fff" stroke="#0000ff" stroke-width="0.7"/>
<path d="M788.76,774.16 L791.66,777.06 L788.76,779.96 L785.86,777.06 Z" fill="#fff" stroke="#0000ff" stroke-width="0.7"/>
<path d="M788.88,775.15 L791.78,778.05 L788.88,780.95 L785.98,778.05 Z" fill="#fff" stroke="#0000ff" stroke-width="0.7"/>
<path d="M789.01,776.14 L791.91,779.04 L789.01,781.94 L786.11,779.04 Z" fill="#fff" stroke="#0000ff" stroke-width="0.7"/>
<path d="M789.14,777.13 L792.04,780.03 L789.14,782.93 L786.24,780.03 Z" fill="#fff" stroke="#0000ff" stroke-width="0.7"/>
<path d="M789.34,778.72 L792.24,781.62 L789.34,784.52 L786.44,781.62 Z" fill="#fff" stroke="#0000ff" stroke-width="0.7"/>
<path d="M789.54,780.31 L792.44,783.21 L789.54,786.11 L786.64,783.21 Z" fill="#fff" stroke="#0000ff" stroke-width="0.7"/>
<path d="M789.74,781.89 L792.64,784.79 L789.74,787.69 L786.84,784.79 Z" fill="#fff" stroke="#0000ff" stroke-width="0.7"/>
<path d="M789.93,783.48 L792.83,786.38 L789.93,789.28 L787.03,786.38 Z" fill="#fff" stroke="#0000ff" stroke-width="0.7"/>
<path d="M704.8,883.8 L704.9,883.5 L705.1,883.3 L705.2,883.0 L705.3,882.7 L705.4,882.4 L705.6,882.2 L705.7,881.9 L705.8,881.6 L705.9,881.3 L706.1,881.1 L706.2,880.8 L706.3,880.5 L706.4,880.3 L706.6,880.0 L706.7,879.7 L706.8,879.4 L706.9,879.2 L707.1,878.9 L707.2,878.6 L707.3,878.3 L707.4,878.1 L707.6,877.8 L707.7,877.5 L707.8,877.3 L707.9,877.0 L708.1,876.7 L708.2,876.4 L708.3,876.2 L708.4,875.9 L708.6,875.6 L708.7,875.3 L708.8,875.1 L708.9,874.8 L709.1,874.5 L709.2,874.2 L709.3,874.0 L709.4,873.7 L709.6,873.4 L709.7,873.1 L709.8,872.9 L709.9,872.6 L710.1,872.3 L710.2,872.0 L710.3,871.8 L710.4,871.5 L710.6,871.2 L710.7,871.0 L710.8,870.7 L710.9,870.4 L711.0,870.1 L711.2,869.9 L711.3,869.6 L711.4,869.3 L711.5,869.0 L711.7,868.8 L711.8,868.5 L711.9,868.2 L712.0,867.9 L712.1,867.7 L712.3,867.4 L712.4,867.1 L712.5,866.8 L712.6,866.6 L712.7,866.3 L712.9,866.0 L713.0,865.7 L713.1,865.5 L713.2,865.2 L713.3,864.9 L713.5,864.6 L713.6,864.3 L713.7,864.1 L713.8,863.8 L713.9,863.5 L714.1,863.2 L714.2,863.0 L714.3,862.7 L714.4,862.4 L714.5,862.1 L714.7,861.9 L714.8,861.6 L714.9,861.3 L715.0,861.0 L715.1,860.8 L715.3,860.5 L715.4,860.2 L715.5,859.9 L715.6,859.7 L715.7,859.4 L715.9,859.1 L716.0,858.8 L716.1,858.6 L716.2,858.3 L716.4,858.0 L716.5,857.7 L716.6,857.5 L716.7,857.2 L716.8,856.9 L717.0,856.6 L717.1,856.4 L717.2,856.1 L717.3,855.8 L717.5,855.6 L717.6,855.3 L717.7,855.0 L717.8,854.7 L718.0,854.5 L718.1,854.2 L718.2,853.9 L718.3,853.6 L718.5,853.4 L718.6,853.1 L718.7,852.8 L718.8,852.5 L719.0,852.3 L719.1,852.0 L719.2,851.7 L719.3,851.4 L719.5,851.2 L719.6,850.9 L719.7,850.6 L719.8,850.3 L720.0,850.1 L720.1,849.8 L720.2,849.5 L720.3,849.3 L720.5,849.0 L720.6,848.7 L720.7,848.4 L720.9,848.2 L721.0,847.9 L721.1,847.6 L721.2,847.4 L721.4,847.1 L721.5,846.8 L721.6,846.5 L721.8,846.3 L721.9,846.0 L722.0,845.7 L722.2,845.5 L722.3,845.2 L722.4,844.9 L722.6,844.7 L722.7,844.4 L722.8,844.1 L723.0,843.9 L723.1,843.6 L723.3,843.3 L723.4,843.1 L723.5,842.8 L723.7,842.5 L723.8,842.3 L724.0,842.0 L724.1,841.7 L724.3,841.5 L724.4,841.2 L724.6,841.0 L724.7,840.7 L724.8,840.4 L725.0,840.2 L725.1,839.9 L725.3,839.6 L725.4,839.4 L725.6,839.1 L725.7,838.9 L725.9,838.6 L726.0,838.3 L726.2,838.1 L726.3,837.8 L726.5,837.5 L726.6,837.3 L726.8,837.0 L726.9,836.8 L727.1,836.5 L727.2,836.2 L727.4,836.0 L727.5,835.7 L727.6,835.4 L727.8,835.2 L727.9,834.9 L728.1,834.7 L728.2,834.4 L728.4,834.1 L728.5,833.9 L728.6,833.6 L728.8,833.3 L728.9,833.1 L729.1,832.8 L729.2,832.5 L729.4,832.3 L729.5,832.0 L729.6,831.7 L729.8,831.5 L729.9,831.2 L730.1,830.9 L730.2,830.7 L730.3,830.4 L730.5,830.2 L730.6,829.9 L730.8,829.6 L730.9,829.4 L731.1,829.1 L731.2,828.8 L731.3,828.6 L731.5,828.3 L731.6,828.0 L731.8,827.8 L731.9,827.5 L732.0,827.2 L732.2,827.0 L732.3,826.7 L732.5,826.4 L732.6,826.2 L732.7,825.9 L732.9,825.6 L733.0,825.4 L733.1,825.1 L733.3,824.8 L733.4,824.6 L733.5,824.3 L733.7,824.0 L733.8,823.7 L733.9,823.5 L734.1,823.2 L734.2,822.9 L734.3,822.7 L734.5,822.4 L734.6,822.1 L734.7,821.9 L734.9,821.6 L735.0,821.3 L735.1,821.0 L735.2,820.8 L735.4,820.5 L735.5,820.2 L735.6,819.9 L735.7,819.7 L735.9,819.4 L736.0,819.1 L736.1,818.9 L736.2,818.6 L736.4,818.3 L736.5,818.0 L736.6,817.8 L736.7,817.5 L736.8,817.2 L737.0,816.9 L737.1,816.6 L737.2,816.4 L737.3,816.1 L737.4,815.8 L737.5,815.5 L737.7,815.3 L737.8,815.0 L737.9,814.7 L738.0,814.4 L738.1,814.1 L738.2,813.9 L738.3,813.6 L738.5,813.3 L738.6,813.0 L738.7,812.8 L738.8,812.5 L738.9,812.2 L739.0,811.9 L739.1,811.6 L739.2,811.4 L739.3,811.1 L739.4,810.8 L739.6,810.5 L739.7,810.2 L739.8,810.0 L739.9,809.7 L740.0,809.4 L740.1,809.1 L740.2,808.8 L740.3,808.6 L740.4,808.3 L740.5,808.0 L740.6,807.7 L740.7,807.4 L740.8,807.1 L740.9,806.9 L741.0,806.6 L741.1,806.3 L741.2,806.0 L741.3,805.7 L741.4,805.4 L741.5,805.2 L741.6,804.9 L741.7,804.6 L741.8,804.3 L741.9,804.0 L742.0,803.8 L742.1,803.5 L742.2,803.2 L742.3,802.9 L742.4,802.6 L742.5,802.3 L742.6,802.0 L742.7,801.8 L742.8,801.5 L742.9,801.2 L743.0,800.9 L743.1,800.6 L743.2,800.3 L743.3,800.1 L743.4,799.8 L743.5,799.5 L743.6,799.2 L743.7,798.9 L743.8,798.6 L743.9,798.4 L744.0,798.1 L744.1,797.8 L744.2,797.5 L744.3,797.2 L744.4,796.9 L744.5,796.6 L744.6,796.4 L744.7,796.1 L744.8,795.8 L744.9,795.5 L745.0,795.2 L745.1,794.9 L745.2,794.7 L745.3,794.4 L745.4,794.1 L745.5,793.8 L745.6,793.5 L745.6,793.2 L745.7,792.9 L745.8,792.6 L745.9,792.4 L746.0,792.1 L746.1,791.8 L746.2,791.5 L746.3,791.2 L746.3,790.9 L746.4,790.6 L746.5,790.3 L746.6,790.0 L746.7,789.7 L746.8,789.4 L746.8,789.2 L746.9,788.9 L747.0,788.6 L747.1,788.3 L747.2,788.0 L747.3,787.7 L747.3,787.4 L747.4,787.1 L747.5,786.8 L747.6,786.5 L747.7,786.2 L747.8,785.9 L747.8,785.7 L747.9,785.4 L748.0,785.1 L748.1,784.8 L748.2,784.5 L748.3,784.2 L748.3,783.9 L748.4,783.6 L748.5,783.3 L748.6,783.0 L748.7,782.8 L748.8,782.5 L748.9,782.2 L749.0,781.9 L749.0,781.6 L749.1,781.3 L749.2,781.0 L749.3,780.7 L749.4,780.5 L749.5,780.2 L749.6,779.9 L749.7,779.6 L749.8,779.3 L749.9,779.0 L750.0,778.8 L750.1,778.5 L750.2,778.2 L750.3,777.9 L750.4,777.7 L750.5,777.4 L750.6,777.1 L750.7,776.8 L750.8,776.5 L751.0,776.3 L751.1,776.0 L751.2,775.7 L751.3,775.5 L751.4,775.2 L751.5,774.9 L751.7,774.6 L751.8,774.4 L751.9,774.1 L752.0,773.8 L752.2,773.5 L752.3,773.2 L752.4,772.9 L752.6,772.6 L752.7,772.3 L752.8,772.1 L753.0,771.8 L753.1,771.5 L753.3,771.2 L753.5,771.0 L753.6,770.7 L753.8,770.5 L754.0,770.3 L754.2,770.0 L754.3,769.8 L754.5,769.6 L754.7,769.5 L755.0,769.3 L755.2,769.1 L755.5,768.9 L755.8,768.8 L756.1,768.7 L756.3,768.6 L756.5,768.6 L756.7,768.7 L756.9,768.9 L757.1,769.1 L757.3,769.4 L757.4,769.7 L757.6,770.1 L757.7,770.4 L757.8,770.8 L757.9,771.1 L758.0,771.4 L758.0,771.7 L758.1,772.0 L758.1,772.3 L758.2,772.6 L758.2,772.8 L758.3,773.1 L758.3,773.4 L758.3,773.7 L758.4,774.0 L758.4,774.3 L758.4,774.6 L758.5,774.9 L758.5,775.2 L758.5,775.5 L758.5,775.8 L758.6,776.1 L758.6,776.4 L758.6,776.7 L758.6,777.1 L758.6,777.4 L758.7,777.7 L758.7,778.0 L758.7,778.3 L758.7,778.6 L758.7,778.9 L758.7,779.2 L758.8,779.5 L758.8,779.8 L758.8,780.1 L758.8,780.4 L758.8,780.7 L758.9,781.0 L758.9,781.3 L758.9,781.6 L758.9,781.9 L758.9,782.2 L758.9,782.5 L759.0,782.8 L759.0,783.1 L759.0,783.4 L759.0,783.7 L759.0,784.0 L759.0,784.3 L759.0,784.6 L759.0,784.9 L759.1,785.2 L759.1,785.5 L759.1,785.8 L759.1,786.1 L759.1,786.4 L759.1,786.7 L759.1,787.0 L759.1,787.3 L759.2,787.6 L759.2,787.9 L759.2,788.2 L759.2,788.5 L759.2,788.8 L759.2,789.1 L759.3,789.4 L759.3,789.7 L759.3,790.0 L759.3,790.3 L759.3,790.6 L759.4,790.9 L759.4,791.2 L759.4,791.5 L759.4,791.8 L759.5,792.1 L759.5,792.4 L759.5,792.7 L759.5,793.0 L759.6,793.3 L759.6,793.6 L759.6,793.9 L759.7,794.2 L759.7,794.5 L759.7,794.8 L759.8,795.1 L759.8,795.4 L759.8,795.7 L759.9,796.0 L759.9,796.3 L759.9,796.6 L760.0,796.9 L760.0,797.2 L760.0,797.5 L760.1,797.8 L760.1,798.1 L760.1,798.4 L760.2,798.7 L760.2,799.0 L760.3,799.3 L760.3,799.6 L760.3,799.9 L760.4,800.2 L760.4,800.5 L760.5,800.8 L760.5,801.1 L760.5,801.4 L760.6,801.7 L760.6,802.0 L760.7,802.3 L760.7,802.6 L760.7,802.8 L760.8,803.1 L760.8,803.4 L760.9,803.7 L760.9,804.0 L761.0,804.3 L761.0,804.6 L761.1,804.9 L761.1,805.2 L761.2,805.5 L761.2,805.8 L761.3,806.1 L761.3,806.4 L761.4,806.7 L761.4,807.0 L761.5,807.3 L761.5,807.6 L761.6,807.9 L761.6,808.2 L761.7,808.5 L761.7,808.8 L761.8,809.1 L761.8,809.4 L761.9,809.7 L761.9,810.0 L761.9,810.3 L762.0,810.6 L762.0,810.9 L762.0,811.2 L762.1,811.5 L762.1,811.8 L762.1,812.1 L762.2,812.4 L762.2,812.7 L762.2,813.0 L762.3,813.3 L762.3,813.6 L762.3,813.9 L762.4,814.2 L762.4,814.4 L762.4,814.7 L762.4,815.0 L762.5,815.3 L762.5,815.6 L762.5,815.9 L762.5,816.2 L762.6,816.5 L762.6,816.8 L762.6,817.1 L762.7,817.4 L762.7,817.7 L762.7,818.0 L762.7,818.3 L762.8,818.6 L762.8,818.9 L762.8,819.2 L762.8,819.5 L762.9,819.8 L762.9,820.1 L762.9,820.4 L762.9,820.7 L763.0,821.0 L763.0,821.3 L763.0,821.6 L763.1,821.9 L763.1,822.2 L763.1,822.5 L763.2,822.8 L763.2,823.1 L763.2,823.4 L763.3,823.7 L763.3,824.0 L763.3,824.3 L763.4,824.6 L763.4,824.9 L763.4,825.2 L763.5,825.5 L763.5,825.8 L763.6,826.1 L763.6,826.4 L763.6,826.7 L763.7,827.0 L763.7,827.3 L763.8,827.6 L763.8,827.9 L763.9,828.2 L763.9,828.5 L764.0,828.8 L764.0,829.1 L764.1,829.4 L764.1,829.7 L764.2,830.0 L764.2,830.3 L764.3,830.6 L764.4,830.8 L764.4,831.1 L764.5,831.4 L764.5,831.7 L764.6,832.0 L764.6,832.3 L764.7,832.6 L764.8,832.9 L764.8,833.2 L764.9,833.5 L764.9,833.8 L765.0,834.1 L765.1,834.4 L765.1,834.7 L765.2,835.0 L765.3,835.3 L765.3,835.6 L765.4,835.9 L765.5,836.2 L765.5,836.4 L765.6,836.7 L765.6,837.0 L765.7,837.3 L765.8,837.6 L765.8,837.9 L765.9,838.2 L766.0,838.5 L766.0,838.8 L766.1,839.1 L766.2,839.4 L766.2,839.7 L766.3,840.0 L766.4,840.3 L766.4,840.6 L766.5,840.9 L766.6,841.1 L766.6,841.4 L766.7,841.7 L766.8,842.0 L766.8,842.3 L766.9,842.6 L767.0,842.9 L767.0,843.2 L767.1,843.5 L767.2,843.8 L767.2,844.1 L767.3,844.4 L767.4,844.7 L767.4,845.0 L767.5,845.3 L767.6,845.5 L767.6,845.8 L767.7,846.1 L767.8,846.4 L767.8,846.7 L767.9,847.0 L768.0,847.3 L768.0,847.6 L768.1,847.9 L768.2,848.2 L768.3,848.5 L768.3,848.8 L768.4,849.1 L768.5,849.4 L768.5,849.6 L768.6,849.9 L768.7,850.2 L768.8,850.5 L768.8,850.8 L768.9,851.1 L769.0,851.4 L769.1,851.7 L769.2,852.0 L769.2,852.3 L769.3,852.5 L769.4,852.8 L769.5,853.1 L769.6,853.4 L769.6,853.7 L769.7,854.0 L769.8,854.3 L769.9,854.6 L770.0,854.9 L770.1,855.1 L770.2,855.4 L770.2,855.7 L770.3,856.0 L770.4,856.3 L770.5,856.6 L770.6,856.9 L770.7,857.2 L770.8,857.4 L770.9,857.7 L771.0,858.0 L771.1,858.3 L771.2,858.6 L771.3,858.9 L771.4,859.2 L771.5,859.4 L771.6,859.7 L771.7,860.0 L771.8,860.3 L771.9,860.6 L772.0,860.9 L772.1,861.1 L772.2,861.4 L772.3,861.7 L772.4,862.0 L772.5,862.3 L772.6,862.5 L772.8,862.8 L772.9,863.1 L773.0,863.4 L773.1,863.7 L773.2,863.9 L773.3,864.2 L773.5,864.5 L773.6,864.7 L773.7,865.0 L773.8,865.3 L773.9,865.6 L774.1,865.8 L774.2,866.1 L774.3,866.4 L774.5,866.6 L774.6,866.9 L774.8,867.2 L774.9,867.4 L775.0,867.7 L775.2,867.9 L775.3,868.2 L775.5,868.5 L775.6,868.7 L775.8,869.0 L775.9,869.3 L776.1,869.5 L776.3,869.8 L776.4,870.0 L776.6,870.3 L776.7,870.5 L776.9,870.8 L777.1,871.1 L777.2,871.3 L777.4,871.6 L777.5,871.8 L777.7,872.1 L777.9,872.3 L778.0,872.6 L778.2,872.8 L778.4,873.1 L778.5,873.3 L778.7,873.6 L778.9,873.8 L779.0,874.1 L779.2,874.3 L779.4,874.6 L779.5,874.8 L779.7,875.1 L779.9,875.3 L780.0,875.6 L780.2,875.8 L780.4,876.1 L780.6,876.3 L780.7,876.6 L780.9,876.8 L781.1,877.0 L781.3,877.3 L781.5,877.5 L781.6,877.8 L781.8,878.0 L782.0,878.2 L782.2,878.5 L782.4,878.7 L782.6,878.9 L782.8,879.2 L782.9,879.4 L783.1,879.7 L783.3,879.9 L783.5,880.1 L783.7,880.4 L783.9,880.6 L784.1,880.8 L784.3,881.1 L784.4,881.3 L784.6,881.5 L784.8,881.8 L785.0,882.0 L785.2,882.2 L785.4,882.5 L785.6,882.7 L785.8,882.9 L786.0,883.2 L786.2,883.4 L786.4,883.6 L786.5,883.9 L786.7,884.1 L786.9,884.3 L787.1,884.5 L787.3,884.8 L787.5,885.0 L787.7,885.2 L787.9,885.4 L788.2,885.7 L788.4,885.9 L788.6,886.1 L788.8,886.3 L789.0,886.5 L789.2,886.7 L789.4,886.9 L789.7,887.1 L789.9,887.3 L790.1,887.5 L790.3,887.7 L790.6,887.9 L790.8,888.1 L791.0,888.3 L791.3,888.5 L791.5,888.6 L791.8,888.8 L792.0,889.0" fill="none" stroke="#ff00ff" stroke-width="2.6" stroke-linejoin="round" stroke-linecap="butt" />
<path d="M704.80,880.28 L708.00,886.20 L701.60,886.20 Z" fill="#ff00ff" stroke="#ff00ff" stroke-width="0.3"/>
<path d="M705.05,879.74 L708.25,885.66 L701.85,885.66 Z" fill="#ff00ff" stroke="#ff00ff" stroke-width="0.3"/>
<path d="M705.31,879.19 L708.51,885.11 L702.11,885.11 Z" fill="#ff00ff" stroke="#ff00ff" stroke-width="0.3"/>
<path d="M705.56,878.65 L708.76,884.57 L702.36,884.57 Z" fill="#ff00ff" stroke="#ff00ff" stroke-width="0.3"/>
<path d="M705.81,878.10 L709.01,884.02 L702.61,884.02 Z" fill="#ff00ff" stroke="#ff00ff" stroke-width="0.3"/>
<path d="M706.06,877.56 L709.26,883.48 L702.86,883.48 Z" fill="#ff00ff" stroke="#ff00ff" stroke-width="0.3"/>
<path d="M706.31,877.01 L709.51,882.93 L703.11,882.93 Z" fill="#ff00ff" stroke="#ff00ff" stroke-width="0.3"/>
<path d="M706.57,876.47 L709.77,882.39 L703.37,882.39 Z" fill="#ff00ff" stroke="#ff00ff" stroke-width="0.3"/>
<path d="M706.82,875.92 L710.02,881.84 L703.62,881.84 Z" fill="#ff00ff" stroke="#ff00ff" stroke-width="0.3"/>
<path d="M707.07,875.38 L710.27,881.30 L703.87,881.30 Z" fill="#ff00ff" stroke="#ff00ff" stroke-width="0.3"/>
<path d="M707.32,874.83 L710.52,880.75 L704.12,880.75 Z" fill="#ff00ff" stroke="#ff00ff" stroke-width="0.3"/>
<path d="M707.57,874.29 L710.77,880.21 L704.37,880.21 Z" fill="#ff00ff" stroke="#ff00ff" stroke-width="0.3"/>
<path d="M707.82,873.74 L711.02,879.66 L704.62,879.66 Z" fill="#ff00ff" stroke="#ff00ff" stroke-width="0.3"/>
<path d="M708.07,873.20 L711.27,879.12 L704.87,879.12 Z" fill="#ff00ff" stroke="#ff00ff" stroke-width="0.3"/>
<path d="M708.32,872.65 L711.52,878.57 L705.12,878.57 Z" fill="#ff00ff" stroke="#ff00ff" stroke-width="0.3"/>
<path d="M708.56,872.11 L711.76,878.03 L705.36,878.03 Z" fill="#ff00ff" stroke="#ff00ff" stroke-width="0.3"/>
<path d="M708.81,871.56 L712.01,877.48 L705.61,877.48 Z" fill="#ff00ff" stroke="#ff00ff" stroke-width="0.3"/>
<path d="M709.06,871.01 L712.26,876.93 L705.86,876.93 Z" fill="#ff00ff" stroke="#ff00ff" stroke-width="0.3"/>
<path d="M709.31,870.47 L712.51,876.39 L706.11,876.39 Z" fill="#ff00ff" stroke="#ff00ff" stroke-width="0.3"/>
<path d="M709.56,869.92 L712.76,875.84 L706.36,875.84 Z" fill="#ff00ff" stroke="#ff00ff" stroke-width="0.3"/>
<path d="M709.80,869.37 L713.00,875.29 L706.60,875.29 Z" fill="#ff00ff" stroke="#ff00ff" stroke-width="0.3"/>
<path d="M710.05,868.83 L713.25,874.75 L706.85,874.75 Z" fill="#ff00ff" stroke="#ff00ff" stroke-width="0.3"/>
<path d="M710.30,868.28 L713.50,874.20 L707.10,874.20 Z" fill="#ff00ff" stroke="#ff00ff" stroke-width="0.3"/>
<path d="M710.54,867.73 L713.74,873.65 L707.34,873.65 Z" fill="#ff00ff" stroke="#ff00ff" stroke-width="0.3"/>
<path d="M710.79,867.18 L713.99,873.10 L707.59,873.10 Z" fill="#ff00ff" stroke="#ff00ff" stroke-width="0.3"/>
<path d="M711.03,866.64 L714.23,872.56 L707.83,872.56 Z" fill="#ff00ff" stroke="#ff00ff" stroke-width="0.3"/>
<path d="M711.28,866.09 L714.48,872.01 L708.08,872.01 Z" fill="#ff00ff" stroke="#ff00ff" stroke-width="0.3"/>
<path d="M711.52,865.54 L714.72,871.46 L708.32,871.46 Z" fill="#ff00ff" stroke="#ff00ff" stroke-width="0.3"/>
<path d="M711.76,864.99 L714.96,870.91 L708.56,870.91 Z" fill="#ff00ff" stroke="#ff00ff" stroke-width="0.3"/>
<path d="M712.00,864.44 L715.20,870.36 L708.80,870.36 Z" fill="#ff00ff" stroke="#ff00ff" stroke-width="0.3"/>
<path d="M712.24,863.89 L715.44,869.81 L709.04,869.81 Z" fill="#ff00ff" stroke="#ff00ff" stroke-width="0.3"/>
<path d="M712.48,863.34 L715.68,869.26 L709.28,869.26 Z" fill="#ff00ff" stroke="#ff00ff" stroke-width="0.3"/>
<path d="M712.72,862.79 L715.92,868.71 L709.52,868.71 Z" fill="#ff00ff" stroke="#ff00ff" stroke-width="0.3"/>
<path d="M712.96,862.24 L716.16,868.16 L709.76,868.16 Z" fill="#ff00ff" stroke="#ff00ff" stroke-width="0.3"/>
<path d="M713.20,861.69 L716.40,867.61 L710.00,867.61 Z" fill="#ff00ff" stroke="#ff00ff" stroke-width="0.3"/>
<path d="M713.44,861.14 L716.64,867.06 L710.24,867.06 Z" fill="#ff00ff" stroke="#ff00ff" stroke-width="0.3"/>
<path d="M713.68,860.59 L716.88,866.51 L710.48,866.51 Z" fill="#ff00ff" stroke="#ff00ff" stroke-width="0.3"/>
<path d="M713.92,860.04 L717.12,865.96 L710.72,865.96 Z" fill="#ff00ff" stroke="#ff00ff" stroke-width="0.3"/>
<path d="M714.16,859.49 L717.36,865.41 L710.96,865.41 Z" fill="#ff00ff" stroke="#ff00ff" stroke-width="0.3"/>
<path d="M714.40,858.94 L717.60,864.86 L711.20,864.86 Z" fill="#ff00ff" stroke="#ff00ff" stroke-width="0.3"/>
<path d="M714.64,858.39 L717.84,864.31 L711.44,864.31 Z" fill="#ff00ff" stroke="#ff00ff" stroke-width="0.3"/>
<path d="M714.88,857.84 L718.08,863.76 L711.68,863.76 Z" fill="#ff00ff" stroke="#ff00ff" stroke-width="0.3"/>
<path d="M715.12,857.29 L718.32,863.21 L711.92,863.21 Z" fill="#ff00ff" stroke="#ff00ff" stroke-width="0.3"/>
<path d="M715.36,856.74 L718.56,862.66 L712.16,862.66 Z" fill="#ff00ff" stroke="#ff00ff" stroke-width="0.3"/>
<path d="M715.60,856.19 L718.80,862.11 L712.40,862.11 Z" fill="#ff00ff" stroke="#ff00ff" stroke-width="0.3"/>
<path d="M715.84,855.64 L719.04,861.56 L712.64,861.56 Z" fill="#ff00ff" stroke="#ff00ff" stroke-width="0.3"/>
<path d="M716.09,855.09 L719.29,861.01 L712.89,861.01 Z" fill="#ff00ff" stroke="#ff00ff" stroke-width="0.3"/>
<path d="M716.33,854.55 L719.53,860.47 L713.13,860.47 Z" fill="#ff00ff" stroke="#ff00ff" stroke-width="0.3"/>
<path d="M716.58,854.00 L719.78,859.92 L713.38,859.92 Z" fill="#ff00ff" stroke="#ff00ff" stroke-width="0.3"/>
<path d="M716.82,853.45 L720.02,859.37 L713.62,859.37 Z" fill="#ff00ff" stroke="#ff00ff" stroke-width="0.3"/>
<path d="M717.07,852.91 L720.27,858.83 L713.87,858.83 Z" fill="#ff00ff" stroke="#ff00ff" stroke-width="0.3"/>
<path d="M717.32,852.36 L720.52,858.28 L714.12,858.28 Z" fill="#ff00ff" stroke="#ff00ff" stroke-width="0.3"/>
<path d="M717.56,851.81 L720.76,857.73 L714.36,857.73 Z" fill="#ff00ff" stroke="#ff00ff" stroke-width="0.3"/>
<path d="M717.81,851.26 L721.01,857.18 L714.61,857.18 Z" fill="#ff00ff" stroke="#ff00ff" stroke-width="0.3"/>
<path d="M718.06,850.72 L721.26,856.64 L714.86,856.64 Z" fill="#ff00ff" stroke="#ff00ff" stroke-width="0.3"/>
<path d="M718.30,850.17 L721.50,856.09 L715.10,856.09 Z" fill="#ff00ff" stroke="#ff00ff" stroke-width="0.3"/>
<path d="M718.55,849.62 L721.75,855.54 L715.35,855.54 Z" fill="#ff00ff" stroke="#ff00ff" stroke-width="0.3"/>
<path d="M718.80,849.08 L722.00,855.00 L715.60,855.00 Z" fill="#ff00ff" stroke="#ff00ff" stroke-width="0.3"/>
<path d="M719.05,848.53 L722.25,854.45 L715.85,854.45 Z" fill="#ff00ff" stroke="#ff00ff" stroke-width="0.3"/>
<path d="M719.30,847.99 L722.50,853.91 L716.10,853.91 Z" fill="#ff00ff" stroke="#ff00ff" stroke-width="0.3"/>
<path d="M719.55,847.44 L722.75,853.36 L716.35,853.36 Z" fill="#ff00ff" stroke="#ff00ff" stroke-width="0.3"/>
<path d="M719.80,846.90 L723.00,852.82 L716.60,852.82 Z" fill="#ff00ff" stroke="#ff00ff" stroke-width="0.3"/>
<path d="M720.05,846.35 L723.25,852.27 L716.85,852.27 Z" fill="#ff00ff" stroke="#ff00ff" stroke-width="0.3"/>
<path d="M720.30,845.81 L723.50,851.73 L717.10,851.73 Z" fill="#ff00ff" stroke="#ff00ff" stroke-width="0.3"/>
<path d="M720.56,845.26 L723.76,851.18 L717.36,851.18 Z" fill="#ff00ff" stroke="#ff00ff" stroke-width="0.3"/>
<path d="M720.82,844.72 L724.02,850.64 L717.62,850.64 Z" fill="#ff00ff" stroke="#ff00ff" stroke-width="0.3"/>
<path d="M721.07,844.18 L724.27,850.10 L717.87,850.10 Z" fill="#ff00ff" stroke="#ff00ff" stroke-width="0.3"/>
<path d="M721.33,843.64 L724.53,849.56 L718.13,849.56 Z" fill="#ff00ff" stroke="#ff00ff" stroke-width="0.3"/>
<path d="M721.60,843.10 L724.80,849.02 L718.40,849.02 Z" fill="#ff00ff" stroke="#ff00ff" stroke-width="0.3"/>
<path d="M721.86,842.56 L725.06,848.48 L718.66,848.48 Z" fill="#ff00ff" stroke="#ff00ff" stroke-width="0.3"/>
<path d="M722.13,842.02 L725.33,847.94 L718.93,847.94 Z" fill="#ff00ff" stroke="#ff00ff" stroke-width="0.3"/>
<path d="M722.40,841.49 L725.60,847.41 L719.20,847.41 Z" fill="#ff00ff" stroke="#ff00ff" stroke-width="0.3"/>
<path d="M722.67,840.95 L725.87,846.87 L719.47,846.87 Z" fill="#ff00ff" stroke="#ff00ff" stroke-width="0.3"/>
<path d="M722.94,840.42 L726.14,846.34 L719.74,846.34 Z" fill="#ff00ff" stroke="#ff00ff" stroke-width="0.3"/>
<path d="M723.22,839.89 L726.42,845.81 L720.02,845.81 Z" fill="#ff00ff" stroke="#ff00ff" stroke-width="0.3"/>
<path d="M723.50,839.36 L726.70,845.28 L720.30,845.28 Z" fill="#ff00ff" stroke="#ff00ff" stroke-width="0.3"/>
<path d="M723.79,838.83 L726.99,844.75 L720.59,844.75 Z" fill="#ff00ff" stroke="#ff00ff" stroke-width="0.3"/>
<path d="M724.08,838.30 L727.28,844.22 L720.88,844.22 Z" fill="#ff00ff" stroke="#ff00ff" stroke-width="0.3"/>
<path d="M724.37,837.78 L727.57,843.70 L721.17,843.70 Z" fill="#ff00ff" stroke="#ff00ff" stroke-width="0.3"/>
<path d="M724.66,837.25 L727.86,843.17 L721.46,843.17 Z" fill="#ff00ff" stroke="#ff00ff" stroke-width="0.3"/>
<path d="M724.95,836.73 L728.15,842.65 L721.75,842.65 Z" fill="#ff00ff" stroke="#ff00ff" stroke-width="0.3"/>
<path d="M725.24,836.21 L728.44,842.13 L722.04,842.13 Z" fill="#ff00ff" stroke="#ff00ff" stroke-width="0.3"/>
<path d="M725.54,835.68 L728.74,841.60 L722.34,841.60 Z" fill="#ff00ff" stroke="#ff00ff" stroke-width="0.3"/>
<path d="M725.83,835.16 L729.03,841.08 L722.63,841.08 Z" fill="#ff00ff" stroke="#ff00ff" stroke-width="0.3"/>
<path d="M726.13,834.64 L729.33,840.56 L722.93,840.56 Z" fill="#ff00ff" stroke="#ff00ff" stroke-width="0.3"/>
<path d="M726.42,834.11 L729.62,840.03 L723.22,840.03 Z" fill="#ff00ff" stroke="#ff00ff" stroke-width="0.3"/>
<path d="M726.71,833.59 L729.91,839.51 L723.51,839.51 Z" fill="#ff00ff" stroke="#ff00ff" stroke-width="0.3"/>
<path d="M727.01,833.07 L730.21,838.99 L723.81,838.99 Z" fill="#ff00ff" stroke="#ff00ff" stroke-width="0.3"/>
<path d="M727.30,832.54 L730.50,838.46 L724.10,838.46 Z" fill="#ff00ff" stroke="#ff00ff" stroke-width="0.3"/>
<path d="M727.59,832.02 L730.79,837.94 L724.39,837.94 Z" fill="#ff00ff" stroke="#ff00ff" stroke-width="0.3"/>
<path d="M727.88,831.49 L731.08,837.41 L724.68,837.41 Z" fill="#ff00ff" stroke="#ff00ff" stroke-width="0.3"/>
<path d="M728.17,830.97 L731.37,836.89 L724.97,836.89 Z" fill="#ff00ff" stroke="#ff00ff" stroke-width="0.3"/>
<path d="M728.45,830.44 L731.65,836.36 L725.25,836.36 Z" fill="#ff00ff" stroke="#ff00ff" stroke-width="0.3"/>
<path d="M728.74,829.91 L731.94,835.83 L725.54,835.83 Z" fill="#ff00ff" stroke="#ff00ff" stroke-width="0.3"/>
<path d="M729.02,829.38 L732.22,835.30 L725.82,835.30 Z" fill="#ff00ff" stroke="#ff00ff" stroke-width="0.3"/>
<path d="M729.30,828.85 L732.50,834.77 L726.10,834.77 Z" fill="#ff00ff" stroke="#ff00ff" stroke-width="0.3"/>
<path d="M729.58,828.32 L732.78,834.24 L726.38,834.24 Z" fill="#ff00ff" stroke="#ff00ff" stroke-width="0.3"/>
<path d="M729.87,827.79 L733.07,833.71 L726.67,833.71 Z" fill="#ff00ff" stroke="#ff00ff" stroke-width="0.3"/>
<path d="M730.15,827.27 L733.35,833.19 L726.95,833.19 Z" fill="#ff00ff" stroke="#ff00ff" stroke-width="0.3"/>
<path d="M730.43,826.74 L733.63,832.66 L727.23,832.66 Z" fill="#ff00ff" stroke="#ff00ff" stroke-width="0.3"/>
<path d="M730.72,826.21 L733.92,832.13 L727.52,832.13 Z" fill="#ff00ff" stroke="#ff00ff" stroke-width="0.3"/>
<path d="M731.00,825.68 L734.20,831.60 L727.80,831.60 Z" fill="#ff00ff" stroke="#ff00ff" stroke-width="0.3"/>
<path d="M731.28,825.15 L734.48,831.07 L728.08,831.07 Z" fill="#ff00ff" stroke="#ff00ff" stroke-width="0.3"/>
<path d="M731.56,824.62 L734.76,830.54 L728.36,830.54 Z" fill="#ff00ff" stroke="#ff00ff" stroke-width="0.3"/>
<path d="M731.84,824.09 L735.04,830.01 L728.64,830.01 Z" fill="#ff00ff" stroke="#ff00ff" stroke-width="0.3"/>
<path d="M732.12,823.56 L735.32,829.48 L728.92,829.48 Z" fill="#ff00ff" stroke="#ff00ff" stroke-width="0.3"/>
<path d="M732.40,823.02 L735.60,828.94 L729.20,828.94 Z" fill="#ff00ff" stroke="#ff00ff" stroke-width="0.3"/>
<path d="M732.67,822.49 L735.87,828.41 L729.47,828.41 Z" fill="#ff00ff" stroke="#ff00ff" stroke-width="0.3"/>
<path d="M732.95,821.96 L736.15,827.88 L729.75,827.88 Z" fill="#ff00ff" stroke="#ff00ff" stroke-width="0.3"/>
<path d="M733.22,821.42 L736.42,827.34 L730.02,827.34 Z" fill="#ff00ff" stroke="#ff00ff" stroke-width="0.3"/>
<path d="M733.49,820.89 L736.69,826.81 L730.29,826.81 Z" fill="#ff00ff" stroke="#ff00ff" stroke-width="0.3"/>
<path d="M733.76,820.35 L736.96,826.27 L730.56,826.27 Z" fill="#ff00ff" stroke="#ff00ff" stroke-width="0.3"/>
<path d="M734.02,819.81 L737.22,825.73 L730.82,825.73 Z" fill="#ff00ff" stroke="#ff00ff" stroke-width="0.3"/>
<path d="M734.28,819.27 L737.48,825.19 L731.08,825.19 Z" fill="#ff00ff" stroke="#ff00ff" stroke-width="0.3"/>
<path d="M734.54,818.73 L737.74,824.65 L731.34,824.65 Z" fill="#ff00ff" stroke="#ff00ff" stroke-width="0.3"/>
<path d="M734.80,818.19 L738.00,824.11 L731.60,824.11 Z" fill="#ff00ff" stroke="#ff00ff" stroke-width="0.3"/>
<path d="M735.06,817.65 L738.26,823.57 L731.86,823.57 Z" fill="#ff00ff" stroke="#ff00ff" stroke-width="0.3"/>
<path d="M735.31,817.10 L738.51,823.02 L732.11,823.02 Z" fill="#ff00ff" stroke="#ff00ff" stroke-width="0.3"/>
<path d="M735.56,816.56 L738.76,822.48 L732.36,822.48 Z" fill="#ff00ff" stroke="#ff00ff" stroke-width="0.3"/>
<path d="M735.81,816.01 L739.01,821.93 L732.61,821.93 Z" fill="#ff00ff" stroke="#ff00ff" stroke-width="0.3"/>
<path d="M736.05,815.46 L739.25,821.38 L732.85,821.38 Z" fill="#ff00ff" stroke="#ff00ff" stroke-width="0.3"/>
<path d="M736.29,814.91 L739.49,820.83 L733.09,820.83 Z" fill="#ff00ff" stroke="#ff00ff" stroke-width="0.3"/>
<path d="M736.54,814.36 L739.74,820.28 L733.34,820.28 Z" fill="#ff00ff" stroke="#ff00ff" stroke-width="0.3"/>
<path d="M736.78,813.81 L739.98,819.73 L733.58,819.73 Z" fill="#ff00ff" stroke="#ff00ff" stroke-width="0.3"/>
<path d="M737.01,813.26 L740.21,819.18 L733.81,819.18 Z" fill="#ff00ff" stroke="#ff00ff" stroke-width="0.3"/>
<path d="M737.25,812.71 L740.45,818.63 L734.05,818.63 Z" fill="#ff00ff" stroke="#ff00ff" stroke-width="0.3"/>
<path d="M737.48,812.16 L740.68,818.08 L734.28,818.08 Z" fill="#ff00ff" stroke="#ff00ff" stroke-width="0.3"/>
<path d="M737.71,811.60 L740.91,817.52 L734.51,817.52 Z" fill="#ff00ff" stroke="#ff00ff" stroke-width="0.3"/>
<path d="M737.94,811.05 L741.14,816.97 L734.74,816.97 Z" fill="#ff00ff" stroke="#ff00ff" stroke-width="0.3"/>
<path d="M738.17,810.50 L741.37,816.42 L734.97,816.42 Z" fill="#ff00ff" stroke="#ff00ff" stroke-width="0.3"/>
<path d="M738.40,809.94 L741.60,815.86 L735.20,815.86 Z" fill="#ff00ff" stroke="#ff00ff" stroke-width="0.3"/>
<path d="M738.62,809.38 L741.82,815.30 L735.42,815.30 Z" fill="#ff00ff" stroke="#ff00ff" stroke-width="0.3"/>
<path d="M738.84,808.82 L742.04,814.74 L735.64,814.74 Z" fill="#ff00ff" stroke="#ff00ff" stroke-width="0.3"/>
<path d="M739.06,808.27 L742.26,814.19 L735.86,814.19 Z" fill="#ff00ff" stroke="#ff00ff" stroke-width="0.3"/>
<path d="M739.28,807.71 L742.48,813.63 L736.08,813.63 Z" fill="#ff00ff" stroke="#ff00ff" stroke-width="0.3"/>
<path d="M739.50,807.15 L742.70,813.07 L736.30,813.07 Z" fill="#ff00ff" stroke="#ff00ff" stroke-width="0.3"/>
<path d="M739.71,806.59 L742.91,812.51 L736.51,812.51 Z" fill="#ff00ff" stroke="#ff00ff" stroke-width="0.3"/>
<path d="M739.93,806.03 L743.13,811.95 L736.73,811.95 Z" fill="#ff00ff" stroke="#ff00ff" stroke-width="0.3"/>
<path d="M740.14,805.47 L743.34,811.39 L736.94,811.39 Z" fill="#ff00ff" stroke="#ff00ff" stroke-width="0.3"/>
<path d="M740.35,804.90 L743.55,810.82 L737.15,810.82 Z" fill="#ff00ff" stroke="#ff00ff" stroke-width="0.3"/>
<path d="M740.56,804.34 L743.76,810.26 L737.36,810.26 Z" fill="#ff00ff" stroke="#ff00ff" stroke-width="0.3"/>
<path d="M740.77,803.78 L743.97,809.70 L737.57,809.70 Z" fill="#ff00ff" stroke="#ff00ff" stroke-width="0.3"/>
<path d="M740.97,803.22 L744.17,809.14 L737.77,809.14 Z" fill="#ff00ff" stroke="#ff00ff" stroke-width="0.3"/>
<path d="M741.18,802.65 L744.38,808.57 L737.98,808.57 Z" fill="#ff00ff" stroke="#ff00ff" stroke-width="0.3"/>
<path d="M741.38,802.09 L744.58,808.01 L738.18,808.01 Z" fill="#ff00ff" stroke="#ff00ff" stroke-width="0.3"/>
<path d="M741.59,801.52 L744.79,807.44 L738.39,807.44 Z" fill="#ff00ff" stroke="#ff00ff" stroke-width="0.3"/>
<path d="M741.79,800.96 L744.99,806.88 L738.59,806.88 Z" fill="#ff00ff" stroke="#ff00ff" stroke-width="0.3"/>
<path d="M741.99,800.39 L745.19,806.31 L738.79,806.31 Z" fill="#ff00ff" stroke="#ff00ff" stroke-width="0.3"/>
<path d="M742.19,799.83 L745.39,805.75 L738.99,805.75 Z" fill="#ff00ff" stroke="#ff00ff" stroke-width="0.3"/>
<path d="M742.39,799.26 L745.59,805.18 L739.19,805.18 Z" fill="#ff00ff" stroke="#ff00ff" stroke-width="0.3"/>
<path d="M742.59,798.70 L745.79,804.62 L739.39,804.62 Z" fill="#ff00ff" stroke="#ff00ff" stroke-width="0.3"/>
<path d="M742.79,798.13 L745.99,804.05 L739.59,804.05 Z" fill="#ff00ff" stroke="#ff00ff" stroke-width="0.3"/>
<path d="M742.98,797.56 L746.18,803.48 L739.78,803.48 Z" fill="#ff00ff" stroke="#ff00ff" stroke-width="0.3"/>
<path d="M743.18,797.00 L746.38,802.92 L739.98,802.92 Z" fill="#ff00ff" stroke="#ff00ff" stroke-width="0.3"/>
<path d="M743.38,796.43 L746.58,802.35 L740.18,802.35 Z" fill="#ff00ff" stroke="#ff00ff" stroke-width="0.3"/>
<path d="M743.57,795.86 L746.77,801.78 L740.37,801.78 Z" fill="#ff00ff" stroke="#ff00ff" stroke-width="0.3"/>
<path d="M743.77,795.29 L746.97,801.21 L740.57,801.21 Z" fill="#ff00ff" stroke="#ff00ff" stroke-width="0.3"/>
<path d="M743.96,794.73 L747.16,800.65 L740.76,800.65 Z" fill="#ff00ff" stroke="#ff00ff" stroke-width="0.3"/>
<path d="M744.16,794.16 L747.36,800.08 L740.96,800.08 Z" fill="#ff00ff" stroke="#ff00ff" stroke-width="0.3"/>
<path d="M744.35,793.59 L747.55,799.51 L741.15,799.51 Z" fill="#ff00ff" stroke="#ff00ff" stroke-width="0.3"/>
<path d="M744.54,793.02 L747.74,798.94 L741.34,798.94 Z" fill="#ff00ff" stroke="#ff00ff" stroke-width="0.3"/>
<path d="M744.74,792.46 L747.94,798.38 L741.54,798.38 Z" fill="#ff00ff" stroke="#ff00ff" stroke-width="0.3"/>
<path d="M744.93,791.89 L748.13,797.81 L741.73,797.81 Z" fill="#ff00ff" stroke="#ff00ff" stroke-width="0.3"/>
<path d="M745.12,791.32 L748.32,797.24 L741.92,797.24 Z" fill="#ff00ff" stroke="#ff00ff" stroke-width="0.3"/>
<path d="M745.31,790.75 L748.51,796.67 L742.11,796.67 Z" fill="#ff00ff" stroke="#ff00ff" stroke-width="0.3"/>
<path d="M745.49,790.18 L748.69,796.10 L742.29,796.10 Z" fill="#ff00ff" stroke="#ff00ff" stroke-width="0.3"/>
<path d="M745.67,789.60 L748.87,795.52 L742.47,795.52 Z" fill="#ff00ff" stroke="#ff00ff" stroke-width="0.3"/>
<path d="M745.85,789.03 L749.05,794.95 L742.65,794.95 Z" fill="#ff00ff" stroke="#ff00ff" stroke-width="0.3"/>
<path d="M746.02,788.46 L749.22,794.38 L742.82,794.38 Z" fill="#ff00ff" stroke="#ff00ff" stroke-width="0.3"/>
<path d="M746.19,787.88 L749.39,793.80 L742.99,793.80 Z" fill="#ff00ff" stroke="#ff00ff" stroke-width="0.3"/>
<path d="M746.36,787.31 L749.56,793.23 L743.16,793.23 Z" fill="#ff00ff" stroke="#ff00ff" stroke-width="0.3"/>
<path d="M746.53,786.73 L749.73,792.65 L743.33,792.65 Z" fill="#ff00ff" stroke="#ff00ff" stroke-width="0.3"/>
<path d="M746.69,786.15 L749.89,792.07 L743.49,792.07 Z" fill="#ff00ff" stroke="#ff00ff" stroke-width="0.3"/>
<path d="M746.86,785.58 L750.06,791.50 L743.66,791.50 Z" fill="#ff00ff" stroke="#ff00ff" stroke-width="0.3"/>
<path d="M747.02,785.00 L750.22,790.92 L743.82,790.92 Z" fill="#ff00ff" stroke="#ff00ff" stroke-width="0.3"/>
<path d="M747.19,784.42 L750.39,790.34 L743.99,790.34 Z" fill="#ff00ff" stroke="#ff00ff" stroke-width="0.3"/>
<path d="M747.35,783.84 L750.55,789.76 L744.15,789.76 Z" fill="#ff00ff" stroke="#ff00ff" stroke-width="0.3"/>
<path d="M747.51,783.27 L750.71,789.19 L744.31,789.19 Z" fill="#ff00ff" stroke="#ff00ff" stroke-width="0.3"/>
<path d="M747.68,782.69 L750.88,788.61 L744.48,788.61 Z" fill="#ff00ff" stroke="#ff00ff" stroke-width="0.3"/>
<path d="M747.84,782.11 L751.04,788.03 L744.64,788.03 Z" fill="#ff00ff" stroke="#ff00ff" stroke-width="0.3"/>
<path d="M748.01,781.54 L751.21,787.46 L744.81,787.46 Z" fill="#ff00ff" stroke="#ff00ff" stroke-width="0.3"/>
<path d="M748.17,780.96 L751.37,786.88 L744.97,786.88 Z" fill="#ff00ff" stroke="#ff00ff" stroke-width="0.3"/>
<path d="M748.34,780.38 L751.54,786.30 L745.14,786.30 Z" fill="#ff00ff" stroke="#ff00ff" stroke-width="0.3"/>
<path d="M748.52,779.81 L751.72,785.73 L745.32,785.73 Z" fill="#ff00ff" stroke="#ff00ff" stroke-width="0.3"/>
<path d="M748.69,779.24 L751.89,785.16 L745.49,785.16 Z" fill="#ff00ff" stroke="#ff00ff" stroke-width="0.3"/>
<path d="M748.87,778.66 L752.07,784.58 L745.67,784.58 Z" fill="#ff00ff" stroke="#ff00ff" stroke-width="0.3"/>
<path d="M749.04,778.09 L752.24,784.01 L745.84,784.01 Z" fill="#ff00ff" stroke="#ff00ff" stroke-width="0.3"/>
<path d="M749.23,777.52 L752.43,783.44 L746.03,783.44 Z" fill="#ff00ff" stroke="#ff00ff" stroke-width="0.3"/>
<path d="M749.41,776.95 L752.61,782.87 L746.21,782.87 Z" fill="#ff00ff" stroke="#ff00ff" stroke-width="0.3"/>
<path d="M749.60,776.38 L752.80,782.30 L746.40,782.30 Z" fill="#ff00ff" stroke="#ff00ff" stroke-width="0.3"/>
<path d="M749.80,775.81 L753.00,781.73 L746.60,781.73 Z" fill="#ff00ff" stroke="#ff00ff" stroke-width="0.3"/>
<path d="M750.00,775.25 L753.20,781.17 L746.80,781.17 Z" fill="#ff00ff" stroke="#ff00ff" stroke-width="0.3"/>
<path d="M750.20,774.68 L753.40,780.60 L747.00,780.60 Z" fill="#ff00ff" stroke="#ff00ff" stroke-width="0.3"/>
<path d="M750.41,774.12 L753.61,780.04 L747.21,780.04 Z" fill="#ff00ff" stroke="#ff00ff" stroke-width="0.3"/>
<path d="M750.63,773.56 L753.83,779.48 L747.43,779.48 Z" fill="#ff00ff" stroke="#ff00ff" stroke-width="0.3"/>
<path d="M750.85,773.00 L754.05,778.92 L747.65,778.92 Z" fill="#ff00ff" stroke="#ff00ff" stroke-width="0.3"/>
<path d="M751.08,772.45 L754.28,778.37 L747.88,778.37 Z" fill="#ff00ff" stroke="#ff00ff" stroke-width="0.3"/>
<path d="M751.32,771.90 L754.52,777.82 L748.12,777.82 Z" fill="#ff00ff" stroke="#ff00ff" stroke-width="0.3"/>
<path d="M751.56,771.35 L754.76,777.27 L748.36,777.27 Z" fill="#ff00ff" stroke="#ff00ff" stroke-width="0.3"/>
<path d="M751.80,770.80 L755.00,776.72 L748.60,776.72 Z" fill="#ff00ff" stroke="#ff00ff" stroke-width="0.3"/>
<path d="M752.04,770.25 L755.24,776.17 L748.84,776.17 Z" fill="#ff00ff" stroke="#ff00ff" stroke-width="0.3"/>
<path d="M752.29,769.70 L755.49,775.62 L749.09,775.62 Z" fill="#ff00ff" stroke="#ff00ff" stroke-width="0.3"/>
<path d="M752.54,769.16 L755.74,775.08 L749.34,775.08 Z" fill="#ff00ff" stroke="#ff00ff" stroke-width="0.3"/>
<path d="M752.81,768.62 L756.01,774.54 L749.61,774.54 Z" fill="#ff00ff" stroke="#ff00ff" stroke-width="0.3"/>
<path d="M753.09,768.09 L756.29,774.01 L749.89,774.01 Z" fill="#ff00ff" stroke="#ff00ff" stroke-width="0.3"/>
<path d="M753.39,767.57 L756.59,773.49 L750.19,773.49 Z" fill="#ff00ff" stroke="#ff00ff" stroke-width="0.3"/>
<path d="M753.72,767.07 L756.92,772.99 L750.52,772.99 Z" fill="#ff00ff" stroke="#ff00ff" stroke-width="0.3"/>
<path d="M754.09,766.60 L757.29,772.52 L750.89,772.52 Z" fill="#ff00ff" stroke="#ff00ff" stroke-width="0.3"/>
<path d="M754.49,766.15 L757.69,772.07 L751.29,772.07 Z" fill="#ff00ff" stroke="#ff00ff" stroke-width="0.3"/>
<path d="M754.95,765.77 L758.15,771.69 L751.75,771.69 Z" fill="#ff00ff" stroke="#ff00ff" stroke-width="0.3"/>
<path d="M755.46,765.44 L758.66,771.36 L752.26,771.36 Z" fill="#ff00ff" stroke="#ff00ff" stroke-width="0.3"/>
<path d="M755.99,765.18 L759.19,771.10 L752.79,771.10 Z" fill="#ff00ff" stroke="#ff00ff" stroke-width="0.3"/>
<path d="M756.57,765.12 L759.77,771.04 L753.37,771.04 Z" fill="#ff00ff" stroke="#ff00ff" stroke-width="0.3"/>
<path d="M757.02,765.51 L760.22,771.43 L753.82,771.43 Z" fill="#ff00ff" stroke="#ff00ff" stroke-width="0.3"/>
<path d="M757.81,767.23 L761.01,773.15 L754.61,773.15 Z" fill="#ff00ff" stroke="#ff00ff" stroke-width="0.3"/>
<path d="M758.19,769.09 L761.39,775.01 L754.99,775.01 Z" fill="#ff00ff" stroke="#ff00ff" stroke-width="0.3"/>
<path d="M758.41,770.98 L761.61,776.90 L755.21,776.90 Z" fill="#ff00ff" stroke="#ff00ff" stroke-width="0.3"/>
<path d="M758.57,772.87 L761.77,778.79 L755.37,778.79 Z" fill="#ff00ff" stroke="#ff00ff" stroke-width="0.3"/>
<path d="M758.69,774.77 L761.89,780.69 L755.49,780.69 Z" fill="#ff00ff" stroke="#ff00ff" stroke-width="0.3"/>
<path d="M758.81,776.66 L762.01,782.58 L755.61,782.58 Z" fill="#ff00ff" stroke="#ff00ff" stroke-width="0.3"/>
<path d="M758.92,778.56 L762.12,784.48 L755.72,784.48 Z" fill="#ff00ff" stroke="#ff00ff" stroke-width="0.3"/>
<path d="M759.00,780.46 L762.20,786.38 L755.80,786.38 Z" fill="#ff00ff" stroke="#ff00ff" stroke-width="0.3"/>
<path d="M759.08,782.36 L762.28,788.28 L755.88,788.28 Z" fill="#ff00ff" stroke="#ff00ff" stroke-width="0.3"/>
<path d="M759.17,784.26 L762.37,790.18 L755.97,790.18 Z" fill="#ff00ff" stroke="#ff00ff" stroke-width="0.3"/>
<path d="M759.28,786.15 L762.48,792.07 L756.08,792.07 Z" fill="#ff00ff" stroke="#ff00ff" stroke-width="0.3"/>
<path d="M759.42,788.05 L762.62,793.97 L756.22,793.97 Z" fill="#ff00ff" stroke="#ff00ff" stroke-width="0.3"/>
<path d="M759.59,789.94 L762.79,795.86 L756.39,795.86 Z" fill="#ff00ff" stroke="#ff00ff" stroke-width="0.3"/>
<path d="M759.79,791.83 L762.99,797.75 L756.59,797.75 Z" fill="#ff00ff" stroke="#ff00ff" stroke-width="0.3"/>
<path d="M760.01,793.72 L763.21,799.64 L756.81,799.64 Z" fill="#ff00ff" stroke="#ff00ff" stroke-width="0.3"/>
<path d="M760.24,795.60 L763.44,801.52 L757.04,801.52 Z" fill="#ff00ff" stroke="#ff00ff" stroke-width="0.3"/>
<path d="M760.49,797.49 L763.69,803.41 L757.29,803.41 Z" fill="#ff00ff" stroke="#ff00ff" stroke-width="0.3"/>
<path d="M760.74,799.37 L763.94,805.29 L757.54,805.29 Z" fill="#ff00ff" stroke="#ff00ff" stroke-width="0.3"/>
<path d="M761.04,801.25 L764.24,807.17 L757.84,807.17 Z" fill="#ff00ff" stroke="#ff00ff" stroke-width="0.3"/>
<path d="M761.36,803.12 L764.56,809.04 L758.16,809.04 Z" fill="#ff00ff" stroke="#ff00ff" stroke-width="0.3"/>
<path d="M761.68,804.99 L764.88,810.91 L758.48,810.91 Z" fill="#ff00ff" stroke="#ff00ff" stroke-width="0.3"/>
<path d="M761.95,806.87 L765.15,812.79 L758.75,812.79 Z" fill="#ff00ff" stroke="#ff00ff" stroke-width="0.3"/>
<path d="M762.17,808.76 L765.37,814.68 L758.97,814.68 Z" fill="#ff00ff" stroke="#ff00ff" stroke-width="0.3"/>
<path d="M762.36,810.65 L765.56,816.57 L759.16,816.57 Z" fill="#ff00ff" stroke="#ff00ff" stroke-width="0.3"/>
<path d="M762.53,812.54 L765.73,818.46 L759.33,818.46 Z" fill="#ff00ff" stroke="#ff00ff" stroke-width="0.3"/>
<path d="M762.70,814.43 L765.90,820.35 L759.50,820.35 Z" fill="#ff00ff" stroke="#ff00ff" stroke-width="0.3"/>
<path d="M762.86,816.33 L766.06,822.25 L759.66,822.25 Z" fill="#ff00ff" stroke="#ff00ff" stroke-width="0.3"/>
<path d="M763.04,818.22 L766.24,824.14 L759.84,824.14 Z" fill="#ff00ff" stroke="#ff00ff" stroke-width="0.3"/>
<path d="M763.24,820.11 L766.44,826.03 L760.04,826.03 Z" fill="#ff00ff" stroke="#ff00ff" stroke-width="0.3"/>
<path d="M763.47,821.99 L766.67,827.91 L760.27,827.91 Z" fill="#ff00ff" stroke="#ff00ff" stroke-width="0.3"/>
<path d="M763.75,823.87 L766.95,829.79 L760.55,829.79 Z" fill="#ff00ff" stroke="#ff00ff" stroke-width="0.3"/>
<path d="M764.06,825.75 L767.26,831.67 L760.86,831.67 Z" fill="#ff00ff" stroke="#ff00ff" stroke-width="0.3"/>
<path d="M764.41,827.62 L767.61,833.54 L761.21,833.54 Z" fill="#ff00ff" stroke="#ff00ff" stroke-width="0.3"/>
<path d="M764.78,829.48 L767.98,835.40 L761.58,835.40 Z" fill="#ff00ff" stroke="#ff00ff" stroke-width="0.3"/>
<path d="M765.17,831.34 L768.37,837.26 L761.97,837.26 Z" fill="#ff00ff" stroke="#ff00ff" stroke-width="0.3"/>
<path d="M765.58,833.19 L768.78,839.11 L762.38,839.11 Z" fill="#ff00ff" stroke="#ff00ff" stroke-width="0.3"/>
<path d="M765.99,835.05 L769.19,840.97 L762.79,840.97 Z" fill="#ff00ff" stroke="#ff00ff" stroke-width="0.3"/>
<path d="M766.41,836.90 L769.61,842.82 L763.21,842.82 Z" fill="#ff00ff" stroke="#ff00ff" stroke-width="0.3"/>
<path d="M766.82,838.76 L770.02,844.68 L763.62,844.68 Z" fill="#ff00ff" stroke="#ff00ff" stroke-width="0.3"/>
<path d="M767.23,840.61 L770.43,846.53 L764.03,846.53 Z" fill="#ff00ff" stroke="#ff00ff" stroke-width="0.3"/>
<path d="M767.65,842.46 L770.85,848.38 L764.45,848.38 Z" fill="#ff00ff" stroke="#ff00ff" stroke-width="0.3"/>
<path d="M768.09,844.31 L771.29,850.23 L764.89,850.23 Z" fill="#ff00ff" stroke="#ff00ff" stroke-width="0.3"/>
<path d="M768.55,846.16 L771.75,852.08 L765.35,852.08 Z" fill="#ff00ff" stroke="#ff00ff" stroke-width="0.3"/>
<path d="M769.03,848.00 L772.23,853.92 L765.83,853.92 Z" fill="#ff00ff" stroke="#ff00ff" stroke-width="0.3"/>
<path d="M769.54,849.83 L772.74,855.75 L766.34,855.75 Z" fill="#ff00ff" stroke="#ff00ff" stroke-width="0.3"/>
<path d="M770.08,851.65 L773.28,857.57 L766.88,857.57 Z" fill="#ff00ff" stroke="#ff00ff" stroke-width="0.3"/>
<path d="M770.65,853.46 L773.85,859.38 L767.45,859.38 Z" fill="#ff00ff" stroke="#ff00ff" stroke-width="0.3"/>
<path d="M771.25,855.26 L774.45,861.18 L768.05,861.18 Z" fill="#ff00ff" stroke="#ff00ff" stroke-width="0.3"/>
<path d="M771.88,857.05 L775.08,862.97 L768.68,862.97 Z" fill="#ff00ff" stroke="#ff00ff" stroke-width="0.3"/>
<path d="M772.56,858.83 L775.76,864.75 L769.36,864.75 Z" fill="#ff00ff" stroke="#ff00ff" stroke-width="0.3"/>
<path d="M772.86,859.57 L776.06,865.49 L769.66,865.49 Z" fill="#ff00ff" stroke="#ff00ff" stroke-width="0.3"/>
<path d="M773.17,860.31 L776.37,866.23 L769.97,866.23 Z" fill="#ff00ff" stroke="#ff00ff" stroke-width="0.3"/>
<path d="M773.49,861.04 L776.69,866.96 L770.29,866.96 Z" fill="#ff00ff" stroke="#ff00ff" stroke-width="0.3"/>
<path d="M773.82,861.77 L777.02,867.69 L770.62,867.69 Z" fill="#ff00ff" stroke="#ff00ff" stroke-width="0.3"/>
<path d="M774.17,862.49 L777.37,868.41 L770.97,868.41 Z" fill="#ff00ff" stroke="#ff00ff" stroke-width="0.3"/>
<path d="M774.53,863.20 L777.73,869.12 L771.33,869.12 Z" fill="#ff00ff" stroke="#ff00ff" stroke-width="0.3"/>
<path d="M774.91,863.91 L778.11,869.83 L771.71,869.83 Z" fill="#ff00ff" stroke="#ff00ff" stroke-width="0.3"/>
<path d="M775.30,864.61 L778.50,870.53 L772.10,870.53 Z" fill="#ff00ff" stroke="#ff00ff" stroke-width="0.3"/>
<path d="M775.69,865.30 L778.89,871.22 L772.49,871.22 Z" fill="#ff00ff" stroke="#ff00ff" stroke-width="0.3"/>
<path d="M776.10,865.99 L779.30,871.91 L772.90,871.91 Z" fill="#ff00ff" stroke="#ff00ff" stroke-width="0.3"/>
<path d="M776.52,866.67 L779.72,872.59 L773.32,872.59 Z" fill="#ff00ff" stroke="#ff00ff" stroke-width="0.3"/>
<path d="M776.94,867.35 L780.14,873.27 L773.74,873.27 Z" fill="#ff00ff" stroke="#ff00ff" stroke-width="0.3"/>
<path d="M777.37,868.03 L780.57,873.95 L774.17,873.95 Z" fill="#ff00ff" stroke="#ff00ff" stroke-width="0.3"/>
<path d="M777.80,868.70 L781.00,874.62 L774.60,874.62 Z" fill="#ff00ff" stroke="#ff00ff" stroke-width="0.3"/>
<path d="M778.24,869.37 L781.44,875.29 L775.04,875.29 Z" fill="#ff00ff" stroke="#ff00ff" stroke-width="0.3"/>
<path d="M778.68,870.04 L781.88,875.96 L775.48,875.96 Z" fill="#ff00ff" stroke="#ff00ff" stroke-width="0.3"/>
<path d="M779.12,870.71 L782.32,876.63 L775.92,876.63 Z" fill="#ff00ff" stroke="#ff00ff" stroke-width="0.3"/>
<path d="M779.57,871.37 L782.77,877.29 L776.37,877.29 Z" fill="#ff00ff" stroke="#ff00ff" stroke-width="0.3"/>
<path d="M780.02,872.03 L783.22,877.95 L776.82,877.95 Z" fill="#ff00ff" stroke="#ff00ff" stroke-width="0.3"/>
<path d="M780.49,872.68 L783.69,878.60 L777.29,878.60 Z" fill="#ff00ff" stroke="#ff00ff" stroke-width="0.3"/>
<path d="M780.96,873.32 L784.16,879.24 L777.76,879.24 Z" fill="#ff00ff" stroke="#ff00ff" stroke-width="0.3"/>
<path d="M781.44,873.96 L784.64,879.88 L778.24,879.88 Z" fill="#ff00ff" stroke="#ff00ff" stroke-width="0.3"/>
<path d="M781.92,874.60 L785.12,880.52 L778.72,880.52 Z" fill="#ff00ff" stroke="#ff00ff" stroke-width="0.3"/>
<path d="M782.41,875.23 L785.61,881.15 L779.21,881.15 Z" fill="#ff00ff" stroke="#ff00ff" stroke-width="0.3"/>
<path d="M782.91,875.86 L786.11,881.78 L779.71,881.78 Z" fill="#ff00ff" stroke="#ff00ff" stroke-width="0.3"/>
<path d="M783.41,876.49 L786.61,882.41 L780.21,882.41 Z" fill="#ff00ff" stroke="#ff00ff" stroke-width="0.3"/>
<path d="M783.91,877.11 L787.11,883.03 L780.71,883.03 Z" fill="#ff00ff" stroke="#ff00ff" stroke-width="0.3"/>
<path d="M784.41,877.74 L787.61,883.66 L781.21,883.66 Z" fill="#ff00ff" stroke="#ff00ff" stroke-width="0.3"/>
<path d="M784.91,878.36 L788.11,884.28 L781.71,884.28 Z" fill="#ff00ff" stroke="#ff00ff" stroke-width="0.3"/>
<path d="M785.41,878.98 L788.61,884.90 L782.21,884.90 Z" fill="#ff00ff" stroke="#ff00ff" stroke-width="0.3"/>
<path d="M785.92,879.60 L789.12,885.52 L782.72,885.52 Z" fill="#ff00ff" stroke="#ff00ff" stroke-width="0.3"/>
<path d="M786.43,880.21 L789.63,886.13 L783.23,886.13 Z" fill="#ff00ff" stroke="#ff00ff" stroke-width="0.3"/>
<path d="M786.96,880.82 L790.16,886.74 L783.76,886.74 Z" fill="#ff00ff" stroke="#ff00ff" stroke-width="0.3"/>
<path d="M787.49,881.42 L790.69,887.34 L784.29,887.34 Z" fill="#ff00ff" stroke="#ff00ff" stroke-width="0.3"/>
<path d="M788.03,882.00 L791.23,887.92 L784.83,887.92 Z" fill="#ff00ff" stroke="#ff00ff" stroke-width="0.3"/>
<path d="M788.59,882.58 L791.79,888.50 L785.39,888.50 Z" fill="#ff00ff" stroke="#ff00ff" stroke-width="0.3"/>
<path d="M789.16,883.14 L792.36,889.06 L785.96,889.06 Z" fill="#ff00ff" stroke="#ff00ff" stroke-width="0.3"/>
<path d="M789.75,883.67 L792.95,889.59 L786.55,889.59 Z" fill="#ff00ff" stroke="#ff00ff" stroke-width="0.3"/>
<path d="M790.36,884.19 L793.56,890.11 L787.16,890.11 Z" fill="#ff00ff" stroke="#ff00ff" stroke-width="0.3"/>
<path d="M790.98,884.70 L794.18,890.62 L787.78,890.62 Z" fill="#ff00ff" stroke="#ff00ff" stroke-width="0.3"/>
<path d="M791.62,885.19 L794.82,891.11 L788.42,891.11 Z" fill="#ff00ff" stroke="#ff00ff" stroke-width="0.3"/>
<path d="M702.8,839.6 L702.9,839.3 L703.0,839.0 L703.1,838.7 L703.1,838.4 L703.2,838.2 L703.3,837.9 L703.4,837.6 L703.5,837.3 L703.6,837.0 L703.7,836.7 L703.7,836.4 L703.8,836.1 L703.9,835.9 L704.0,835.6 L704.1,835.3 L704.2,835.0 L704.2,834.7 L704.3,834.4 L704.4,834.1 L704.5,833.8 L704.6,833.5 L704.7,833.2 L704.7,833.0 L704.8,832.7 L704.9,832.4 L705.0,832.1 L705.1,831.8 L705.1,831.5 L705.2,831.2 L705.3,830.9 L705.4,830.6 L705.5,830.4 L705.5,830.1 L705.6,829.8 L705.7,829.5 L705.8,829.2 L705.8,828.9 L705.9,828.6 L706.0,828.3 L706.1,828.0 L706.1,827.7 L706.2,827.4 L706.3,827.2 L706.4,826.9 L706.4,826.6 L706.5,826.3 L706.6,826.0 L706.7,825.7 L706.7,825.4 L706.8,825.1 L706.9,824.8 L707.0,824.5 L707.0,824.2 L707.1,823.9 L707.2,823.7 L707.2,823.4 L707.3,823.1 L707.4,822.8 L707.5,822.5 L707.5,822.2 L707.6,821.9 L707.7,821.6 L707.7,821.3 L707.8,821.0 L707.9,820.7 L708.0,820.4 L708.0,820.1 L708.1,819.9 L708.2,819.6 L708.2,819.3 L708.3,819.0 L708.4,818.7 L708.4,818.4 L708.5,818.1 L708.6,817.8 L708.7,817.5 L708.7,817.2 L708.8,816.9 L708.9,816.6 L708.9,816.3 L709.0,816.1 L709.1,815.8 L709.1,815.5 L709.2,815.2 L709.3,814.9 L709.4,814.6 L709.4,814.3 L709.5,814.0 L709.6,813.7 L709.6,813.4 L709.7,813.1 L709.8,812.8 L709.8,812.5 L709.9,812.3 L710.0,812.0 L710.0,811.7 L710.1,811.4 L710.2,811.1 L710.2,810.8 L710.3,810.5 L710.4,810.2 L710.5,809.9 L710.5,809.6 L710.6,809.3 L710.7,809.0 L710.7,808.7 L710.8,808.4 L710.9,808.2 L710.9,807.9 L711.0,807.6 L711.1,807.3 L711.1,807.0 L711.2,806.7 L711.3,806.4 L711.3,806.1 L711.4,805.8 L711.5,805.5 L711.5,805.2 L711.6,804.9 L711.7,804.6 L711.7,804.3 L711.8,804.1 L711.9,803.8 L712.0,803.5 L712.0,803.2 L712.1,802.9 L712.2,802.6 L712.2,802.3 L712.3,802.0 L712.4,801.7 L712.4,801.4 L712.5,801.1 L712.6,800.8 L712.6,800.5 L712.7,800.2 L712.8,800.0 L712.8,799.7 L712.9,799.4 L713.0,799.1 L713.1,798.8 L713.1,798.5 L713.2,798.2 L713.3,797.9 L713.3,797.6 L713.4,797.3 L713.5,797.0 L713.5,796.7 L713.6,796.4 L713.7,796.2 L713.8,795.9 L713.8,795.6 L713.9,795.3 L714.0,795.0 L714.0,794.7 L714.1,794.4 L714.2,794.1 L714.2,793.8 L714.3,793.5 L714.4,793.2 L714.5,792.9 L714.5,792.6 L714.6,792.4 L714.7,792.1 L714.7,791.8 L714.8,791.5 L714.9,791.2 L715.0,790.9 L715.0,790.6 L715.1,790.3 L715.2,790.0 L715.2,789.7 L715.3,789.4 L715.4,789.1 L715.5,788.8 L715.5,788.6 L715.6,788.3 L715.7,788.0 L715.7,787.7 L715.8,787.4 L715.9,787.1 L716.0,786.8 L716.0,786.5 L716.1,786.2 L716.2,785.9 L716.2,785.6 L716.3,785.3 L716.4,785.0 L716.4,784.8 L716.5,784.5 L716.6,784.2 L716.7,783.9 L716.7,783.6 L716.8,783.3 L716.9,783.0 L716.9,782.7 L717.0,782.4 L717.1,782.1 L717.1,781.8 L717.2,781.5 L717.3,781.2 L717.3,781.0 L717.4,780.7 L717.5,780.4 L717.5,780.1 L717.6,779.8 L717.7,779.5 L717.7,779.2 L717.8,778.9 L717.9,778.6 L717.9,778.3 L718.0,778.0 L718.1,777.7 L718.1,777.4 L718.2,777.1 L718.3,776.8 L718.3,776.5 L718.4,776.3 L718.4,776.0 L718.5,775.7 L718.6,775.4 L718.6,775.1 L718.7,774.8 L718.8,774.5 L718.8,774.2 L718.9,773.9 L718.9,773.6 L719.0,773.3 L719.1,773.0 L719.1,772.7 L719.2,772.4 L719.2,772.1 L719.3,771.8 L719.4,771.5 L719.4,771.3 L719.5,771.0 L719.6,770.7 L719.6,770.4 L719.7,770.1 L719.7,769.8 L719.8,769.5 L719.9,769.2 L719.9,768.9 L720.0,768.6 L720.0,768.3 L720.1,768.0 L720.2,767.7 L720.2,767.4 L720.3,767.1 L720.3,766.8 L720.4,766.5 L720.5,766.2 L720.5,766.0 L720.6,765.7 L720.6,765.4 L720.7,765.1 L720.7,764.8 L720.8,764.5 L720.8,764.2 L720.9,763.8 L720.9,763.5 L721.0,763.2 L721.0,762.9 L721.1,762.6 L721.1,762.3 L721.2,762.0 L721.2,761.7 L721.3,761.4 L721.3,761.2 L721.4,760.9 L721.5,760.6 L721.6,760.3 L721.6,760.0 L721.7,759.7 L721.8,759.5 L721.9,759.2 L722.0,758.8 L722.2,758.5 L722.4,758.2 L722.5,757.9 L722.7,757.7 L722.9,757.6 L723.2,757.6 L723.5,757.7 L723.8,757.7 L724.1,757.8 L724.4,757.9 L724.6,758.1 L724.7,758.2 L724.9,758.4 L725.0,758.7 L725.2,759.0 L725.3,759.3 L725.4,759.6 L725.5,759.9 L725.6,760.3 L725.7,760.6 L725.8,760.9 L725.9,761.2 L725.9,761.5 L726.0,761.7 L726.1,762.0 L726.2,762.3 L726.3,762.6 L726.3,762.9 L726.4,763.2 L726.5,763.5 L726.6,763.8 L726.6,764.1 L726.7,764.4 L726.8,764.7 L726.8,764.9 L726.9,765.2 L727.0,765.5 L727.0,765.8 L727.1,766.1 L727.2,766.4 L727.2,766.7 L727.3,767.0 L727.3,767.3 L727.4,767.6 L727.5,767.9 L727.5,768.2 L727.6,768.5 L727.7,768.8 L727.8,769.1 L727.8,769.4 L727.9,769.7 L728.0,769.9 L728.1,770.2 L728.1,770.5 L728.2,770.8 L728.3,771.1 L728.3,771.4 L728.4,771.7 L728.5,772.0 L728.5,772.3 L728.6,772.6 L728.6,772.9 L728.7,773.2 L728.7,773.5 L728.7,773.8 L728.8,774.1 L728.8,774.4 L728.8,774.7 L728.8,775.0 L728.9,775.3 L728.9,775.6 L728.9,775.9 L728.9,776.2 L729.0,776.5 L729.0,776.8 L729.0,777.1 L729.0,777.4 L729.0,777.7 L729.1,778.0 L729.1,778.3 L729.1,778.6 L729.1,778.9 L729.1,779.2 L729.2,779.5 L729.2,779.8 L729.2,780.1 L729.2,780.4 L729.2,780.7 L729.3,781.0 L729.3,781.3 L729.3,781.6 L729.3,782.0 L729.3,782.3 L729.3,782.6 L729.3,782.9 L729.3,783.3 L729.4,783.6 L729.4,783.9 L729.4,784.2 L729.4,784.5 L729.4,784.8 L729.4,785.1 L729.5,785.4 L729.5,785.6 L729.5,785.9 L729.5,786.2 L729.6,786.4 L729.6,786.6 L729.7,786.8 L729.9,787.0 L730.1,787.2 L730.4,787.4 L730.7,787.6 L731.0,787.8 L731.3,788.0 L731.6,788.1 L731.8,788.3 L732.0,788.5 L732.3,788.8 L732.5,789.0 L732.7,789.2 L732.9,789.4 L733.1,789.6 L733.3,789.9 L733.5,790.1 L733.7,790.3 L733.9,790.6 L734.1,790.8 L734.2,791.0 L734.4,791.3 L734.5,791.6 L734.7,791.8 L734.8,792.1 L734.9,792.3 L735.0,792.6 L735.2,792.9 L735.3,793.2 L735.4,793.5 L735.5,793.8 L735.6,794.1 L735.7,794.4 L735.7,794.7 L735.8,794.9 L735.9,795.2 L735.9,795.5 L735.9,795.8 L736.0,796.1 L736.0,796.4 L736.0,796.7 L736.1,797.0 L736.1,797.3 L736.1,797.6 L736.2,797.9 L736.2,798.2 L736.2,798.5 L736.2,798.8 L736.2,799.1 L736.3,799.4 L736.3,799.7 L736.3,800.0 L736.3,800.3 L736.3,800.6 L736.4,800.9 L736.4,801.2 L736.4,801.5 L736.4,801.8 L736.4,802.1 L736.4,802.4 L736.4,802.7 L736.5,803.0 L736.5,803.3 L736.5,803.6 L736.5,803.9 L736.5,804.2 L736.5,804.5 L736.5,804.8 L736.6,805.1 L736.6,805.4 L736.6,805.7 L736.6,806.0 L736.6,806.3 L736.7,806.6 L736.7,806.9 L736.7,807.2 L736.8,807.5 L736.8,807.8 L736.8,808.1 L736.8,808.4 L736.9,808.7 L736.9,809.0 L737.0,809.3 L737.0,809.6 L737.0,809.9 L737.1,810.2 L737.1,810.5 L737.2,810.8 L737.2,811.1 L737.3,811.4 L737.3,811.7 L737.4,812.0 L737.4,812.3 L737.5,812.6 L737.6,812.9 L737.6,813.2 L737.7,813.5 L737.7,813.8 L737.8,814.1 L737.9,814.3 L737.9,814.6 L738.0,814.9 L738.1,815.2 L738.1,815.5 L738.2,815.8 L738.3,816.1 L738.3,816.4 L738.4,816.7 L738.5,817.0 L738.5,817.3 L738.6,817.6 L738.6,817.9 L738.7,818.2 L738.8,818.5 L738.8,818.8 L738.9,819.1 L739.0,819.3 L739.0,819.6 L739.1,819.9 L739.2,820.2 L739.3,820.5 L739.3,820.8 L739.4,821.1 L739.5,821.4 L739.5,821.7 L739.6,822.0 L739.7,822.3 L739.8,822.6 L739.8,822.8 L739.9,823.1 L740.0,823.4 L740.1,823.7 L740.2,824.0 L740.2,824.3 L740.3,824.6 L740.4,824.9 L740.5,825.2 L740.6,825.5 L740.6,825.7 L740.7,826.0 L740.8,826.3 L740.9,826.6 L741.0,826.9 L741.0,827.2 L741.1,827.5 L741.2,827.8 L741.3,828.1 L741.3,828.4 L741.4,828.7 L741.5,828.9 L741.6,829.2 L741.6,829.5 L741.7,829.8 L741.8,830.1 L741.8,830.4 L741.9,830.7 L742.0,831.0 L742.1,831.3 L742.1,831.6 L742.2,831.9 L742.3,832.2 L742.3,832.5 L742.4,832.7 L742.5,833.0 L742.5,833.3 L742.6,833.6 L742.7,833.9 L742.7,834.2 L742.8,834.5 L742.9,834.8 L742.9,835.1 L743.0,835.4 L743.1,835.7 L743.2,836.0 L743.2,836.3 L743.3,836.5 L743.4,836.8 L743.4,837.1 L743.5,837.4 L743.6,837.7 L743.7,838.0 L743.7,838.3 L743.8,838.6 L743.9,838.9 L744.0,839.2 L744.1,839.5 L744.1,839.7 L744.2,840.0 L744.3,840.3 L744.4,840.6 L744.4,840.9 L744.5,841.2 L744.6,841.5 L744.7,841.8 L744.8,842.1 L744.9,842.4 L744.9,842.6 L745.0,842.9 L745.1,843.2 L745.2,843.5 L745.3,843.8 L745.3,844.1 L745.4,844.4 L745.5,844.7 L745.6,845.0 L745.7,845.2 L745.8,845.5 L745.8,845.8 L745.9,846.1 L746.0,846.4 L746.1,846.7 L746.2,847.0 L746.3,847.3 L746.4,847.6 L746.5,847.8 L746.5,848.1 L746.6,848.4 L746.7,848.7 L746.8,849.0 L746.9,849.3 L747.0,849.6 L747.1,849.9 L747.2,850.1 L747.3,850.4 L747.3,850.7 L747.4,851.0 L747.5,851.3 L747.6,851.6 L747.7,851.9 L747.8,852.1 L747.9,852.4 L748.0,852.7 L748.1,853.0 L748.2,853.3 L748.3,853.6 L748.4,853.9 L748.4,854.1 L748.5,854.4 L748.6,854.7 L748.7,855.0 L748.8,855.3 L748.9,855.6 L749.0,855.9 L749.1,856.1 L749.2,856.4 L749.3,856.7 L749.4,857.0 L749.5,857.3 L749.6,857.6 L749.7,857.9 L749.8,858.1 L749.9,858.4 L750.0,858.7 L750.1,859.0 L750.2,859.3 L750.3,859.6 L750.4,859.8 L750.5,860.1 L750.6,860.4 L750.7,860.7 L750.8,861.0 L750.9,861.3 L751.0,861.5 L751.1,861.8 L751.2,862.1 L751.3,862.4 L751.4,862.7 L751.5,863.0 L751.7,863.2 L751.8,863.5 L751.9,863.8 L752.0,864.1 L752.1,864.3 L752.2,864.6 L752.3,864.9 L752.4,865.2 L752.6,865.5 L752.7,865.7 L752.8,866.0 L752.9,866.3 L753.0,866.6 L753.1,866.8 L753.3,867.1 L753.4,867.4 L753.5,867.7 L753.6,867.9 L753.8,868.2 L753.9,868.5 L754.0,868.7 L754.2,869.0 L754.3,869.3 L754.5,869.6 L754.6,869.8 L754.8,870.1 L754.9,870.3 L755.1,870.6 L755.2,870.8 L755.4,871.1 L755.5,871.3 L755.7,871.6 L755.9,871.8 L756.0,872.1 L756.2,872.3 L756.4,872.6 L756.6,872.8 L756.8,873.0 L756.9,873.3 L757.1,873.5 L757.3,873.8 L757.5,874.0 L757.7,874.2 L757.9,874.5 L758.1,874.7 L758.3,874.9 L758.5,875.2 L758.7,875.4 L758.9,875.6 L759.1,875.9 L759.3,876.1 L759.4,876.3 L759.6,876.5 L759.8,876.8 L760.0,877.0 L760.2,877.2 L760.4,877.5 L760.6,877.7 L760.8,877.9 L761.0,878.1 L761.2,878.4 L761.4,878.6 L761.6,878.8 L761.8,879.0 L762.0,879.2 L762.2,879.5 L762.4,879.7 L762.6,879.9 L762.8,880.1 L763.1,880.3 L763.3,880.6 L763.5,880.8 L763.7,881.0 L763.9,881.2 L764.1,881.4 L764.3,881.6 L764.5,881.9 L764.7,882.1 L764.9,882.3 L765.2,882.5 L765.4,882.7 L765.6,882.9 L765.8,883.1 L766.0,883.4 L766.2,883.6 L766.4,883.8 L766.6,884.0 L766.9,884.2 L767.1,884.4 L767.3,884.6 L767.5,884.8 L767.7,885.0 L767.9,885.2 L768.2,885.5 L768.4,885.7 L768.6,885.9 L768.8,886.1 L769.0,886.3 L769.2,886.5 L769.5,886.7 L769.7,886.9 L769.9,887.1 L770.1,887.3 L770.3,887.5 L770.6,887.7 L770.8,887.9 L771.0,888.2 L771.2,888.4 L771.4,888.6 L771.7,888.8 L771.9,889.0 L772.1,889.2 L772.3,889.4 L772.5,889.6 L772.8,889.8 L773.0,890.0 L773.2,890.2 L773.5,890.4 L773.7,890.6 L773.9,890.8 L774.1,891.0 L774.4,891.2 L774.6,891.4 L774.8,891.5 L775.1,891.7 L775.3,891.9 L775.5,892.1 L775.8,892.3 L776.0,892.5 L776.2,892.7 L776.5,892.9 L776.7,893.0 L776.9,893.2 L777.2,893.4 L777.4,893.6 L777.6,893.8 L777.9,894.0 L778.1,894.2 L778.4,894.3 L778.6,894.5 L778.8,894.7 L779.1,894.9 L779.3,895.1 L779.6,895.2 L779.8,895.4 L780.1,895.6 L780.3,895.8 L780.6,895.9 L780.8,896.1 L781.1,896.3 L781.3,896.4 L781.6,896.6 L781.8,896.8 L782.1,896.9 L782.3,897.1 L782.6,897.3 L782.8,897.4 L783.1,897.6 L783.3,897.7 L783.6,897.9 L783.8,898.0 L784.1,898.2 L784.4,898.3 L784.6,898.5 L784.9,898.6 L785.2,898.7 L785.4,898.9 L785.7,899.0 L786.0,899.1 L786.2,899.3 L786.5,899.4 L786.8,899.5 L787.1,899.7 L787.3,899.8 L787.6,899.9 L787.9,900.0 L788.2,900.2 L788.4,900.3 L788.7,900.4 L789.0,900.5" fill="none" stroke="#808000" stroke-width="0.6" stroke-linejoin="round" stroke-linecap="butt" />
<rect x="700.65" y="837.45" width="4.3" height="4.3" fill="#fff" stroke="#808000" stroke-width="0.55"/>
<rect x="701.08" y="836.01" width="4.3" height="4.3" fill="#fff" stroke="#808000" stroke-width="0.55"/>
<rect x="701.51" y="834.57" width="4.3" height="4.3" fill="#fff" stroke="#808000" stroke-width="0.55"/>
<rect x="701.93" y="833.13" width="4.3" height="4.3" fill="#fff" stroke="#808000" stroke-width="0.55"/>
<rect x="702.34" y="831.69" width="4.3" height="4.3" fill="#fff" stroke="#808000" stroke-width="0.55"/>
<rect x="702.74" y="830.25" width="4.3" height="4.3" fill="#fff" stroke="#808000" stroke-width="0.55"/>
<rect x="703.14" y="828.80" width="4.3" height="4.3" fill="#fff" stroke="#808000" stroke-width="0.55"/>
<rect x="703.53" y="827.35" width="4.3" height="4.3" fill="#fff" stroke="#808000" stroke-width="0.55"/>
<rect x="703.91" y="825.90" width="4.3" height="4.3" fill="#fff" stroke="#808000" stroke-width="0.55"/>
<rect x="704.29" y="824.45" width="4.3" height="4.3" fill="#fff" stroke="#808000" stroke-width="0.55"/>
<rect x="704.66" y="823.00" width="4.3" height="4.3" fill="#fff" stroke="#808000" stroke-width="0.55"/>
<rect x="705.02" y="821.54" width="4.3" height="4.3" fill="#fff" stroke="#808000" stroke-width="0.55"/>
<rect x="705.37" y="820.08" width="4.3" height="4.3" fill="#fff" stroke="#808000" stroke-width="0.55"/>
<rect x="705.72" y="818.62" width="4.3" height="4.3" fill="#fff" stroke="#808000" stroke-width="0.55"/>
<rect x="706.07" y="817.17" width="4.3" height="4.3" fill="#fff" stroke="#808000" stroke-width="0.55"/>
<rect x="706.43" y="815.71" width="4.3" height="4.3" fill="#fff" stroke="#808000" stroke-width="0.55"/>
<rect x="706.77" y="814.25" width="4.3" height="4.3" fill="#fff" stroke="#808000" stroke-width="0.55"/>
<rect x="707.12" y="812.79" width="4.3" height="4.3" fill="#fff" stroke="#808000" stroke-width="0.55"/>
<rect x="707.47" y="811.33" width="4.3" height="4.3" fill="#fff" stroke="#808000" stroke-width="0.55"/>
<rect x="707.81" y="809.87" width="4.3" height="4.3" fill="#fff" stroke="#808000" stroke-width="0.55"/>
<rect x="708.15" y="808.41" width="4.3" height="4.3" fill="#fff" stroke="#808000" stroke-width="0.55"/>
<rect x="708.49" y="806.95" width="4.3" height="4.3" fill="#fff" stroke="#808000" stroke-width="0.55"/>
<rect x="708.83" y="805.49" width="4.3" height="4.3" fill="#fff" stroke="#808000" stroke-width="0.55"/>
<rect x="709.17" y="804.03" width="4.3" height="4.3" fill="#fff" stroke="#808000" stroke-width="0.55"/>
<rect x="709.51" y="802.57" width="4.3" height="4.3" fill="#fff" stroke="#808000" stroke-width="0.55"/>
<rect x="709.85" y="801.10" width="4.3" height="4.3" fill="#fff" stroke="#808000" stroke-width="0.55"/>
<rect x="710.19" y="799.64" width="4.3" height="4.3" fill="#fff" stroke="#808000" stroke-width="0.55"/>
<rect x="710.54" y="798.18" width="4.3" height="4.3" fill="#fff" stroke="#808000" stroke-width="0.55"/>
<rect x="710.88" y="796.72" width="4.3" height="4.3" fill="#fff" stroke="#808000" stroke-width="0.55"/>
<rect x="711.23" y="795.26" width="4.3" height="4.3" fill="#fff" stroke="#808000" stroke-width="0.55"/>
<rect x="711.58" y="793.81" width="4.3" height="4.3" fill="#fff" stroke="#808000" stroke-width="0.55"/>
<rect x="711.93" y="792.35" width="4.3" height="4.3" fill="#fff" stroke="#808000" stroke-width="0.55"/>
<rect x="712.28" y="790.89" width="4.3" height="4.3" fill="#fff" stroke="#808000" stroke-width="0.55"/>
<rect x="712.64" y="789.43" width="4.3" height="4.3" fill="#fff" stroke="#808000" stroke-width="0.55"/>
<rect x="713.00" y="787.98" width="4.3" height="4.3" fill="#fff" stroke="#808000" stroke-width="0.55"/>
<rect x="713.35" y="786.52" width="4.3" height="4.3" fill="#fff" stroke="#808000" stroke-width="0.55"/>
<rect x="713.70" y="785.06" width="4.3" height="4.3" fill="#fff" stroke="#808000" stroke-width="0.55"/>
<rect x="714.05" y="783.60" width="4.3" height="4.3" fill="#fff" stroke="#808000" stroke-width="0.55"/>
<rect x="714.40" y="782.14" width="4.3" height="4.3" fill="#fff" stroke="#808000" stroke-width="0.55"/>
<rect x="714.75" y="780.68" width="4.3" height="4.3" fill="#fff" stroke="#808000" stroke-width="0.55"/>
<rect x="715.09" y="779.22" width="4.3" height="4.3" fill="#fff" stroke="#808000" stroke-width="0.55"/>
<rect x="715.42" y="777.76" width="4.3" height="4.3" fill="#fff" stroke="#808000" stroke-width="0.55"/>
<rect x="715.75" y="776.30" width="4.3" height="4.3" fill="#fff" stroke="#808000" stroke-width="0.55"/>
<rect x="716.07" y="774.83" width="4.3" height="4.3" fill="#fff" stroke="#808000" stroke-width="0.55"/>
<rect x="716.39" y="773.37" width="4.3" height="4.3" fill="#fff" stroke="#808000" stroke-width="0.55"/>
<rect x="716.70" y="771.90" width="4.3" height="4.3" fill="#fff" stroke="#808000" stroke-width="0.55"/>
<rect x="717.01" y="770.43" width="4.3" height="4.3" fill="#fff" stroke="#808000" stroke-width="0.55"/>
<rect x="717.31" y="768.96" width="4.3" height="4.3" fill="#fff" stroke="#808000" stroke-width="0.55"/>
<rect x="717.61" y="767.49" width="4.3" height="4.3" fill="#fff" stroke="#808000" stroke-width="0.55"/>
<rect x="717.91" y="766.02" width="4.3" height="4.3" fill="#fff" stroke="#808000" stroke-width="0.55"/>
<rect x="718.21" y="764.55" width="4.3" height="4.3" fill="#fff" stroke="#808000" stroke-width="0.55"/>
<rect x="718.50" y="763.08" width="4.3" height="4.3" fill="#fff" stroke="#808000" stroke-width="0.55"/>
<rect x="718.74" y="761.60" width="4.3" height="4.3" fill="#fff" stroke="#808000" stroke-width="0.55"/>
<rect x="718.98" y="760.12" width="4.3" height="4.3" fill="#fff" stroke="#808000" stroke-width="0.55"/>
<rect x="719.28" y="758.65" width="4.3" height="4.3" fill="#fff" stroke="#808000" stroke-width="0.55"/>
<rect x="719.70" y="757.21" width="4.3" height="4.3" fill="#fff" stroke="#808000" stroke-width="0.55"/>
<rect x="720.32" y="755.85" width="4.3" height="4.3" fill="#fff" stroke="#808000" stroke-width="0.55"/>
<rect x="721.65" y="755.59" width="4.3" height="4.3" fill="#fff" stroke="#808000" stroke-width="0.55"/>
<rect x="723.29" y="757.64" width="4.3" height="4.3" fill="#fff" stroke="#808000" stroke-width="0.55"/>
<rect x="724.08" y="760.32" width="4.3" height="4.3" fill="#fff" stroke="#808000" stroke-width="0.55"/>
<rect x="724.74" y="763.04" width="4.3" height="4.3" fill="#fff" stroke="#808000" stroke-width="0.55"/>
<rect x="725.33" y="765.78" width="4.3" height="4.3" fill="#fff" stroke="#808000" stroke-width="0.55"/>
<rect x="726.00" y="768.50" width="4.3" height="4.3" fill="#fff" stroke="#808000" stroke-width="0.55"/>
<rect x="726.54" y="771.25" width="4.3" height="4.3" fill="#fff" stroke="#808000" stroke-width="0.55"/>
<rect x="726.80" y="774.03" width="4.3" height="4.3" fill="#fff" stroke="#808000" stroke-width="0.55"/>
<rect x="726.98" y="776.83" width="4.3" height="4.3" fill="#fff" stroke="#808000" stroke-width="0.55"/>
<rect x="727.14" y="779.62" width="4.3" height="4.3" fill="#fff" stroke="#808000" stroke-width="0.55"/>
<rect x="727.26" y="782.42" width="4.3" height="4.3" fill="#fff" stroke="#808000" stroke-width="0.55"/>
<rect x="727.94" y="785.03" width="4.3" height="4.3" fill="#fff" stroke="#808000" stroke-width="0.55"/>
<rect x="729.03" y="785.74" width="4.3" height="4.3" fill="#fff" stroke="#808000" stroke-width="0.55"/>
<rect x="730.05" y="786.55" width="4.3" height="4.3" fill="#fff" stroke="#808000" stroke-width="0.55"/>
<rect x="730.96" y="787.48" width="4.3" height="4.3" fill="#fff" stroke="#808000" stroke-width="0.55"/>
<rect x="731.79" y="788.47" width="4.3" height="4.3" fill="#fff" stroke="#808000" stroke-width="0.55"/>
<rect x="732.47" y="789.58" width="4.3" height="4.3" fill="#fff" stroke="#808000" stroke-width="0.55"/>
<rect x="733.01" y="790.76" width="4.3" height="4.3" fill="#fff" stroke="#808000" stroke-width="0.55"/>
<rect x="733.44" y="791.98" width="4.3" height="4.3" fill="#fff" stroke="#808000" stroke-width="0.55"/>
<rect x="733.73" y="793.25" width="4.3" height="4.3" fill="#fff" stroke="#808000" stroke-width="0.55"/>
<rect x="733.89" y="794.54" width="4.3" height="4.3" fill="#fff" stroke="#808000" stroke-width="0.55"/>
<rect x="734.02" y="795.83" width="4.3" height="4.3" fill="#fff" stroke="#808000" stroke-width="0.55"/>
<rect x="734.11" y="797.13" width="4.3" height="4.3" fill="#fff" stroke="#808000" stroke-width="0.55"/>
<rect x="734.19" y="798.43" width="4.3" height="4.3" fill="#fff" stroke="#808000" stroke-width="0.55"/>
<rect x="734.25" y="799.73" width="4.3" height="4.3" fill="#fff" stroke="#808000" stroke-width="0.55"/>
<rect x="734.31" y="801.03" width="4.3" height="4.3" fill="#fff" stroke="#808000" stroke-width="0.55"/>
<rect x="734.38" y="802.32" width="4.3" height="4.3" fill="#fff" stroke="#808000" stroke-width="0.55"/>
<rect x="734.46" y="803.62" width="4.3" height="4.3" fill="#fff" stroke="#808000" stroke-width="0.55"/>
<rect x="734.56" y="804.92" width="4.3" height="4.3" fill="#fff" stroke="#808000" stroke-width="0.55"/>
<rect x="734.69" y="806.21" width="4.3" height="4.3" fill="#fff" stroke="#808000" stroke-width="0.55"/>
<rect x="734.86" y="807.50" width="4.3" height="4.3" fill="#fff" stroke="#808000" stroke-width="0.55"/>
<rect x="735.06" y="808.78" width="4.3" height="4.3" fill="#fff" stroke="#808000" stroke-width="0.55"/>
<rect x="735.29" y="810.06" width="4.3" height="4.3" fill="#fff" stroke="#808000" stroke-width="0.55"/>
<rect x="735.54" y="811.34" width="4.3" height="4.3" fill="#fff" stroke="#808000" stroke-width="0.55"/>
<rect x="735.81" y="812.61" width="4.3" height="4.3" fill="#fff" stroke="#808000" stroke-width="0.55"/>
<rect x="736.09" y="813.88" width="4.3" height="4.3" fill="#fff" stroke="#808000" stroke-width="0.55"/>
<rect x="736.37" y="815.15" width="4.3" height="4.3" fill="#fff" stroke="#808000" stroke-width="0.55"/>
<rect x="736.65" y="816.42" width="4.3" height="4.3" fill="#fff" stroke="#808000" stroke-width="0.55"/>
<rect x="736.94" y="817.69" width="4.3" height="4.3" fill="#fff" stroke="#808000" stroke-width="0.55"/>
<rect x="737.25" y="818.95" width="4.3" height="4.3" fill="#fff" stroke="#808000" stroke-width="0.55"/>
<rect x="737.57" y="820.21" width="4.3" height="4.3" fill="#fff" stroke="#808000" stroke-width="0.55"/>
<rect x="737.91" y="821.46" width="4.3" height="4.3" fill="#fff" stroke="#808000" stroke-width="0.55"/>
<rect x="738.25" y="822.72" width="4.3" height="4.3" fill="#fff" stroke="#808000" stroke-width="0.55"/>
<rect x="738.59" y="823.97" width="4.3" height="4.3" fill="#fff" stroke="#808000" stroke-width="0.55"/>
<rect x="738.93" y="825.23" width="4.3" height="4.3" fill="#fff" stroke="#808000" stroke-width="0.55"/>
<rect x="739.26" y="826.49" width="4.3" height="4.3" fill="#fff" stroke="#808000" stroke-width="0.55"/>
<rect x="739.57" y="827.75" width="4.3" height="4.3" fill="#fff" stroke="#808000" stroke-width="0.55"/>
<rect x="739.88" y="829.01" width="4.3" height="4.3" fill="#fff" stroke="#808000" stroke-width="0.55"/>
<rect x="740.17" y="830.28" width="4.3" height="4.3" fill="#fff" stroke="#808000" stroke-width="0.55"/>
<rect x="740.47" y="831.54" width="4.3" height="4.3" fill="#fff" stroke="#808000" stroke-width="0.55"/>
<rect x="740.77" y="832.81" width="4.3" height="4.3" fill="#fff" stroke="#808000" stroke-width="0.55"/>
<rect x="741.07" y="834.07" width="4.3" height="4.3" fill="#fff" stroke="#808000" stroke-width="0.55"/>
<rect x="741.39" y="835.33" width="4.3" height="4.3" fill="#fff" stroke="#808000" stroke-width="0.55"/>
<rect x="741.71" y="836.59" width="4.3" height="4.3" fill="#fff" stroke="#808000" stroke-width="0.55"/>
<rect x="742.05" y="837.85" width="4.3" height="4.3" fill="#fff" stroke="#808000" stroke-width="0.55"/>
<rect x="742.39" y="839.10" width="4.3" height="4.3" fill="#fff" stroke="#808000" stroke-width="0.55"/>
<rect x="742.74" y="840.35" width="4.3" height="4.3" fill="#fff" stroke="#808000" stroke-width="0.55"/>
<rect x="743.10" y="841.60" width="4.3" height="4.3" fill="#fff" stroke="#808000" stroke-width="0.55"/>
<rect x="743.46" y="842.85" width="4.3" height="4.3" fill="#fff" stroke="#808000" stroke-width="0.55"/>
<rect x="743.82" y="844.10" width="4.3" height="4.3" fill="#fff" stroke="#808000" stroke-width="0.55"/>
<rect x="744.20" y="845.35" width="4.3" height="4.3" fill="#fff" stroke="#808000" stroke-width="0.55"/>
<rect x="744.57" y="846.59" width="4.3" height="4.3" fill="#fff" stroke="#808000" stroke-width="0.55"/>
<rect x="744.96" y="847.83" width="4.3" height="4.3" fill="#fff" stroke="#808000" stroke-width="0.55"/>
<rect x="745.35" y="849.07" width="4.3" height="4.3" fill="#fff" stroke="#808000" stroke-width="0.55"/>
<rect x="745.75" y="850.31" width="4.3" height="4.3" fill="#fff" stroke="#808000" stroke-width="0.55"/>
<rect x="746.15" y="851.55" width="4.3" height="4.3" fill="#fff" stroke="#808000" stroke-width="0.55"/>
<rect x="746.56" y="852.78" width="4.3" height="4.3" fill="#fff" stroke="#808000" stroke-width="0.55"/>
<rect x="746.97" y="854.01" width="4.3" height="4.3" fill="#fff" stroke="#808000" stroke-width="0.55"/>
<rect x="747.39" y="855.24" width="4.3" height="4.3" fill="#fff" stroke="#808000" stroke-width="0.55"/>
<rect x="747.81" y="856.47" width="4.3" height="4.3" fill="#fff" stroke="#808000" stroke-width="0.55"/>
<rect x="748.24" y="857.70" width="4.3" height="4.3" fill="#fff" stroke="#808000" stroke-width="0.55"/>
<rect x="748.69" y="858.92" width="4.3" height="4.3" fill="#fff" stroke="#808000" stroke-width="0.55"/>
<rect x="749.14" y="860.14" width="4.3" height="4.3" fill="#fff" stroke="#808000" stroke-width="0.55"/>
<rect x="749.61" y="861.35" width="4.3" height="4.3" fill="#fff" stroke="#808000" stroke-width="0.55"/>
<rect x="750.09" y="862.56" width="4.3" height="4.3" fill="#fff" stroke="#808000" stroke-width="0.55"/>
<rect x="750.59" y="863.76" width="4.3" height="4.3" fill="#fff" stroke="#808000" stroke-width="0.55"/>
<rect x="751.11" y="864.95" width="4.3" height="4.3" fill="#fff" stroke="#808000" stroke-width="0.55"/>
<rect x="751.66" y="866.13" width="4.3" height="4.3" fill="#fff" stroke="#808000" stroke-width="0.55"/>
<rect x="752.25" y="867.29" width="4.3" height="4.3" fill="#fff" stroke="#808000" stroke-width="0.55"/>
<rect x="752.89" y="868.42" width="4.3" height="4.3" fill="#fff" stroke="#808000" stroke-width="0.55"/>
<rect x="753.60" y="869.51" width="4.3" height="4.3" fill="#fff" stroke="#808000" stroke-width="0.55"/>
<rect x="754.35" y="870.57" width="4.3" height="4.3" fill="#fff" stroke="#808000" stroke-width="0.55"/>
<rect x="755.15" y="871.60" width="4.3" height="4.3" fill="#fff" stroke="#808000" stroke-width="0.55"/>
<rect x="755.97" y="872.60" width="4.3" height="4.3" fill="#fff" stroke="#808000" stroke-width="0.55"/>
<rect x="756.81" y="873.60" width="4.3" height="4.3" fill="#fff" stroke="#808000" stroke-width="0.55"/>
<rect x="757.66" y="874.58" width="4.3" height="4.3" fill="#fff" stroke="#808000" stroke-width="0.55"/>
<rect x="758.51" y="875.56" width="4.3" height="4.3" fill="#fff" stroke="#808000" stroke-width="0.55"/>
<rect x="759.37" y="876.54" width="4.3" height="4.3" fill="#fff" stroke="#808000" stroke-width="0.55"/>
<rect x="760.25" y="877.49" width="4.3" height="4.3" fill="#fff" stroke="#808000" stroke-width="0.55"/>
<rect x="761.14" y="878.44" width="4.3" height="4.3" fill="#fff" stroke="#808000" stroke-width="0.55"/>
<rect x="762.04" y="879.38" width="4.3" height="4.3" fill="#fff" stroke="#808000" stroke-width="0.55"/>
<rect x="762.95" y="880.30" width="4.3" height="4.3" fill="#fff" stroke="#808000" stroke-width="0.55"/>
<rect x="763.87" y="881.22" width="4.3" height="4.3" fill="#fff" stroke="#808000" stroke-width="0.55"/>
<rect x="764.80" y="882.14" width="4.3" height="4.3" fill="#fff" stroke="#808000" stroke-width="0.55"/>
<rect x="765.73" y="883.04" width="4.3" height="4.3" fill="#fff" stroke="#808000" stroke-width="0.55"/>
<rect x="766.67" y="883.94" width="4.3" height="4.3" fill="#fff" stroke="#808000" stroke-width="0.55"/>
<rect x="767.61" y="884.84" width="4.3" height="4.3" fill="#fff" stroke="#808000" stroke-width="0.55"/>
<rect x="768.55" y="885.73" width="4.3" height="4.3" fill="#fff" stroke="#808000" stroke-width="0.55"/>
<rect x="769.51" y="886.62" width="4.3" height="4.3" fill="#fff" stroke="#808000" stroke-width="0.55"/>
<rect x="770.47" y="887.49" width="4.3" height="4.3" fill="#fff" stroke="#808000" stroke-width="0.55"/>
<rect x="771.45" y="888.35" width="4.3" height="4.3" fill="#fff" stroke="#808000" stroke-width="0.55"/>
<rect x="772.43" y="889.19" width="4.3" height="4.3" fill="#fff" stroke="#808000" stroke-width="0.55"/>
<rect x="773.44" y="890.02" width="4.3" height="4.3" fill="#fff" stroke="#808000" stroke-width="0.55"/>
<rect x="774.46" y="890.83" width="4.3" height="4.3" fill="#fff" stroke="#808000" stroke-width="0.55"/>
<rect x="775.48" y="891.63" width="4.3" height="4.3" fill="#fff" stroke="#808000" stroke-width="0.55"/>
<rect x="776.51" y="892.42" width="4.3" height="4.3" fill="#fff" stroke="#808000" stroke-width="0.55"/>
<rect x="777.56" y="893.19" width="4.3" height="4.3" fill="#fff" stroke="#808000" stroke-width="0.55"/>
<rect x="778.62" y="893.94" width="4.3" height="4.3" fill="#fff" stroke="#808000" stroke-width="0.55"/>
<rect x="779.70" y="894.66" width="4.3" height="4.3" fill="#fff" stroke="#808000" stroke-width="0.55"/>
<rect x="780.80" y="895.35" width="4.3" height="4.3" fill="#fff" stroke="#808000" stroke-width="0.55"/>
<rect x="781.93" y="896.01" width="4.3" height="4.3" fill="#fff" stroke="#808000" stroke-width="0.55"/>
<rect x="783.07" y="896.62" width="4.3" height="4.3" fill="#fff" stroke="#808000" stroke-width="0.55"/>
<rect x="784.24" y="897.20" width="4.3" height="4.3" fill="#fff" stroke="#808000" stroke-width="0.55"/>
<rect x="785.42" y="897.74" width="4.3" height="4.3" fill="#fff" stroke="#808000" stroke-width="0.55"/>
<rect x="786.61" y="898.25" width="4.3" height="4.3" fill="#fff" stroke="#808000" stroke-width="0.55"/>
<path d="M704.8,847.4 L704.9,847.0 L705.0,846.6 L705.1,846.2 L705.1,845.8 L705.2,845.4 L705.3,845.1 L705.4,844.7 L705.5,844.3 L705.6,843.9 L705.7,843.5 L705.8,843.1 L705.9,842.7 L706.0,842.3 L706.0,841.9 L706.1,841.5 L706.2,841.2 L706.3,840.8 L706.4,840.4 L706.5,840.0 L706.6,839.6 L706.7,839.2 L706.8,838.8 L706.9,838.4 L707.0,838.0 L707.1,837.7 L707.2,837.3 L707.3,836.9 L707.4,836.5 L707.5,836.1 L707.6,835.7 L707.7,835.3 L707.9,834.9 L708.0,834.6 L708.1,834.2 L708.2,833.8 L708.3,833.4 L708.4,833.0 L708.5,832.6 L708.6,832.2 L708.7,831.9 L708.8,831.5 L708.9,831.1 L709.0,830.7 L709.0,830.3 L709.1,829.9 L709.2,829.5 L709.2,829.1 L709.3,828.7 L709.4,828.3 L709.4,827.9 L709.5,827.5 L709.5,827.1 L709.6,826.7 L709.6,826.3 L709.7,825.9 L709.7,825.5 L709.7,825.1 L709.8,824.7 L709.8,824.3 L709.9,823.9 L709.9,823.5 L710.0,823.1 L710.0,822.7 L710.0,822.3 L710.1,821.9 L710.1,821.6 L710.2,821.2 L710.2,820.8 L710.3,820.4 L710.3,820.0 L710.4,819.6 L710.4,819.2 L710.4,818.8 L710.5,818.4 L710.5,818.0 L710.6,817.6 L710.6,817.2 L710.7,816.8 L710.7,816.4 L710.8,816.0 L710.8,815.6 L710.9,815.2 L710.9,814.8 L711.0,814.4 L711.0,814.0 L711.1,813.6 L711.1,813.2 L711.2,812.8 L711.2,812.4 L711.2,812.0 L711.3,811.6 L711.3,811.2 L711.4,810.8 L711.4,810.4 L711.5,810.0 L711.5,809.6 L711.6,809.2 L711.6,808.8 L711.7,808.4 L711.7,808.0 L711.8,807.6 L711.8,807.2 L711.9,806.8 L711.9,806.4 L711.9,806.0 L712.0,805.6 L712.0,805.2 L712.1,804.8 L712.1,804.4 L712.2,804.0 L712.2,803.6 L712.3,803.2 L712.3,802.8 L712.4,802.5 L712.4,802.1 L712.5,801.7 L712.5,801.3 L712.5,800.9 L712.6,800.5 L712.6,800.1 L712.7,799.7 L712.7,799.3 L712.8,798.9 L712.8,798.5 L712.9,798.1 L712.9,797.7 L713.0,797.3 L713.0,796.9 L713.1,796.5 L713.1,796.1 L713.2,795.7 L713.2,795.3 L713.2,794.9 L713.3,794.5 L713.3,794.1 L713.4,793.7 L713.4,793.3 L713.5,792.9 L713.5,792.5 L713.6,792.1 L713.6,791.7 L713.7,791.3 L713.7,790.9 L713.8,790.5 L713.8,790.1 L713.8,789.7 L713.9,789.3 L713.9,788.9 L714.0,788.5 L714.0,788.1 L714.1,787.7 L714.1,787.3 L714.2,786.9 L714.2,786.5 L714.3,786.1 L714.3,785.7 L714.4,785.3 L714.4,784.9 L714.5,784.5 L714.5,784.1 L714.5,783.8 L714.6,783.4 L714.6,783.0 L714.7,782.6 L714.7,782.2 L714.8,781.8 L714.8,781.4 L714.9,781.0 L714.9,780.6 L715.0,780.2 L715.0,779.8 L715.1,779.4 L715.1,779.0 L715.2,778.6 L715.2,778.2 L715.2,777.8 L715.3,777.4 L715.3,777.0 L715.4,776.6 L715.4,776.2 L715.5,775.8 L715.5,775.4 L715.6,775.0 L715.6,774.6 L715.7,774.2 L715.7,773.8 L715.8,773.4 L715.8,773.0 L715.8,772.6 L715.9,772.2 L715.9,771.8 L716.0,771.4 L716.0,771.0 L716.1,770.6 L716.1,770.2 L716.2,769.8 L716.2,769.4 L716.3,769.0 L716.3,768.6 L716.4,768.2 L716.4,767.8 L716.5,767.4 L716.5,767.0 L716.5,766.6 L716.6,766.2 L716.6,765.8 L716.7,765.4 L716.7,765.1 L716.8,764.7 L716.8,764.3 L716.9,763.9 L716.9,763.5 L717.0,763.1 L717.0,762.7 L717.1,762.3 L717.1,761.9 L717.2,761.5 L717.2,761.1 L717.2,760.7 L717.3,760.3 L717.3,759.9 L717.4,759.5 L717.4,759.1 L717.5,758.7 L717.5,758.3 L717.6,757.9 L717.6,757.5 L717.7,757.1 L717.7,756.7 L717.8,756.3 L717.8,755.9 L717.9,755.5 L717.9,755.1 L717.9,754.7 L718.0,754.3 L718.0,753.9 L718.1,753.5 L718.1,753.1 L718.2,752.7 L718.2,752.3 L718.3,751.9 L718.3,751.5 L718.4,751.1 L718.4,750.7 L718.5,750.3 L718.5,749.9 L718.6,749.5 L718.6,749.1 L718.6,748.7 L718.7,748.3 L718.7,747.9 L718.8,747.5 L718.8,747.1 L718.9,746.8 L718.9,746.4 L719.0,746.0 L719.0,745.6 L719.1,745.2 L719.1,744.8 L719.2,744.4 L719.2,744.0 L719.2,743.6 L719.3,743.2 L719.3,742.8 L719.4,742.4 L719.4,742.0 L719.5,741.6 L719.5,741.2 L719.6,740.8 L719.6,740.4 L719.7,740.0 L719.7,739.6 L719.7,739.2 L719.8,738.8 L719.8,738.4 L719.9,738.0 L719.9,737.6 L720.0,737.2 L720.0,736.8 L720.1,736.4 L720.1,736.0 L720.2,735.6 L720.2,735.2 L720.3,734.8 L720.3,734.4 L720.4,734.0 L720.4,733.6 L720.5,733.2 L720.5,732.8 L720.6,732.4 L720.6,732.0 L720.7,731.6 L720.7,731.2 L720.8,730.8 L720.8,730.4 L720.9,730.0 L720.9,729.6 L721.0,729.2 L721.0,728.8 L721.1,728.5 L721.1,728.1 L721.2,727.7 L721.2,727.3 L721.3,726.9 L721.3,726.5 L721.4,726.1 L721.4,725.7 L721.5,725.3 L721.6,724.9 L721.6,724.5 L721.7,724.1 L721.7,723.7 L721.8,723.3 L721.8,722.9 L721.9,722.5 L722.0,722.1 L722.0,721.7 L722.1,721.3 L722.1,720.9 L722.2,720.5 L722.3,720.1 L722.4,719.7 L722.4,719.3 L722.5,718.9 L722.6,718.5 L722.7,718.2 L722.7,717.8 L722.8,717.4 L722.9,716.9 L723.0,716.5 L723.2,716.0 L723.3,715.4 L723.4,715.0 L723.5,714.5 L723.7,714.1 L723.8,713.8 L723.9,713.6 L724.1,713.5 L724.2,713.5 L724.3,713.7 L724.5,714.0 L724.6,714.4 L724.8,714.8 L724.9,715.3 L725.1,715.8 L725.2,716.3 L725.3,716.8 L725.4,717.2 L725.4,717.6 L725.5,718.0 L725.5,718.4 L725.6,718.8 L725.6,719.2 L725.7,719.6 L725.7,720.0 L725.7,720.4 L725.8,720.8 L725.8,721.2 L725.8,721.6 L725.9,722.0 L725.9,722.4 L725.9,722.8 L726.0,723.2 L726.0,723.6 L726.0,724.0 L726.1,724.4 L726.1,724.8 L726.1,725.2 L726.1,725.6 L726.1,726.0 L726.2,726.4 L726.2,726.8 L726.2,727.2 L726.2,727.6 L726.3,728.0 L726.3,728.4 L726.3,728.8 L726.3,729.2 L726.3,729.6 L726.4,730.0 L726.4,730.4 L726.4,730.8 L726.4,731.2 L726.4,731.6 L726.4,732.0 L726.5,732.4 L726.5,732.8 L726.5,733.2 L726.5,733.6 L726.5,734.0 L726.6,734.4 L726.6,734.8 L726.6,735.2 L726.6,735.6 L726.6,736.0 L726.6,736.4 L726.7,736.8 L726.7,737.2 L726.7,737.6 L726.7,738.0 L726.7,738.4 L726.7,738.8 L726.8,739.2 L726.8,739.6 L726.8,740.0 L726.8,740.4 L726.8,740.8 L726.8,741.2 L726.8,741.6 L726.9,742.0 L726.9,742.4 L726.9,742.8 L726.9,743.2 L726.9,743.6 L726.9,744.0 L726.9,744.4 L726.9,744.8 L727.0,745.2 L727.0,745.6 L727.0,746.0 L727.0,746.4 L727.0,746.8 L727.0,747.2 L727.0,747.6 L727.0,748.0 L727.1,748.4 L727.1,748.8 L727.1,749.2 L727.1,749.6 L727.1,750.0 L727.1,750.4 L727.1,750.8 L727.1,751.2 L727.1,751.6 L727.2,752.0 L727.2,752.4 L727.2,752.8 L727.2,753.2 L727.2,753.6 L727.2,754.0 L727.2,754.4 L727.2,754.8 L727.2,755.2 L727.3,755.6 L727.3,756.0 L727.3,756.4 L727.3,756.8 L727.3,757.2 L727.3,757.6 L727.3,758.0 L727.3,758.4 L727.3,758.8 L727.4,759.2 L727.4,759.6 L727.4,760.0 L727.4,760.4 L727.4,760.8 L727.4,761.2 L727.4,761.6 L727.4,762.0 L727.4,762.4 L727.4,762.8 L727.5,763.2 L727.5,763.6 L727.5,764.0 L727.5,764.4 L727.5,764.8 L727.5,765.2 L727.5,765.6 L727.5,766.0 L727.5,766.4 L727.5,766.8 L727.6,767.2 L727.6,767.6 L727.6,768.0 L727.6,768.4 L727.6,768.8 L727.6,769.2 L727.6,769.6 L727.6,770.0 L727.6,770.4 L727.6,770.8 L727.6,771.2 L727.7,771.6 L727.7,772.0 L727.7,772.4 L727.7,772.9 L727.7,773.3 L727.7,773.7 L727.7,774.1 L727.7,774.5 L727.7,774.9 L727.7,775.3 L727.7,775.7 L727.7,776.1 L727.7,776.5 L727.7,776.9 L727.8,777.3 L727.8,777.7 L727.8,778.1 L727.8,778.5 L727.8,778.9 L727.8,779.3 L727.8,779.7 L727.8,780.1 L727.8,780.5 L727.8,780.9 L727.8,781.3 L727.8,781.7 L727.8,782.1 L727.8,782.5 L727.8,782.9 L727.8,783.3 L727.8,783.7 L727.9,784.1 L727.9,784.5 L727.9,784.9 L727.9,785.3 L727.9,785.7 L727.9,786.1 L727.9,786.5 L727.9,786.9 L727.9,787.3 L727.9,787.7 L727.9,788.1 L727.9,788.5 L727.9,788.9 L727.9,789.3 L727.9,789.7 L727.9,790.1 L727.9,790.5 L727.9,790.9 L727.9,791.3 L727.9,791.7 L727.9,792.1 L727.9,792.5 L727.9,792.9 L728.0,793.3 L728.0,793.7 L728.0,794.1 L728.0,794.5 L728.0,794.9 L728.0,795.3 L728.0,795.7 L728.0,796.1 L728.0,796.5 L728.0,796.9 L728.0,797.3 L728.0,797.7 L728.0,798.1 L728.0,798.5 L728.0,798.9 L728.0,799.3 L728.0,799.7 L728.0,800.1 L728.0,800.5 L728.1,800.9 L728.1,801.3 L728.1,801.7 L728.1,802.1 L728.1,802.5 L728.1,802.9 L728.1,803.3 L728.1,803.7 L728.1,804.1 L728.1,804.5 L728.1,804.9 L728.1,805.3 L728.1,805.7 L728.1,806.1 L728.1,806.5 L728.1,806.9 L728.2,807.3 L728.2,807.7 L728.2,808.1 L728.2,808.5 L728.2,808.9 L728.2,809.3 L728.2,809.7 L728.2,810.1 L728.2,810.5 L728.2,810.9 L728.2,811.3 L728.2,811.7 L728.2,812.1 L728.2,812.5 L728.2,812.9 L728.3,813.3 L728.3,813.7 L728.3,814.1 L728.3,814.5 L728.3,814.9 L728.3,815.3 L728.3,815.7 L728.3,816.1 L728.3,816.5 L728.3,816.9 L728.3,817.3 L728.3,817.7 L728.4,818.1 L728.4,818.5 L728.4,818.9 L728.4,819.3 L728.4,819.7 L728.4,820.1 L728.4,820.5 L728.4,820.9 L728.4,821.3 L728.4,821.7 L728.5,822.1 L728.5,822.5 L728.5,822.9 L728.5,823.3 L728.5,823.7 L728.5,824.1 L728.5,824.5 L728.5,824.9 L728.6,825.3 L728.6,825.7 L728.6,826.1 L728.6,826.5 L728.6,826.9 L728.6,827.3 L728.7,827.7 L728.7,828.1 L728.7,828.5 L728.7,828.9 L728.7,829.3 L728.7,829.7 L728.8,830.1 L728.8,830.5 L728.8,830.9 L728.8,831.3 L728.8,831.7 L728.8,832.1 L728.9,832.5 L728.9,832.9 L728.9,833.3 L728.9,833.7 L728.9,834.1 L728.9,834.5 L729.0,834.9 L729.0,835.3 L729.0,835.7 L729.0,836.1 L729.0,836.5 L729.1,836.9 L729.1,837.3 L729.1,837.7 L729.1,838.1 L729.1,838.6 L729.1,839.0 L729.1,839.4 L729.1,839.8 L729.2,840.2 L729.2,840.6 L729.2,841.0 L729.2,841.4 L729.2,841.8 L729.2,842.2 L729.3,842.6 L729.3,843.0 L729.3,843.4 L729.3,843.8 L729.3,844.2 L729.4,844.6 L729.4,845.0 L729.4,845.4 L729.4,845.8 L729.5,846.2 L729.5,846.6 L729.5,847.0 L729.6,847.4 L729.6,847.8 L729.7,848.1 L729.7,848.5 L729.8,848.9 L729.9,849.3 L730.1,849.6 L730.3,850.0 L730.5,850.4 L730.7,850.7 L730.9,851.1 L731.1,851.4 L731.4,851.7 L731.6,852.0 L731.8,852.4 L732.1,852.7 L732.3,853.0 L732.6,853.3 L732.8,853.6 L733.0,854.0 L733.3,854.3 L733.5,854.6 L733.7,854.9 L734.0,855.3 L734.2,855.6 L734.5,855.9 L734.7,856.2 L734.9,856.5 L735.2,856.9 L735.4,857.2 L735.6,857.5 L735.9,857.8 L736.1,858.2 L736.3,858.5 L736.6,858.8 L736.8,859.2 L737.0,859.5 L737.2,859.8 L737.5,860.2 L737.7,860.5 L737.9,860.8 L738.2,861.2 L738.4,861.5 L738.6,861.8 L738.9,862.1 L739.1,862.4 L739.4,862.7 L739.7,863.0 L739.9,863.3 L740.2,863.6 L740.5,863.9 L740.8,864.2 L741.0,864.5 L741.3,864.7 L741.6,865.0 L741.9,865.3 L742.2,865.6 L742.5,865.9 L742.8,866.2 L743.0,866.4 L743.3,866.7 L743.6,867.0 L743.9,867.3 L744.2,867.6 L744.5,867.8 L744.7,868.1 L745.0,868.4 L745.3,868.7 L745.6,869.0 L745.9,869.2 L746.2,869.5 L746.5,869.8 L746.8,870.1 L747.1,870.4 L747.3,870.6 L747.6,870.9 L747.9,871.2 L748.2,871.5 L748.5,871.7 L748.8,872.0 L749.1,872.3 L749.4,872.6 L749.6,872.9 L749.9,873.1 L750.2,873.4 L750.5,873.7 L750.8,874.0 L751.1,874.2 L751.4,874.5 L751.7,874.8 L752.0,875.0 L752.3,875.3 L752.6,875.6 L752.9,875.8 L753.2,876.1 L753.5,876.4 L753.8,876.6 L754.1,876.9 L754.4,877.1 L754.7,877.4 L755.0,877.6 L755.3,877.9 L755.7,878.2 L756.0,878.4 L756.3,878.7 L756.6,878.9 L756.9,879.2 L757.2,879.4 L757.5,879.6 L757.9,879.9 L758.2,880.1 L758.5,880.4 L758.8,880.6 L759.1,880.9 L759.5,881.1 L759.8,881.3 L760.1,881.6 L760.4,881.8 L760.8,882.0 L761.1,882.3 L761.4,882.5 L761.7,882.7 L762.1,882.9 L762.4,883.2 L762.7,883.4 L763.1,883.6 L763.4,883.8 L763.7,884.0 L764.1,884.3 L764.4,884.5 L764.8,884.7 L765.1,884.9 L765.4,885.1 L765.8,885.3 L766.1,885.5 L766.5,885.8 L766.8,886.0 L767.1,886.2 L767.5,886.4 L767.8,886.6 L768.2,886.8 L768.5,887.0 L768.9,887.2 L769.2,887.4 L769.6,887.6 L769.9,887.8 L770.3,888.0 L770.6,888.2 L771.0,888.4 L771.3,888.6 L771.7,888.8 L772.0,889.0 L772.4,889.2 L772.7,889.3 L773.1,889.5 L773.4,889.7 L773.8,889.9 L774.1,890.1 L774.5,890.3 L774.8,890.5 L775.2,890.7 L775.5,890.9 L775.9,891.0 L776.2,891.2 L776.6,891.4 L777.0,891.6 L777.3,891.8 L777.7,892.0 L778.0,892.2 L778.4,892.4 L778.7,892.6 L779.1,892.8 L779.4,893.0 L779.8,893.1 L780.1,893.3 L780.5,893.5 L780.8,893.7 L781.2,893.9 L781.6,894.1 L781.9,894.2 L782.3,894.4 L782.6,894.6 L783.0,894.8 L783.4,894.9 L783.7,895.1 L784.1,895.2 L784.5,895.4 L784.8,895.5 L785.2,895.7 L785.6,895.8 L786.0,896.0 L786.3,896.1 L786.7,896.2 L787.1,896.4 L787.5,896.5 L787.9,896.6 L788.2,896.8 L788.6,896.9 L789.0,897.0" fill="none" stroke="#ff8000" stroke-width="2.2" stroke-linejoin="round" stroke-linecap="butt" />
<path d="M705.2,858.4 L705.3,858.0 L705.3,857.6 L705.4,857.2 L705.4,856.8 L705.5,856.4 L705.5,856.0 L705.6,855.6 L705.6,855.2 L705.7,854.8 L705.7,854.4 L705.8,854.0 L705.8,853.6 L705.9,853.2 L706.0,852.8 L706.0,852.4 L706.1,852.0 L706.1,851.6 L706.2,851.2 L706.2,850.8 L706.3,850.4 L706.4,850.0 L706.4,849.6 L706.5,849.3 L706.5,848.9 L706.6,848.5 L706.6,848.1 L706.7,847.7 L706.8,847.3 L706.8,846.9 L706.9,846.5 L706.9,846.1 L707.0,845.7 L707.1,845.3 L707.1,844.9 L707.2,844.5 L707.3,844.1 L707.3,843.7 L707.4,843.3 L707.4,842.9 L707.5,842.5 L707.6,842.1 L707.6,841.7 L707.7,841.3 L707.8,840.9 L707.8,840.5 L707.9,840.1 L708.0,839.7 L708.0,839.3 L708.1,838.9 L708.1,838.5 L708.2,838.2 L708.3,837.8 L708.3,837.4 L708.4,837.0 L708.5,836.6 L708.5,836.2 L708.6,835.8 L708.7,835.4 L708.7,835.0 L708.8,834.6 L708.9,834.2 L708.9,833.8 L709.0,833.4 L709.1,833.0 L709.1,832.6 L709.2,832.2 L709.3,831.8 L709.4,831.4 L709.4,831.0 L709.5,830.6 L709.6,830.2 L709.6,829.8 L709.7,829.5 L709.8,829.1 L709.8,828.7 L709.9,828.3 L710.0,827.9 L710.0,827.5 L710.1,827.1 L710.2,826.7 L710.3,826.3 L710.3,825.9 L710.4,825.5 L710.5,825.1 L710.5,824.7 L710.6,824.3 L710.7,823.9 L710.8,823.5 L710.8,823.1 L710.9,822.7 L711.0,822.3 L711.1,822.0 L711.1,821.6 L711.2,821.2 L711.3,820.8 L711.4,820.4 L711.5,820.0 L711.5,819.6 L711.6,819.2 L711.7,818.8 L711.8,818.4 L711.9,818.0 L711.9,817.6 L712.0,817.2 L712.1,816.8 L712.2,816.4 L712.3,816.0 L712.3,815.7 L712.4,815.3 L712.5,814.9 L712.6,814.5 L712.7,814.1 L712.8,813.7 L712.8,813.3 L712.9,812.9 L713.0,812.5 L713.1,812.1 L713.2,811.7 L713.3,811.3 L713.4,811.0 L713.5,810.6 L713.5,810.2 L713.6,809.8 L713.7,809.4 L713.8,809.0 L713.9,808.6 L714.0,808.2 L714.1,807.8 L714.2,807.4 L714.3,807.0 L714.4,806.7 L714.5,806.3 L714.6,805.9 L714.7,805.5 L714.8,805.1 L714.9,804.7 L715.0,804.3 L715.1,803.9 L715.2,803.5 L715.3,803.1 L715.4,802.8 L715.5,802.4 L715.6,802.0 L715.7,801.6 L715.8,801.2 L715.9,800.8 L716.0,800.4 L716.1,800.1 L716.2,799.7 L716.3,799.3 L716.4,798.9 L716.5,798.5 L716.6,798.1 L716.7,797.7 L716.8,797.3 L716.9,796.9 L717.1,796.5 L717.2,796.1 L717.3,795.7 L717.4,795.3 L717.5,794.9 L717.7,794.5 L717.8,794.2 L718.0,793.8 L718.1,793.5 L718.3,793.1 L718.5,792.8 L718.7,792.5 L718.9,792.1 L719.2,791.7 L719.5,791.3 L719.9,791.0 L720.2,790.8 L720.4,790.7 L720.7,790.8 L720.9,791.0 L721.1,791.4 L721.3,791.8 L721.5,792.3 L721.6,792.7 L721.7,793.1 L721.8,793.5 L721.9,793.8 L721.9,794.2 L722.0,794.6 L722.1,795.0 L722.1,795.4 L722.2,795.8 L722.2,796.2 L722.3,796.6 L722.3,797.1 L722.3,797.5 L722.4,797.9 L722.4,798.3 L722.4,798.7 L722.4,799.1 L722.4,799.5 L722.5,799.9 L722.5,800.3 L722.5,800.7 L722.5,801.1 L722.5,801.5 L722.5,801.9 L722.6,802.3 L722.6,802.7 L722.6,803.1 L722.6,803.5 L722.6,803.9 L722.6,804.3 L722.6,804.7 L722.6,805.1 L722.6,805.5 L722.7,805.9 L722.7,806.3 L722.7,806.7 L722.7,807.1 L722.7,807.5 L722.7,807.9 L722.7,808.3 L722.7,808.7 L722.7,809.1 L722.7,809.5 L722.7,809.9 L722.8,810.3 L722.8,810.7 L722.8,811.1 L722.8,811.5 L722.8,811.9 L722.8,812.3 L722.8,812.7 L722.8,813.1 L722.8,813.5 L722.9,813.9 L722.9,814.3 L722.9,814.7 L722.9,815.1 L722.9,815.5 L722.9,815.9 L722.9,816.3 L722.9,816.7 L722.9,817.1 L722.9,817.5 L723.0,817.9 L723.0,818.3 L723.0,818.7 L723.0,819.1 L723.0,819.5 L723.0,819.9 L723.0,820.3 L723.0,820.7 L723.0,821.1 L723.0,821.5 L723.0,821.9 L723.0,822.3 L723.0,822.7 L723.0,823.1 L723.0,823.5 L723.0,823.9 L723.0,824.3 L723.1,824.7 L723.1,825.1 L723.1,825.5 L723.1,825.9 L723.1,826.3 L723.1,826.7 L723.1,827.2 L723.1,827.6 L723.1,828.0 L723.1,828.4 L723.1,828.8 L723.1,829.2 L723.1,829.6 L723.1,830.0 L723.1,830.4 L723.1,830.8 L723.1,831.2 L723.1,831.6 L723.1,832.0 L723.1,832.4 L723.1,832.8 L723.1,833.2 L723.1,833.6 L723.1,834.0 L723.1,834.4 L723.1,834.8 L723.1,835.2 L723.1,835.6 L723.1,836.0 L723.1,836.4 L723.1,836.8 L723.2,837.2 L723.2,837.6 L723.2,838.0 L723.2,838.4 L723.2,838.8 L723.2,839.2 L723.2,839.6 L723.2,840.0 L723.2,840.4 L723.2,840.8 L723.2,841.2 L723.2,841.6 L723.2,842.0 L723.2,842.4 L723.2,842.8 L723.2,843.2 L723.2,843.6 L723.2,844.0 L723.2,844.4 L723.2,844.8 L723.2,845.2 L723.2,845.6 L723.2,846.0 L723.2,846.4 L723.2,846.8 L723.2,847.2 L723.2,847.6 L723.2,848.0 L723.2,848.4 L723.2,848.8 L723.2,849.2 L723.2,849.6 L723.2,850.0 L723.2,850.4 L723.2,850.8 L723.2,851.2 L723.2,851.6 L723.3,852.0 L723.3,852.4 L723.3,852.8 L723.3,853.2 L723.3,853.6 L723.3,854.0 L723.3,854.4 L723.3,854.9 L723.3,855.3 L723.3,855.7 L723.3,856.1 L723.3,856.5 L723.3,856.9 L723.3,857.3 L723.3,857.7 L723.3,858.1 L723.3,858.5 L723.3,858.9 L723.3,859.3 L723.3,859.7 L723.3,860.1 L723.3,860.5 L723.3,860.9 L723.3,861.3 L723.3,861.7 L723.3,862.1 L723.3,862.5 L723.3,862.9 L723.3,863.3 L723.3,863.7 L723.4,864.1 L723.4,864.5 L723.4,864.9 L723.4,865.3 L723.4,865.7 L723.4,866.1 L723.4,866.5 L723.4,866.9 L723.4,867.3 L723.4,867.7 L723.4,868.2 L723.5,868.6 L723.5,869.1 L723.5,869.5 L723.6,870.0 L723.6,870.4 L723.6,870.9 L723.7,871.3 L723.8,871.6 L723.8,872.0 L723.9,872.2 L724.0,872.5 L724.2,872.7 L724.5,872.8 L724.9,872.9 L725.3,873.1 L725.8,873.2 L726.2,873.4 L726.6,873.5 L726.9,873.8 L727.2,874.0 L727.5,874.3 L727.9,874.6 L728.2,874.8 L728.5,875.0 L728.8,875.2 L729.2,875.4 L729.6,875.5 L729.9,875.6 L730.3,875.7 L730.7,875.9 L731.1,876.0 L731.5,876.0 L731.9,876.1 L732.3,876.2 L732.7,876.3 L733.1,876.4 L733.5,876.5 L733.9,876.6 L734.3,876.7 L734.6,876.8 L735.0,876.9 L735.4,877.0 L735.8,877.1 L736.2,877.2 L736.6,877.4 L736.9,877.5 L737.3,877.7 L737.7,877.8 L738.0,878.0 L738.4,878.1 L738.8,878.3 L739.2,878.4 L739.5,878.6 L739.9,878.7 L740.3,878.9 L740.7,879.0 L741.0,879.1 L741.4,879.2 L741.8,879.3 L742.2,879.5 L742.6,879.6 L743.0,879.7 L743.4,879.8 L743.7,879.9 L744.1,880.0 L744.5,880.1 L744.9,880.3 L745.3,880.4 L745.7,880.5 L746.0,880.6 L746.4,880.8 L746.8,880.9 L747.2,881.0 L747.6,881.2 L747.9,881.3 L748.3,881.4 L748.7,881.6 L749.1,881.7 L749.4,881.8 L749.8,882.0 L750.2,882.1 L750.6,882.2 L751.0,882.4 L751.3,882.5 L751.7,882.6 L752.1,882.8 L752.5,882.9 L752.9,883.0 L753.2,883.1 L753.6,883.3 L754.0,883.4 L754.4,883.5 L754.8,883.6 L755.1,883.8 L755.5,883.9 L755.9,884.0 L756.3,884.2 L756.7,884.3 L757.0,884.4 L757.4,884.6 L757.8,884.7 L758.2,884.9 L758.5,885.0 L758.9,885.2 L759.3,885.3 L759.7,885.5 L760.0,885.6 L760.4,885.8 L760.8,885.9 L761.1,886.1 L761.5,886.2 L761.9,886.4 L762.3,886.5 L762.6,886.7 L763.0,886.8 L763.4,886.9 L763.8,887.1 L764.1,887.2 L764.5,887.3 L764.9,887.4 L765.3,887.5 L765.7,887.6 L766.1,887.7 L766.5,887.8 L766.9,887.9 L767.2,888.0 L767.6,888.1 L768.0,888.2 L768.4,888.4 L768.8,888.5 L769.2,888.6 L769.6,888.7 L769.9,888.8 L770.3,888.9 L770.7,889.1 L771.1,889.2 L771.5,889.3 L771.9,889.4 L772.2,889.6 L772.6,889.7 L773.0,889.8 L773.4,889.9 L773.8,890.1 L774.1,890.2 L774.5,890.3 L774.9,890.4 L775.3,890.6 L775.7,890.7 L776.0,890.8 L776.4,890.9 L776.8,891.1 L777.2,891.2 L777.6,891.3 L778.0,891.4 L778.3,891.6 L778.7,891.7 L779.1,891.8 L779.5,891.9 L779.9,892.1 L780.2,892.2 L780.6,892.3 L781.0,892.4 L781.4,892.6 L781.8,892.7 L782.1,892.8 L782.5,892.9 L782.9,893.1 L783.3,893.2 L783.7,893.3 L784.1,893.4 L784.4,893.6 L784.8,893.7 L785.2,893.8 L785.6,894.0 L786.0,894.1 L786.3,894.2 L786.7,894.3 L787.1,894.5 L787.5,894.6 L787.9,894.7 L788.2,894.8 L788.6,895.0 L789.0,895.1" fill="none" stroke="#8000ff" stroke-width="2.2" stroke-linejoin="round" stroke-linecap="butt" />
<path d="M704.8,854.5 L704.9,854.1 L705.0,853.7 L705.1,853.3 L705.1,852.9 L705.2,852.5 L705.3,852.1 L705.4,851.8 L705.5,851.4 L705.6,851.0 L705.7,850.6 L705.7,850.2 L705.8,849.8 L705.9,849.4 L706.0,849.0 L706.1,848.6 L706.2,848.2 L706.3,847.8 L706.3,847.4 L706.4,847.0 L706.5,846.7 L706.6,846.3 L706.7,845.9 L706.8,845.5 L706.9,845.1 L706.9,844.7 L707.0,844.3 L707.1,843.9 L707.2,843.5 L707.3,843.1 L707.4,842.7 L707.5,842.3 L707.6,842.0 L707.6,841.6 L707.7,841.2 L707.8,840.8 L707.9,840.4 L708.0,840.0 L708.1,839.6 L708.2,839.2 L708.3,838.8 L708.4,838.4 L708.4,838.0 L708.5,837.6 L708.6,837.3 L708.7,836.9 L708.8,836.5 L708.9,836.1 L709.0,835.7 L709.1,835.3 L709.1,834.9 L709.2,834.5 L709.3,834.1 L709.4,833.7 L709.5,833.3 L709.6,832.9 L709.7,832.6 L709.8,832.2 L709.9,831.8 L709.9,831.4 L710.0,831.0 L710.1,830.6 L710.2,830.2 L710.3,829.8 L710.4,829.4 L710.5,829.0 L710.6,828.6 L710.7,828.3 L710.8,827.9 L710.9,827.5 L711.0,827.1 L711.1,826.7 L711.2,826.3 L711.3,825.9 L711.4,825.5 L711.5,825.2 L711.6,824.8 L711.7,824.4 L711.8,824.0 L711.9,823.6 L712.1,823.2 L712.2,822.8 L712.3,822.4 L712.4,822.1 L712.5,821.7 L712.6,821.3 L712.7,820.9 L712.8,820.5 L713.0,820.1 L713.1,819.8 L713.2,819.4 L713.3,819.0 L713.4,818.6 L713.5,818.2 L713.6,817.8 L713.8,817.4 L713.9,817.0 L714.0,816.7 L714.1,816.3 L714.3,815.9 L714.4,815.5 L714.5,815.1 L714.7,814.8 L714.8,814.4 L715.0,814.0 L715.2,813.6 L715.3,813.2 L715.5,812.7 L715.7,812.3 L715.9,811.9 L716.2,811.7 L716.4,811.5 L716.7,811.6 L717.0,811.8 L717.3,812.2 L717.5,812.5 L717.6,812.9 L717.7,813.2 L717.8,813.6 L717.9,814.0 L718.0,814.4 L718.0,814.8 L718.1,815.3 L718.1,815.7 L718.2,816.1 L718.2,816.5 L718.2,816.9 L718.3,817.3 L718.3,817.7 L718.3,818.1 L718.3,818.5 L718.4,818.9 L718.4,819.3 L718.4,819.7 L718.4,820.1 L718.4,820.5 L718.5,820.9 L718.5,821.3 L718.5,821.7 L718.5,822.1 L718.5,822.5 L718.5,822.9 L718.5,823.3 L718.5,823.7 L718.5,824.1 L718.6,824.5 L718.6,824.9 L718.6,825.3 L718.6,825.7 L718.6,826.1 L718.6,826.5 L718.6,826.9 L718.6,827.3 L718.6,827.7 L718.6,828.1 L718.6,828.5 L718.6,828.9 L718.6,829.3 L718.7,829.7 L718.7,830.1 L718.7,830.5 L718.7,830.9 L718.7,831.3 L718.7,831.7 L718.7,832.1 L718.7,832.5 L718.7,832.9 L718.7,833.3 L718.7,833.7 L718.7,834.2 L718.7,834.6 L718.7,835.0 L718.7,835.4 L718.7,835.8 L718.7,836.2 L718.7,836.6 L718.7,837.0 L718.7,837.4 L718.7,837.8 L718.7,838.2 L718.8,838.6 L718.8,839.0 L718.8,839.4 L718.8,839.8 L718.8,840.2 L718.8,840.6 L718.8,841.0 L718.8,841.4 L718.8,841.8 L718.8,842.2 L718.8,842.6 L718.8,843.0 L718.8,843.4 L718.8,843.8 L718.8,844.2 L718.8,844.6 L718.8,845.0 L718.8,845.4 L718.8,845.8 L718.8,846.2 L718.8,846.6 L718.8,847.0 L718.8,847.4 L718.8,847.8 L718.9,848.2 L718.9,848.6 L718.9,849.0 L718.9,849.4 L718.9,849.8 L718.9,850.2 L718.9,850.6 L718.9,851.0 L718.9,851.4 L718.9,851.8 L718.9,852.2 L718.9,852.6 L718.9,853.0 L718.9,853.4 L718.9,853.8 L718.9,854.2 L719.0,854.6 L719.0,855.0 L719.0,855.4 L719.0,855.8 L719.0,856.2 L719.0,856.6 L719.0,857.0 L719.0,857.4 L719.0,857.8 L719.0,858.2 L719.0,858.6 L719.0,859.0 L719.0,859.4 L719.0,859.8 L719.0,860.2 L719.0,860.7 L719.1,861.1 L719.1,861.5 L719.1,861.9 L719.1,862.3 L719.1,862.7 L719.1,863.1 L719.1,863.5 L719.1,863.9 L719.1,864.3 L719.1,864.7 L719.1,865.1 L719.1,865.5 L719.1,865.9 L719.2,866.3 L719.2,866.7 L719.2,867.1 L719.2,867.5 L719.2,867.9 L719.2,868.3 L719.2,868.7 L719.2,869.1 L719.2,869.5 L719.2,869.9 L719.3,870.3 L719.3,870.7 L719.3,871.1 L719.3,871.5 L719.3,871.9 L719.3,872.3 L719.3,872.7 L719.3,873.1 L719.4,873.5 L719.4,873.9 L719.4,874.3 L719.4,874.7 L719.4,875.1 L719.4,875.5 L719.4,875.9 L719.5,876.3 L719.5,876.7 L719.5,877.1 L719.5,877.6 L719.5,878.0 L719.6,878.4 L719.6,878.8 L719.6,879.2 L719.6,879.6 L719.7,880.0 L719.7,880.4 L719.7,880.8 L719.8,881.2 L719.8,881.6 L719.9,882.0 L719.9,882.4 L720.0,882.8 L720.1,883.1 L720.1,883.5 L720.2,883.9 L720.4,884.2 L720.7,884.6 L720.9,884.9 L721.2,885.2 L721.5,885.5 L721.8,885.7 L722.2,885.9 L722.6,886.1 L722.9,886.2 L723.3,886.2 L723.7,886.1 L724.1,886.1 L724.5,886.0 L725.0,885.9 L725.4,885.9 L725.8,885.8 L726.1,885.8 L726.5,885.8 L726.9,885.9 L727.2,886.1 L727.5,886.4 L727.8,886.7 L728.2,887.0 L728.5,887.3 L728.8,887.5 L729.2,887.7 L729.5,887.9 L729.9,888.0 L730.3,888.2 L730.6,888.3 L731.0,888.5 L731.4,888.6 L731.8,888.7 L732.2,888.9 L732.5,889.0 L732.9,889.2 L733.3,889.3 L733.7,889.5 L734.0,889.6 L734.4,889.8 L734.8,889.9 L735.1,890.1 L735.5,890.3 L735.9,890.4 L736.2,890.6 L736.6,890.7 L737.0,890.9 L737.4,891.0 L737.7,891.2 L738.1,891.3 L738.5,891.5 L738.9,891.6 L739.2,891.7 L739.6,891.9 L740.0,892.0 L740.4,892.2 L740.7,892.3 L741.1,892.5 L741.5,892.6 L741.9,892.7 L742.2,892.9 L742.6,893.0 L743.0,893.2 L743.4,893.3 L743.7,893.4 L744.1,893.6 L744.5,893.7 L744.9,893.8 L745.3,894.0 L745.6,894.1 L746.0,894.2 L746.4,894.4 L746.8,894.5 L747.2,894.6 L747.5,894.7 L747.9,894.9 L748.3,895.0 L748.7,895.1 L749.1,895.3 L749.4,895.4 L749.8,895.5 L750.2,895.6 L750.6,895.8 L751.0,895.9 L751.4,896.0 L751.7,896.1 L752.1,896.2 L752.5,896.4 L752.9,896.5 L753.3,896.6 L753.6,896.7 L754.0,896.9 L754.4,897.0 L754.8,897.1 L755.2,897.2 L755.6,897.3 L756.0,897.4 L756.3,897.6 L756.7,897.7 L757.1,897.8 L757.5,897.9 L757.9,898.0 L758.3,898.1 L758.7,898.2 L759.1,898.3 L759.4,898.4 L759.8,898.5 L760.2,898.6 L760.6,898.7 L761.0,898.8 L761.4,898.8 L761.8,898.9 L762.2,899.0 L762.6,899.1 L763.0,899.2 L763.3,899.3 L763.7,899.3 L764.1,899.4 L764.5,899.5 L764.9,899.6 L765.3,899.6 L765.7,899.7 L766.1,899.8 L766.5,899.9 L766.9,899.9 L767.3,900.0 L767.7,900.1 L768.1,900.2 L768.5,900.2 L768.9,900.3 L769.3,900.4 L769.7,900.4 L770.1,900.5 L770.5,900.6 L770.9,900.7 L771.2,900.7 L771.6,900.8 L772.0,900.9 L772.4,901.0 L772.8,901.0 L773.2,901.1 L773.6,901.2 L774.0,901.3 L774.4,901.3 L774.8,901.4 L775.2,901.5 L775.6,901.6 L776.0,901.6 L776.4,901.7 L776.8,901.8 L777.2,901.9 L777.6,901.9 L778.0,902.0 L778.3,902.1 L778.7,902.2 L779.1,902.2 L779.5,902.3 L779.9,902.4 L780.3,902.5 L780.7,902.5 L781.1,902.6 L781.5,902.7 L781.9,902.8 L782.3,902.8 L782.7,902.9 L783.1,903.0 L783.5,903.1 L783.9,903.1 L784.3,903.2 L784.7,903.3 L785.1,903.4 L785.4,903.4 L785.8,903.5 L786.2,903.6 L786.6,903.7 L787.0,903.7 L787.4,903.8 L787.8,903.9 L788.2,904.0 L788.6,904.0 L789.0,904.1" fill="none" stroke="#00ffff" stroke-width="2.2" stroke-linejoin="round" stroke-linecap="butt" />
<line x1="717.9" y1="891.7" x2="717.9" y2="903.8" stroke="#00ff00" stroke-width="1.4"/>
<path d="M717.9,907.8 L715.9,901.5 L719.9,901.5 Z" fill="#00ff00"/>
<line x1="723.3" y1="907.8" x2="723.3" y2="895.7" stroke="#0000ff" stroke-width="1.4"/>
<path d="M723.3,891.7 L721.3,898.0 L725.3,898.0 Z" fill="#0000ff"/>
<line x1="715.7" y1="950.9" x2="715.7" y2="934.1" stroke="#ff0000" stroke-width="1.7"/>
<path d="M715.7,930.1 L713.5,937.1 L717.9000000000001,937.1 Z" fill="#ff0000"/>
</g>
<text transform="translate(735.30,792.90) scale(1.0,1)" font-size="20" text-anchor="middle" font-weight="bold" fill="#808000" >*</text>
<text transform="translate(755.40,769.30) scale(1.0,1)" font-size="20" text-anchor="middle" font-weight="bold" fill="#ff00ff" >*</text>
<text transform="translate(785.00,767.60) scale(1.0,1)" font-size="20" text-anchor="middle" font-weight="bold" fill="#0000ff" >*</text>
<line x1="73" y1="659.8" x2="73" y2="957.1" stroke="#000" stroke-width="1.25"/>
<line x1="72.35" y1="957.1" x2="315.95" y2="957.1" stroke="#000" stroke-width="1.25"/>
<line x1="72.35" y1="659.8" x2="315.3" y2="659.8" stroke="#000" stroke-width="1.25"/>
<line x1="315.3" y1="659.8" x2="315.3" y2="957.1" stroke="#000" stroke-width="1.25"/>
<line x1="92.22" y1="957.1" x2="92.22" y2="960.1" stroke="#000" stroke-width="1.3"/>
<line x1="92.22" y1="659.8" x2="92.22" y2="662.8" stroke="#000" stroke-width="1.3"/>
<line x1="112.5" y1="957.1" x2="112.5" y2="962.1" stroke="#000" stroke-width="1.3"/>
<line x1="112.5" y1="659.8" x2="112.5" y2="664.8" stroke="#000" stroke-width="1.3"/>
<text transform="translate(112.50,974.00) scale(0.905,1)" font-size="13.8" text-anchor="middle" font-weight="normal" fill="#000" >50</text>
<line x1="132.78" y1="957.1" x2="132.78" y2="960.1" stroke="#000" stroke-width="1.3"/>
<line x1="132.78" y1="659.8" x2="132.78" y2="662.8" stroke="#000" stroke-width="1.3"/>
<line x1="153.06" y1="957.1" x2="153.06" y2="962.1" stroke="#000" stroke-width="1.3"/>
<line x1="153.06" y1="659.8" x2="153.06" y2="664.8" stroke="#000" stroke-width="1.3"/>
<text transform="translate(153.06,974.00) scale(0.905,1)" font-size="13.8" text-anchor="middle" font-weight="normal" fill="#000" >100</text>
<line x1="173.34" y1="957.1" x2="173.34" y2="960.1" stroke="#000" stroke-width="1.3"/>
<line x1="173.34" y1="659.8" x2="173.34" y2="662.8" stroke="#000" stroke-width="1.3"/>
<line x1="193.62" y1="957.1" x2="193.62" y2="962.1" stroke="#000" stroke-width="1.3"/>
<line x1="193.62" y1="659.8" x2="193.62" y2="664.8" stroke="#000" stroke-width="1.3"/>
<text transform="translate(193.62,974.00) scale(0.905,1)" font-size="13.8" text-anchor="middle" font-weight="normal" fill="#000" >150</text>
<line x1="213.9" y1="957.1" x2="213.9" y2="960.1" stroke="#000" stroke-width="1.3"/>
<line x1="213.9" y1="659.8" x2="213.9" y2="662.8" stroke="#000" stroke-width="1.3"/>
<line x1="234.18" y1="957.1" x2="234.18" y2="962.1" stroke="#000" stroke-width="1.3"/>
<line x1="234.18" y1="659.8" x2="234.18" y2="664.8" stroke="#000" stroke-width="1.3"/>
<text transform="translate(234.18,974.00) scale(0.905,1)" font-size="13.8" text-anchor="middle" font-weight="normal" fill="#000" >200</text>
<line x1="254.46" y1="957.1" x2="254.46" y2="960.1" stroke="#000" stroke-width="1.3"/>
<line x1="254.46" y1="659.8" x2="254.46" y2="662.8" stroke="#000" stroke-width="1.3"/>
<line x1="274.74" y1="957.1" x2="274.74" y2="962.1" stroke="#000" stroke-width="1.3"/>
<line x1="274.74" y1="659.8" x2="274.74" y2="664.8" stroke="#000" stroke-width="1.3"/>
<text transform="translate(274.74,974.00) scale(0.905,1)" font-size="13.8" text-anchor="middle" font-weight="normal" fill="#000" >250</text>
<line x1="295.02" y1="957.1" x2="295.02" y2="960.1" stroke="#000" stroke-width="1.3"/>
<line x1="295.02" y1="659.8" x2="295.02" y2="662.8" stroke="#000" stroke-width="1.3"/>
<line x1="315.3" y1="957.1" x2="315.3" y2="962.1" stroke="#000" stroke-width="1.3"/>
<line x1="315.3" y1="659.8" x2="315.3" y2="664.8" stroke="#000" stroke-width="1.3"/>
<text transform="translate(315.30,974.00) scale(0.905,1)" font-size="13.8" text-anchor="middle" font-weight="normal" fill="#000" >300</text>
<line x1="68" y1="957.1" x2="73" y2="957.1" stroke="#000" stroke-width="1.3"/>
<text transform="translate(66.40,961.70) scale(0.905,1)" font-size="13.8" text-anchor="end" font-weight="normal" fill="#000" >0</text>
<line x1="70" y1="932.325" x2="73" y2="932.325" stroke="#000" stroke-width="1.3"/>
<line x1="68" y1="907.5500000000001" x2="73" y2="907.5500000000001" stroke="#000" stroke-width="1.3"/>
<text transform="translate(66.40,912.15) scale(0.905,1)" font-size="13.8" text-anchor="end" font-weight="normal" fill="#000" >10</text>
<line x1="70" y1="882.775" x2="73" y2="882.775" stroke="#000" stroke-width="1.3"/>
<line x1="68" y1="858.0" x2="73" y2="858.0" stroke="#000" stroke-width="1.3"/>
<text transform="translate(66.40,862.60) scale(0.905,1)" font-size="13.8" text-anchor="end" font-weight="normal" fill="#000" >20</text>
<line x1="70" y1="833.225" x2="73" y2="833.225" stroke="#000" stroke-width="1.3"/>
<line x1="68" y1="808.45" x2="73" y2="808.45" stroke="#000" stroke-width="1.3"/>
<text transform="translate(66.40,813.05) scale(0.905,1)" font-size="13.8" text-anchor="end" font-weight="normal" fill="#000" >30</text>
<line x1="70" y1="783.675" x2="73" y2="783.675" stroke="#000" stroke-width="1.3"/>
<line x1="68" y1="758.9000000000001" x2="73" y2="758.9000000000001" stroke="#000" stroke-width="1.3"/>
<text transform="translate(66.40,763.50) scale(0.905,1)" font-size="13.8" text-anchor="end" font-weight="normal" fill="#000" >40</text>
<line x1="70" y1="734.125" x2="73" y2="734.125" stroke="#000" stroke-width="1.3"/>
<line x1="68" y1="709.35" x2="73" y2="709.35" stroke="#000" stroke-width="1.3"/>
<text transform="translate(66.40,713.95) scale(0.905,1)" font-size="13.8" text-anchor="end" font-weight="normal" fill="#000" >50</text>
<line x1="70" y1="684.575" x2="73" y2="684.575" stroke="#000" stroke-width="1.3"/>
<line x1="68" y1="659.8" x2="73" y2="659.8" stroke="#000" stroke-width="1.3"/>
<text transform="translate(66.40,664.40) scale(0.905,1)" font-size="13.8" text-anchor="end" font-weight="normal" fill="#000" >60</text>
<text transform="translate(194.20,995.40) scale(1.012,1)" font-size="16.1" text-anchor="middle" font-weight="normal" fill="#000" >Temperature (K)</text>
<text transform="translate(37.4,817.3) rotate(-90)" font-size="16" text-anchor="middle">ρ<tspan font-size="11" dy="7">ab</tspan><tspan dy="-7"> (μΩ-cm)</tspan></text>
<text transform="translate(258.80,888.00) scale(0.93,1)" font-size="16.5" text-anchor="middle" font-weight="bold" fill="#000" >P</text>
<text transform="translate(298.80,946.20) scale(0.95,1)" font-size="17.3" text-anchor="middle" font-weight="normal" fill="#000" >(a)</text>
<line x1="376.2" y1="659.8" x2="376.2" y2="957.1" stroke="#000" stroke-width="1.25"/>
<line x1="375.55" y1="957.1" x2="620.15" y2="957.1" stroke="#000" stroke-width="1.25"/>
<line x1="376.2" y1="659.8" x2="620.15" y2="659.8" stroke="#000" stroke-width="1.25"/>
<line x1="619.5" y1="659.8" x2="619.5" y2="957.1" stroke="#000" stroke-width="1.25"/>
<line x1="393.7917249059341" y1="957.1" x2="393.7917249059341" y2="960.1" stroke="#000" stroke-width="1.3"/>
<line x1="393.7917249059341" y1="659.8" x2="393.7917249059341" y2="662.8" stroke="#000" stroke-width="1.3"/>
<line x1="427.9" y1="957.1" x2="427.9" y2="962.1" stroke="#000" stroke-width="1.3"/>
<line x1="427.9" y1="659.8" x2="427.9" y2="664.8" stroke="#000" stroke-width="1.3"/>
<text transform="translate(427.90,974.00) scale(0.905,1)" font-size="13.8" text-anchor="middle" font-weight="normal" fill="#000" >2</text>
<line x1="454.35643355119936" y1="957.1" x2="454.35643355119936" y2="960.1" stroke="#000" stroke-width="1.3"/>
<line x1="454.35643355119936" y1="659.8" x2="454.35643355119936" y2="662.8" stroke="#000" stroke-width="1.3"/>
<line x1="475.97291372220093" y1="957.1" x2="475.97291372220093" y2="962.1" stroke="#000" stroke-width="1.3"/>
<line x1="475.97291372220093" y1="659.8" x2="475.97291372220093" y2="664.8" stroke="#000" stroke-width="1.3"/>
<text transform="translate(475.97,974.00) scale(0.905,1)" font-size="13.8" text-anchor="middle" font-weight="normal" fill="#000" >3</text>
<line x1="494.24938729135835" y1="957.1" x2="494.24938729135835" y2="960.1" stroke="#000" stroke-width="1.3"/>
<line x1="494.24938729135835" y1="659.8" x2="494.24938729135835" y2="662.8" stroke="#000" stroke-width="1.3"/>
<line x1="510.08118881626683" y1="957.1" x2="510.08118881626683" y2="962.1" stroke="#000" stroke-width="1.3"/>
<line x1="510.08118881626683" y1="659.8" x2="510.08118881626683" y2="664.8" stroke="#000" stroke-width="1.3"/>
<text transform="translate(510.08,974.00) scale(0.905,1)" font-size="13.8" text-anchor="middle" font-weight="normal" fill="#000" >4</text>
<line x1="524.045827444402" y1="957.1" x2="524.045827444402" y2="960.1" stroke="#000" stroke-width="1.3"/>
<line x1="524.045827444402" y1="659.8" x2="524.045827444402" y2="662.8" stroke="#000" stroke-width="1.3"/>
<line x1="536.5376223674663" y1="957.1" x2="536.5376223674663" y2="962.1" stroke="#000" stroke-width="1.3"/>
<line x1="536.5376223674663" y1="659.8" x2="536.5376223674663" y2="664.8" stroke="#000" stroke-width="1.3"/>
<text transform="translate(536.54,974.00) scale(0.905,1)" font-size="13.8" text-anchor="middle" font-weight="normal" fill="#000" >5</text>
<line x1="547.8378254156617" y1="957.1" x2="547.8378254156617" y2="960.1" stroke="#000" stroke-width="1.3"/>
<line x1="547.8378254156617" y1="659.8" x2="547.8378254156617" y2="662.8" stroke="#000" stroke-width="1.3"/>
<line x1="558.1541025384678" y1="957.1" x2="558.1541025384678" y2="962.1" stroke="#000" stroke-width="1.3"/>
<line x1="558.1541025384678" y1="659.8" x2="558.1541025384678" y2="664.8" stroke="#000" stroke-width="1.3"/>
<text transform="translate(558.15,974.00) scale(0.905,1)" font-size="13.8" text-anchor="middle" font-weight="normal" fill="#000" >6</text>
<line x1="567.6441575472327" y1="957.1" x2="567.6441575472327" y2="960.1" stroke="#000" stroke-width="1.3"/>
<line x1="567.6441575472327" y1="659.8" x2="567.6441575472327" y2="662.8" stroke="#000" stroke-width="1.3"/>
<line x1="576.4305761076253" y1="957.1" x2="576.4305761076253" y2="962.1" stroke="#000" stroke-width="1.3"/>
<line x1="576.4305761076253" y1="659.8" x2="576.4305761076253" y2="664.8" stroke="#000" stroke-width="1.3"/>
<text transform="translate(576.43,974.00) scale(0.905,1)" font-size="13.8" text-anchor="middle" font-weight="normal" fill="#000" >7</text>
<line x1="584.6105360896672" y1="957.1" x2="584.6105360896672" y2="960.1" stroke="#000" stroke-width="1.3"/>
<line x1="584.6105360896672" y1="659.8" x2="584.6105360896672" y2="662.8" stroke="#000" stroke-width="1.3"/>
<line x1="592.2623776325337" y1="957.1" x2="592.2623776325337" y2="962.1" stroke="#000" stroke-width="1.3"/>
<line x1="592.2623776325337" y1="659.8" x2="592.2623776325337" y2="664.8" stroke="#000" stroke-width="1.3"/>
<text transform="translate(592.26,974.00) scale(0.905,1)" font-size="13.8" text-anchor="middle" font-weight="normal" fill="#000" >8</text>
<line x1="599.450177903735" y1="957.1" x2="599.450177903735" y2="960.1" stroke="#000" stroke-width="1.3"/>
<line x1="599.450177903735" y1="659.8" x2="599.450177903735" y2="662.8" stroke="#000" stroke-width="1.3"/>
<line x1="606.2270162606688" y1="957.1" x2="606.2270162606688" y2="962.1" stroke="#000" stroke-width="1.3"/>
<line x1="606.2270162606688" y1="659.8" x2="606.2270162606688" y2="664.8" stroke="#000" stroke-width="1.3"/>
<text transform="translate(606.23,974.00) scale(0.905,1)" font-size="13.8" text-anchor="middle" font-weight="normal" fill="#000" >9</text>
<line x1="612.6373554275885" y1="957.1" x2="612.6373554275885" y2="960.1" stroke="#000" stroke-width="1.3"/>
<line x1="612.6373554275885" y1="659.8" x2="612.6373554275885" y2="662.8" stroke="#000" stroke-width="1.3"/>
<line x1="618.7188111837331" y1="957.1" x2="618.7188111837331" y2="962.1" stroke="#000" stroke-width="1.3"/>
<line x1="618.7188111837331" y1="659.8" x2="618.7188111837331" y2="664.8" stroke="#000" stroke-width="1.3"/>
<text transform="translate(620.22,974.00) scale(0.905,1)" font-size="13.8" text-anchor="middle" font-weight="normal" fill="#000" >10</text>
<line x1="619.5" y1="957.1" x2="624.5" y2="957.1" stroke="#000" stroke-width="1.3"/>
<text transform="translate(627.00,960.30) scale(0.905,1)" font-size="13.8" text-anchor="start" font-weight="normal" fill="#000" >0</text>
<line x1="619.5" y1="897.625" x2="622.5" y2="897.625" stroke="#000" stroke-width="1.3"/>
<line x1="619.5" y1="838.1500000000001" x2="624.5" y2="838.1500000000001" stroke="#000" stroke-width="1.3"/>
<text transform="translate(627.00,841.35) scale(0.905,1)" font-size="13.8" text-anchor="start" font-weight="normal" fill="#000" >10</text>
<line x1="619.5" y1="778.6750000000001" x2="622.5" y2="778.6750000000001" stroke="#000" stroke-width="1.3"/>
<line x1="619.5" y1="719.2" x2="624.5" y2="719.2" stroke="#000" stroke-width="1.3"/>
<text transform="translate(627.00,722.40) scale(0.905,1)" font-size="13.8" text-anchor="start" font-weight="normal" fill="#000" >20</text>
<text transform="translate(497.70,995.40) scale(1.012,1)" font-size="16.1" text-anchor="middle" font-weight="normal" fill="#000" >Temperature (K)</text>
<text transform="translate(605.00,946.20) scale(0.95,1)" font-size="17.3" text-anchor="middle" font-weight="normal" fill="#000" >(b)</text>
<line x1="674.2" y1="659.8" x2="674.2" y2="957.1" stroke="#000" stroke-width="1.25"/>
<line x1="673.5500000000001" y1="957.1" x2="789" y2="957.1" stroke="#000" stroke-width="1.25"/>
<line x1="673.5500000000001" y1="659.8" x2="789" y2="659.8" stroke="#000" stroke-width="1.25"/>
<line x1="674.2" y1="957.1" x2="674.2" y2="962.1" stroke="#000" stroke-width="1.3"/>
<line x1="674.2" y1="659.8" x2="674.2" y2="664.8" stroke="#000" stroke-width="1.3"/>
<line x1="686.2750000000001" y1="957.1" x2="686.2750000000001" y2="960.1" stroke="#000" stroke-width="1.3"/>
<line x1="686.2750000000001" y1="659.8" x2="686.2750000000001" y2="662.8" stroke="#000" stroke-width="1.3"/>
<line x1="698.35" y1="957.1" x2="698.35" y2="962.1" stroke="#000" stroke-width="1.3"/>
<line x1="698.35" y1="659.8" x2="698.35" y2="664.8" stroke="#000" stroke-width="1.3"/>
<line x1="710.4250000000001" y1="957.1" x2="710.4250000000001" y2="960.1" stroke="#000" stroke-width="1.3"/>
<line x1="710.4250000000001" y1="659.8" x2="710.4250000000001" y2="662.8" stroke="#000" stroke-width="1.3"/>
<line x1="722.5" y1="957.1" x2="722.5" y2="962.1" stroke="#000" stroke-width="1.3"/>
<line x1="722.5" y1="659.8" x2="722.5" y2="664.8" stroke="#000" stroke-width="1.3"/>
<line x1="734.575" y1="957.1" x2="734.575" y2="960.1" stroke="#000" stroke-width="1.3"/>
<line x1="734.575" y1="659.8" x2="734.575" y2="662.8" stroke="#000" stroke-width="1.3"/>
<line x1="746.6500000000001" y1="957.1" x2="746.6500000000001" y2="962.1" stroke="#000" stroke-width="1.3"/>
<line x1="746.6500000000001" y1="659.8" x2="746.6500000000001" y2="664.8" stroke="#000" stroke-width="1.3"/>
<line x1="758.725" y1="957.1" x2="758.725" y2="960.1" stroke="#000" stroke-width="1.3"/>
<line x1="758.725" y1="659.8" x2="758.725" y2="662.8" stroke="#000" stroke-width="1.3"/>
<line x1="770.8000000000001" y1="957.1" x2="770.8000000000001" y2="962.1" stroke="#000" stroke-width="1.3"/>
<line x1="770.8000000000001" y1="659.8" x2="770.8000000000001" y2="664.8" stroke="#000" stroke-width="1.3"/>
<line x1="782.875" y1="957.1" x2="782.875" y2="960.1" stroke="#000" stroke-width="1.3"/>
<line x1="782.875" y1="659.8" x2="782.875" y2="662.8" stroke="#000" stroke-width="1.3"/>
<text transform="translate(674.20,974.00) scale(0.905,1)" font-size="13.8" text-anchor="middle" font-weight="normal" fill="#000" >0</text>
<text transform="translate(698.35,974.00) scale(0.905,1)" font-size="13.8" text-anchor="middle" font-weight="normal" fill="#000" >1</text>
<text transform="translate(722.50,974.00) scale(0.905,1)" font-size="13.8" text-anchor="middle" font-weight="normal" fill="#000" >2</text>
<text transform="translate(746.65,974.00) scale(0.905,1)" font-size="13.8" text-anchor="middle" font-weight="normal" fill="#000" >3</text>
<text transform="translate(770.80,974.00) scale(0.905,1)" font-size="13.8" text-anchor="middle" font-weight="normal" fill="#000" >4</text>
<text transform="translate(796.00,995.40) scale(1.012,1)" font-size="16.1" text-anchor="middle" font-weight="normal" fill="#000" >Temperature (K)</text>
<text transform="translate(655.3,810) rotate(-90)" font-size="16" text-anchor="middle">ρ<tspan font-size="11" dy="6.6">ab</tspan><tspan dy="-6.6"> (μΩ-cm)</tspan></text>
<text transform="translate(350.00,765.80) scale(1.0,1)" font-size="11" text-anchor="middle" font-weight="normal" fill="#000" >P(GPa)</text>
<line x1="322.1" y1="775.6" x2="348.4" y2="775.6" stroke="#000000" stroke-width="2.0"/>
<text transform="translate(359.90,779.60) scale(0.96,1)" font-size="11" text-anchor="middle" font-weight="normal" fill="#000" >0</text>
<line x1="322.1" y1="789.16" x2="348.4" y2="789.16" stroke="#ff0000" stroke-width="2.0"/>
<text transform="translate(361.20,793.16) scale(0.96,1)" font-size="11" text-anchor="middle" font-weight="normal" fill="#000" >0.67</text>
<line x1="322.1" y1="802.72" x2="348.4" y2="802.72" stroke="#00ff00" stroke-width="2.0"/>
<text transform="translate(361.20,806.72) scale(0.96,1)" font-size="11" text-anchor="middle" font-weight="normal" fill="#000" >1.54</text>
<line x1="322.1" y1="816.28" x2="348.4" y2="816.28" stroke="#0000ff" stroke-width="2.0"/>
<text transform="translate(361.20,820.28) scale(0.96,1)" font-size="11" text-anchor="middle" font-weight="normal" fill="#000" >2.19</text>
<line x1="322.1" y1="829.84" x2="348.4" y2="829.84" stroke="#00ffff" stroke-width="2.0"/>
<text transform="translate(361.20,833.84) scale(0.96,1)" font-size="11" text-anchor="middle" font-weight="normal" fill="#000" >2.47</text>
<line x1="322.1" y1="843.4" x2="348.4" y2="843.4" stroke="#ff00ff" stroke-width="2.0"/>
<text transform="translate(361.20,847.40) scale(0.96,1)" font-size="11" text-anchor="middle" font-weight="normal" fill="#000" >2.66</text>
<line x1="322.1" y1="856.96" x2="348.4" y2="856.96" stroke="#ff8000" stroke-width="2.0"/>
<text transform="translate(361.20,860.96) scale(0.96,1)" font-size="11" text-anchor="middle" font-weight="normal" fill="#000" >2.97</text>
<line x1="322.1" y1="870.52" x2="348.4" y2="870.52" stroke="#808000" stroke-width="2.0"/>
<text transform="translate(361.20,874.52) scale(0.96,1)" font-size="11" text-anchor="middle" font-weight="normal" fill="#000" >3.08</text>
<line x1="322.1" y1="884.08" x2="348.4" y2="884.08" stroke="#ff0080" stroke-width="2.0"/>
<text transform="translate(361.20,888.08) scale(0.96,1)" font-size="11" text-anchor="middle" font-weight="normal" fill="#000" >3.29</text>
<line x1="322.1" y1="897.64" x2="348.4" y2="897.64" stroke="#800080" stroke-width="2.0"/>
<text transform="translate(361.20,901.64) scale(0.96,1)" font-size="11" text-anchor="middle" font-weight="normal" fill="#000" >3.51</text>
<line x1="322.1" y1="911.2" x2="348.4" y2="911.2" stroke="#800000" stroke-width="2.0"/>
<text transform="translate(361.20,915.20) scale(0.96,1)" font-size="11" text-anchor="middle" font-weight="normal" fill="#000" >3.85</text>
<line x1="322.1" y1="924.76" x2="348.4" y2="924.76" stroke="#008000" stroke-width="2.0"/>
<text transform="translate(361.20,928.76) scale(0.96,1)" font-size="11" text-anchor="middle" font-weight="normal" fill="#000" >4.33</text>
<line x1="322.1" y1="938.32" x2="348.4" y2="938.32" stroke="#8000ff" stroke-width="2.0"/>
<text transform="translate(361.20,942.32) scale(0.96,1)" font-size="11" text-anchor="middle" font-weight="normal" fill="#000" >5.30</text>
<rect x="311.5" y="655.4" width="71.5" height="29.600000000000023" fill="#000"/>
<rect x="308.5" y="652.4" width="71.5" height="29.600000000000023" fill="#fff" stroke="#555" stroke-width="0.8"/>
<text transform="translate(344.5,671.3) scale(0.915,1)" font-size="17.3" text-anchor="middle">CePt<tspan font-size="10.0" dy="6.9">2</tspan><tspan dy="-6.9">In</tspan><tspan font-size="10.0" dy="6.9">7</tspan></text>
<rect x="689.3" y="670.2" width="63.30000000000007" height="26.0" fill="#000"/>
<rect x="686.3" y="667.2" width="63.30000000000007" height="26.0" fill="#fff" stroke="#555" stroke-width="0.8"/>
<text transform="translate(718.3,683.2) scale(0.88,1)" font-size="14.8" text-anchor="middle">CePt<tspan font-size="8.6" dy="5.9">2</tspan><tspan dy="-5.9">In</tspan><tspan font-size="8.6" dy="5.9">7</tspan></text>
</svg>
</body></html>
